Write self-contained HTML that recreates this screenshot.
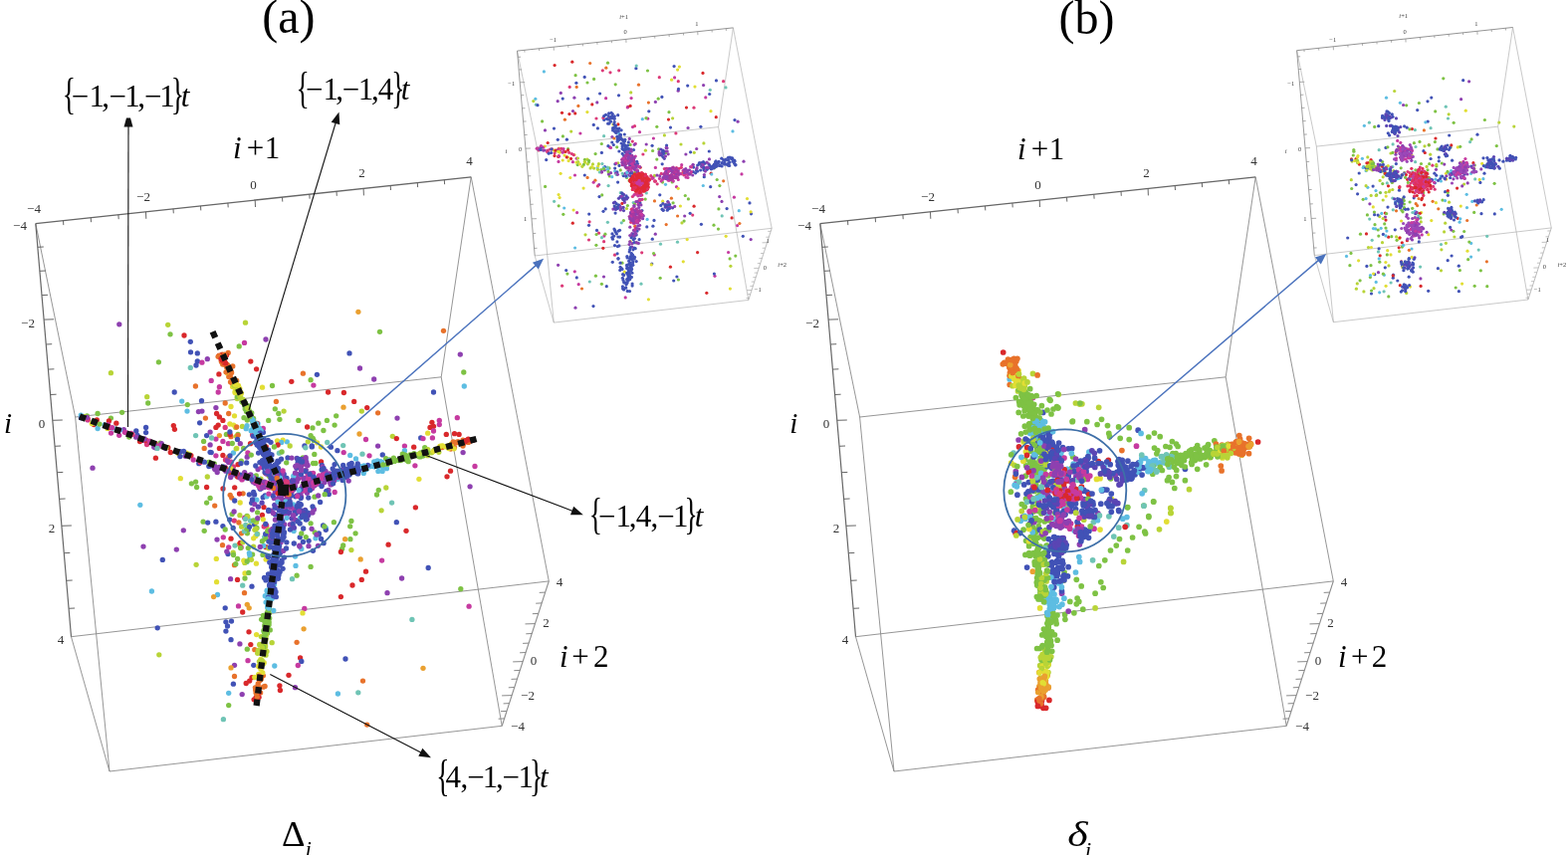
<!DOCTYPE html>
<html><head><meta charset="utf-8"><title>Figure</title>
<style>html,body{margin:0;padding:0;background:#fff;overflow:hidden}svg{display:block}</style>
</head><body>
<svg width="1575" height="859" viewBox="0 0 1575 859">
<rect width="1575" height="859" fill="#fff"/>
<line x1="35.8" y1="224.6" x2="75.6" y2="419" stroke="#8a8a8a" stroke-width="0.9"/>
<line x1="473.2" y1="177.8" x2="443.2" y2="378.8" stroke="#8a8a8a" stroke-width="0.9"/>
<line x1="473.2" y1="177.8" x2="551.3" y2="583.9" stroke="#8a8a8a" stroke-width="0.9"/>
<line x1="71.5" y1="639.7" x2="110" y2="775" stroke="#8a8a8a" stroke-width="0.9"/>
<line x1="71.5" y1="639.7" x2="551.3" y2="583.9" stroke="#8a8a8a" stroke-width="0.9"/>
<line x1="110" y1="775" x2="75.6" y2="419" stroke="#8a8a8a" stroke-width="0.9"/>
<line x1="110" y1="775" x2="504.2" y2="729.3" stroke="#8a8a8a" stroke-width="0.9"/>
<line x1="443.2" y1="378.8" x2="75.6" y2="419" stroke="#8a8a8a" stroke-width="0.9"/>
<line x1="443.2" y1="378.8" x2="504.2" y2="729.3" stroke="#8a8a8a" stroke-width="0.9"/>
<line x1="35.8" y1="224.6" x2="473.2" y2="177.8" stroke="#666" stroke-width="1.3"/>
<line x1="35.8" y1="224.6" x2="71.5" y2="639.7" stroke="#666" stroke-width="1.2"/>
<line x1="551.3" y1="583.9" x2="504.2" y2="729.3" stroke="#8a8a8a" stroke-width="1.1"/>
<line x1="63.5" y1="221.6" x2="63.8" y2="226.1" stroke="#666" stroke-width="1.0"/>
<line x1="91.2" y1="218.7" x2="91.5" y2="223.2" stroke="#666" stroke-width="1.0"/>
<line x1="118.9" y1="215.7" x2="119.2" y2="220.2" stroke="#666" stroke-width="1.0"/>
<line x1="146.5" y1="212.8" x2="146.8" y2="219.8" stroke="#666" stroke-width="1.0"/>
<line x1="174" y1="209.8" x2="174.3" y2="214.3" stroke="#666" stroke-width="1.0"/>
<line x1="201.5" y1="206.9" x2="201.8" y2="211.4" stroke="#666" stroke-width="1.0"/>
<line x1="228.9" y1="203.9" x2="229.2" y2="208.4" stroke="#666" stroke-width="1.0"/>
<line x1="256.2" y1="201" x2="256.5" y2="208" stroke="#666" stroke-width="1.0"/>
<line x1="283.5" y1="198.1" x2="283.8" y2="202.6" stroke="#666" stroke-width="1.0"/>
<line x1="310.8" y1="195.2" x2="311.1" y2="199.7" stroke="#666" stroke-width="1.0"/>
<line x1="338" y1="192.3" x2="338.3" y2="196.8" stroke="#666" stroke-width="1.0"/>
<line x1="365.1" y1="189.4" x2="365.4" y2="196.4" stroke="#666" stroke-width="1.0"/>
<line x1="392.2" y1="186.5" x2="392.5" y2="191" stroke="#666" stroke-width="1.0"/>
<line x1="419.3" y1="183.6" x2="419.6" y2="188.1" stroke="#666" stroke-width="1.0"/>
<line x1="446.3" y1="180.7" x2="446.6" y2="185.2" stroke="#666" stroke-width="1.0"/>
<line x1="37.8" y1="248.3" x2="43.8" y2="248" stroke="#666" stroke-width="1.0"/>
<line x1="39.9" y1="272.3" x2="45.9" y2="272" stroke="#666" stroke-width="1.0"/>
<line x1="42" y1="296.6" x2="48" y2="296.3" stroke="#666" stroke-width="1.0"/>
<line x1="44.1" y1="321.1" x2="54.1" y2="320.8" stroke="#666" stroke-width="1.0"/>
<line x1="46.2" y1="346" x2="52.2" y2="345.7" stroke="#666" stroke-width="1.0"/>
<line x1="48.4" y1="371.1" x2="54.4" y2="370.8" stroke="#666" stroke-width="1.0"/>
<line x1="50.6" y1="396.5" x2="56.6" y2="396.2" stroke="#666" stroke-width="1.0"/>
<line x1="52.8" y1="422.3" x2="62.8" y2="422" stroke="#666" stroke-width="1.0"/>
<line x1="55" y1="448.3" x2="61" y2="448" stroke="#666" stroke-width="1.0"/>
<line x1="57.3" y1="474.7" x2="63.3" y2="474.4" stroke="#666" stroke-width="1.0"/>
<line x1="59.6" y1="501.3" x2="65.6" y2="501" stroke="#666" stroke-width="1.0"/>
<line x1="61.9" y1="528.3" x2="71.9" y2="528" stroke="#666" stroke-width="1.0"/>
<line x1="64.3" y1="555.7" x2="70.3" y2="555.4" stroke="#666" stroke-width="1.0"/>
<line x1="66.7" y1="583.3" x2="72.7" y2="583" stroke="#666" stroke-width="1.0"/>
<line x1="69.1" y1="611.3" x2="75.1" y2="611" stroke="#666" stroke-width="1.0"/>
<line x1="506.6" y1="721.9" x2="500.6" y2="722.2" stroke="#8a8a8a" stroke-width="1.0"/>
<line x1="509" y1="714.4" x2="503" y2="714.7" stroke="#8a8a8a" stroke-width="1.0"/>
<line x1="511.6" y1="706.6" x2="505.6" y2="706.9" stroke="#8a8a8a" stroke-width="1.0"/>
<line x1="514.1" y1="698.6" x2="504.1" y2="698.9" stroke="#8a8a8a" stroke-width="1.0"/>
<line x1="516.8" y1="690.5" x2="510.8" y2="690.8" stroke="#8a8a8a" stroke-width="1.0"/>
<line x1="519.5" y1="682.1" x2="513.5" y2="682.4" stroke="#8a8a8a" stroke-width="1.0"/>
<line x1="522.3" y1="673.4" x2="516.3" y2="673.7" stroke="#8a8a8a" stroke-width="1.0"/>
<line x1="525.2" y1="664.6" x2="515.2" y2="664.9" stroke="#8a8a8a" stroke-width="1.0"/>
<line x1="528.1" y1="655.5" x2="522.1" y2="655.8" stroke="#8a8a8a" stroke-width="1.0"/>
<line x1="531.1" y1="646.1" x2="525.1" y2="646.4" stroke="#8a8a8a" stroke-width="1.0"/>
<line x1="534.3" y1="636.5" x2="528.3" y2="636.8" stroke="#8a8a8a" stroke-width="1.0"/>
<line x1="537.5" y1="626.6" x2="527.5" y2="626.9" stroke="#8a8a8a" stroke-width="1.0"/>
<line x1="540.8" y1="616.4" x2="534.8" y2="616.7" stroke="#8a8a8a" stroke-width="1.0"/>
<line x1="544.2" y1="605.9" x2="538.2" y2="606.2" stroke="#8a8a8a" stroke-width="1.0"/>
<line x1="547.7" y1="595.1" x2="541.7" y2="595.4" stroke="#8a8a8a" stroke-width="1.0"/>
<line x1="823.8" y1="224.6" x2="863.6" y2="419" stroke="#8a8a8a" stroke-width="0.9"/>
<line x1="1261.2" y1="177.8" x2="1231.2" y2="378.8" stroke="#8a8a8a" stroke-width="0.9"/>
<line x1="1261.2" y1="177.8" x2="1339.3" y2="583.9" stroke="#8a8a8a" stroke-width="0.9"/>
<line x1="859.5" y1="639.7" x2="898" y2="775" stroke="#8a8a8a" stroke-width="0.9"/>
<line x1="859.5" y1="639.7" x2="1339.3" y2="583.9" stroke="#8a8a8a" stroke-width="0.9"/>
<line x1="898" y1="775" x2="863.6" y2="419" stroke="#8a8a8a" stroke-width="0.9"/>
<line x1="898" y1="775" x2="1292.2" y2="729.3" stroke="#8a8a8a" stroke-width="0.9"/>
<line x1="1231.2" y1="378.8" x2="863.6" y2="419" stroke="#8a8a8a" stroke-width="0.9"/>
<line x1="1231.2" y1="378.8" x2="1292.2" y2="729.3" stroke="#8a8a8a" stroke-width="0.9"/>
<line x1="823.8" y1="224.6" x2="1261.2" y2="177.8" stroke="#666" stroke-width="1.3"/>
<line x1="823.8" y1="224.6" x2="859.5" y2="639.7" stroke="#666" stroke-width="1.2"/>
<line x1="1339.3" y1="583.9" x2="1292.2" y2="729.3" stroke="#8a8a8a" stroke-width="1.1"/>
<line x1="851.5" y1="221.6" x2="851.8" y2="226.1" stroke="#666" stroke-width="1.0"/>
<line x1="879.2" y1="218.7" x2="879.5" y2="223.2" stroke="#666" stroke-width="1.0"/>
<line x1="906.9" y1="215.7" x2="907.2" y2="220.2" stroke="#666" stroke-width="1.0"/>
<line x1="934.5" y1="212.8" x2="934.8" y2="219.8" stroke="#666" stroke-width="1.0"/>
<line x1="962" y1="209.8" x2="962.3" y2="214.3" stroke="#666" stroke-width="1.0"/>
<line x1="989.5" y1="206.9" x2="989.8" y2="211.4" stroke="#666" stroke-width="1.0"/>
<line x1="1016.9" y1="203.9" x2="1017.2" y2="208.4" stroke="#666" stroke-width="1.0"/>
<line x1="1044.2" y1="201" x2="1044.5" y2="208" stroke="#666" stroke-width="1.0"/>
<line x1="1071.5" y1="198.1" x2="1071.8" y2="202.6" stroke="#666" stroke-width="1.0"/>
<line x1="1098.8" y1="195.2" x2="1099.1" y2="199.7" stroke="#666" stroke-width="1.0"/>
<line x1="1126" y1="192.3" x2="1126.3" y2="196.8" stroke="#666" stroke-width="1.0"/>
<line x1="1153.1" y1="189.4" x2="1153.4" y2="196.4" stroke="#666" stroke-width="1.0"/>
<line x1="1180.2" y1="186.5" x2="1180.5" y2="191" stroke="#666" stroke-width="1.0"/>
<line x1="1207.3" y1="183.6" x2="1207.6" y2="188.1" stroke="#666" stroke-width="1.0"/>
<line x1="1234.3" y1="180.7" x2="1234.6" y2="185.2" stroke="#666" stroke-width="1.0"/>
<line x1="825.8" y1="248.3" x2="831.8" y2="248" stroke="#666" stroke-width="1.0"/>
<line x1="827.9" y1="272.3" x2="833.9" y2="272" stroke="#666" stroke-width="1.0"/>
<line x1="830" y1="296.6" x2="836" y2="296.3" stroke="#666" stroke-width="1.0"/>
<line x1="832.1" y1="321.1" x2="842.1" y2="320.8" stroke="#666" stroke-width="1.0"/>
<line x1="834.2" y1="346" x2="840.2" y2="345.7" stroke="#666" stroke-width="1.0"/>
<line x1="836.4" y1="371.1" x2="842.4" y2="370.8" stroke="#666" stroke-width="1.0"/>
<line x1="838.6" y1="396.5" x2="844.6" y2="396.2" stroke="#666" stroke-width="1.0"/>
<line x1="840.8" y1="422.3" x2="850.8" y2="422" stroke="#666" stroke-width="1.0"/>
<line x1="843" y1="448.3" x2="849" y2="448" stroke="#666" stroke-width="1.0"/>
<line x1="845.3" y1="474.7" x2="851.3" y2="474.4" stroke="#666" stroke-width="1.0"/>
<line x1="847.6" y1="501.3" x2="853.6" y2="501" stroke="#666" stroke-width="1.0"/>
<line x1="849.9" y1="528.3" x2="859.9" y2="528" stroke="#666" stroke-width="1.0"/>
<line x1="852.3" y1="555.7" x2="858.3" y2="555.4" stroke="#666" stroke-width="1.0"/>
<line x1="854.7" y1="583.3" x2="860.7" y2="583" stroke="#666" stroke-width="1.0"/>
<line x1="857.1" y1="611.3" x2="863.1" y2="611" stroke="#666" stroke-width="1.0"/>
<line x1="1294.6" y1="721.9" x2="1288.6" y2="722.2" stroke="#8a8a8a" stroke-width="1.0"/>
<line x1="1297" y1="714.4" x2="1291" y2="714.7" stroke="#8a8a8a" stroke-width="1.0"/>
<line x1="1299.6" y1="706.6" x2="1293.6" y2="706.9" stroke="#8a8a8a" stroke-width="1.0"/>
<line x1="1302.1" y1="698.6" x2="1292.1" y2="698.9" stroke="#8a8a8a" stroke-width="1.0"/>
<line x1="1304.8" y1="690.5" x2="1298.8" y2="690.8" stroke="#8a8a8a" stroke-width="1.0"/>
<line x1="1307.5" y1="682.1" x2="1301.5" y2="682.4" stroke="#8a8a8a" stroke-width="1.0"/>
<line x1="1310.3" y1="673.4" x2="1304.3" y2="673.7" stroke="#8a8a8a" stroke-width="1.0"/>
<line x1="1313.2" y1="664.6" x2="1303.2" y2="664.9" stroke="#8a8a8a" stroke-width="1.0"/>
<line x1="1316.1" y1="655.5" x2="1310.1" y2="655.8" stroke="#8a8a8a" stroke-width="1.0"/>
<line x1="1319.1" y1="646.1" x2="1313.1" y2="646.4" stroke="#8a8a8a" stroke-width="1.0"/>
<line x1="1322.3" y1="636.5" x2="1316.3" y2="636.8" stroke="#8a8a8a" stroke-width="1.0"/>
<line x1="1325.5" y1="626.6" x2="1315.5" y2="626.9" stroke="#8a8a8a" stroke-width="1.0"/>
<line x1="1328.8" y1="616.4" x2="1322.8" y2="616.7" stroke="#8a8a8a" stroke-width="1.0"/>
<line x1="1332.2" y1="605.9" x2="1326.2" y2="606.2" stroke="#8a8a8a" stroke-width="1.0"/>
<line x1="1335.7" y1="595.1" x2="1329.7" y2="595.4" stroke="#8a8a8a" stroke-width="1.0"/>
<text x="34" y="214" font-size="13" text-anchor="middle" fill="#333" font-family="Liberation Serif, serif">&#8722;4</text>
<text x="144" y="202" font-size="13" text-anchor="middle" fill="#333" font-family="Liberation Serif, serif">&#8722;2</text>
<text x="254.5" y="190" font-size="13" text-anchor="middle" fill="#333" font-family="Liberation Serif, serif">0</text>
<text x="363.5" y="178" font-size="13" text-anchor="middle" fill="#333" font-family="Liberation Serif, serif">2</text>
<text x="471.5" y="166" font-size="13" text-anchor="middle" fill="#333" font-family="Liberation Serif, serif">4</text>
<text x="20" y="231" font-size="13" text-anchor="middle" fill="#333" font-family="Liberation Serif, serif">&#8722;4</text>
<text x="28" y="328.5" font-size="13" text-anchor="middle" fill="#333" font-family="Liberation Serif, serif">&#8722;2</text>
<text x="42" y="429.5" font-size="13" text-anchor="middle" fill="#333" font-family="Liberation Serif, serif">0</text>
<text x="52" y="535" font-size="13" text-anchor="middle" fill="#333" font-family="Liberation Serif, serif">2</text>
<text x="61" y="647" font-size="13" text-anchor="middle" fill="#333" font-family="Liberation Serif, serif">4</text>
<text x="562" y="588.5" font-size="13" text-anchor="middle" fill="#333" font-family="Liberation Serif, serif">4</text>
<text x="548.5" y="630" font-size="13" text-anchor="middle" fill="#333" font-family="Liberation Serif, serif">2</text>
<text x="536" y="667.5" font-size="13" text-anchor="middle" fill="#333" font-family="Liberation Serif, serif">0</text>
<text x="530" y="703" font-size="13" text-anchor="middle" fill="#333" font-family="Liberation Serif, serif">&#8722;2</text>
<text x="520" y="733.5" font-size="13" text-anchor="middle" fill="#333" font-family="Liberation Serif, serif">&#8722;4</text>
<text x="822" y="214" font-size="13" text-anchor="middle" fill="#333" font-family="Liberation Serif, serif">&#8722;4</text>
<text x="932" y="202" font-size="13" text-anchor="middle" fill="#333" font-family="Liberation Serif, serif">&#8722;2</text>
<text x="1042.5" y="190" font-size="13" text-anchor="middle" fill="#333" font-family="Liberation Serif, serif">0</text>
<text x="1151.5" y="178" font-size="13" text-anchor="middle" fill="#333" font-family="Liberation Serif, serif">2</text>
<text x="1259.5" y="166" font-size="13" text-anchor="middle" fill="#333" font-family="Liberation Serif, serif">4</text>
<text x="808" y="231" font-size="13" text-anchor="middle" fill="#333" font-family="Liberation Serif, serif">&#8722;4</text>
<text x="816" y="328.5" font-size="13" text-anchor="middle" fill="#333" font-family="Liberation Serif, serif">&#8722;2</text>
<text x="830" y="429.5" font-size="13" text-anchor="middle" fill="#333" font-family="Liberation Serif, serif">0</text>
<text x="840" y="535" font-size="13" text-anchor="middle" fill="#333" font-family="Liberation Serif, serif">2</text>
<text x="849" y="647" font-size="13" text-anchor="middle" fill="#333" font-family="Liberation Serif, serif">4</text>
<text x="1350" y="588.5" font-size="13" text-anchor="middle" fill="#333" font-family="Liberation Serif, serif">4</text>
<text x="1336.5" y="630" font-size="13" text-anchor="middle" fill="#333" font-family="Liberation Serif, serif">2</text>
<text x="1324" y="667.5" font-size="13" text-anchor="middle" fill="#333" font-family="Liberation Serif, serif">0</text>
<text x="1318" y="703" font-size="13" text-anchor="middle" fill="#333" font-family="Liberation Serif, serif">&#8722;2</text>
<text x="1308" y="733.5" font-size="13" text-anchor="middle" fill="#333" font-family="Liberation Serif, serif">&#8722;4</text>
<circle cx="119.8" cy="325.8" r="2.65" fill="#8e40b0"/>
<circle cx="168.7" cy="326.3" r="2.65" fill="#b8d437"/>
<circle cx="171" cy="335.8" r="2.65" fill="#7ec244"/>
<circle cx="185" cy="337" r="2.65" fill="#d9282b"/>
<circle cx="191.3" cy="343.3" r="2.65" fill="#4152b6"/>
<circle cx="191.5" cy="353.8" r="2.65" fill="#4152b6"/>
<circle cx="198.3" cy="354.9" r="2.65" fill="#4152b6"/>
<circle cx="208.3" cy="360.7" r="2.65" fill="#8e40b0"/>
<circle cx="198.3" cy="363" r="2.65" fill="#4152b6"/>
<circle cx="202.9" cy="364.2" r="2.65" fill="#c63aa0"/>
<circle cx="197" cy="367" r="2.65" fill="#4152b6"/>
<circle cx="191.3" cy="369.4" r="2.65" fill="#6fc4b5"/>
<circle cx="159.4" cy="363.8" r="2.65" fill="#7ec244"/>
<circle cx="111.4" cy="374.7" r="2.65" fill="#b8d437"/>
<circle cx="246.5" cy="324.2" r="2.65" fill="#b8d437"/>
<circle cx="245.5" cy="344.4" r="2.65" fill="#c63aa0"/>
<circle cx="240.2" cy="347.9" r="2.65" fill="#7ec244"/>
<circle cx="267" cy="341" r="2.65" fill="#8e40b0"/>
<circle cx="251.8" cy="363.1" r="2.65" fill="#d9282b"/>
<circle cx="257.6" cy="370.8" r="2.65" fill="#d9282b"/>
<circle cx="196.4" cy="388" r="2.65" fill="#e8722b"/>
<circle cx="175.2" cy="394" r="2.65" fill="#4152b6"/>
<circle cx="263.5" cy="389.2" r="2.65" fill="#e2de34"/>
<circle cx="273.5" cy="387.5" r="2.65" fill="#7ec244"/>
<circle cx="147.7" cy="398.7" r="2.65" fill="#b8d437"/>
<circle cx="148.7" cy="405" r="2.65" fill="#7ec244"/>
<circle cx="182.7" cy="403.1" r="2.65" fill="#5dbde2"/>
<circle cx="202.5" cy="402.7" r="2.65" fill="#4152b6"/>
<circle cx="188.3" cy="406.6" r="2.65" fill="#7ec244"/>
<circle cx="188" cy="413.1" r="2.65" fill="#5dbde2"/>
<circle cx="199.4" cy="413.6" r="2.65" fill="#8e40b0"/>
<circle cx="202.9" cy="413.1" r="2.65" fill="#8e40b0"/>
<circle cx="206.4" cy="420.1" r="2.65" fill="#e8722b"/>
<circle cx="200.6" cy="424.8" r="2.65" fill="#4152b6"/>
<circle cx="174.3" cy="427.6" r="2.65" fill="#d9282b"/>
<circle cx="175.4" cy="431.3" r="2.65" fill="#d9282b"/>
<circle cx="98.1" cy="415.5" r="2.65" fill="#7ec244"/>
<circle cx="111.4" cy="420.1" r="2.65" fill="#7ec244"/>
<circle cx="122.6" cy="414.3" r="2.65" fill="#7ec244"/>
<circle cx="116.8" cy="425.2" r="2.65" fill="#d9282b"/>
<circle cx="146.6" cy="429.4" r="2.65" fill="#4152b6"/>
<circle cx="146.6" cy="434.6" r="2.65" fill="#4152b6"/>
<circle cx="196.6" cy="437.6" r="2.65" fill="#6fc4b5"/>
<circle cx="207.6" cy="437.6" r="2.65" fill="#4152b6"/>
<circle cx="204.6" cy="443.4" r="2.65" fill="#7ec244"/>
<circle cx="205.2" cy="450.4" r="2.65" fill="#e8722b"/>
<circle cx="211.1" cy="454.3" r="2.65" fill="#4152b6"/>
<circle cx="156.4" cy="460.2" r="2.65" fill="#d9282b"/>
<circle cx="93" cy="470.2" r="2.65" fill="#8e40b0"/>
<circle cx="181.3" cy="480.7" r="2.65" fill="#e2de34"/>
<circle cx="192.4" cy="485.8" r="2.65" fill="#7ec244"/>
<circle cx="196.6" cy="484.1" r="2.65" fill="#7ec244"/>
<circle cx="197.6" cy="489.5" r="2.65" fill="#7ec244"/>
<circle cx="208.3" cy="479" r="2.65" fill="#b8d437"/>
<circle cx="207.6" cy="489.5" r="2.65" fill="#d9282b"/>
<circle cx="211.1" cy="500.4" r="2.65" fill="#7ec244"/>
<circle cx="207.6" cy="505.1" r="2.65" fill="#7ec244"/>
<circle cx="215.7" cy="508.1" r="2.65" fill="#e8722b"/>
<circle cx="140.8" cy="507.4" r="2.65" fill="#5dbde2"/>
<circle cx="277.4" cy="403.4" r="2.65" fill="#e8722b"/>
<circle cx="276.3" cy="410.8" r="2.65" fill="#7ec244"/>
<circle cx="279.8" cy="415.5" r="2.65" fill="#7ec244"/>
<circle cx="285.1" cy="413.1" r="2.65" fill="#b8d437"/>
<circle cx="269.7" cy="422.4" r="2.65" fill="#7ec244"/>
<circle cx="280.9" cy="421.3" r="2.65" fill="#7ec244"/>
<circle cx="212.2" cy="382.4" r="2.65" fill="#c63aa0"/>
<circle cx="219.9" cy="375.9" r="2.65" fill="#d9282b"/>
<circle cx="220.4" cy="388.7" r="2.65" fill="#c63aa0"/>
<circle cx="219.2" cy="394" r="2.65" fill="#c63aa0"/>
<circle cx="216.9" cy="409.6" r="2.65" fill="#8e40b0"/>
<circle cx="217.6" cy="415.5" r="2.65" fill="#d9282b"/>
<circle cx="220.4" cy="418.9" r="2.65" fill="#d9282b"/>
<circle cx="223.9" cy="422.4" r="2.65" fill="#d9282b"/>
<circle cx="219.2" cy="427.1" r="2.65" fill="#d9282b"/>
<circle cx="216.9" cy="429.4" r="2.65" fill="#d9282b"/>
<circle cx="226.2" cy="429.4" r="2.65" fill="#dc3a78"/>
<circle cx="211.1" cy="434.1" r="2.65" fill="#8e40b0"/>
<circle cx="220.4" cy="437.6" r="2.65" fill="#eaa030"/>
<circle cx="216.9" cy="441.1" r="2.65" fill="#c63aa0"/>
<circle cx="223.9" cy="443.4" r="2.65" fill="#c63aa0"/>
<circle cx="212.6" cy="440" r="2.65" fill="#6fc4b5"/>
<circle cx="211.1" cy="446.9" r="2.65" fill="#8e40b0"/>
<circle cx="220.4" cy="450.4" r="2.65" fill="#d9282b"/>
<circle cx="212.2" cy="454.6" r="2.65" fill="#4152b6"/>
<circle cx="216.9" cy="457.8" r="2.65" fill="#c63aa0"/>
<circle cx="223.9" cy="457.4" r="2.65" fill="#d9282b"/>
<circle cx="229.7" cy="459.2" r="2.65" fill="#e8722b"/>
<circle cx="226.5" cy="462" r="2.65" fill="#dc3a78"/>
<circle cx="229.7" cy="464.4" r="2.65" fill="#8e40b0"/>
<circle cx="234.4" cy="469" r="2.65" fill="#dc3a78"/>
<circle cx="239" cy="466.7" r="2.65" fill="#d9282b"/>
<circle cx="226.2" cy="405" r="2.65" fill="#e8722b"/>
<circle cx="232" cy="408.5" r="2.65" fill="#e2de34"/>
<circle cx="229.7" cy="415.5" r="2.65" fill="#e8722b"/>
<circle cx="235.5" cy="417.8" r="2.65" fill="#e2de34"/>
<circle cx="230.9" cy="426" r="2.65" fill="#e2de34"/>
<circle cx="227.4" cy="436.4" r="2.65" fill="#7ec244"/>
<circle cx="232" cy="438.7" r="2.65" fill="#e8722b"/>
<circle cx="236.7" cy="429.4" r="2.65" fill="#b8d437"/>
<circle cx="239" cy="436.4" r="2.65" fill="#7ec244"/>
<circle cx="241.3" cy="445.7" r="2.65" fill="#8e40b0"/>
<circle cx="237.8" cy="450.4" r="2.65" fill="#e2de34"/>
<circle cx="234.4" cy="455" r="2.65" fill="#5dbde2"/>
<circle cx="381.5" cy="333.3" r="2.65" fill="#7ec244"/>
<circle cx="445.5" cy="332.3" r="2.65" fill="#e8722b"/>
<circle cx="351" cy="354.9" r="2.65" fill="#4152b6"/>
<circle cx="462.3" cy="356.1" r="2.65" fill="#8e40b0"/>
<circle cx="361.5" cy="370" r="2.65" fill="#8e40b0"/>
<circle cx="465.8" cy="374" r="2.65" fill="#7ec244"/>
<circle cx="304.4" cy="375.2" r="2.65" fill="#e8722b"/>
<circle cx="318.4" cy="376.3" r="2.65" fill="#4152b6"/>
<circle cx="312.1" cy="381.7" r="2.65" fill="#7ec244"/>
<circle cx="292.8" cy="383.3" r="2.65" fill="#d9282b"/>
<circle cx="314.9" cy="387.1" r="2.65" fill="#c63aa0"/>
<circle cx="375.7" cy="381" r="2.65" fill="#8e40b0"/>
<circle cx="466.3" cy="388" r="2.65" fill="#5dbde2"/>
<circle cx="435.5" cy="394" r="2.65" fill="#4152b6"/>
<circle cx="329.6" cy="394" r="2.65" fill="#d9282b"/>
<circle cx="345.4" cy="394.5" r="2.65" fill="#d9282b"/>
<circle cx="355.7" cy="403.4" r="2.65" fill="#d9282b"/>
<circle cx="345" cy="409.2" r="2.65" fill="#eaa030"/>
<circle cx="368.7" cy="409.6" r="2.65" fill="#d9282b"/>
<circle cx="363.3" cy="413.1" r="2.65" fill="#b8d437"/>
<circle cx="379.6" cy="414.8" r="2.65" fill="#e8722b"/>
<circle cx="399" cy="420.1" r="2.65" fill="#8e40b0"/>
<circle cx="459.3" cy="419.7" r="2.65" fill="#c63aa0"/>
<circle cx="337.7" cy="417.8" r="2.65" fill="#7ec244"/>
<circle cx="299.8" cy="422.4" r="2.65" fill="#7ec244"/>
<circle cx="328.4" cy="422.4" r="2.65" fill="#7ec244"/>
<circle cx="319.8" cy="425.2" r="2.65" fill="#7ec244"/>
<circle cx="336.1" cy="427.1" r="2.65" fill="#7ec244"/>
<circle cx="308.6" cy="429" r="2.65" fill="#d9282b"/>
<circle cx="314" cy="429.9" r="2.65" fill="#7ec244"/>
<circle cx="324.9" cy="432.5" r="2.65" fill="#7ec244"/>
<circle cx="433.9" cy="424.3" r="2.65" fill="#d9282b"/>
<circle cx="435.5" cy="428.3" r="2.65" fill="#d9282b"/>
<circle cx="432" cy="429.4" r="2.65" fill="#d9282b"/>
<circle cx="441.3" cy="422.4" r="2.65" fill="#c63aa0"/>
<circle cx="441.3" cy="426.6" r="2.65" fill="#c63aa0"/>
<circle cx="429.7" cy="435.2" r="2.65" fill="#e2de34"/>
<circle cx="435.5" cy="433" r="2.65" fill="#c63aa0"/>
<circle cx="361" cy="436" r="2.65" fill="#eaa030"/>
<circle cx="312.1" cy="437.6" r="2.65" fill="#7ec244"/>
<circle cx="367.5" cy="441.5" r="2.65" fill="#c63aa0"/>
<circle cx="394.3" cy="438.3" r="2.65" fill="#b8d437"/>
<circle cx="398.3" cy="440.6" r="2.65" fill="#d9282b"/>
<circle cx="422.7" cy="439.9" r="2.65" fill="#4152b6"/>
<circle cx="425" cy="440.6" r="2.65" fill="#c63aa0"/>
<circle cx="448.3" cy="436.4" r="2.65" fill="#d9282b"/>
<circle cx="456.5" cy="435.7" r="2.65" fill="#d9282b"/>
<circle cx="461.1" cy="436.4" r="2.65" fill="#d9282b"/>
<circle cx="434.4" cy="439.9" r="2.65" fill="#c63aa0"/>
<circle cx="344.7" cy="447.6" r="2.65" fill="#6fc4b5"/>
<circle cx="379.6" cy="448.1" r="2.65" fill="#8e40b0"/>
<circle cx="406.4" cy="448.1" r="2.65" fill="#c63aa0"/>
<circle cx="415.7" cy="449.2" r="2.65" fill="#d9282b"/>
<circle cx="332.4" cy="449.2" r="2.65" fill="#4152b6"/>
<circle cx="338.9" cy="452.7" r="2.65" fill="#4152b6"/>
<circle cx="345.2" cy="454.6" r="2.65" fill="#c63aa0"/>
<circle cx="351.7" cy="457.4" r="2.65" fill="#5dbde2"/>
<circle cx="357.5" cy="460.9" r="2.65" fill="#5dbde2"/>
<circle cx="364" cy="456.2" r="2.65" fill="#6fc4b5"/>
<circle cx="371" cy="457.8" r="2.65" fill="#c63aa0"/>
<circle cx="384.3" cy="456.9" r="2.65" fill="#4152b6"/>
<circle cx="406.4" cy="452.7" r="2.65" fill="#5dbde2"/>
<circle cx="465.1" cy="454.6" r="2.65" fill="#8e40b0"/>
<circle cx="477" cy="468.5" r="2.65" fill="#c63aa0"/>
<circle cx="416.9" cy="467.8" r="2.65" fill="#c63aa0"/>
<circle cx="452.5" cy="473.2" r="2.65" fill="#d9282b"/>
<circle cx="449" cy="478.8" r="2.65" fill="#d9282b"/>
<circle cx="420.9" cy="481.3" r="2.65" fill="#e2de34"/>
<circle cx="472.1" cy="488.8" r="2.65" fill="#8e40b0"/>
<circle cx="387.8" cy="490" r="2.65" fill="#b8d437"/>
<circle cx="380.3" cy="492.3" r="2.65" fill="#7ec244"/>
<circle cx="378.5" cy="497" r="2.65" fill="#7ec244"/>
<circle cx="393.6" cy="505.1" r="2.65" fill="#6fc4b5"/>
<circle cx="383.1" cy="512.8" r="2.65" fill="#b8d437"/>
<circle cx="417.4" cy="509.8" r="2.65" fill="#d9282b"/>
<circle cx="359.9" cy="313.3" r="2.65" fill="#eaa030"/>
<circle cx="184.3" cy="532.8" r="2.65" fill="#8e40b0"/>
<circle cx="144" cy="549.1" r="2.65" fill="#8e40b0"/>
<circle cx="177.3" cy="552.1" r="2.65" fill="#8e40b0"/>
<circle cx="163.3" cy="562.4" r="2.65" fill="#4152b6"/>
<circle cx="197.1" cy="567.3" r="2.65" fill="#b8d437"/>
<circle cx="152.4" cy="594" r="2.65" fill="#5dbde2"/>
<circle cx="158.2" cy="630.8" r="2.65" fill="#4152b6"/>
<circle cx="159.8" cy="657.8" r="2.65" fill="#b8d437"/>
<circle cx="204.1" cy="524.2" r="2.65" fill="#7ec244"/>
<circle cx="208.7" cy="525.1" r="2.65" fill="#4152b6"/>
<circle cx="216.9" cy="524.2" r="2.65" fill="#4152b6"/>
<circle cx="205.2" cy="533.3" r="2.65" fill="#7ec244"/>
<circle cx="218" cy="542.1" r="2.65" fill="#8e40b0"/>
<circle cx="224.3" cy="539.8" r="2.65" fill="#c63aa0"/>
<circle cx="229.7" cy="549.8" r="2.65" fill="#c63aa0"/>
<circle cx="229" cy="556.6" r="2.65" fill="#4152b6"/>
<circle cx="235.5" cy="567.7" r="2.65" fill="#e8722b"/>
<circle cx="240.2" cy="546.8" r="2.65" fill="#eaa030"/>
<circle cx="242.5" cy="535.8" r="2.65" fill="#e8722b"/>
<circle cx="217.6" cy="584.7" r="2.65" fill="#e2de34"/>
<circle cx="218.5" cy="597.5" r="2.65" fill="#5dbde2"/>
<circle cx="214.6" cy="599.6" r="2.65" fill="#eaa030"/>
<circle cx="231.6" cy="581.7" r="2.65" fill="#8e40b0"/>
<circle cx="238.5" cy="582.4" r="2.65" fill="#d9282b"/>
<circle cx="246" cy="581" r="2.65" fill="#7ec244"/>
<circle cx="243.7" cy="588.2" r="2.65" fill="#6fc4b5"/>
<circle cx="253" cy="589.2" r="2.65" fill="#4152b6"/>
<circle cx="245.5" cy="595.7" r="2.65" fill="#e8722b"/>
<circle cx="226.2" cy="610.8" r="2.65" fill="#4152b6"/>
<circle cx="239.5" cy="608.9" r="2.65" fill="#c63aa0"/>
<circle cx="243.7" cy="615" r="2.65" fill="#d9282b"/>
<circle cx="248.3" cy="607.3" r="2.65" fill="#eaa030"/>
<circle cx="250.2" cy="610.8" r="2.65" fill="#eaa030"/>
<circle cx="226.9" cy="624.8" r="2.65" fill="#4152b6"/>
<circle cx="228.5" cy="629" r="2.65" fill="#4152b6"/>
<circle cx="232.5" cy="624.1" r="2.65" fill="#4152b6"/>
<circle cx="226.9" cy="634.1" r="2.65" fill="#4152b6"/>
<circle cx="232" cy="642.7" r="2.65" fill="#4152b6"/>
<circle cx="240.9" cy="646.9" r="2.65" fill="#8e40b0"/>
<circle cx="250" cy="634.8" r="2.65" fill="#d9282b"/>
<circle cx="251.8" cy="647.6" r="2.65" fill="#d9282b"/>
<circle cx="248.3" cy="652.2" r="2.65" fill="#7ec244"/>
<circle cx="255.8" cy="652.7" r="2.65" fill="#e8722b"/>
<circle cx="249" cy="663.7" r="2.65" fill="#c63aa0"/>
<circle cx="235.5" cy="668.3" r="2.65" fill="#8e40b0"/>
<circle cx="232" cy="670.9" r="2.65" fill="#eaa030"/>
<circle cx="254.8" cy="668.3" r="2.65" fill="#4152b6"/>
<circle cx="235.5" cy="679.5" r="2.65" fill="#e8722b"/>
<circle cx="253" cy="680.7" r="2.65" fill="#d9282b"/>
<circle cx="250.7" cy="684.1" r="2.65" fill="#d9282b"/>
<circle cx="247.2" cy="686.5" r="2.65" fill="#d9282b"/>
<circle cx="234.4" cy="687.2" r="2.65" fill="#4152b6"/>
<circle cx="229.7" cy="696.3" r="2.65" fill="#5dbde2"/>
<circle cx="243.2" cy="697.6" r="2.65" fill="#8e40b0"/>
<circle cx="229.7" cy="708.6" r="2.65" fill="#7ec244"/>
<circle cx="275.8" cy="669" r="2.65" fill="#5dbde2"/>
<circle cx="280.9" cy="688.8" r="2.65" fill="#d9282b"/>
<circle cx="281.4" cy="693.5" r="2.65" fill="#d9282b"/>
<circle cx="273.2" cy="645.7" r="2.65" fill="#b8d437"/>
<circle cx="257.6" cy="637.6" r="2.65" fill="#e2de34"/>
<circle cx="224.4" cy="722.7" r="2.65" fill="#6fc4b5"/>
<circle cx="398.3" cy="524.7" r="2.65" fill="#4152b6"/>
<circle cx="408" cy="533.3" r="2.65" fill="#d9282b"/>
<circle cx="390.1" cy="547.2" r="2.65" fill="#d9282b"/>
<circle cx="335.4" cy="524.7" r="2.65" fill="#7ec244"/>
<circle cx="352.9" cy="523.5" r="2.65" fill="#7ec244"/>
<circle cx="351.7" cy="528.8" r="2.65" fill="#7ec244"/>
<circle cx="357.1" cy="535.8" r="2.65" fill="#7ec244"/>
<circle cx="346.6" cy="541.7" r="2.65" fill="#eaa030"/>
<circle cx="351.9" cy="541.7" r="2.65" fill="#7ec244"/>
<circle cx="344.7" cy="547.9" r="2.65" fill="#7ec244"/>
<circle cx="343.6" cy="551.4" r="2.65" fill="#7ec244"/>
<circle cx="342.4" cy="554.5" r="2.65" fill="#d9282b"/>
<circle cx="352.9" cy="552.6" r="2.65" fill="#b8d437"/>
<circle cx="362.2" cy="561.9" r="2.65" fill="#eaa030"/>
<circle cx="383.6" cy="563.1" r="2.65" fill="#c63aa0"/>
<circle cx="430.2" cy="570.5" r="2.65" fill="#4152b6"/>
<circle cx="367.5" cy="574.2" r="2.65" fill="#d9282b"/>
<circle cx="363.3" cy="582.4" r="2.65" fill="#d9282b"/>
<circle cx="354" cy="588" r="2.65" fill="#d9282b"/>
<circle cx="403.6" cy="581" r="2.65" fill="#8e40b0"/>
<circle cx="389" cy="595.7" r="2.65" fill="#8e40b0"/>
<circle cx="342.4" cy="599.6" r="2.65" fill="#d9282b"/>
<circle cx="462.8" cy="591.7" r="2.65" fill="#7ec244"/>
<circle cx="471.1" cy="609.2" r="2.65" fill="#c63aa0"/>
<circle cx="413.9" cy="622.4" r="2.65" fill="#6fc4b5"/>
<circle cx="305.8" cy="611.5" r="2.65" fill="#c63aa0"/>
<circle cx="304" cy="615.9" r="2.65" fill="#e2de34"/>
<circle cx="305.1" cy="631.8" r="2.65" fill="#eaa030"/>
<circle cx="298.1" cy="645.3" r="2.65" fill="#e8722b"/>
<circle cx="301.6" cy="660.9" r="2.65" fill="#d9282b"/>
<circle cx="302.8" cy="664.4" r="2.65" fill="#4152b6"/>
<circle cx="299.3" cy="668.5" r="2.65" fill="#c63aa0"/>
<circle cx="347" cy="662" r="2.65" fill="#4152b6"/>
<circle cx="425" cy="671.3" r="2.65" fill="#eaa030"/>
<circle cx="364.5" cy="684.1" r="2.65" fill="#e8722b"/>
<circle cx="339.4" cy="697" r="2.65" fill="#5dbde2"/>
<circle cx="359.8" cy="695.8" r="2.65" fill="#6fc4b5"/>
<circle cx="296.5" cy="690.7" r="2.65" fill="#8e40b0"/>
<circle cx="290" cy="678.3" r="2.65" fill="#d9282b"/>
<circle cx="368.7" cy="728.1" r="2.65" fill="#e8722b"/>
<circle cx="312.1" cy="525.8" r="2.65" fill="#7ec244"/>
<circle cx="320.3" cy="535.8" r="2.65" fill="#4152b6"/>
<circle cx="327.3" cy="530.5" r="2.65" fill="#5dbde2"/>
<circle cx="301.2" cy="539.8" r="2.65" fill="#4152b6"/>
<circle cx="304.4" cy="544.4" r="2.65" fill="#4152b6"/>
<circle cx="302.8" cy="551.4" r="2.65" fill="#5dbde2"/>
<circle cx="314.4" cy="553.3" r="2.65" fill="#4152b6"/>
<circle cx="296.5" cy="559.1" r="2.65" fill="#5dbde2"/>
<circle cx="297" cy="568.4" r="2.65" fill="#5dbde2"/>
<circle cx="312.1" cy="569.4" r="2.65" fill="#7ec244"/>
<circle cx="298.1" cy="578.2" r="2.65" fill="#7ec244"/>
<circle cx="293.5" cy="581.7" r="2.65" fill="#6fc4b5"/>
<circle cx="253.6" cy="436.7" r="2.65" fill="#dc3a78"/>
<circle cx="268.7" cy="453" r="2.65" fill="#4152b6"/>
<circle cx="237.4" cy="438.3" r="2.65" fill="#b8d437"/>
<circle cx="258.5" cy="437.7" r="2.65" fill="#dc3a78"/>
<circle cx="231.1" cy="436.6" r="2.65" fill="#d9282b"/>
<circle cx="261.9" cy="447" r="2.65" fill="#6fc4b5"/>
<circle cx="242.3" cy="463.2" r="2.65" fill="#7ec244"/>
<circle cx="237.2" cy="450.8" r="2.65" fill="#b8d437"/>
<circle cx="232.9" cy="474.4" r="2.65" fill="#4152b6"/>
<circle cx="257.3" cy="477.9" r="2.65" fill="#7ec244"/>
<circle cx="244.7" cy="450.4" r="2.65" fill="#7ec244"/>
<circle cx="257.4" cy="425.4" r="2.65" fill="#7ec244"/>
<circle cx="251.5" cy="445.7" r="2.65" fill="#d9282b"/>
<circle cx="259" cy="425.6" r="2.65" fill="#5dbde2"/>
<circle cx="234.7" cy="427.1" r="2.65" fill="#e2de34"/>
<circle cx="230.9" cy="434" r="2.65" fill="#4152b6"/>
<circle cx="260" cy="446.8" r="2.65" fill="#4152b6"/>
<circle cx="248.9" cy="454.9" r="2.65" fill="#c63aa0"/>
<circle cx="241.7" cy="477.2" r="2.65" fill="#4152b6"/>
<circle cx="258.1" cy="425.4" r="2.65" fill="#d9282b"/>
<circle cx="229.4" cy="445.7" r="2.65" fill="#c63aa0"/>
<circle cx="266.5" cy="475.3" r="2.65" fill="#e8722b"/>
<circle cx="259.1" cy="471.5" r="2.65" fill="#8e40b0"/>
<circle cx="262.9" cy="433.4" r="2.65" fill="#e2de34"/>
<circle cx="262.9" cy="469.3" r="2.65" fill="#c63aa0"/>
<circle cx="247.6" cy="478.4" r="2.65" fill="#e8722b"/>
<circle cx="270.1" cy="478.1" r="2.65" fill="#7ec244"/>
<circle cx="231" cy="457.9" r="2.65" fill="#4152b6"/>
<circle cx="243.4" cy="428.4" r="2.65" fill="#b8d437"/>
<circle cx="264.3" cy="430.4" r="2.65" fill="#c63aa0"/>
<circle cx="239" cy="437.3" r="2.65" fill="#e8722b"/>
<circle cx="271.2" cy="479.1" r="2.65" fill="#b8d437"/>
<circle cx="232.2" cy="464.2" r="2.65" fill="#c63aa0"/>
<circle cx="228.5" cy="463" r="2.65" fill="#8e40b0"/>
<circle cx="248.2" cy="459.2" r="2.65" fill="#8e40b0"/>
<circle cx="238.5" cy="441.4" r="2.65" fill="#4152b6"/>
<circle cx="252.3" cy="457.1" r="2.65" fill="#7ec244"/>
<circle cx="269.2" cy="442.3" r="2.65" fill="#4152b6"/>
<circle cx="267.3" cy="449" r="2.65" fill="#d9282b"/>
<circle cx="237.7" cy="429" r="2.65" fill="#e8722b"/>
<circle cx="233.3" cy="445.5" r="2.65" fill="#7ec244"/>
<circle cx="247.7" cy="464.9" r="2.65" fill="#4152b6"/>
<circle cx="258.2" cy="446.9" r="2.65" fill="#4152b6"/>
<circle cx="252.2" cy="432.7" r="2.65" fill="#5dbde2"/>
<circle cx="242" cy="465.6" r="2.65" fill="#4152b6"/>
<circle cx="233.1" cy="516.6" r="2.65" fill="#7ec244"/>
<circle cx="235.7" cy="489.8" r="2.65" fill="#d9282b"/>
<circle cx="267.7" cy="537.3" r="2.65" fill="#7ec244"/>
<circle cx="252.7" cy="505.3" r="2.65" fill="#4152b6"/>
<circle cx="265.7" cy="539.6" r="2.65" fill="#6fc4b5"/>
<circle cx="267.2" cy="549.7" r="2.65" fill="#d9282b"/>
<circle cx="240.9" cy="517.7" r="2.65" fill="#b8d437"/>
<circle cx="250.4" cy="496.8" r="2.65" fill="#4152b6"/>
<circle cx="261.5" cy="491.2" r="2.65" fill="#4152b6"/>
<circle cx="234.2" cy="530.4" r="2.65" fill="#4152b6"/>
<circle cx="266.9" cy="541.3" r="2.65" fill="#7ec244"/>
<circle cx="255.6" cy="497" r="2.65" fill="#4152b6"/>
<circle cx="241.2" cy="505" r="2.65" fill="#e2de34"/>
<circle cx="232" cy="541.2" r="2.65" fill="#d9282b"/>
<circle cx="232.7" cy="500.1" r="2.65" fill="#e8722b"/>
<circle cx="255.6" cy="526.9" r="2.65" fill="#4152b6"/>
<circle cx="263.4" cy="517.5" r="2.65" fill="#d9282b"/>
<circle cx="230.7" cy="522.1" r="2.65" fill="#4152b6"/>
<circle cx="264.3" cy="521.8" r="2.65" fill="#e2de34"/>
<circle cx="249.3" cy="550.6" r="2.65" fill="#7ec244"/>
<circle cx="264.8" cy="548.5" r="2.65" fill="#5dbde2"/>
<circle cx="244.1" cy="495.8" r="2.65" fill="#e8722b"/>
<circle cx="223.9" cy="528.6" r="2.65" fill="#4152b6"/>
<circle cx="267.7" cy="528" r="2.65" fill="#dc3a78"/>
<circle cx="240.5" cy="496.1" r="2.65" fill="#d9282b"/>
<circle cx="235.3" cy="523.1" r="2.65" fill="#dc3a78"/>
<circle cx="235.7" cy="503" r="2.65" fill="#4152b6"/>
<circle cx="239.9" cy="525" r="2.65" fill="#e8722b"/>
<circle cx="261.3" cy="549.5" r="2.65" fill="#8e40b0"/>
<circle cx="265" cy="509.6" r="2.65" fill="#d9282b"/>
<circle cx="236" cy="548.1" r="2.65" fill="#6fc4b5"/>
<circle cx="231.2" cy="497.3" r="2.65" fill="#e8722b"/>
<circle cx="242.2" cy="549.9" r="2.65" fill="#c63aa0"/>
<circle cx="256.9" cy="538.4" r="2.65" fill="#e2de34"/>
<circle cx="257.8" cy="502.2" r="2.65" fill="#5dbde2"/>
<circle cx="223.5" cy="547.7" r="2.65" fill="#e8722b"/>
<circle cx="249.3" cy="532" r="2.65" fill="#4152b6"/>
<circle cx="253.4" cy="512.1" r="2.65" fill="#8e40b0"/>
<circle cx="265.2" cy="529" r="2.65" fill="#dc3a78"/>
<circle cx="261.1" cy="490.8" r="2.65" fill="#4152b6"/>
<circle cx="226.2" cy="532" r="2.65" fill="#7ec244"/>
<circle cx="261.3" cy="490" r="2.65" fill="#c63aa0"/>
<circle cx="224" cy="490.9" r="2.65" fill="#d9282b"/>
<circle cx="227.8" cy="554.1" r="2.65" fill="#8e40b0"/>
<circle cx="264.2" cy="499.7" r="2.65" fill="#4152b6"/>
<circle cx="258.6" cy="536.4" r="2.65" fill="#b8d437"/>
<circle cx="266.7" cy="536.5" r="2.65" fill="#4152b6"/>
<circle cx="235.1" cy="514" r="2.65" fill="#8e40b0"/>
<circle cx="245.8" cy="520.2" r="2.65" fill="#c63aa0"/>
<circle cx="241.3" cy="545.4" r="2.65" fill="#d9282b"/>
<circle cx="304.2" cy="460" r="2.65" fill="#7ec244"/>
<circle cx="313.3" cy="448" r="2.65" fill="#4152b6"/>
<circle cx="309.3" cy="443.8" r="2.65" fill="#b8d437"/>
<circle cx="288.3" cy="443.8" r="2.65" fill="#5dbde2"/>
<circle cx="278.5" cy="442.8" r="2.65" fill="#e2de34"/>
<circle cx="280.4" cy="455.2" r="2.65" fill="#6fc4b5"/>
<circle cx="300" cy="462.8" r="2.65" fill="#e2de34"/>
<circle cx="284.1" cy="442.1" r="2.65" fill="#e2de34"/>
<circle cx="322.6" cy="463.9" r="2.65" fill="#d9282b"/>
<circle cx="303" cy="466.8" r="2.65" fill="#d9282b"/>
<circle cx="317" cy="465.5" r="2.65" fill="#7ec244"/>
<circle cx="315.8" cy="456.4" r="2.65" fill="#7ec244"/>
<circle cx="289" cy="460" r="2.65" fill="#4152b6"/>
<circle cx="305.9" cy="448" r="2.65" fill="#4152b6"/>
<circle cx="323.3" cy="467.4" r="2.65" fill="#4152b6"/>
<circle cx="315.2" cy="442.4" r="2.65" fill="#7ec244"/>
<circle cx="305.8" cy="463.1" r="2.65" fill="#7ec244"/>
<circle cx="283.1" cy="454" r="2.65" fill="#7ec244"/>
<circle cx="282.7" cy="444.4" r="2.65" fill="#5dbde2"/>
<circle cx="318.6" cy="444.8" r="2.65" fill="#e2de34"/>
<circle cx="279.1" cy="447" r="2.65" fill="#d9282b"/>
<circle cx="275.4" cy="449" r="2.65" fill="#7ec244"/>
<circle cx="287.7" cy="464.8" r="2.65" fill="#7ec244"/>
<circle cx="314.6" cy="465.5" r="2.65" fill="#7ec244"/>
<circle cx="322.4" cy="449" r="2.65" fill="#e2de34"/>
<circle cx="306.9" cy="449.8" r="2.65" fill="#6fc4b5"/>
<circle cx="313.3" cy="448.9" r="2.65" fill="#4152b6"/>
<circle cx="291.2" cy="448" r="2.65" fill="#b8d437"/>
<circle cx="328.7" cy="444.4" r="2.65" fill="#6fc4b5"/>
<circle cx="314.3" cy="440.3" r="2.65" fill="#7ec244"/>
<circle cx="310" cy="548.7" r="2.65" fill="#8e40b0"/>
<circle cx="302.8" cy="535.9" r="2.65" fill="#7ec244"/>
<circle cx="301.2" cy="526" r="2.65" fill="#4152b6"/>
<circle cx="319.5" cy="548.3" r="2.65" fill="#8e40b0"/>
<circle cx="293.5" cy="528.1" r="2.65" fill="#4152b6"/>
<circle cx="316.2" cy="534.8" r="2.65" fill="#7ec244"/>
<circle cx="317" cy="540.8" r="2.65" fill="#5dbde2"/>
<circle cx="301" cy="549" r="2.65" fill="#8e40b0"/>
<circle cx="325.1" cy="545.7" r="2.65" fill="#4152b6"/>
<circle cx="295.1" cy="533.6" r="2.65" fill="#5dbde2"/>
<circle cx="300.8" cy="548.2" r="2.65" fill="#8e40b0"/>
<circle cx="320.2" cy="537" r="2.65" fill="#4152b6"/>
<circle cx="324.6" cy="528" r="2.65" fill="#4152b6"/>
<circle cx="322.6" cy="541.4" r="2.65" fill="#4152b6"/>
<circle cx="327.3" cy="532.3" r="2.65" fill="#4152b6"/>
<circle cx="310.1" cy="543.3" r="2.65" fill="#4152b6"/>
<circle cx="317.9" cy="537.1" r="2.65" fill="#8e40b0"/>
<circle cx="307.3" cy="539.6" r="2.65" fill="#7ec244"/>
<circle cx="295.3" cy="546" r="2.65" fill="#4152b6"/>
<circle cx="304.7" cy="531" r="2.65" fill="#4152b6"/>
<circle cx="325.9" cy="528.9" r="2.65" fill="#7ec244"/>
<circle cx="313.1" cy="531.3" r="2.65" fill="#8e40b0"/>
<circle cx="330.3" cy="496.5" r="2.65" fill="#4152b6"/>
<circle cx="334.2" cy="470.8" r="2.65" fill="#4152b6"/>
<circle cx="324.5" cy="479.4" r="2.65" fill="#4152b6"/>
<circle cx="329.9" cy="492.4" r="2.65" fill="#8e40b0"/>
<circle cx="327.8" cy="493.5" r="2.65" fill="#4152b6"/>
<circle cx="344.9" cy="470.7" r="2.65" fill="#8e40b0"/>
<circle cx="338.9" cy="477.1" r="2.65" fill="#4152b6"/>
<circle cx="316" cy="499.2" r="2.65" fill="#7ec244"/>
<circle cx="312.8" cy="486.2" r="2.65" fill="#4152b6"/>
<circle cx="310.6" cy="476.6" r="2.65" fill="#5dbde2"/>
<circle cx="328.5" cy="478.6" r="2.65" fill="#5dbde2"/>
<circle cx="312.9" cy="480.3" r="2.65" fill="#4152b6"/>
<circle cx="338.8" cy="481.5" r="2.65" fill="#5dbde2"/>
<circle cx="321.7" cy="482.5" r="2.65" fill="#5dbde2"/>
<circle cx="319.1" cy="486.4" r="2.65" fill="#5dbde2"/>
<circle cx="312.6" cy="476" r="2.65" fill="#4152b6"/>
<circle cx="327.1" cy="473.3" r="2.65" fill="#8e40b0"/>
<circle cx="315.6" cy="485.8" r="2.65" fill="#4152b6"/>
<circle cx="336.2" cy="494.5" r="2.65" fill="#c63aa0"/>
<circle cx="326.2" cy="496.7" r="2.65" fill="#7ec244"/>
<circle cx="243.9" cy="544.8" r="2.65" fill="#b8d437"/>
<circle cx="258" cy="530.4" r="2.65" fill="#7ec244"/>
<circle cx="269.9" cy="532.2" r="2.65" fill="#b8d437"/>
<circle cx="248.4" cy="535.8" r="2.65" fill="#7ec244"/>
<circle cx="245.4" cy="533.8" r="2.65" fill="#6fc4b5"/>
<circle cx="248.1" cy="518.5" r="2.65" fill="#7ec244"/>
<circle cx="257.5" cy="524.8" r="2.65" fill="#b8d437"/>
<circle cx="242.7" cy="529.2" r="2.65" fill="#b8d437"/>
<circle cx="247.9" cy="531.2" r="2.65" fill="#7ec244"/>
<circle cx="258.6" cy="514.8" r="2.65" fill="#7ec244"/>
<circle cx="246.8" cy="527.4" r="2.65" fill="#6fc4b5"/>
<circle cx="248.8" cy="519.2" r="2.65" fill="#b8d437"/>
<circle cx="251.6" cy="523.2" r="2.65" fill="#6fc4b5"/>
<circle cx="252.9" cy="523.7" r="2.65" fill="#6fc4b5"/>
<circle cx="255.9" cy="532.3" r="2.65" fill="#b8d437"/>
<circle cx="268.7" cy="533.4" r="2.65" fill="#7ec244"/>
<circle cx="257.2" cy="531.4" r="2.65" fill="#b8d437"/>
<circle cx="250.4" cy="528.4" r="2.65" fill="#b8d437"/>
<circle cx="246.4" cy="521.5" r="2.65" fill="#6fc4b5"/>
<circle cx="258.4" cy="521.8" r="2.65" fill="#7ec244"/>
<circle cx="254.6" cy="522.8" r="2.65" fill="#7ec244"/>
<circle cx="258.2" cy="536.6" r="2.65" fill="#6fc4b5"/>
<circle cx="263.4" cy="543.7" r="2.65" fill="#7ec244"/>
<circle cx="251.2" cy="560.6" r="2.65" fill="#7ec244"/>
<circle cx="252.5" cy="562.3" r="2.65" fill="#b8d437"/>
<circle cx="264" cy="557.4" r="2.65" fill="#7ec244"/>
<circle cx="254.7" cy="540.8" r="2.65" fill="#e2de34"/>
<circle cx="241.6" cy="550.5" r="2.65" fill="#7ec244"/>
<circle cx="253.7" cy="557.1" r="2.65" fill="#7ec244"/>
<circle cx="257.4" cy="566.2" r="2.65" fill="#e2de34"/>
<circle cx="250.4" cy="555.6" r="2.65" fill="#5dbde2"/>
<circle cx="247.5" cy="564.6" r="2.65" fill="#e2de34"/>
<circle cx="254.6" cy="549.1" r="2.65" fill="#b8d437"/>
<circle cx="247.8" cy="564.6" r="2.65" fill="#5dbde2"/>
<circle cx="236.8" cy="566.7" r="2.65" fill="#7ec244"/>
<circle cx="234.2" cy="555.2" r="2.65" fill="#b8d437"/>
<circle cx="250.8" cy="557.6" r="2.65" fill="#5dbde2"/>
<circle cx="238.6" cy="561.5" r="2.65" fill="#7ec244"/>
<circle cx="246" cy="575.9" r="2.65" fill="#e2de34"/>
<circle cx="245.8" cy="565.4" r="2.65" fill="#b8d437"/>
<circle cx="244.8" cy="563.2" r="2.65" fill="#e2de34"/>
<circle cx="269.9" cy="550.8" r="2.65" fill="#b8d437"/>
<circle cx="248.2" cy="563.8" r="2.65" fill="#7ec244"/>
<circle cx="234.5" cy="557.5" r="2.65" fill="#7ec244"/>
<circle cx="217.3" cy="561.4" r="2.65" fill="#e2de34"/>
<circle cx="249.8" cy="575.4" r="2.65" fill="#7ec244"/>
<circle cx="267.1" cy="562.1" r="2.65" fill="#e2de34"/>
<circle cx="94.3" cy="426.6" r="2.65" fill="#d9282b"/>
<circle cx="233.9" cy="472.4" r="2.65" fill="#4152b6"/>
<circle cx="95.3" cy="423.9" r="2.65" fill="#4152b6"/>
<circle cx="227.4" cy="471.3" r="2.65" fill="#d9282b"/>
<circle cx="147.5" cy="446.5" r="2.65" fill="#dc3a78"/>
<circle cx="144.5" cy="442.6" r="2.65" fill="#c63aa0"/>
<circle cx="125.2" cy="434" r="2.65" fill="#c63aa0"/>
<circle cx="262.9" cy="484.6" r="2.65" fill="#d9282b"/>
<circle cx="226.2" cy="469.3" r="2.65" fill="#c63aa0"/>
<circle cx="138" cy="437.4" r="2.65" fill="#4152b6"/>
<circle cx="247" cy="480.2" r="2.65" fill="#5dbde2"/>
<circle cx="281.2" cy="490.9" r="2.65" fill="#d9282b"/>
<circle cx="230.4" cy="473" r="2.65" fill="#c63aa0"/>
<circle cx="87.4" cy="417.9" r="2.65" fill="#7ec244"/>
<circle cx="270.1" cy="489.3" r="2.65" fill="#d9282b"/>
<circle cx="156.2" cy="445.8" r="2.65" fill="#d9282b"/>
<circle cx="254.8" cy="479.8" r="2.65" fill="#8e40b0"/>
<circle cx="166.1" cy="450" r="2.65" fill="#8e40b0"/>
<circle cx="199.8" cy="465.7" r="2.65" fill="#4152b6"/>
<circle cx="157.7" cy="448.2" r="2.65" fill="#4152b6"/>
<circle cx="215.3" cy="465.9" r="2.65" fill="#7ec244"/>
<circle cx="88.2" cy="421.9" r="2.65" fill="#c63aa0"/>
<circle cx="146.9" cy="442.4" r="2.65" fill="#d9282b"/>
<circle cx="109.4" cy="422.9" r="2.65" fill="#d9282b"/>
<circle cx="180.7" cy="454.4" r="2.65" fill="#e2de34"/>
<circle cx="228.1" cy="472.7" r="2.65" fill="#6fc4b5"/>
<circle cx="187.3" cy="455.2" r="2.65" fill="#e2de34"/>
<circle cx="81.4" cy="419.7" r="2.65" fill="#4152b6"/>
<circle cx="165.8" cy="450.1" r="2.65" fill="#8e40b0"/>
<circle cx="256.5" cy="485.7" r="2.65" fill="#8e40b0"/>
<circle cx="96.3" cy="425.3" r="2.65" fill="#6fc4b5"/>
<circle cx="253.6" cy="481.6" r="2.65" fill="#6fc4b5"/>
<circle cx="119.7" cy="437.3" r="2.65" fill="#c63aa0"/>
<circle cx="108" cy="430.4" r="2.65" fill="#e2de34"/>
<circle cx="171.3" cy="454.5" r="2.65" fill="#d9282b"/>
<circle cx="85.1" cy="418.6" r="2.65" fill="#b8d437"/>
<circle cx="221.6" cy="470.5" r="2.65" fill="#5dbde2"/>
<circle cx="275.6" cy="489.1" r="2.65" fill="#5dbde2"/>
<circle cx="271.5" cy="489.5" r="2.65" fill="#dc3a78"/>
<circle cx="108.6" cy="426.7" r="2.65" fill="#c63aa0"/>
<circle cx="131.7" cy="435.5" r="2.65" fill="#c63aa0"/>
<circle cx="109.8" cy="429.6" r="2.65" fill="#d9282b"/>
<circle cx="218.4" cy="470.2" r="2.65" fill="#c63aa0"/>
<circle cx="81.3" cy="417.1" r="2.65" fill="#5dbde2"/>
<circle cx="190.2" cy="456.3" r="2.65" fill="#b8d437"/>
<circle cx="168.8" cy="449.7" r="2.65" fill="#d9282b"/>
<circle cx="145.2" cy="441" r="2.65" fill="#8e40b0"/>
<circle cx="251.1" cy="478.7" r="2.65" fill="#e2de34"/>
<circle cx="179.2" cy="455.7" r="2.65" fill="#e2de34"/>
<circle cx="181" cy="453.7" r="2.65" fill="#4152b6"/>
<circle cx="129.7" cy="439" r="2.65" fill="#7ec244"/>
<circle cx="201.3" cy="464.5" r="2.65" fill="#dc3a78"/>
<circle cx="95.3" cy="423.4" r="2.65" fill="#7ec244"/>
<circle cx="265.1" cy="484.6" r="2.65" fill="#dc3a78"/>
<circle cx="186.1" cy="457.3" r="2.65" fill="#5dbde2"/>
<circle cx="283.6" cy="490.5" r="2.65" fill="#d9282b"/>
<circle cx="124.4" cy="431.7" r="2.65" fill="#8e40b0"/>
<circle cx="87.3" cy="420.1" r="2.65" fill="#e2de34"/>
<circle cx="231.9" cy="476.9" r="2.65" fill="#d9282b"/>
<circle cx="194.2" cy="462" r="2.65" fill="#c63aa0"/>
<circle cx="97.3" cy="422" r="2.65" fill="#d9282b"/>
<circle cx="125.7" cy="434.3" r="2.65" fill="#c63aa0"/>
<circle cx="184.5" cy="453.3" r="2.65" fill="#4152b6"/>
<circle cx="111.5" cy="435.1" r="2.65" fill="#c63aa0"/>
<circle cx="186.2" cy="458.3" r="2.65" fill="#8e40b0"/>
<circle cx="155.9" cy="449.8" r="2.65" fill="#8e40b0"/>
<circle cx="275.5" cy="488.1" r="2.65" fill="#8e40b0"/>
<circle cx="262" cy="481.2" r="2.65" fill="#b8d437"/>
<circle cx="252.9" cy="478.3" r="2.65" fill="#5dbde2"/>
<circle cx="82.1" cy="419.7" r="2.65" fill="#4152b6"/>
<circle cx="113.4" cy="430.1" r="2.65" fill="#5dbde2"/>
<circle cx="236.1" cy="476.9" r="2.65" fill="#4152b6"/>
<circle cx="271.2" cy="486.9" r="2.65" fill="#8e40b0"/>
<circle cx="160.9" cy="445.2" r="2.65" fill="#7ec244"/>
<circle cx="253.3" cy="482.9" r="2.65" fill="#b8d437"/>
<circle cx="105" cy="427" r="2.65" fill="#5dbde2"/>
<circle cx="224.1" cy="468.8" r="2.65" fill="#4152b6"/>
<circle cx="92.3" cy="425.5" r="2.65" fill="#e2de34"/>
<circle cx="227.4" cy="471.9" r="2.65" fill="#7ec244"/>
<circle cx="232.1" cy="470.8" r="2.65" fill="#e2de34"/>
<circle cx="162.2" cy="445.6" r="2.65" fill="#8e40b0"/>
<circle cx="244.9" cy="478.6" r="2.65" fill="#8e40b0"/>
<circle cx="273.4" cy="489.7" r="2.65" fill="#4152b6"/>
<circle cx="282.2" cy="493" r="2.65" fill="#d9282b"/>
<circle cx="209.6" cy="464.3" r="2.65" fill="#7ec244"/>
<circle cx="215.2" cy="470" r="2.65" fill="#6fc4b5"/>
<circle cx="88.3" cy="421" r="2.65" fill="#dc3a78"/>
<circle cx="238.1" cy="475.5" r="2.65" fill="#d9282b"/>
<circle cx="159.6" cy="447.9" r="2.65" fill="#c63aa0"/>
<circle cx="120.6" cy="431.9" r="2.65" fill="#5dbde2"/>
<circle cx="98.1" cy="430.5" r="2.65" fill="#5dbde2"/>
<circle cx="166.9" cy="449.5" r="2.65" fill="#b8d437"/>
<circle cx="154.7" cy="449.1" r="2.65" fill="#8e40b0"/>
<circle cx="100" cy="426.1" r="2.65" fill="#7ec244"/>
<circle cx="180.9" cy="458.6" r="2.65" fill="#4152b6"/>
<circle cx="112.6" cy="429.7" r="2.65" fill="#c63aa0"/>
<circle cx="150.2" cy="443.2" r="2.65" fill="#c63aa0"/>
<circle cx="210.4" cy="464.5" r="2.65" fill="#7ec244"/>
<circle cx="275" cy="489.9" r="2.65" fill="#c63aa0"/>
<circle cx="259.7" cy="481.6" r="2.65" fill="#5dbde2"/>
<circle cx="254.3" cy="484.2" r="2.65" fill="#8e40b0"/>
<circle cx="238.6" cy="479" r="2.65" fill="#d9282b"/>
<circle cx="136.7" cy="439.2" r="2.65" fill="#8e40b0"/>
<circle cx="93.8" cy="423.3" r="2.65" fill="#7ec244"/>
<circle cx="261.9" cy="484.4" r="2.65" fill="#4152b6"/>
<circle cx="226.7" cy="471.3" r="2.65" fill="#d9282b"/>
<circle cx="211.8" cy="467.8" r="2.65" fill="#5dbde2"/>
<circle cx="87.3" cy="419.3" r="2.65" fill="#8e40b0"/>
<circle cx="158" cy="450.4" r="2.65" fill="#6fc4b5"/>
<circle cx="191.9" cy="457.6" r="2.65" fill="#d9282b"/>
<circle cx="140.5" cy="443.6" r="2.65" fill="#d9282b"/>
<circle cx="265.7" cy="484.2" r="2.65" fill="#8e40b0"/>
<circle cx="248.9" cy="480.5" r="2.65" fill="#8e40b0"/>
<circle cx="209.8" cy="468.5" r="2.65" fill="#4152b6"/>
<circle cx="276" cy="489.8" r="2.65" fill="#4152b6"/>
<circle cx="205.3" cy="464.2" r="2.65" fill="#4152b6"/>
<circle cx="119.7" cy="431.6" r="2.65" fill="#8e40b0"/>
<circle cx="262" cy="487.8" r="2.65" fill="#d9282b"/>
<circle cx="136.8" cy="433" r="2.65" fill="#4152b6"/>
<circle cx="132.9" cy="436.4" r="2.65" fill="#dc3a78"/>
<circle cx="239.9" cy="393.4" r="2.65" fill="#b8d437"/>
<circle cx="267.1" cy="453" r="2.65" fill="#4152b6"/>
<circle cx="233.5" cy="382" r="2.65" fill="#e2de34"/>
<circle cx="255.5" cy="427.2" r="2.65" fill="#5dbde2"/>
<circle cx="269.4" cy="472.1" r="2.65" fill="#4152b6"/>
<circle cx="254.5" cy="421.9" r="2.65" fill="#7ec244"/>
<circle cx="245" cy="419.7" r="2.65" fill="#7ec244"/>
<circle cx="225.2" cy="364.1" r="2.65" fill="#e8722b"/>
<circle cx="254.6" cy="420.5" r="2.65" fill="#7ec244"/>
<circle cx="279.4" cy="470.3" r="2.65" fill="#4152b6"/>
<circle cx="288" cy="489.1" r="2.65" fill="#8e40b0"/>
<circle cx="231.3" cy="373.3" r="2.65" fill="#e8722b"/>
<circle cx="253.5" cy="423.1" r="2.65" fill="#7ec244"/>
<circle cx="236.2" cy="393.3" r="2.65" fill="#e2de34"/>
<circle cx="251.4" cy="420.5" r="2.65" fill="#7ec244"/>
<circle cx="264.6" cy="456.5" r="2.65" fill="#4152b6"/>
<circle cx="234.8" cy="381.9" r="2.65" fill="#e2de34"/>
<circle cx="238.2" cy="400.5" r="2.65" fill="#b8d437"/>
<circle cx="231.5" cy="383.8" r="2.65" fill="#e8722b"/>
<circle cx="239.3" cy="397.1" r="2.65" fill="#b8d437"/>
<circle cx="264.4" cy="434.4" r="2.65" fill="#4152b6"/>
<circle cx="229.3" cy="369.6" r="2.65" fill="#e8722b"/>
<circle cx="262.7" cy="448" r="2.65" fill="#4152b6"/>
<circle cx="225.6" cy="363" r="2.65" fill="#d9282b"/>
<circle cx="279" cy="482" r="2.65" fill="#8e40b0"/>
<circle cx="230" cy="373.1" r="2.65" fill="#e8722b"/>
<circle cx="240.6" cy="395.7" r="2.65" fill="#b8d437"/>
<circle cx="238.3" cy="398.5" r="2.65" fill="#7ec244"/>
<circle cx="228.4" cy="366.4" r="2.65" fill="#e8722b"/>
<circle cx="279" cy="475.6" r="2.65" fill="#8e40b0"/>
<circle cx="257.6" cy="425.6" r="2.65" fill="#5dbde2"/>
<circle cx="247.4" cy="407.9" r="2.65" fill="#7ec244"/>
<circle cx="239.2" cy="392.6" r="2.65" fill="#b8d437"/>
<circle cx="280.8" cy="487.4" r="2.65" fill="#8e40b0"/>
<circle cx="252.5" cy="432.5" r="2.65" fill="#5dbde2"/>
<circle cx="262.7" cy="446.1" r="2.65" fill="#4152b6"/>
<circle cx="222.8" cy="363.8" r="2.65" fill="#d9282b"/>
<circle cx="241.1" cy="398.8" r="2.65" fill="#b8d437"/>
<circle cx="226.4" cy="366.4" r="2.65" fill="#d9282b"/>
<circle cx="265.5" cy="470.4" r="2.65" fill="#4152b6"/>
<circle cx="283" cy="474.8" r="2.65" fill="#8e40b0"/>
<circle cx="238.8" cy="391.5" r="2.65" fill="#e2de34"/>
<circle cx="270.3" cy="466.1" r="2.65" fill="#4152b6"/>
<circle cx="246.2" cy="410.8" r="2.65" fill="#7ec244"/>
<circle cx="223.3" cy="356.1" r="2.65" fill="#e8722b"/>
<circle cx="278.4" cy="484.8" r="2.65" fill="#8e40b0"/>
<circle cx="266.2" cy="459.9" r="2.65" fill="#4152b6"/>
<circle cx="255.8" cy="430.8" r="2.65" fill="#5dbde2"/>
<circle cx="253.6" cy="420.2" r="2.65" fill="#7ec244"/>
<circle cx="257.5" cy="436.5" r="2.65" fill="#5dbde2"/>
<circle cx="262.6" cy="448.5" r="2.65" fill="#4152b6"/>
<circle cx="251.5" cy="421.2" r="2.65" fill="#5dbde2"/>
<circle cx="252.6" cy="420.4" r="2.65" fill="#5dbde2"/>
<circle cx="223.7" cy="366.1" r="2.65" fill="#e8722b"/>
<circle cx="260.6" cy="447" r="2.65" fill="#4152b6"/>
<circle cx="285.1" cy="491.5" r="2.65" fill="#8e40b0"/>
<circle cx="237" cy="392.9" r="2.65" fill="#e2de34"/>
<circle cx="271.2" cy="489.7" r="2.65" fill="#8e40b0"/>
<circle cx="230.6" cy="373.2" r="2.65" fill="#e8722b"/>
<circle cx="267.6" cy="476" r="2.65" fill="#8e40b0"/>
<circle cx="267.5" cy="456.2" r="2.65" fill="#4152b6"/>
<circle cx="272.4" cy="481.2" r="2.65" fill="#8e40b0"/>
<circle cx="288.9" cy="484" r="2.65" fill="#8e40b0"/>
<circle cx="259.9" cy="440.7" r="2.65" fill="#5dbde2"/>
<circle cx="255.8" cy="426.8" r="2.65" fill="#5dbde2"/>
<circle cx="224.9" cy="358.7" r="2.65" fill="#d9282b"/>
<circle cx="285.2" cy="476.5" r="2.65" fill="#4152b6"/>
<circle cx="259.3" cy="441.9" r="2.65" fill="#4152b6"/>
<circle cx="233.6" cy="388.6" r="2.65" fill="#e2de34"/>
<circle cx="247.5" cy="413.6" r="2.65" fill="#7ec244"/>
<circle cx="262.1" cy="432.3" r="2.65" fill="#5dbde2"/>
<circle cx="257.6" cy="437.2" r="2.65" fill="#5dbde2"/>
<circle cx="250.3" cy="418" r="2.65" fill="#7ec244"/>
<circle cx="268.7" cy="453.2" r="2.65" fill="#4152b6"/>
<circle cx="230.5" cy="374" r="2.65" fill="#e8722b"/>
<circle cx="285.6" cy="485.4" r="2.65" fill="#8e40b0"/>
<circle cx="222.2" cy="356.8" r="2.65" fill="#d9282b"/>
<circle cx="240.6" cy="393.1" r="2.65" fill="#b8d437"/>
<circle cx="280.9" cy="478.4" r="2.65" fill="#8e40b0"/>
<circle cx="275.9" cy="489.7" r="2.65" fill="#8e40b0"/>
<circle cx="234.7" cy="383.1" r="2.65" fill="#e2de34"/>
<circle cx="237.7" cy="387.9" r="2.65" fill="#e2de34"/>
<circle cx="224.3" cy="364" r="2.65" fill="#d9282b"/>
<circle cx="254.1" cy="422.1" r="2.65" fill="#5dbde2"/>
<circle cx="237.7" cy="382.4" r="2.65" fill="#e8722b"/>
<circle cx="259.6" cy="439.6" r="2.65" fill="#5dbde2"/>
<circle cx="256.2" cy="427" r="2.65" fill="#5dbde2"/>
<circle cx="259.1" cy="441" r="2.65" fill="#5dbde2"/>
<circle cx="278.9" cy="463.2" r="2.65" fill="#4152b6"/>
<circle cx="268.9" cy="459.5" r="2.65" fill="#4152b6"/>
<circle cx="236.8" cy="384" r="2.65" fill="#e2de34"/>
<circle cx="262.8" cy="446.9" r="2.65" fill="#4152b6"/>
<circle cx="268.8" cy="452.4" r="2.65" fill="#4152b6"/>
<circle cx="228.5" cy="375" r="2.65" fill="#e2de34"/>
<circle cx="259.7" cy="438.2" r="2.65" fill="#5dbde2"/>
<circle cx="248.1" cy="427.7" r="2.65" fill="#5dbde2"/>
<circle cx="279.9" cy="464" r="2.65" fill="#4152b6"/>
<circle cx="254.3" cy="438.2" r="2.65" fill="#4152b6"/>
<circle cx="233.8" cy="368" r="2.65" fill="#e8722b"/>
<circle cx="227.8" cy="369.3" r="2.65" fill="#e8722b"/>
<circle cx="254.9" cy="429.7" r="2.65" fill="#5dbde2"/>
<circle cx="270.6" cy="456" r="2.65" fill="#4152b6"/>
<circle cx="267.3" cy="454.2" r="2.65" fill="#4152b6"/>
<circle cx="264.7" cy="448.4" r="2.65" fill="#4152b6"/>
<circle cx="277.4" cy="476.1" r="2.65" fill="#8e40b0"/>
<circle cx="220" cy="357.3" r="2.65" fill="#d9282b"/>
<circle cx="241.2" cy="397.6" r="2.65" fill="#b8d437"/>
<circle cx="249.5" cy="407.9" r="2.65" fill="#7ec244"/>
<circle cx="222.4" cy="358.1" r="2.65" fill="#d9282b"/>
<circle cx="270.7" cy="469.2" r="2.65" fill="#4152b6"/>
<circle cx="257" cy="434.3" r="2.65" fill="#5dbde2"/>
<circle cx="235.4" cy="381.8" r="2.65" fill="#e2de34"/>
<circle cx="262.5" cy="451.8" r="2.65" fill="#4152b6"/>
<circle cx="244" cy="404.4" r="2.65" fill="#b8d437"/>
<circle cx="271.6" cy="468.7" r="2.65" fill="#4152b6"/>
<circle cx="248.9" cy="411.3" r="2.65" fill="#7ec244"/>
<circle cx="250.1" cy="412.1" r="2.65" fill="#7ec244"/>
<circle cx="279.5" cy="493.9" r="2.65" fill="#8e40b0"/>
<circle cx="239.5" cy="387.3" r="2.65" fill="#e2de34"/>
<circle cx="263.7" cy="463.6" r="2.65" fill="#4152b6"/>
<circle cx="248.6" cy="410.9" r="2.65" fill="#7ec244"/>
<circle cx="240.8" cy="390.3" r="2.65" fill="#e2de34"/>
<circle cx="227" cy="373.8" r="2.65" fill="#e8722b"/>
<circle cx="265.3" cy="451.6" r="2.65" fill="#4152b6"/>
<circle cx="276.4" cy="480" r="2.65" fill="#8e40b0"/>
<circle cx="241.6" cy="397.1" r="2.65" fill="#b8d437"/>
<circle cx="269.2" cy="459.6" r="2.65" fill="#4152b6"/>
<circle cx="265.4" cy="449.4" r="2.65" fill="#4152b6"/>
<circle cx="232.6" cy="374.5" r="2.65" fill="#e8722b"/>
<circle cx="239.1" cy="389.2" r="2.65" fill="#e2de34"/>
<circle cx="224.3" cy="362.1" r="2.65" fill="#e8722b"/>
<circle cx="236" cy="387.8" r="2.65" fill="#e2de34"/>
<circle cx="232.4" cy="373.7" r="2.65" fill="#e8722b"/>
<circle cx="236.1" cy="394.5" r="2.65" fill="#e2de34"/>
<circle cx="236.2" cy="388.5" r="2.65" fill="#b8d437"/>
<circle cx="271.4" cy="462" r="2.65" fill="#4152b6"/>
<circle cx="247.2" cy="430.7" r="2.65" fill="#5dbde2"/>
<circle cx="261.2" cy="441.8" r="2.65" fill="#4152b6"/>
<circle cx="257.1" cy="432" r="2.65" fill="#5dbde2"/>
<circle cx="258.3" cy="441" r="2.65" fill="#4152b6"/>
<circle cx="271.5" cy="468.8" r="2.65" fill="#4152b6"/>
<circle cx="245.7" cy="407.4" r="2.65" fill="#7ec244"/>
<circle cx="256.8" cy="429.9" r="2.65" fill="#5dbde2"/>
<circle cx="248.6" cy="410" r="2.65" fill="#b8d437"/>
<circle cx="272" cy="444.3" r="2.65" fill="#4152b6"/>
<circle cx="258.7" cy="438.5" r="2.65" fill="#5dbde2"/>
<circle cx="240.6" cy="396.6" r="2.65" fill="#b8d437"/>
<circle cx="236.1" cy="383.5" r="2.65" fill="#e2de34"/>
<circle cx="225.3" cy="363" r="2.65" fill="#d9282b"/>
<circle cx="246.4" cy="404.7" r="2.65" fill="#7ec244"/>
<circle cx="276.2" cy="470.7" r="2.65" fill="#4152b6"/>
<circle cx="259.7" cy="430.5" r="2.65" fill="#5dbde2"/>
<circle cx="264.8" cy="455.9" r="2.65" fill="#4152b6"/>
<circle cx="259" cy="436.1" r="2.65" fill="#4152b6"/>
<circle cx="233" cy="384.8" r="2.65" fill="#e8722b"/>
<circle cx="254.2" cy="429.7" r="2.65" fill="#5dbde2"/>
<circle cx="227.1" cy="356.7" r="2.65" fill="#d9282b"/>
<circle cx="235.9" cy="388.3" r="2.65" fill="#e2de34"/>
<circle cx="256" cy="433.3" r="2.65" fill="#5dbde2"/>
<circle cx="223.9" cy="360.7" r="2.65" fill="#d9282b"/>
<circle cx="278.1" cy="465.8" r="2.65" fill="#4152b6"/>
<circle cx="280.4" cy="476.4" r="2.65" fill="#8e40b0"/>
<circle cx="236.2" cy="389.8" r="2.65" fill="#e2de34"/>
<circle cx="252.8" cy="414.9" r="2.65" fill="#7ec244"/>
<circle cx="270.5" cy="476.3" r="2.65" fill="#8e40b0"/>
<circle cx="283.9" cy="492.2" r="2.65" fill="#8e40b0"/>
<circle cx="272.7" cy="475.5" r="2.65" fill="#8e40b0"/>
<circle cx="261.3" cy="434.8" r="2.65" fill="#4152b6"/>
<circle cx="258" cy="436.8" r="2.65" fill="#5dbde2"/>
<circle cx="263.8" cy="452.1" r="2.65" fill="#4152b6"/>
<circle cx="257.1" cy="426.5" r="2.65" fill="#5dbde2"/>
<circle cx="278.4" cy="482.9" r="2.65" fill="#8e40b0"/>
<circle cx="260.9" cy="464.6" r="2.65" fill="#4152b6"/>
<circle cx="242.9" cy="403.5" r="2.65" fill="#7ec244"/>
<circle cx="250.9" cy="418.5" r="2.65" fill="#7ec244"/>
<circle cx="230.7" cy="370.4" r="2.65" fill="#e8722b"/>
<circle cx="220.2" cy="357.5" r="2.65" fill="#e8722b"/>
<circle cx="242.4" cy="395" r="2.65" fill="#e2de34"/>
<circle cx="238.1" cy="391.9" r="2.65" fill="#b8d437"/>
<circle cx="263.2" cy="440.3" r="2.65" fill="#4152b6"/>
<circle cx="254" cy="425.4" r="2.65" fill="#5dbde2"/>
<circle cx="226.7" cy="364.9" r="2.65" fill="#d9282b"/>
<circle cx="259.7" cy="444.1" r="2.65" fill="#4152b6"/>
<circle cx="224.6" cy="361.6" r="2.65" fill="#d9282b"/>
<circle cx="243.9" cy="401.2" r="2.65" fill="#b8d437"/>
<circle cx="235" cy="387.3" r="2.65" fill="#b8d437"/>
<circle cx="256.9" cy="431.6" r="2.65" fill="#5dbde2"/>
<circle cx="283.9" cy="475.5" r="2.65" fill="#8e40b0"/>
<circle cx="226.2" cy="359.5" r="2.65" fill="#d9282b"/>
<circle cx="260.2" cy="429.8" r="2.65" fill="#5dbde2"/>
<circle cx="275.9" cy="472.4" r="2.65" fill="#4152b6"/>
<circle cx="231.6" cy="379" r="2.65" fill="#e8722b"/>
<circle cx="270.3" cy="461.3" r="2.65" fill="#4152b6"/>
<circle cx="280.7" cy="480.8" r="2.65" fill="#8e40b0"/>
<circle cx="230.3" cy="372.6" r="2.65" fill="#e8722b"/>
<circle cx="229.8" cy="378.6" r="2.65" fill="#e8722b"/>
<circle cx="264" cy="454.8" r="2.65" fill="#4152b6"/>
<circle cx="263.1" cy="442.1" r="2.65" fill="#4152b6"/>
<circle cx="248.3" cy="422" r="2.65" fill="#7ec244"/>
<circle cx="236.4" cy="386.5" r="2.65" fill="#e2de34"/>
<circle cx="229.2" cy="354.5" r="2.65" fill="#e8722b"/>
<circle cx="222.3" cy="363.1" r="2.65" fill="#e8722b"/>
<circle cx="223.6" cy="360.4" r="2.65" fill="#d9282b"/>
<circle cx="225.6" cy="358.7" r="2.65" fill="#e8722b"/>
<circle cx="219.1" cy="358.3" r="2.65" fill="#e8722b"/>
<circle cx="223.5" cy="362.2" r="2.65" fill="#d9282b"/>
<circle cx="225.7" cy="359.5" r="2.65" fill="#e8722b"/>
<circle cx="222" cy="360.7" r="2.65" fill="#d9282b"/>
<circle cx="227.4" cy="356.9" r="2.65" fill="#d9282b"/>
<circle cx="226.1" cy="356.7" r="2.65" fill="#e8722b"/>
<circle cx="224.5" cy="358.8" r="2.65" fill="#d9282b"/>
<circle cx="225.8" cy="356.1" r="2.65" fill="#e8722b"/>
<circle cx="336.4" cy="480.6" r="2.65" fill="#8e40b0"/>
<circle cx="336.4" cy="475" r="2.65" fill="#8e40b0"/>
<circle cx="465.2" cy="446.6" r="2.65" fill="#e8722b"/>
<circle cx="444.6" cy="448.4" r="2.65" fill="#e2de34"/>
<circle cx="360.6" cy="470.4" r="2.65" fill="#4152b6"/>
<circle cx="335.5" cy="483" r="2.65" fill="#8e40b0"/>
<circle cx="387.6" cy="460.7" r="2.65" fill="#7ec244"/>
<circle cx="471.6" cy="443.4" r="2.65" fill="#d9282b"/>
<circle cx="288.6" cy="499.1" r="2.65" fill="#8e40b0"/>
<circle cx="353.2" cy="468.8" r="2.65" fill="#4152b6"/>
<circle cx="288.9" cy="491" r="2.65" fill="#8e40b0"/>
<circle cx="318.8" cy="485.1" r="2.65" fill="#8e40b0"/>
<circle cx="436.4" cy="452.5" r="2.65" fill="#b8d437"/>
<circle cx="427.8" cy="456.1" r="2.65" fill="#7ec244"/>
<circle cx="357.6" cy="470.4" r="2.65" fill="#4152b6"/>
<circle cx="388.4" cy="470.7" r="2.65" fill="#5dbde2"/>
<circle cx="450.4" cy="448" r="2.65" fill="#e2de34"/>
<circle cx="359.6" cy="475.9" r="2.65" fill="#4152b6"/>
<circle cx="360.5" cy="473" r="2.65" fill="#4152b6"/>
<circle cx="454.6" cy="446" r="2.65" fill="#e8722b"/>
<circle cx="291.5" cy="489.9" r="2.65" fill="#8e40b0"/>
<circle cx="425.6" cy="453.4" r="2.65" fill="#7ec244"/>
<circle cx="326" cy="484.6" r="2.65" fill="#8e40b0"/>
<circle cx="436" cy="452.4" r="2.65" fill="#b8d437"/>
<circle cx="468.9" cy="442.7" r="2.65" fill="#d9282b"/>
<circle cx="411.9" cy="456.9" r="2.65" fill="#7ec244"/>
<circle cx="334.6" cy="480" r="2.65" fill="#8e40b0"/>
<circle cx="429" cy="455.3" r="2.65" fill="#b8d437"/>
<circle cx="290.2" cy="488" r="2.65" fill="#8e40b0"/>
<circle cx="457.8" cy="445" r="2.65" fill="#e8722b"/>
<circle cx="351.1" cy="477" r="2.65" fill="#4152b6"/>
<circle cx="456.5" cy="449.6" r="2.65" fill="#e8722b"/>
<circle cx="324.1" cy="469.1" r="2.65" fill="#8e40b0"/>
<circle cx="429" cy="451.8" r="2.65" fill="#7ec244"/>
<circle cx="426.4" cy="454.4" r="2.65" fill="#7ec244"/>
<circle cx="422.1" cy="458.9" r="2.65" fill="#7ec244"/>
<circle cx="294.7" cy="491.8" r="2.65" fill="#8e40b0"/>
<circle cx="308.9" cy="487.5" r="2.65" fill="#8e40b0"/>
<circle cx="365.3" cy="475.4" r="2.65" fill="#5dbde2"/>
<circle cx="442.3" cy="449.8" r="2.65" fill="#e2de34"/>
<circle cx="413.8" cy="457.2" r="2.65" fill="#7ec244"/>
<circle cx="420.6" cy="458.6" r="2.65" fill="#7ec244"/>
<circle cx="327.8" cy="480.1" r="2.65" fill="#8e40b0"/>
<circle cx="296.4" cy="490.5" r="2.65" fill="#8e40b0"/>
<circle cx="306" cy="490" r="2.65" fill="#8e40b0"/>
<circle cx="391.2" cy="462" r="2.65" fill="#7ec244"/>
<circle cx="366.6" cy="469.3" r="2.65" fill="#4152b6"/>
<circle cx="286" cy="488.9" r="2.65" fill="#8e40b0"/>
<circle cx="377.7" cy="463.9" r="2.65" fill="#5dbde2"/>
<circle cx="290.3" cy="487.5" r="2.65" fill="#8e40b0"/>
<circle cx="362.4" cy="469.8" r="2.65" fill="#4152b6"/>
<circle cx="389" cy="466.4" r="2.65" fill="#7ec244"/>
<circle cx="417.9" cy="457" r="2.65" fill="#7ec244"/>
<circle cx="356.6" cy="471.4" r="2.65" fill="#4152b6"/>
<circle cx="375.7" cy="468.8" r="2.65" fill="#5dbde2"/>
<circle cx="444.5" cy="447.9" r="2.65" fill="#e2de34"/>
<circle cx="466.7" cy="444.1" r="2.65" fill="#e8722b"/>
<circle cx="342.2" cy="474.9" r="2.65" fill="#4152b6"/>
<circle cx="402" cy="460.9" r="2.65" fill="#7ec244"/>
<circle cx="323.3" cy="487.6" r="2.65" fill="#8e40b0"/>
<circle cx="292.8" cy="489.8" r="2.65" fill="#8e40b0"/>
<circle cx="344.3" cy="475.6" r="2.65" fill="#8e40b0"/>
<circle cx="470.5" cy="444.4" r="2.65" fill="#e8722b"/>
<circle cx="295.6" cy="485.7" r="2.65" fill="#8e40b0"/>
<circle cx="347.3" cy="478.7" r="2.65" fill="#4152b6"/>
<circle cx="331.1" cy="475.8" r="2.65" fill="#8e40b0"/>
<circle cx="334.1" cy="479.5" r="2.65" fill="#8e40b0"/>
<circle cx="315.2" cy="485.2" r="2.65" fill="#8e40b0"/>
<circle cx="452.8" cy="451" r="2.65" fill="#e8722b"/>
<circle cx="288.2" cy="494.9" r="2.65" fill="#8e40b0"/>
<circle cx="350.8" cy="476.2" r="2.65" fill="#4152b6"/>
<circle cx="453.5" cy="446" r="2.65" fill="#e2de34"/>
<circle cx="433.6" cy="454.8" r="2.65" fill="#b8d437"/>
<circle cx="444.3" cy="449.6" r="2.65" fill="#e8722b"/>
<circle cx="344.2" cy="476.1" r="2.65" fill="#4152b6"/>
<circle cx="465" cy="448" r="2.65" fill="#e8722b"/>
<circle cx="372.3" cy="468.5" r="2.65" fill="#5dbde2"/>
<circle cx="391" cy="462.9" r="2.65" fill="#5dbde2"/>
<circle cx="442.8" cy="448.1" r="2.65" fill="#e2de34"/>
<circle cx="324.6" cy="478.6" r="2.65" fill="#8e40b0"/>
<circle cx="379.9" cy="473.4" r="2.65" fill="#5dbde2"/>
<circle cx="351.1" cy="474.2" r="2.65" fill="#4152b6"/>
<circle cx="344.1" cy="482.4" r="2.65" fill="#4152b6"/>
<circle cx="396.9" cy="462.6" r="2.65" fill="#7ec244"/>
<circle cx="329.4" cy="481" r="2.65" fill="#8e40b0"/>
<circle cx="308.5" cy="495.3" r="2.65" fill="#8e40b0"/>
<circle cx="407" cy="457.1" r="2.65" fill="#7ec244"/>
<circle cx="394.2" cy="462.2" r="2.65" fill="#7ec244"/>
<circle cx="438.1" cy="452.4" r="2.65" fill="#b8d437"/>
<circle cx="400.2" cy="462.1" r="2.65" fill="#7ec244"/>
<circle cx="313.5" cy="490.7" r="2.65" fill="#8e40b0"/>
<circle cx="350.2" cy="474.3" r="2.65" fill="#4152b6"/>
<circle cx="465" cy="442.2" r="2.65" fill="#e8722b"/>
<circle cx="348.3" cy="479.5" r="2.65" fill="#4152b6"/>
<circle cx="292.9" cy="488.4" r="2.65" fill="#8e40b0"/>
<circle cx="405" cy="457.1" r="2.65" fill="#7ec244"/>
<circle cx="424.9" cy="458.1" r="2.65" fill="#7ec244"/>
<circle cx="467" cy="443.9" r="2.65" fill="#d9282b"/>
<circle cx="370.8" cy="468.8" r="2.65" fill="#5dbde2"/>
<circle cx="377.4" cy="468.4" r="2.65" fill="#5dbde2"/>
<circle cx="331.8" cy="483.5" r="2.65" fill="#8e40b0"/>
<circle cx="367.9" cy="471.7" r="2.65" fill="#5dbde2"/>
<circle cx="408.5" cy="462.2" r="2.65" fill="#7ec244"/>
<circle cx="382.2" cy="463.6" r="2.65" fill="#5dbde2"/>
<circle cx="343.9" cy="478.5" r="2.65" fill="#8e40b0"/>
<circle cx="428.7" cy="455.4" r="2.65" fill="#b8d437"/>
<circle cx="402.7" cy="462.6" r="2.65" fill="#7ec244"/>
<circle cx="378.8" cy="466.7" r="2.65" fill="#5dbde2"/>
<circle cx="379.1" cy="462.8" r="2.65" fill="#5dbde2"/>
<circle cx="306.9" cy="482.5" r="2.65" fill="#8e40b0"/>
<circle cx="474" cy="442.6" r="2.65" fill="#d9282b"/>
<circle cx="447.3" cy="448.8" r="2.65" fill="#e2de34"/>
<circle cx="301.9" cy="496.5" r="2.65" fill="#8e40b0"/>
<circle cx="463.8" cy="445.6" r="2.65" fill="#e2de34"/>
<circle cx="422.6" cy="454.8" r="2.65" fill="#7ec244"/>
<circle cx="384.1" cy="473.4" r="2.65" fill="#5dbde2"/>
<circle cx="407.4" cy="459.3" r="2.65" fill="#7ec244"/>
<circle cx="409.5" cy="458.7" r="2.65" fill="#7ec244"/>
<circle cx="358.1" cy="475" r="2.65" fill="#4152b6"/>
<circle cx="296.6" cy="479.2" r="2.65" fill="#8e40b0"/>
<circle cx="332.3" cy="486.9" r="2.65" fill="#8e40b0"/>
<circle cx="426.1" cy="455.9" r="2.65" fill="#7ec244"/>
<circle cx="395.4" cy="460.2" r="2.65" fill="#7ec244"/>
<circle cx="337.9" cy="474.6" r="2.65" fill="#4152b6"/>
<circle cx="337.1" cy="475.3" r="2.65" fill="#8e40b0"/>
<circle cx="350.2" cy="483.1" r="2.65" fill="#8e40b0"/>
<circle cx="383.9" cy="464.4" r="2.65" fill="#5dbde2"/>
<circle cx="337.5" cy="479.6" r="2.65" fill="#8e40b0"/>
<circle cx="295.8" cy="508.6" r="2.65" fill="#8e40b0"/>
<circle cx="332.2" cy="482.7" r="2.65" fill="#8e40b0"/>
<circle cx="407.2" cy="461.6" r="2.65" fill="#7ec244"/>
<circle cx="460.6" cy="443.8" r="2.65" fill="#e8722b"/>
<circle cx="349.2" cy="476.2" r="2.65" fill="#4152b6"/>
<circle cx="287.6" cy="487.4" r="2.65" fill="#8e40b0"/>
<circle cx="440.8" cy="454.3" r="2.65" fill="#b8d437"/>
<circle cx="384.6" cy="469.4" r="2.65" fill="#5dbde2"/>
<circle cx="318" cy="481.9" r="2.65" fill="#8e40b0"/>
<circle cx="348.1" cy="474.6" r="2.65" fill="#4152b6"/>
<circle cx="441.8" cy="448.4" r="2.65" fill="#e2de34"/>
<circle cx="369.5" cy="467.4" r="2.65" fill="#4152b6"/>
<circle cx="410.2" cy="463.7" r="2.65" fill="#7ec244"/>
<circle cx="305.4" cy="488.1" r="2.65" fill="#8e40b0"/>
<circle cx="390.5" cy="463.2" r="2.65" fill="#5dbde2"/>
<circle cx="455.3" cy="443.8" r="2.65" fill="#e8722b"/>
<circle cx="400.3" cy="462.5" r="2.65" fill="#7ec244"/>
<circle cx="393.3" cy="463.8" r="2.65" fill="#7ec244"/>
<circle cx="362.6" cy="468.6" r="2.65" fill="#5dbde2"/>
<circle cx="296.2" cy="484.2" r="2.65" fill="#8e40b0"/>
<circle cx="311.9" cy="479.4" r="2.65" fill="#8e40b0"/>
<circle cx="426.7" cy="449.6" r="2.65" fill="#7ec244"/>
<circle cx="340.2" cy="475.3" r="2.65" fill="#4152b6"/>
<circle cx="347.5" cy="471.8" r="2.65" fill="#4152b6"/>
<circle cx="428.5" cy="453.6" r="2.65" fill="#b8d437"/>
<circle cx="456.1" cy="450.8" r="2.65" fill="#e2de34"/>
<circle cx="318.6" cy="480.9" r="2.65" fill="#8e40b0"/>
<circle cx="375.7" cy="464" r="2.65" fill="#5dbde2"/>
<circle cx="459.3" cy="444" r="2.65" fill="#e8722b"/>
<circle cx="464.7" cy="445.9" r="2.65" fill="#e8722b"/>
<circle cx="331.7" cy="485" r="2.65" fill="#8e40b0"/>
<circle cx="475.3" cy="442.2" r="2.65" fill="#d9282b"/>
<circle cx="319.7" cy="498" r="2.65" fill="#8e40b0"/>
<circle cx="415.9" cy="455.6" r="2.65" fill="#7ec244"/>
<circle cx="303.9" cy="488.2" r="2.65" fill="#8e40b0"/>
<circle cx="404.3" cy="456.2" r="2.65" fill="#7ec244"/>
<circle cx="365.6" cy="467.9" r="2.65" fill="#5dbde2"/>
<circle cx="429.4" cy="457.7" r="2.65" fill="#b8d437"/>
<circle cx="340.9" cy="479.5" r="2.65" fill="#8e40b0"/>
<circle cx="296.3" cy="488.7" r="2.65" fill="#8e40b0"/>
<circle cx="470.4" cy="441.1" r="2.65" fill="#d9282b"/>
<circle cx="429.8" cy="451.6" r="2.65" fill="#b8d437"/>
<circle cx="365.4" cy="471" r="2.65" fill="#4152b6"/>
<circle cx="310.5" cy="492" r="2.65" fill="#8e40b0"/>
<circle cx="349.6" cy="472.2" r="2.65" fill="#4152b6"/>
<circle cx="409" cy="460.7" r="2.65" fill="#7ec244"/>
<circle cx="469.2" cy="442.2" r="2.65" fill="#d9282b"/>
<circle cx="336.8" cy="477.6" r="2.65" fill="#4152b6"/>
<circle cx="421.2" cy="455.8" r="2.65" fill="#b8d437"/>
<circle cx="356" cy="473.6" r="2.65" fill="#4152b6"/>
<circle cx="380.2" cy="468.6" r="2.65" fill="#5dbde2"/>
<circle cx="336.3" cy="479.3" r="2.65" fill="#8e40b0"/>
<circle cx="302" cy="491.4" r="2.65" fill="#8e40b0"/>
<circle cx="312" cy="481.5" r="2.65" fill="#8e40b0"/>
<circle cx="435.6" cy="453.3" r="2.65" fill="#e2de34"/>
<circle cx="450.7" cy="450.6" r="2.65" fill="#e2de34"/>
<circle cx="396.2" cy="463.2" r="2.65" fill="#7ec244"/>
<circle cx="396.1" cy="463.4" r="2.65" fill="#7ec244"/>
<circle cx="462" cy="444.8" r="2.65" fill="#e8722b"/>
<circle cx="384.7" cy="466.9" r="2.65" fill="#7ec244"/>
<circle cx="467.4" cy="442.9" r="2.65" fill="#d9282b"/>
<circle cx="429.2" cy="454.7" r="2.65" fill="#7ec244"/>
<circle cx="268.8" cy="608.8" r="2.65" fill="#5dbde2"/>
<circle cx="273.6" cy="576.8" r="2.65" fill="#4152b6"/>
<circle cx="270.3" cy="616.4" r="2.65" fill="#7ec244"/>
<circle cx="271.3" cy="632.9" r="2.65" fill="#7ec244"/>
<circle cx="269.6" cy="604.8" r="2.65" fill="#7ec244"/>
<circle cx="266" cy="647.8" r="2.65" fill="#b8d437"/>
<circle cx="266" cy="630.1" r="2.65" fill="#7ec244"/>
<circle cx="271.4" cy="590.1" r="2.65" fill="#5dbde2"/>
<circle cx="263.7" cy="665.6" r="2.65" fill="#b8d437"/>
<circle cx="280.1" cy="543.3" r="2.65" fill="#4152b6"/>
<circle cx="266.2" cy="643.8" r="2.65" fill="#7ec244"/>
<circle cx="264.7" cy="650.1" r="2.65" fill="#b8d437"/>
<circle cx="272.8" cy="600.7" r="2.65" fill="#5dbde2"/>
<circle cx="280.5" cy="501.4" r="2.65" fill="#8e40b0"/>
<circle cx="264.5" cy="666.8" r="2.65" fill="#b8d437"/>
<circle cx="283.7" cy="496.6" r="2.65" fill="#8e40b0"/>
<circle cx="274.5" cy="599.5" r="2.65" fill="#5dbde2"/>
<circle cx="278.8" cy="539.5" r="2.65" fill="#4152b6"/>
<circle cx="281.6" cy="555.5" r="2.65" fill="#4152b6"/>
<circle cx="268.2" cy="615.9" r="2.65" fill="#7ec244"/>
<circle cx="277" cy="567.1" r="2.65" fill="#4152b6"/>
<circle cx="275.2" cy="536.7" r="2.65" fill="#8e40b0"/>
<circle cx="287.9" cy="496.8" r="2.65" fill="#8e40b0"/>
<circle cx="267.2" cy="641.9" r="2.65" fill="#b8d437"/>
<circle cx="255.1" cy="702.8" r="2.65" fill="#d9282b"/>
<circle cx="284.6" cy="516" r="2.65" fill="#8e40b0"/>
<circle cx="264.5" cy="690.2" r="2.65" fill="#e8722b"/>
<circle cx="276.7" cy="580.9" r="2.65" fill="#4152b6"/>
<circle cx="259.1" cy="689.1" r="2.65" fill="#e8722b"/>
<circle cx="273.8" cy="590" r="2.65" fill="#5dbde2"/>
<circle cx="274.2" cy="575.5" r="2.65" fill="#4152b6"/>
<circle cx="272.6" cy="569.8" r="2.65" fill="#4152b6"/>
<circle cx="267" cy="658.2" r="2.65" fill="#b8d437"/>
<circle cx="267.1" cy="605.1" r="2.65" fill="#5dbde2"/>
<circle cx="266.2" cy="620.8" r="2.65" fill="#7ec244"/>
<circle cx="265.2" cy="665.7" r="2.65" fill="#e2de34"/>
<circle cx="286" cy="502.7" r="2.65" fill="#8e40b0"/>
<circle cx="266.4" cy="636.2" r="2.65" fill="#7ec244"/>
<circle cx="278.6" cy="559.5" r="2.65" fill="#4152b6"/>
<circle cx="270.1" cy="621.8" r="2.65" fill="#7ec244"/>
<circle cx="278.1" cy="530.8" r="2.65" fill="#8e40b0"/>
<circle cx="265.5" cy="646.7" r="2.65" fill="#b8d437"/>
<circle cx="267.8" cy="599" r="2.65" fill="#5dbde2"/>
<circle cx="266.4" cy="650.1" r="2.65" fill="#b8d437"/>
<circle cx="285.8" cy="526.8" r="2.65" fill="#8e40b0"/>
<circle cx="261.9" cy="662.3" r="2.65" fill="#e2de34"/>
<circle cx="274.8" cy="613.4" r="2.65" fill="#5dbde2"/>
<circle cx="261.6" cy="696" r="2.65" fill="#e8722b"/>
<circle cx="273" cy="542.2" r="2.65" fill="#4152b6"/>
<circle cx="279.6" cy="577.6" r="2.65" fill="#4152b6"/>
<circle cx="276.4" cy="536.5" r="2.65" fill="#8e40b0"/>
<circle cx="271.4" cy="586.2" r="2.65" fill="#4152b6"/>
<circle cx="264.4" cy="678.8" r="2.65" fill="#e8722b"/>
<circle cx="260" cy="696" r="2.65" fill="#d9282b"/>
<circle cx="270.3" cy="600" r="2.65" fill="#7ec244"/>
<circle cx="269.5" cy="577" r="2.65" fill="#4152b6"/>
<circle cx="257.3" cy="695.7" r="2.65" fill="#e8722b"/>
<circle cx="257" cy="693.4" r="2.65" fill="#e8722b"/>
<circle cx="268.2" cy="593.1" r="2.65" fill="#5dbde2"/>
<circle cx="272.9" cy="567" r="2.65" fill="#4152b6"/>
<circle cx="266.9" cy="638.7" r="2.65" fill="#7ec244"/>
<circle cx="267.3" cy="620.5" r="2.65" fill="#7ec244"/>
<circle cx="270.7" cy="621.1" r="2.65" fill="#7ec244"/>
<circle cx="273.4" cy="573.5" r="2.65" fill="#4152b6"/>
<circle cx="279.5" cy="543.4" r="2.65" fill="#8e40b0"/>
<circle cx="255.8" cy="680.5" r="2.65" fill="#e2de34"/>
<circle cx="278.2" cy="510.3" r="2.65" fill="#8e40b0"/>
<circle cx="275.9" cy="533.9" r="2.65" fill="#8e40b0"/>
<circle cx="270.8" cy="565" r="2.65" fill="#4152b6"/>
<circle cx="256.3" cy="690.8" r="2.65" fill="#e8722b"/>
<circle cx="276" cy="592" r="2.65" fill="#4152b6"/>
<circle cx="256.6" cy="693.1" r="2.65" fill="#e8722b"/>
<circle cx="265.3" cy="634.9" r="2.65" fill="#7ec244"/>
<circle cx="270.9" cy="595.2" r="2.65" fill="#5dbde2"/>
<circle cx="264.9" cy="648.2" r="2.65" fill="#b8d437"/>
<circle cx="258.1" cy="692.9" r="2.65" fill="#e8722b"/>
<circle cx="269.5" cy="559.5" r="2.65" fill="#4152b6"/>
<circle cx="268.7" cy="610.4" r="2.65" fill="#5dbde2"/>
<circle cx="264.4" cy="618.5" r="2.65" fill="#7ec244"/>
<circle cx="268.5" cy="636.2" r="2.65" fill="#7ec244"/>
<circle cx="278.1" cy="549" r="2.65" fill="#4152b6"/>
<circle cx="266.1" cy="689.4" r="2.65" fill="#e8722b"/>
<circle cx="265" cy="657.7" r="2.65" fill="#b8d437"/>
<circle cx="284.6" cy="553.4" r="2.65" fill="#8e40b0"/>
<circle cx="260.1" cy="669.7" r="2.65" fill="#e2de34"/>
<circle cx="266.3" cy="598.7" r="2.65" fill="#5dbde2"/>
<circle cx="278.4" cy="567.7" r="2.65" fill="#4152b6"/>
<circle cx="270.4" cy="611.5" r="2.65" fill="#7ec244"/>
<circle cx="263.7" cy="647.7" r="2.65" fill="#7ec244"/>
<circle cx="273.6" cy="531.3" r="2.65" fill="#8e40b0"/>
<circle cx="262.6" cy="665.2" r="2.65" fill="#e2de34"/>
<circle cx="265.9" cy="621.3" r="2.65" fill="#7ec244"/>
<circle cx="267.3" cy="638" r="2.65" fill="#b8d437"/>
<circle cx="260.1" cy="700.6" r="2.65" fill="#d9282b"/>
<circle cx="262" cy="663.6" r="2.65" fill="#e2de34"/>
<circle cx="273.6" cy="563.3" r="2.65" fill="#4152b6"/>
<circle cx="278.7" cy="572.8" r="2.65" fill="#4152b6"/>
<circle cx="263.8" cy="675.8" r="2.65" fill="#e2de34"/>
<circle cx="277.7" cy="558" r="2.65" fill="#4152b6"/>
<circle cx="288.7" cy="498.2" r="2.65" fill="#8e40b0"/>
<circle cx="260.6" cy="683.9" r="2.65" fill="#e8722b"/>
<circle cx="257.1" cy="700.7" r="2.65" fill="#d9282b"/>
<circle cx="278.4" cy="558.6" r="2.65" fill="#4152b6"/>
<circle cx="261.7" cy="663.6" r="2.65" fill="#b8d437"/>
<circle cx="278.3" cy="557.7" r="2.65" fill="#4152b6"/>
<circle cx="258.7" cy="656.3" r="2.65" fill="#b8d437"/>
<circle cx="268.1" cy="581.6" r="2.65" fill="#4152b6"/>
<circle cx="274.5" cy="560.9" r="2.65" fill="#4152b6"/>
<circle cx="276.2" cy="595" r="2.65" fill="#4152b6"/>
<circle cx="280.5" cy="546.1" r="2.65" fill="#4152b6"/>
<circle cx="263.3" cy="663.6" r="2.65" fill="#b8d437"/>
<circle cx="275.5" cy="586.9" r="2.65" fill="#5dbde2"/>
<circle cx="265.8" cy="654.9" r="2.65" fill="#b8d437"/>
<circle cx="265.8" cy="628.1" r="2.65" fill="#7ec244"/>
<circle cx="259.8" cy="669.4" r="2.65" fill="#e2de34"/>
<circle cx="266.1" cy="637.1" r="2.65" fill="#7ec244"/>
<circle cx="259" cy="695" r="2.65" fill="#e8722b"/>
<circle cx="257.1" cy="702.8" r="2.65" fill="#d9282b"/>
<circle cx="272.5" cy="564.7" r="2.65" fill="#4152b6"/>
<circle cx="268.4" cy="619" r="2.65" fill="#7ec244"/>
<circle cx="278.2" cy="543.8" r="2.65" fill="#4152b6"/>
<circle cx="259.7" cy="678.2" r="2.65" fill="#e2de34"/>
<circle cx="271.3" cy="549.7" r="2.65" fill="#4152b6"/>
<circle cx="257.2" cy="696.5" r="2.65" fill="#e8722b"/>
<circle cx="273" cy="588.8" r="2.65" fill="#4152b6"/>
<circle cx="260.8" cy="647.3" r="2.65" fill="#b8d437"/>
<circle cx="271.1" cy="603.5" r="2.65" fill="#5dbde2"/>
<circle cx="262.4" cy="681.8" r="2.65" fill="#e8722b"/>
<circle cx="272.7" cy="537" r="2.65" fill="#8e40b0"/>
<circle cx="268.2" cy="594.1" r="2.65" fill="#5dbde2"/>
<circle cx="281" cy="529.1" r="2.65" fill="#8e40b0"/>
<circle cx="259.9" cy="677.4" r="2.65" fill="#e2de34"/>
<circle cx="283.7" cy="532.9" r="2.65" fill="#8e40b0"/>
<circle cx="273.3" cy="597.9" r="2.65" fill="#5dbde2"/>
<circle cx="263" cy="668.4" r="2.65" fill="#e2de34"/>
<circle cx="258" cy="695.6" r="2.65" fill="#e8722b"/>
<circle cx="262.3" cy="639.6" r="2.65" fill="#b8d437"/>
<circle cx="273.3" cy="599" r="2.65" fill="#5dbde2"/>
<circle cx="271.7" cy="538.4" r="2.65" fill="#8e40b0"/>
<circle cx="269.5" cy="600.2" r="2.65" fill="#4152b6"/>
<circle cx="258.4" cy="700.1" r="2.65" fill="#e8722b"/>
<circle cx="269.9" cy="627.9" r="2.65" fill="#7ec244"/>
<circle cx="260.6" cy="679.1" r="2.65" fill="#e8722b"/>
<circle cx="259" cy="690.1" r="2.65" fill="#e8722b"/>
<circle cx="277.2" cy="579.2" r="2.65" fill="#5dbde2"/>
<circle cx="269.1" cy="614.2" r="2.65" fill="#7ec244"/>
<circle cx="270.2" cy="625.1" r="2.65" fill="#7ec244"/>
<circle cx="262" cy="672.2" r="2.65" fill="#e2de34"/>
<circle cx="282.6" cy="521" r="2.65" fill="#8e40b0"/>
<circle cx="281.3" cy="518.3" r="2.65" fill="#8e40b0"/>
<circle cx="272.1" cy="541.2" r="2.65" fill="#8e40b0"/>
<circle cx="266.6" cy="637.1" r="2.65" fill="#7ec244"/>
<circle cx="269.8" cy="627.5" r="2.65" fill="#7ec244"/>
<circle cx="264.9" cy="640.2" r="2.65" fill="#b8d437"/>
<circle cx="282" cy="545.1" r="2.65" fill="#8e40b0"/>
<circle cx="272.5" cy="581.6" r="2.65" fill="#4152b6"/>
<circle cx="281.1" cy="568.1" r="2.65" fill="#4152b6"/>
<circle cx="280.6" cy="494.4" r="2.65" fill="#8e40b0"/>
<circle cx="265.8" cy="624.2" r="2.65" fill="#7ec244"/>
<circle cx="268" cy="654.5" r="2.65" fill="#b8d437"/>
<circle cx="269.1" cy="601.7" r="2.65" fill="#5dbde2"/>
<circle cx="276.3" cy="532.3" r="2.65" fill="#8e40b0"/>
<circle cx="259.2" cy="687" r="2.65" fill="#e8722b"/>
<circle cx="265" cy="647.9" r="2.65" fill="#b8d437"/>
<circle cx="264.7" cy="651.4" r="2.65" fill="#b8d437"/>
<circle cx="274.5" cy="580.2" r="2.65" fill="#4152b6"/>
<circle cx="265.7" cy="643.4" r="2.65" fill="#7ec244"/>
<circle cx="266.6" cy="649.1" r="2.65" fill="#b8d437"/>
<circle cx="281.7" cy="541.8" r="2.65" fill="#4152b6"/>
<circle cx="291.5" cy="526.9" r="2.65" fill="#8e40b0"/>
<circle cx="261" cy="648.2" r="2.65" fill="#b8d437"/>
<circle cx="283.8" cy="542.3" r="2.65" fill="#4152b6"/>
<circle cx="268.9" cy="558.5" r="2.65" fill="#4152b6"/>
<circle cx="259.3" cy="653.5" r="2.65" fill="#b8d437"/>
<circle cx="269.6" cy="615.2" r="2.65" fill="#7ec244"/>
<circle cx="281.9" cy="499.1" r="2.65" fill="#8e40b0"/>
<circle cx="264.6" cy="650.2" r="2.65" fill="#7ec244"/>
<circle cx="270.1" cy="611.1" r="2.65" fill="#5dbde2"/>
<circle cx="260.4" cy="664.6" r="2.65" fill="#b8d437"/>
<circle cx="272.1" cy="513.2" r="2.65" fill="#8e40b0"/>
<circle cx="272" cy="533.3" r="2.65" fill="#8e40b0"/>
<circle cx="273.2" cy="601.4" r="2.65" fill="#5dbde2"/>
<circle cx="265.1" cy="639.9" r="2.65" fill="#7ec244"/>
<circle cx="281.1" cy="502.2" r="2.65" fill="#8e40b0"/>
<circle cx="263.6" cy="650.7" r="2.65" fill="#b8d437"/>
<circle cx="262.1" cy="682.6" r="2.65" fill="#e8722b"/>
<circle cx="264.9" cy="633.4" r="2.65" fill="#7ec244"/>
<circle cx="266.4" cy="619.9" r="2.65" fill="#7ec244"/>
<circle cx="262.6" cy="622.3" r="2.65" fill="#7ec244"/>
<circle cx="275.9" cy="597.8" r="2.65" fill="#4152b6"/>
<circle cx="268.5" cy="458.2" r="2.65" fill="#4152b6"/>
<circle cx="284.2" cy="489.5" r="2.65" fill="#8e40b0"/>
<circle cx="263.6" cy="454.3" r="2.65" fill="#4152b6"/>
<circle cx="259.4" cy="439.2" r="2.65" fill="#4152b6"/>
<circle cx="259.1" cy="442.2" r="2.65" fill="#4152b6"/>
<circle cx="280.8" cy="494.1" r="2.65" fill="#8e40b0"/>
<circle cx="269.6" cy="452.2" r="2.65" fill="#4152b6"/>
<circle cx="270.1" cy="476.3" r="2.65" fill="#4152b6"/>
<circle cx="282.1" cy="487.8" r="2.65" fill="#8e40b0"/>
<circle cx="272.8" cy="476" r="2.65" fill="#8e40b0"/>
<circle cx="275.7" cy="481.5" r="2.65" fill="#8e40b0"/>
<circle cx="271.3" cy="462.9" r="2.65" fill="#4152b6"/>
<circle cx="276.9" cy="489.6" r="2.65" fill="#8e40b0"/>
<circle cx="270" cy="470.8" r="2.65" fill="#4152b6"/>
<circle cx="264.9" cy="440.9" r="2.65" fill="#4152b6"/>
<circle cx="263.5" cy="450.4" r="2.65" fill="#4152b6"/>
<circle cx="266.1" cy="474.5" r="2.65" fill="#4152b6"/>
<circle cx="268.4" cy="464.5" r="2.65" fill="#4152b6"/>
<circle cx="263.5" cy="462.6" r="2.65" fill="#4152b6"/>
<circle cx="256.5" cy="444.7" r="2.65" fill="#4152b6"/>
<circle cx="280.3" cy="474.2" r="2.65" fill="#4152b6"/>
<circle cx="259.5" cy="447.8" r="2.65" fill="#4152b6"/>
<circle cx="265.6" cy="454.1" r="2.65" fill="#4152b6"/>
<circle cx="272.8" cy="462.1" r="2.65" fill="#4152b6"/>
<circle cx="285.1" cy="484.3" r="2.65" fill="#8e40b0"/>
<circle cx="266.5" cy="455.3" r="2.65" fill="#4152b6"/>
<circle cx="261.4" cy="441.5" r="2.65" fill="#4152b6"/>
<circle cx="280.6" cy="487.2" r="2.65" fill="#8e40b0"/>
<circle cx="274.5" cy="468.7" r="2.65" fill="#4152b6"/>
<circle cx="263.3" cy="465.4" r="2.65" fill="#4152b6"/>
<circle cx="275.6" cy="474.1" r="2.65" fill="#8e40b0"/>
<circle cx="271.9" cy="477.7" r="2.65" fill="#4152b6"/>
<circle cx="259.6" cy="455.1" r="2.65" fill="#4152b6"/>
<circle cx="269.9" cy="464" r="2.65" fill="#4152b6"/>
<circle cx="273.1" cy="480.2" r="2.65" fill="#8e40b0"/>
<circle cx="258.2" cy="441.5" r="2.65" fill="#4152b6"/>
<circle cx="269.8" cy="460.9" r="2.65" fill="#4152b6"/>
<circle cx="262.8" cy="447.9" r="2.65" fill="#4152b6"/>
<circle cx="270.5" cy="467" r="2.65" fill="#4152b6"/>
<circle cx="264.9" cy="444.7" r="2.65" fill="#4152b6"/>
<circle cx="260.7" cy="449.6" r="2.65" fill="#4152b6"/>
<circle cx="284.1" cy="487.8" r="2.65" fill="#8e40b0"/>
<circle cx="284.6" cy="480.8" r="2.65" fill="#8e40b0"/>
<circle cx="273" cy="480.5" r="2.65" fill="#8e40b0"/>
<circle cx="276.3" cy="466.9" r="2.65" fill="#4152b6"/>
<circle cx="268.6" cy="461.5" r="2.65" fill="#4152b6"/>
<circle cx="270.7" cy="461.4" r="2.65" fill="#4152b6"/>
<circle cx="279.3" cy="472.3" r="2.65" fill="#4152b6"/>
<circle cx="273.3" cy="473.1" r="2.65" fill="#4152b6"/>
<circle cx="262.7" cy="441.4" r="2.65" fill="#4152b6"/>
<circle cx="268.3" cy="463.5" r="2.65" fill="#4152b6"/>
<circle cx="274" cy="472" r="2.65" fill="#4152b6"/>
<circle cx="262" cy="448.9" r="2.65" fill="#4152b6"/>
<circle cx="276.3" cy="468" r="2.65" fill="#4152b6"/>
<circle cx="261.4" cy="441.4" r="2.65" fill="#4152b6"/>
<circle cx="276.8" cy="482.8" r="2.65" fill="#8e40b0"/>
<circle cx="267.6" cy="458.6" r="2.65" fill="#4152b6"/>
<circle cx="277.7" cy="474" r="2.65" fill="#4152b6"/>
<circle cx="261" cy="443.8" r="2.65" fill="#4152b6"/>
<circle cx="267.4" cy="470.3" r="2.65" fill="#4152b6"/>
<circle cx="338.7" cy="473.9" r="2.65" fill="#4152b6"/>
<circle cx="295.4" cy="485.3" r="2.65" fill="#8e40b0"/>
<circle cx="324.4" cy="476.5" r="2.65" fill="#c63aa0"/>
<circle cx="309.3" cy="483.3" r="2.65" fill="#c63aa0"/>
<circle cx="288" cy="494.9" r="2.65" fill="#8e40b0"/>
<circle cx="319.8" cy="484.5" r="2.65" fill="#4152b6"/>
<circle cx="340.5" cy="477.4" r="2.65" fill="#4152b6"/>
<circle cx="285.6" cy="491.5" r="2.65" fill="#8e40b0"/>
<circle cx="293" cy="494.3" r="2.65" fill="#8e40b0"/>
<circle cx="338.5" cy="473.2" r="2.65" fill="#4152b6"/>
<circle cx="314.1" cy="489" r="2.65" fill="#c63aa0"/>
<circle cx="309.8" cy="491.8" r="2.65" fill="#c63aa0"/>
<circle cx="306.2" cy="484.7" r="2.65" fill="#8e40b0"/>
<circle cx="337.5" cy="474.8" r="2.65" fill="#4152b6"/>
<circle cx="323" cy="488.6" r="2.65" fill="#4152b6"/>
<circle cx="316" cy="487.8" r="2.65" fill="#8e40b0"/>
<circle cx="298.2" cy="484" r="2.65" fill="#8e40b0"/>
<circle cx="309.6" cy="487.8" r="2.65" fill="#4152b6"/>
<circle cx="359.3" cy="465.8" r="2.65" fill="#4152b6"/>
<circle cx="285.2" cy="489.4" r="2.65" fill="#8e40b0"/>
<circle cx="335.5" cy="479.8" r="2.65" fill="#4152b6"/>
<circle cx="351.3" cy="471.6" r="2.65" fill="#4152b6"/>
<circle cx="323.1" cy="471.9" r="2.65" fill="#4152b6"/>
<circle cx="343.4" cy="477.8" r="2.65" fill="#4152b6"/>
<circle cx="307.2" cy="480.7" r="2.65" fill="#c63aa0"/>
<circle cx="310.4" cy="486.3" r="2.65" fill="#c63aa0"/>
<circle cx="291.2" cy="488.2" r="2.65" fill="#8e40b0"/>
<circle cx="307.7" cy="482.2" r="2.65" fill="#c63aa0"/>
<circle cx="342.3" cy="472.7" r="2.65" fill="#4152b6"/>
<circle cx="309.1" cy="477" r="2.65" fill="#c63aa0"/>
<circle cx="333.2" cy="478.5" r="2.65" fill="#4152b6"/>
<circle cx="314.6" cy="475.3" r="2.65" fill="#c63aa0"/>
<circle cx="287.8" cy="486.2" r="2.65" fill="#8e40b0"/>
<circle cx="294" cy="482.2" r="2.65" fill="#8e40b0"/>
<circle cx="335.1" cy="475.1" r="2.65" fill="#4152b6"/>
<circle cx="350.8" cy="466.6" r="2.65" fill="#4152b6"/>
<circle cx="345" cy="476.7" r="2.65" fill="#4152b6"/>
<circle cx="320.6" cy="477.9" r="2.65" fill="#c63aa0"/>
<circle cx="334.8" cy="480.4" r="2.65" fill="#4152b6"/>
<circle cx="298.2" cy="497.8" r="2.65" fill="#8e40b0"/>
<circle cx="310.3" cy="486" r="2.65" fill="#8e40b0"/>
<circle cx="353.2" cy="465.5" r="2.65" fill="#4152b6"/>
<circle cx="304.5" cy="480.2" r="2.65" fill="#c63aa0"/>
<circle cx="295.1" cy="485.6" r="2.65" fill="#8e40b0"/>
<circle cx="336.1" cy="466.6" r="2.65" fill="#4152b6"/>
<circle cx="342.8" cy="479.1" r="2.65" fill="#4152b6"/>
<circle cx="306.9" cy="481.2" r="2.65" fill="#8e40b0"/>
<circle cx="310.7" cy="487.3" r="2.65" fill="#8e40b0"/>
<circle cx="312.1" cy="482.9" r="2.65" fill="#8e40b0"/>
<circle cx="305.3" cy="484" r="2.65" fill="#8e40b0"/>
<circle cx="305.2" cy="491.5" r="2.65" fill="#8e40b0"/>
<circle cx="315.3" cy="486.8" r="2.65" fill="#c63aa0"/>
<circle cx="348" cy="471.2" r="2.65" fill="#4152b6"/>
<circle cx="311.4" cy="492.4" r="2.65" fill="#4152b6"/>
<circle cx="343.9" cy="479.8" r="2.65" fill="#4152b6"/>
<circle cx="343.5" cy="476.6" r="2.65" fill="#4152b6"/>
<circle cx="349.7" cy="476" r="2.65" fill="#4152b6"/>
<circle cx="322.5" cy="481" r="2.65" fill="#c63aa0"/>
<circle cx="314.6" cy="484.9" r="2.65" fill="#c63aa0"/>
<circle cx="347.6" cy="472.2" r="2.65" fill="#4152b6"/>
<circle cx="299.6" cy="480.9" r="2.65" fill="#8e40b0"/>
<circle cx="347.8" cy="477.3" r="2.65" fill="#4152b6"/>
<circle cx="305.5" cy="480.6" r="2.65" fill="#8e40b0"/>
<circle cx="304.1" cy="492.8" r="2.65" fill="#8e40b0"/>
<circle cx="359.3" cy="470.1" r="2.65" fill="#4152b6"/>
<circle cx="352.6" cy="471.2" r="2.65" fill="#4152b6"/>
<circle cx="344.7" cy="467.5" r="2.65" fill="#4152b6"/>
<circle cx="352.1" cy="467.7" r="2.65" fill="#4152b6"/>
<circle cx="328.5" cy="477.5" r="2.65" fill="#4152b6"/>
<circle cx="306.8" cy="487.5" r="2.65" fill="#c63aa0"/>
<circle cx="334.6" cy="485.8" r="2.65" fill="#4152b6"/>
<circle cx="319.6" cy="484" r="2.65" fill="#4152b6"/>
<circle cx="311.1" cy="475.8" r="2.65" fill="#c63aa0"/>
<circle cx="338.8" cy="473.9" r="2.65" fill="#4152b6"/>
<circle cx="288.6" cy="492.6" r="2.65" fill="#8e40b0"/>
<circle cx="356.5" cy="471.5" r="2.65" fill="#4152b6"/>
<circle cx="358.9" cy="468" r="2.65" fill="#4152b6"/>
<circle cx="292.8" cy="490.2" r="2.65" fill="#8e40b0"/>
<circle cx="309.6" cy="481" r="2.65" fill="#c63aa0"/>
<circle cx="318" cy="486.2" r="2.65" fill="#c63aa0"/>
<circle cx="285.2" cy="536.1" r="2.65" fill="#4152b6"/>
<circle cx="276.9" cy="535.9" r="2.65" fill="#4152b6"/>
<circle cx="269.9" cy="544.1" r="2.65" fill="#4152b6"/>
<circle cx="275.3" cy="500.4" r="2.65" fill="#8e40b0"/>
<circle cx="281" cy="565.9" r="2.65" fill="#4152b6"/>
<circle cx="287.9" cy="493" r="2.65" fill="#8e40b0"/>
<circle cx="283" cy="565.2" r="2.65" fill="#4152b6"/>
<circle cx="282.6" cy="528.3" r="2.65" fill="#4152b6"/>
<circle cx="284.4" cy="506.1" r="2.65" fill="#8e40b0"/>
<circle cx="291.4" cy="532.1" r="2.65" fill="#4152b6"/>
<circle cx="283.1" cy="505.4" r="2.65" fill="#8e40b0"/>
<circle cx="275.4" cy="594.2" r="2.65" fill="#4152b6"/>
<circle cx="277" cy="594.7" r="2.65" fill="#4152b6"/>
<circle cx="274.7" cy="598.8" r="2.65" fill="#4152b6"/>
<circle cx="277.4" cy="562.5" r="2.65" fill="#4152b6"/>
<circle cx="278.7" cy="536.6" r="2.65" fill="#4152b6"/>
<circle cx="283.5" cy="496.9" r="2.65" fill="#8e40b0"/>
<circle cx="274.8" cy="591.3" r="2.65" fill="#4152b6"/>
<circle cx="283.8" cy="530.3" r="2.65" fill="#4152b6"/>
<circle cx="278.9" cy="553" r="2.65" fill="#4152b6"/>
<circle cx="274.1" cy="589.2" r="2.65" fill="#4152b6"/>
<circle cx="274.7" cy="597.7" r="2.65" fill="#4152b6"/>
<circle cx="275.7" cy="584.7" r="2.65" fill="#4152b6"/>
<circle cx="277.1" cy="579.1" r="2.65" fill="#4152b6"/>
<circle cx="267" cy="582.9" r="2.65" fill="#4152b6"/>
<circle cx="284.2" cy="537.7" r="2.65" fill="#4152b6"/>
<circle cx="274.7" cy="571.2" r="2.65" fill="#4152b6"/>
<circle cx="285.5" cy="534.6" r="2.65" fill="#4152b6"/>
<circle cx="273.6" cy="535.9" r="2.65" fill="#4152b6"/>
<circle cx="274.9" cy="550.1" r="2.65" fill="#4152b6"/>
<circle cx="270.6" cy="588" r="2.65" fill="#4152b6"/>
<circle cx="273.8" cy="585.1" r="2.65" fill="#4152b6"/>
<circle cx="285.8" cy="512.8" r="2.65" fill="#8e40b0"/>
<circle cx="288.6" cy="516.8" r="2.65" fill="#8e40b0"/>
<circle cx="283.9" cy="512.4" r="2.65" fill="#4152b6"/>
<circle cx="280.1" cy="551.3" r="2.65" fill="#4152b6"/>
<circle cx="287.1" cy="510.4" r="2.65" fill="#8e40b0"/>
<circle cx="276" cy="528.2" r="2.65" fill="#4152b6"/>
<circle cx="278.5" cy="551.5" r="2.65" fill="#4152b6"/>
<circle cx="285.7" cy="493.7" r="2.65" fill="#8e40b0"/>
<circle cx="278.1" cy="533.1" r="2.65" fill="#4152b6"/>
<circle cx="285.1" cy="539.4" r="2.65" fill="#4152b6"/>
<circle cx="275.2" cy="577.9" r="2.65" fill="#4152b6"/>
<circle cx="276.1" cy="510.2" r="2.65" fill="#4152b6"/>
<circle cx="285.5" cy="560.1" r="2.65" fill="#4152b6"/>
<circle cx="287.5" cy="551" r="2.65" fill="#4152b6"/>
<circle cx="284.1" cy="571.3" r="2.65" fill="#4152b6"/>
<circle cx="285.6" cy="494" r="2.65" fill="#8e40b0"/>
<circle cx="275.7" cy="597" r="2.65" fill="#4152b6"/>
<circle cx="279.6" cy="526.9" r="2.65" fill="#4152b6"/>
<circle cx="284.7" cy="505.1" r="2.65" fill="#8e40b0"/>
<circle cx="275" cy="556.8" r="2.65" fill="#4152b6"/>
<circle cx="271.9" cy="589.8" r="2.65" fill="#4152b6"/>
<circle cx="287.9" cy="544.8" r="2.65" fill="#4152b6"/>
<circle cx="273.6" cy="539.6" r="2.65" fill="#4152b6"/>
<circle cx="276.5" cy="516.9" r="2.65" fill="#4152b6"/>
<circle cx="284.3" cy="530.2" r="2.65" fill="#4152b6"/>
<circle cx="274.4" cy="515.5" r="2.65" fill="#8e40b0"/>
<circle cx="279.5" cy="581.3" r="2.65" fill="#4152b6"/>
<circle cx="281.2" cy="574.4" r="2.65" fill="#4152b6"/>
<circle cx="277.2" cy="568.5" r="2.65" fill="#4152b6"/>
<circle cx="272.1" cy="587.3" r="2.65" fill="#4152b6"/>
<circle cx="283.8" cy="523.6" r="2.65" fill="#4152b6"/>
<circle cx="290.7" cy="500.4" r="2.65" fill="#8e40b0"/>
<circle cx="282.9" cy="563.2" r="2.65" fill="#4152b6"/>
<circle cx="279.8" cy="555" r="2.65" fill="#4152b6"/>
<circle cx="288.2" cy="514" r="2.65" fill="#4152b6"/>
<circle cx="278.9" cy="551.6" r="2.65" fill="#4152b6"/>
<circle cx="280.8" cy="542.1" r="2.65" fill="#4152b6"/>
<circle cx="280" cy="547.8" r="2.65" fill="#4152b6"/>
<circle cx="272.5" cy="545.2" r="2.65" fill="#4152b6"/>
<circle cx="277.3" cy="599.7" r="2.65" fill="#4152b6"/>
<circle cx="265.5" cy="580.5" r="2.65" fill="#4152b6"/>
<circle cx="274.8" cy="591.4" r="2.65" fill="#4152b6"/>
<circle cx="273.3" cy="574.6" r="2.65" fill="#4152b6"/>
<circle cx="275.3" cy="560.4" r="2.65" fill="#4152b6"/>
<circle cx="280.6" cy="548.8" r="2.65" fill="#4152b6"/>
<circle cx="271" cy="588.8" r="2.65" fill="#4152b6"/>
<circle cx="280.1" cy="500" r="2.65" fill="#8e40b0"/>
<circle cx="280.6" cy="531.5" r="2.65" fill="#4152b6"/>
<circle cx="274.3" cy="533" r="2.65" fill="#4152b6"/>
<circle cx="281" cy="519.9" r="2.65" fill="#8e40b0"/>
<circle cx="279.9" cy="578" r="2.65" fill="#4152b6"/>
<circle cx="278.5" cy="545.3" r="2.65" fill="#4152b6"/>
<circle cx="273.3" cy="595.5" r="2.65" fill="#4152b6"/>
<circle cx="275.6" cy="552.2" r="2.65" fill="#4152b6"/>
<circle cx="288.8" cy="500" r="2.65" fill="#8e40b0"/>
<circle cx="274.8" cy="577.6" r="2.65" fill="#4152b6"/>
<circle cx="278.8" cy="534.8" r="2.65" fill="#4152b6"/>
<circle cx="278.7" cy="574.2" r="2.65" fill="#4152b6"/>
<circle cx="256.2" cy="484.3" r="2.65" fill="#c63aa0"/>
<circle cx="261.6" cy="487.6" r="2.65" fill="#c63aa0"/>
<circle cx="229.2" cy="473.3" r="2.65" fill="#8e40b0"/>
<circle cx="276.4" cy="494.2" r="2.65" fill="#c63aa0"/>
<circle cx="241" cy="479.9" r="2.65" fill="#8e40b0"/>
<circle cx="259.7" cy="487.9" r="2.65" fill="#c63aa0"/>
<circle cx="248.5" cy="478.8" r="2.65" fill="#8e40b0"/>
<circle cx="273.8" cy="487.4" r="2.65" fill="#c63aa0"/>
<circle cx="243.3" cy="481.3" r="2.65" fill="#c63aa0"/>
<circle cx="265.5" cy="489.4" r="2.65" fill="#8e40b0"/>
<circle cx="251.7" cy="480.3" r="2.65" fill="#8e40b0"/>
<circle cx="275.6" cy="485.9" r="2.65" fill="#c63aa0"/>
<circle cx="234.8" cy="474.9" r="2.65" fill="#8e40b0"/>
<circle cx="231.7" cy="479.6" r="2.65" fill="#8e40b0"/>
<circle cx="215.8" cy="471.5" r="2.65" fill="#8e40b0"/>
<circle cx="237" cy="474.4" r="2.65" fill="#8e40b0"/>
<circle cx="237.2" cy="475.6" r="2.65" fill="#8e40b0"/>
<circle cx="272" cy="487.6" r="2.65" fill="#c63aa0"/>
<circle cx="226.7" cy="473.2" r="2.65" fill="#8e40b0"/>
<circle cx="215.8" cy="468.7" r="2.65" fill="#8e40b0"/>
<circle cx="218.2" cy="474.5" r="2.65" fill="#8e40b0"/>
<circle cx="275.9" cy="476.3" r="2.65" fill="#c63aa0"/>
<circle cx="245.7" cy="474.6" r="2.65" fill="#8e40b0"/>
<circle cx="224.8" cy="471.1" r="2.65" fill="#8e40b0"/>
<circle cx="268.6" cy="485.1" r="2.65" fill="#c63aa0"/>
<circle cx="274" cy="489.4" r="2.65" fill="#c63aa0"/>
<circle cx="217.3" cy="470.2" r="2.65" fill="#8e40b0"/>
<circle cx="243" cy="481.9" r="2.65" fill="#c63aa0"/>
<circle cx="271.1" cy="486.8" r="2.65" fill="#c63aa0"/>
<circle cx="234.7" cy="476.3" r="2.65" fill="#8e40b0"/>
<circle cx="281.9" cy="489.8" r="2.65" fill="#c63aa0"/>
<circle cx="275.8" cy="490.3" r="2.65" fill="#c63aa0"/>
<circle cx="269.9" cy="489.7" r="2.65" fill="#c63aa0"/>
<circle cx="218.7" cy="470.7" r="2.65" fill="#8e40b0"/>
<circle cx="277.3" cy="485" r="2.65" fill="#c63aa0"/>
<circle cx="249.8" cy="477.7" r="2.65" fill="#c63aa0"/>
<circle cx="220.3" cy="469.4" r="2.65" fill="#8e40b0"/>
<circle cx="251.8" cy="476.9" r="2.65" fill="#8e40b0"/>
<circle cx="274.8" cy="487.6" r="2.65" fill="#c63aa0"/>
<circle cx="215.2" cy="469.6" r="2.65" fill="#8e40b0"/>
<circle cx="276.5" cy="522.2" r="2.65" fill="#8e40b0"/>
<circle cx="295.7" cy="512.4" r="2.65" fill="#8e40b0"/>
<circle cx="283.9" cy="514.4" r="2.65" fill="#4152b6"/>
<circle cx="310.4" cy="515.7" r="2.65" fill="#4152b6"/>
<circle cx="293.7" cy="507.5" r="2.65" fill="#4152b6"/>
<circle cx="274.1" cy="498" r="2.65" fill="#4152b6"/>
<circle cx="294.6" cy="507" r="2.65" fill="#5dbde2"/>
<circle cx="252.9" cy="481.8" r="2.65" fill="#4152b6"/>
<circle cx="255.8" cy="506.7" r="2.65" fill="#8e40b0"/>
<circle cx="263.1" cy="505.2" r="2.65" fill="#5a45b4"/>
<circle cx="292.6" cy="497.8" r="2.65" fill="#4152b6"/>
<circle cx="288" cy="480.4" r="2.65" fill="#4152b6"/>
<circle cx="270.2" cy="489.4" r="2.65" fill="#c63aa0"/>
<circle cx="276.5" cy="493.5" r="2.65" fill="#8e40b0"/>
<circle cx="284.5" cy="489.3" r="2.65" fill="#8e40b0"/>
<circle cx="294.5" cy="518.5" r="2.65" fill="#8e40b0"/>
<circle cx="285.1" cy="482.1" r="2.65" fill="#8e40b0"/>
<circle cx="267.7" cy="470.8" r="2.65" fill="#5dbde2"/>
<circle cx="269.7" cy="513.5" r="2.65" fill="#5a45b4"/>
<circle cx="253.5" cy="502.4" r="2.65" fill="#5a45b4"/>
<circle cx="269.7" cy="512.5" r="2.65" fill="#4152b6"/>
<circle cx="283" cy="501.4" r="2.65" fill="#8e40b0"/>
<circle cx="280.6" cy="478.1" r="2.65" fill="#4152b6"/>
<circle cx="267.6" cy="469.4" r="2.65" fill="#4152b6"/>
<circle cx="287.1" cy="504" r="2.65" fill="#5dbde2"/>
<circle cx="273" cy="457" r="2.65" fill="#4152b6"/>
<circle cx="259.4" cy="509.2" r="2.65" fill="#5a45b4"/>
<circle cx="287.6" cy="490.3" r="2.65" fill="#4152b6"/>
<circle cx="283.2" cy="495.1" r="2.65" fill="#5a45b4"/>
<circle cx="305.1" cy="492.9" r="2.65" fill="#c63aa0"/>
<circle cx="292.4" cy="510.1" r="2.65" fill="#c63aa0"/>
<circle cx="266.8" cy="526.4" r="2.65" fill="#4152b6"/>
<circle cx="266.2" cy="498" r="2.65" fill="#4152b6"/>
<circle cx="282.5" cy="461.2" r="2.65" fill="#4152b6"/>
<circle cx="274.1" cy="481.7" r="2.65" fill="#4152b6"/>
<circle cx="306.5" cy="512.3" r="2.65" fill="#5a45b4"/>
<circle cx="296.7" cy="498.8" r="2.65" fill="#4152b6"/>
<circle cx="302.5" cy="499.2" r="2.65" fill="#8e40b0"/>
<circle cx="290.9" cy="515" r="2.65" fill="#5a45b4"/>
<circle cx="250.6" cy="529.3" r="2.65" fill="#4152b6"/>
<circle cx="291.6" cy="509.2" r="2.65" fill="#8e40b0"/>
<circle cx="281.4" cy="480.1" r="2.65" fill="#5dbde2"/>
<circle cx="280.5" cy="513.1" r="2.65" fill="#4152b6"/>
<circle cx="298.7" cy="476.5" r="2.65" fill="#8e40b0"/>
<circle cx="296.9" cy="516.2" r="2.65" fill="#5a45b4"/>
<circle cx="280.4" cy="504.6" r="2.65" fill="#4152b6"/>
<circle cx="315.2" cy="479.2" r="2.65" fill="#4152b6"/>
<circle cx="302.1" cy="491.8" r="2.65" fill="#4152b6"/>
<circle cx="294.8" cy="478.2" r="2.65" fill="#5dbde2"/>
<circle cx="276.2" cy="476" r="2.65" fill="#5dbde2"/>
<circle cx="278.3" cy="478" r="2.65" fill="#8e40b0"/>
<circle cx="296.4" cy="489" r="2.65" fill="#8e40b0"/>
<circle cx="284.1" cy="472.9" r="2.65" fill="#c63aa0"/>
<circle cx="315" cy="511.7" r="2.65" fill="#5a45b4"/>
<circle cx="308.3" cy="521.6" r="2.65" fill="#5a45b4"/>
<circle cx="268" cy="498.8" r="2.65" fill="#5dbde2"/>
<circle cx="277.2" cy="494.1" r="2.65" fill="#8e40b0"/>
<circle cx="299.4" cy="497.8" r="2.65" fill="#5a45b4"/>
<circle cx="288.1" cy="520.3" r="2.65" fill="#5dbde2"/>
<circle cx="293.4" cy="483.3" r="2.65" fill="#4152b6"/>
<circle cx="258.8" cy="520.6" r="2.65" fill="#8e40b0"/>
<circle cx="274.5" cy="485.3" r="2.65" fill="#8e40b0"/>
<circle cx="290.3" cy="494.7" r="2.65" fill="#5a45b4"/>
<circle cx="279.6" cy="486.3" r="2.65" fill="#4152b6"/>
<circle cx="288" cy="507.1" r="2.65" fill="#4152b6"/>
<circle cx="294.7" cy="482.9" r="2.65" fill="#5a45b4"/>
<circle cx="264.4" cy="466.4" r="2.65" fill="#4152b6"/>
<circle cx="281.1" cy="522.6" r="2.65" fill="#4152b6"/>
<circle cx="275.8" cy="507.3" r="2.65" fill="#5a45b4"/>
<circle cx="278.1" cy="491.8" r="2.65" fill="#8e40b0"/>
<circle cx="273.6" cy="489.5" r="2.65" fill="#4152b6"/>
<circle cx="272" cy="480.1" r="2.65" fill="#4152b6"/>
<circle cx="301.5" cy="520.4" r="2.65" fill="#5dbde2"/>
<circle cx="300.1" cy="492.4" r="2.65" fill="#5dbde2"/>
<circle cx="260.9" cy="483.1" r="2.65" fill="#8e40b0"/>
<circle cx="253.6" cy="501.8" r="2.65" fill="#4152b6"/>
<circle cx="270" cy="496.1" r="2.65" fill="#c63aa0"/>
<circle cx="311.1" cy="476.4" r="2.65" fill="#4152b6"/>
<circle cx="279.2" cy="503.4" r="2.65" fill="#c63aa0"/>
<circle cx="263.6" cy="490" r="2.65" fill="#8e40b0"/>
<circle cx="302.2" cy="500.5" r="2.65" fill="#4152b6"/>
<circle cx="256.7" cy="468" r="2.65" fill="#4152b6"/>
<circle cx="254.7" cy="494.5" r="2.65" fill="#4152b6"/>
<circle cx="268.9" cy="473.5" r="2.65" fill="#8e40b0"/>
<circle cx="299.9" cy="514.1" r="2.65" fill="#4152b6"/>
<circle cx="298.8" cy="498.6" r="2.65" fill="#c63aa0"/>
<circle cx="325.1" cy="470.6" r="2.65" fill="#4152b6"/>
<circle cx="279" cy="504.1" r="2.65" fill="#5dbde2"/>
<circle cx="274.2" cy="486" r="2.65" fill="#8e40b0"/>
<circle cx="286.9" cy="489.5" r="2.65" fill="#5a45b4"/>
<circle cx="302.4" cy="476.4" r="2.65" fill="#4152b6"/>
<circle cx="301.1" cy="463" r="2.65" fill="#8e40b0"/>
<circle cx="296.5" cy="475.2" r="2.65" fill="#8e40b0"/>
<circle cx="307.3" cy="466.7" r="2.65" fill="#8e40b0"/>
<circle cx="302.2" cy="467.6" r="2.65" fill="#8e40b0"/>
<circle cx="297.9" cy="470.3" r="2.65" fill="#5a45b4"/>
<circle cx="307.3" cy="472.1" r="2.65" fill="#8e40b0"/>
<circle cx="300.9" cy="467.6" r="2.65" fill="#8e40b0"/>
<circle cx="309.1" cy="467.4" r="2.65" fill="#8e40b0"/>
<circle cx="302.3" cy="469.8" r="2.65" fill="#8e40b0"/>
<circle cx="306.8" cy="473.6" r="2.65" fill="#4152b6"/>
<circle cx="296.8" cy="468.3" r="2.65" fill="#8e40b0"/>
<circle cx="303.7" cy="461.4" r="2.65" fill="#5a45b4"/>
<circle cx="303.3" cy="462.8" r="2.65" fill="#8e40b0"/>
<circle cx="307" cy="461.5" r="2.65" fill="#4152b6"/>
<circle cx="298.2" cy="460.5" r="2.65" fill="#5a45b4"/>
<circle cx="307.8" cy="464.4" r="2.65" fill="#8e40b0"/>
<circle cx="293" cy="460.1" r="2.65" fill="#8e40b0"/>
<circle cx="302.5" cy="472.5" r="2.65" fill="#8e40b0"/>
<circle cx="307.1" cy="459.6" r="2.65" fill="#8e40b0"/>
<circle cx="299.7" cy="464.2" r="2.65" fill="#5a45b4"/>
<circle cx="299.2" cy="464.3" r="2.65" fill="#4152b6"/>
<circle cx="298.4" cy="467.4" r="2.65" fill="#8e40b0"/>
<circle cx="303.5" cy="464" r="2.65" fill="#4152b6"/>
<circle cx="300.4" cy="461.3" r="2.65" fill="#4152b6"/>
<circle cx="307" cy="513.3" r="2.65" fill="#4152b6"/>
<circle cx="302.2" cy="507.3" r="2.65" fill="#4152b6"/>
<circle cx="309.5" cy="517.8" r="2.65" fill="#5a45b4"/>
<circle cx="305.2" cy="515.1" r="2.65" fill="#4152b6"/>
<circle cx="303.4" cy="514.8" r="2.65" fill="#4152b6"/>
<circle cx="298.8" cy="509.3" r="2.65" fill="#5a45b4"/>
<circle cx="307.3" cy="522" r="2.65" fill="#4152b6"/>
<circle cx="321.6" cy="504.4" r="2.65" fill="#4152b6"/>
<circle cx="296.5" cy="515" r="2.65" fill="#4152b6"/>
<circle cx="299.9" cy="505.7" r="2.65" fill="#4152b6"/>
<circle cx="293.5" cy="521" r="2.65" fill="#8e40b0"/>
<circle cx="304.7" cy="515.3" r="2.65" fill="#5a45b4"/>
<circle cx="302.4" cy="512.9" r="2.65" fill="#5a45b4"/>
<circle cx="315.4" cy="511.7" r="2.65" fill="#8e40b0"/>
<circle cx="302" cy="506.6" r="2.65" fill="#4152b6"/>
<circle cx="303" cy="519.4" r="2.65" fill="#4152b6"/>
<circle cx="309.8" cy="500.1" r="2.65" fill="#4152b6"/>
<circle cx="293.1" cy="520.8" r="2.65" fill="#5a45b4"/>
<circle cx="296.9" cy="522.3" r="2.65" fill="#8e40b0"/>
<circle cx="314" cy="515" r="2.65" fill="#8e40b0"/>
<circle cx="298.3" cy="508.4" r="2.65" fill="#4152b6"/>
<circle cx="294.2" cy="526.4" r="2.65" fill="#4152b6"/>
<circle cx="303.6" cy="516.6" r="2.65" fill="#5a45b4"/>
<circle cx="304.6" cy="517.8" r="2.65" fill="#4152b6"/>
<circle cx="299.2" cy="509.4" r="2.65" fill="#4152b6"/>
<circle cx="299.1" cy="523.9" r="2.65" fill="#4152b6"/>
<circle cx="314" cy="508.8" r="2.65" fill="#4152b6"/>
<circle cx="300.7" cy="512.5" r="2.65" fill="#4152b6"/>
<circle cx="294.7" cy="517.7" r="2.65" fill="#8e40b0"/>
<circle cx="306.7" cy="518" r="2.65" fill="#4152b6"/>
<circle cx="295.4" cy="530.2" r="2.65" fill="#5a45b4"/>
<circle cx="291.7" cy="506.9" r="2.65" fill="#4152b6"/>
<circle cx="300.4" cy="513.7" r="2.65" fill="#8e40b0"/>
<circle cx="289.9" cy="505.9" r="2.65" fill="#4152b6"/>
<circle cx="291.2" cy="503.8" r="2.65" fill="#4152b6"/>
<circle cx="287.7" cy="485.1" r="2.65" fill="#d9282b"/>
<circle cx="285" cy="495.3" r="2.65" fill="#d9282b"/>
<circle cx="285.6" cy="492.7" r="2.65" fill="#dc3a78"/>
<circle cx="282.5" cy="492.5" r="2.65" fill="#d9282b"/>
<circle cx="287.3" cy="496.9" r="2.65" fill="#dc3a78"/>
<circle cx="285.5" cy="488.8" r="2.65" fill="#d9282b"/>
<circle cx="288.1" cy="484.6" r="2.65" fill="#dc3a78"/>
<circle cx="288" cy="484.1" r="2.65" fill="#dc3a78"/>
<circle cx="291.4" cy="489.7" r="2.65" fill="#d9282b"/>
<circle cx="290.3" cy="496.8" r="2.65" fill="#e8722b"/>
<circle cx="287.2" cy="484" r="2.65" fill="#dc3a78"/>
<circle cx="292.9" cy="490.8" r="2.65" fill="#e8722b"/>
<circle cx="282.8" cy="489.8" r="2.65" fill="#d9282b"/>
<circle cx="281.8" cy="493.5" r="2.65" fill="#e8722b"/>
<circle cx="282.9" cy="487.7" r="2.65" fill="#c63aa0"/>
<circle cx="278.2" cy="480.5" r="2.65" fill="#e8722b"/>
<circle cx="289.5" cy="491.2" r="2.65" fill="#d9282b"/>
<circle cx="284.9" cy="488.7" r="2.65" fill="#c63aa0"/>
<circle cx="284.6" cy="490.1" r="2.65" fill="#d9282b"/>
<circle cx="292.6" cy="492.6" r="2.65" fill="#dc3a78"/>
<circle cx="274.5" cy="490.4" r="2.65" fill="#e8722b"/>
<circle cx="288.9" cy="491.3" r="2.65" fill="#c63aa0"/>
<circle cx="286.9" cy="492" r="2.65" fill="#c63aa0"/>
<circle cx="281" cy="487.4" r="2.65" fill="#e8722b"/>
<circle cx="279.2" cy="495.6" r="2.65" fill="#d9282b"/>
<line x1="80" y1="418.5" x2="284.7" y2="492.2" stroke="#111" stroke-width="6.3" stroke-dasharray="6.5 6"/>
<line x1="213.6" y1="333.3" x2="284.7" y2="492.2" stroke="#111" stroke-width="6.3" stroke-dasharray="6.5 6"/>
<line x1="478.5" y1="441" x2="284.7" y2="492.2" stroke="#111" stroke-width="6.3" stroke-dasharray="6.5 6"/>
<line x1="257.6" y1="709" x2="284.7" y2="492.2" stroke="#111" stroke-width="6.3" stroke-dasharray="6.5 6"/>
<rect x="279.2" y="486.7" width="11" height="11" fill="#111"/>
<circle cx="1063.3" cy="396.3" r="2.85" fill="#b8d437"/>
<circle cx="1062.9" cy="409.8" r="2.85" fill="#7ec244"/>
<circle cx="1084.5" cy="406.1" r="2.85" fill="#b8d437"/>
<circle cx="1086.9" cy="405.8" r="2.85" fill="#b8d437"/>
<circle cx="1103.7" cy="409.3" r="2.85" fill="#b8d437"/>
<circle cx="1077.1" cy="423.7" r="2.85" fill="#7ec244"/>
<circle cx="1091.8" cy="423.7" r="2.85" fill="#7ec244"/>
<circle cx="1102.1" cy="426.5" r="2.85" fill="#7ec244"/>
<circle cx="1106.5" cy="421.3" r="2.85" fill="#7ec244"/>
<circle cx="1112.5" cy="427.6" r="2.85" fill="#7ec244"/>
<circle cx="1123.6" cy="428.9" r="2.85" fill="#7ec244"/>
<circle cx="1134.2" cy="429.7" r="2.85" fill="#7ec244"/>
<circle cx="1113.8" cy="435.4" r="2.85" fill="#7ec244"/>
<circle cx="1114.6" cy="438.7" r="2.85" fill="#7ec244"/>
<circle cx="1089.7" cy="431.7" r="2.85" fill="#8e40b0"/>
<circle cx="1125.2" cy="440.3" r="2.85" fill="#7ec244"/>
<circle cx="1134.2" cy="441.6" r="2.85" fill="#7ec244"/>
<circle cx="1143.2" cy="432.2" r="2.85" fill="#4152b6"/>
<circle cx="1146.1" cy="435.4" r="2.85" fill="#5dbde2"/>
<circle cx="1153.8" cy="439" r="2.85" fill="#7ec244"/>
<circle cx="1159.5" cy="435.1" r="2.85" fill="#7ec244"/>
<circle cx="1165.2" cy="438.7" r="2.85" fill="#7ec244"/>
<circle cx="1141.5" cy="448.2" r="2.85" fill="#c63aa0"/>
<circle cx="1126.9" cy="452.6" r="2.85" fill="#e8722b"/>
<circle cx="1159.5" cy="450.1" r="2.85" fill="#7ec244"/>
<circle cx="1162.7" cy="452.6" r="2.85" fill="#7ec244"/>
<circle cx="1161.9" cy="455.8" r="2.85" fill="#7ec244"/>
<circle cx="1177.4" cy="443.6" r="2.85" fill="#7ec244"/>
<circle cx="1181.5" cy="446" r="2.85" fill="#7ec244"/>
<circle cx="1183.1" cy="448.5" r="2.85" fill="#7ec244"/>
<circle cx="1170.9" cy="448.5" r="2.85" fill="#7ec244"/>
<circle cx="1175" cy="449.3" r="2.85" fill="#7ec244"/>
<circle cx="1202.7" cy="447.7" r="2.85" fill="#7ec244"/>
<circle cx="1210" cy="450.1" r="2.85" fill="#7ec244"/>
<circle cx="1219.8" cy="442.8" r="2.85" fill="#7ec244"/>
<circle cx="1221.4" cy="446" r="2.85" fill="#e8722b"/>
<circle cx="1226.3" cy="468" r="2.85" fill="#e8722b"/>
<circle cx="1227.1" cy="472.9" r="2.85" fill="#e8722b"/>
<circle cx="1228" cy="459.9" r="2.85" fill="#e2de34"/>
<circle cx="1190.4" cy="471.3" r="2.85" fill="#4152b6"/>
<circle cx="1202.7" cy="471.3" r="2.85" fill="#7ec244"/>
<circle cx="1157.8" cy="476.2" r="2.85" fill="#7ec244"/>
<circle cx="1174.1" cy="479.5" r="2.85" fill="#7ec244"/>
<circle cx="1181.5" cy="478.6" r="2.85" fill="#7ec244"/>
<circle cx="1177.4" cy="484.4" r="2.85" fill="#7ec244"/>
<circle cx="1172.5" cy="482.7" r="2.85" fill="#7ec244"/>
<circle cx="1190.4" cy="482.7" r="2.85" fill="#7ec244"/>
<circle cx="1179.8" cy="490.5" r="2.85" fill="#7ec244"/>
<circle cx="1194.5" cy="491.7" r="2.85" fill="#b8d437"/>
<circle cx="1149.7" cy="492.5" r="2.85" fill="#6fc4b5"/>
<circle cx="1147.2" cy="495.8" r="2.85" fill="#5dbde2"/>
<circle cx="1158.6" cy="503.9" r="2.85" fill="#7ec244"/>
<circle cx="1148.9" cy="508" r="2.85" fill="#7ec244"/>
<circle cx="1175.8" cy="510.4" r="2.85" fill="#b8d437"/>
<circle cx="1176.1" cy="515.3" r="2.85" fill="#b8d437"/>
<circle cx="1132.6" cy="509.6" r="2.85" fill="#7ec244"/>
<circle cx="1153.8" cy="518.6" r="2.85" fill="#7ec244"/>
<circle cx="1054.2" cy="401.3" r="2.85" fill="#7ec244"/>
<circle cx="1061.5" cy="408.5" r="2.85" fill="#7ec244"/>
<circle cx="1080.4" cy="405" r="2.85" fill="#b8d437"/>
<circle cx="1077.5" cy="423.1" r="2.85" fill="#7ec244"/>
<circle cx="1031.6" cy="570.1" r="2.85" fill="#4152b6"/>
<circle cx="1037.3" cy="574.2" r="2.85" fill="#eaa030"/>
<circle cx="1051.1" cy="584" r="2.85" fill="#b8d437"/>
<circle cx="1066.6" cy="596.2" r="2.85" fill="#8e40b0"/>
<circle cx="1044.6" cy="610.9" r="2.85" fill="#e2de34"/>
<circle cx="1043" cy="601.9" r="2.85" fill="#7ec244"/>
<circle cx="1069.1" cy="575" r="2.85" fill="#7ec244"/>
<circle cx="1068.3" cy="583.2" r="2.85" fill="#b8d437"/>
<circle cx="1081.3" cy="582.3" r="2.85" fill="#7ec244"/>
<circle cx="1080.5" cy="575" r="2.85" fill="#5dbde2"/>
<circle cx="1086.2" cy="588.9" r="2.85" fill="#7ec244"/>
<circle cx="1084.6" cy="564.4" r="2.85" fill="#5dbde2"/>
<circle cx="1083.8" cy="559.5" r="2.85" fill="#5dbde2"/>
<circle cx="1097.6" cy="562.8" r="2.85" fill="#6fc4b5"/>
<circle cx="1103.8" cy="568.5" r="2.85" fill="#7ec244"/>
<circle cx="1109.8" cy="562.8" r="2.85" fill="#7ec244"/>
<circle cx="1074.8" cy="604.4" r="2.85" fill="#7ec244"/>
<circle cx="1082.1" cy="601.1" r="2.85" fill="#7ec244"/>
<circle cx="1083.8" cy="604.4" r="2.85" fill="#7ec244"/>
<circle cx="1081.3" cy="606.8" r="2.85" fill="#7ec244"/>
<circle cx="1087.8" cy="612.2" r="2.85" fill="#7ec244"/>
<circle cx="1078.9" cy="615.8" r="2.85" fill="#7ec244"/>
<circle cx="1069.6" cy="617.4" r="2.85" fill="#7ec244"/>
<circle cx="1069.9" cy="622.3" r="2.85" fill="#7ec244"/>
<circle cx="1073.2" cy="614.1" r="2.85" fill="#8e40b0"/>
<circle cx="1100.1" cy="596.2" r="2.85" fill="#7ec244"/>
<circle cx="1100.1" cy="610.9" r="2.85" fill="#b8d437"/>
<circle cx="1105.8" cy="584.8" r="2.85" fill="#7ec244"/>
<circle cx="1108.2" cy="590.5" r="2.85" fill="#7ec244"/>
<circle cx="1115.5" cy="553" r="2.85" fill="#7ec244"/>
<circle cx="1121.3" cy="548.1" r="2.85" fill="#7ec244"/>
<circle cx="1118.8" cy="539.1" r="2.85" fill="#6fc4b5"/>
<circle cx="1124.5" cy="541.6" r="2.85" fill="#7ec244"/>
<circle cx="1132.7" cy="553" r="2.85" fill="#7ec244"/>
<circle cx="1128.6" cy="564.4" r="2.85" fill="#b8d437"/>
<circle cx="1137.6" cy="540" r="2.85" fill="#7ec244"/>
<circle cx="1144.1" cy="529.3" r="2.85" fill="#7ec244"/>
<circle cx="1149.8" cy="534.2" r="2.85" fill="#7ec244"/>
<circle cx="1150.6" cy="535.9" r="2.85" fill="#7ec244"/>
<circle cx="1153.9" cy="519.6" r="2.85" fill="#7ec244"/>
<circle cx="1149" cy="508.2" r="2.85" fill="#6fc4b5"/>
<circle cx="1158.8" cy="504.1" r="2.85" fill="#7ec244"/>
<circle cx="1164.5" cy="531.8" r="2.85" fill="#b8d437"/>
<circle cx="1171.8" cy="524.1" r="2.85" fill="#e2de34"/>
<circle cx="1175.9" cy="510.6" r="2.85" fill="#b8d437"/>
<circle cx="1175.9" cy="515.5" r="2.85" fill="#b8d437"/>
<circle cx="1131.9" cy="527.7" r="2.85" fill="#6fc4b5"/>
<circle cx="1130.2" cy="529.3" r="2.85" fill="#d9282b"/>
<circle cx="1132.7" cy="509.8" r="2.85" fill="#7ec244"/>
<circle cx="1123.7" cy="530.2" r="2.85" fill="#6fc4b5"/>
<circle cx="1113.9" cy="518.8" r="2.85" fill="#6fc4b5"/>
<circle cx="1127.8" cy="521.2" r="2.85" fill="#5dbde2"/>
<circle cx="1131.9" cy="519.6" r="2.85" fill="#5dbde2"/>
<circle cx="1007.7" cy="354" r="2.85" fill="#d9282b"/>
<circle cx="1037.5" cy="375.4" r="2.85" fill="#b8d437"/>
<circle cx="1042.1" cy="376.9" r="2.85" fill="#e8722b"/>
<circle cx="1014.2" cy="381" r="2.85" fill="#5dbde2"/>
<circle cx="1014.2" cy="386.5" r="2.85" fill="#e8722b"/>
<circle cx="1037.5" cy="399.6" r="2.85" fill="#c63aa0"/>
<circle cx="1047.7" cy="414.4" r="2.85" fill="#4152b6"/>
<circle cx="1055.1" cy="402.3" r="2.85" fill="#7ec244"/>
<circle cx="1062.6" cy="395.8" r="2.85" fill="#7ec244"/>
<circle cx="1062.6" cy="409.8" r="2.85" fill="#7ec244"/>
<circle cx="1084.9" cy="405.1" r="2.85" fill="#7ec244"/>
<circle cx="1023.1" cy="442" r="2.85" fill="#8e40b0"/>
<circle cx="1023.5" cy="448.9" r="2.85" fill="#d9282b"/>
<circle cx="1052" cy="412" r="2.85" fill="#7ec244"/>
<circle cx="1056" cy="416" r="2.85" fill="#7ec244"/>
<circle cx="1058" cy="411" r="2.85" fill="#7ec244"/>
<circle cx="1020.7" cy="385.1" r="2.85" fill="#b8d437"/>
<circle cx="1042.7" cy="444.6" r="2.85" fill="#4152b6"/>
<circle cx="1039.1" cy="418" r="2.85" fill="#7ec244"/>
<circle cx="1035.2" cy="407.5" r="2.85" fill="#7ec244"/>
<circle cx="1032.9" cy="398.3" r="2.85" fill="#7ec244"/>
<circle cx="1017.3" cy="373.7" r="2.85" fill="#e8722b"/>
<circle cx="1035.1" cy="415.3" r="2.85" fill="#7ec244"/>
<circle cx="1056.3" cy="458.2" r="2.85" fill="#4152b6"/>
<circle cx="1038.6" cy="412.9" r="2.85" fill="#7ec244"/>
<circle cx="1065.2" cy="453.1" r="2.85" fill="#4152b6"/>
<circle cx="1025.2" cy="382.2" r="2.85" fill="#e2de34"/>
<circle cx="1052.2" cy="442.9" r="2.85" fill="#4152b6"/>
<circle cx="1053.9" cy="448.2" r="2.85" fill="#4152b6"/>
<circle cx="1053.4" cy="439.8" r="2.85" fill="#4152b6"/>
<circle cx="1029.2" cy="395.2" r="2.85" fill="#7ec244"/>
<circle cx="1020.5" cy="372.7" r="2.85" fill="#e8722b"/>
<circle cx="1044.9" cy="425" r="2.85" fill="#5dbde2"/>
<circle cx="1034.3" cy="425.6" r="2.85" fill="#7ec244"/>
<circle cx="1045.3" cy="424.8" r="2.85" fill="#7ec244"/>
<circle cx="1034.7" cy="429.7" r="2.85" fill="#7ec244"/>
<circle cx="1041.1" cy="397.5" r="2.85" fill="#7ec244"/>
<circle cx="1007.3" cy="365.8" r="2.85" fill="#e8722b"/>
<circle cx="1056.1" cy="449.9" r="2.85" fill="#4152b6"/>
<circle cx="1014.7" cy="375.5" r="2.85" fill="#e2de34"/>
<circle cx="1037.4" cy="434.2" r="2.85" fill="#5dbde2"/>
<circle cx="1054.9" cy="447.6" r="2.85" fill="#4152b6"/>
<circle cx="1052.8" cy="447.9" r="2.85" fill="#4152b6"/>
<circle cx="1038.9" cy="428" r="2.85" fill="#5dbde2"/>
<circle cx="1032" cy="399.6" r="2.85" fill="#7ec244"/>
<circle cx="1032.4" cy="404.2" r="2.85" fill="#7ec244"/>
<circle cx="1046.8" cy="459.5" r="2.85" fill="#4152b6"/>
<circle cx="1038" cy="410.1" r="2.85" fill="#7ec244"/>
<circle cx="1027.3" cy="392.2" r="2.85" fill="#7ec244"/>
<circle cx="1041.9" cy="411.9" r="2.85" fill="#7ec244"/>
<circle cx="1017.1" cy="387.7" r="2.85" fill="#b8d437"/>
<circle cx="1044.3" cy="439.4" r="2.85" fill="#4152b6"/>
<circle cx="1034.2" cy="398.7" r="2.85" fill="#7ec244"/>
<circle cx="1030" cy="398.5" r="2.85" fill="#7ec244"/>
<circle cx="1045" cy="465.5" r="2.85" fill="#4152b6"/>
<circle cx="1020.4" cy="399.5" r="2.85" fill="#7ec244"/>
<circle cx="1022.5" cy="392.9" r="2.85" fill="#b8d437"/>
<circle cx="1014.5" cy="374.4" r="2.85" fill="#e8722b"/>
<circle cx="1042.7" cy="423.3" r="2.85" fill="#7ec244"/>
<circle cx="1023.6" cy="403.6" r="2.85" fill="#7ec244"/>
<circle cx="1033.1" cy="418.1" r="2.85" fill="#7ec244"/>
<circle cx="1053.5" cy="433.2" r="2.85" fill="#5dbde2"/>
<circle cx="1034.7" cy="435.6" r="2.85" fill="#5dbde2"/>
<circle cx="1012.4" cy="365.8" r="2.85" fill="#e8722b"/>
<circle cx="1018.6" cy="380.8" r="2.85" fill="#e2de34"/>
<circle cx="1042.2" cy="412" r="2.85" fill="#7ec244"/>
<circle cx="1033.5" cy="405.3" r="2.85" fill="#7ec244"/>
<circle cx="1012.8" cy="362.4" r="2.85" fill="#e8722b"/>
<circle cx="1054.7" cy="435.5" r="2.85" fill="#4152b6"/>
<circle cx="1029.7" cy="396.9" r="2.85" fill="#7ec244"/>
<circle cx="1054" cy="439.7" r="2.85" fill="#4152b6"/>
<circle cx="1023.3" cy="391.6" r="2.85" fill="#7ec244"/>
<circle cx="1048.5" cy="430.8" r="2.85" fill="#7ec244"/>
<circle cx="1057" cy="445.2" r="2.85" fill="#4152b6"/>
<circle cx="1053.9" cy="461.2" r="2.85" fill="#4152b6"/>
<circle cx="1040.5" cy="420.1" r="2.85" fill="#7ec244"/>
<circle cx="1050.8" cy="459.2" r="2.85" fill="#4152b6"/>
<circle cx="1029" cy="391.9" r="2.85" fill="#b8d437"/>
<circle cx="1029.6" cy="406.9" r="2.85" fill="#7ec244"/>
<circle cx="1046" cy="435.4" r="2.85" fill="#4152b6"/>
<circle cx="1037.8" cy="420.5" r="2.85" fill="#7ec244"/>
<circle cx="1015.5" cy="368.2" r="2.85" fill="#e8722b"/>
<circle cx="1014.4" cy="377.3" r="2.85" fill="#e2de34"/>
<circle cx="1029.3" cy="387.8" r="2.85" fill="#b8d437"/>
<circle cx="1041.1" cy="427.3" r="2.85" fill="#5dbde2"/>
<circle cx="1032.6" cy="409" r="2.85" fill="#7ec244"/>
<circle cx="1044.8" cy="427.1" r="2.85" fill="#7ec244"/>
<circle cx="1041.5" cy="448.9" r="2.85" fill="#4152b6"/>
<circle cx="1029.3" cy="428.2" r="2.85" fill="#7ec244"/>
<circle cx="1028.3" cy="402.9" r="2.85" fill="#7ec244"/>
<circle cx="1019.8" cy="387.3" r="2.85" fill="#e2de34"/>
<circle cx="1015.1" cy="364.3" r="2.85" fill="#e8722b"/>
<circle cx="1014.4" cy="367.7" r="2.85" fill="#e8722b"/>
<circle cx="1056.1" cy="457.5" r="2.85" fill="#4152b6"/>
<circle cx="1046.4" cy="407.7" r="2.85" fill="#7ec244"/>
<circle cx="1058.5" cy="453.6" r="2.85" fill="#4152b6"/>
<circle cx="1023.2" cy="379.6" r="2.85" fill="#b8d437"/>
<circle cx="1037.5" cy="424.9" r="2.85" fill="#7ec244"/>
<circle cx="1050.7" cy="433" r="2.85" fill="#5dbde2"/>
<circle cx="1016.3" cy="370.1" r="2.85" fill="#e8722b"/>
<circle cx="1036.8" cy="429.5" r="2.85" fill="#5dbde2"/>
<circle cx="1036" cy="409.3" r="2.85" fill="#7ec244"/>
<circle cx="1028.1" cy="396.9" r="2.85" fill="#7ec244"/>
<circle cx="1056.6" cy="444" r="2.85" fill="#4152b6"/>
<circle cx="1023" cy="372.4" r="2.85" fill="#e2de34"/>
<circle cx="1028.3" cy="408.1" r="2.85" fill="#7ec244"/>
<circle cx="1041.6" cy="432.7" r="2.85" fill="#5dbde2"/>
<circle cx="1034.6" cy="431.8" r="2.85" fill="#7ec244"/>
<circle cx="1046.5" cy="441.5" r="2.85" fill="#4152b6"/>
<circle cx="1047.6" cy="459.2" r="2.85" fill="#4152b6"/>
<circle cx="1038.7" cy="406.3" r="2.85" fill="#7ec244"/>
<circle cx="1030.7" cy="397.5" r="2.85" fill="#7ec244"/>
<circle cx="1027.4" cy="381.3" r="2.85" fill="#e2de34"/>
<circle cx="1024.4" cy="383.9" r="2.85" fill="#b8d437"/>
<circle cx="1061.2" cy="455.1" r="2.85" fill="#4152b6"/>
<circle cx="1058" cy="454" r="2.85" fill="#4152b6"/>
<circle cx="1046.9" cy="438.5" r="2.85" fill="#4152b6"/>
<circle cx="1016.1" cy="375.3" r="2.85" fill="#e8722b"/>
<circle cx="1021.8" cy="375.7" r="2.85" fill="#e8722b"/>
<circle cx="1039.5" cy="423.6" r="2.85" fill="#5dbde2"/>
<circle cx="1040.2" cy="418.3" r="2.85" fill="#7ec244"/>
<circle cx="1038.4" cy="419.4" r="2.85" fill="#7ec244"/>
<circle cx="1035.2" cy="403.8" r="2.85" fill="#7ec244"/>
<circle cx="1047.5" cy="437.7" r="2.85" fill="#4152b6"/>
<circle cx="1032.3" cy="411" r="2.85" fill="#7ec244"/>
<circle cx="1044.9" cy="427.4" r="2.85" fill="#5dbde2"/>
<circle cx="1032.5" cy="442.9" r="2.85" fill="#4152b6"/>
<circle cx="1050.4" cy="446.1" r="2.85" fill="#4152b6"/>
<circle cx="1050.9" cy="433.4" r="2.85" fill="#5dbde2"/>
<circle cx="1026.6" cy="395.7" r="2.85" fill="#7ec244"/>
<circle cx="1031.5" cy="400.1" r="2.85" fill="#7ec244"/>
<circle cx="1054.2" cy="447.2" r="2.85" fill="#4152b6"/>
<circle cx="1014.2" cy="377.6" r="2.85" fill="#e8722b"/>
<circle cx="1044.8" cy="414.2" r="2.85" fill="#7ec244"/>
<circle cx="1027.3" cy="380.8" r="2.85" fill="#e2de34"/>
<circle cx="1052.2" cy="461" r="2.85" fill="#4152b6"/>
<circle cx="1046.6" cy="449.1" r="2.85" fill="#4152b6"/>
<circle cx="1034.6" cy="414.6" r="2.85" fill="#7ec244"/>
<circle cx="1027.8" cy="418" r="2.85" fill="#7ec244"/>
<circle cx="1014.5" cy="366.5" r="2.85" fill="#e8722b"/>
<circle cx="1032.5" cy="417.3" r="2.85" fill="#7ec244"/>
<circle cx="1021" cy="373" r="2.85" fill="#e8722b"/>
<circle cx="1021.6" cy="375.4" r="2.85" fill="#e2de34"/>
<circle cx="1056" cy="460.9" r="2.85" fill="#4152b6"/>
<circle cx="1028.4" cy="387.1" r="2.85" fill="#b8d437"/>
<circle cx="1050.3" cy="454.1" r="2.85" fill="#4152b6"/>
<circle cx="1060.9" cy="453.5" r="2.85" fill="#4152b6"/>
<circle cx="1026" cy="397" r="2.85" fill="#7ec244"/>
<circle cx="1032.9" cy="403.7" r="2.85" fill="#7ec244"/>
<circle cx="1055.6" cy="449.9" r="2.85" fill="#4152b6"/>
<circle cx="1029.1" cy="412.8" r="2.85" fill="#7ec244"/>
<circle cx="1024.1" cy="406.8" r="2.85" fill="#7ec244"/>
<circle cx="1030.7" cy="409.4" r="2.85" fill="#7ec244"/>
<circle cx="1029.9" cy="383.4" r="2.85" fill="#e2de34"/>
<circle cx="1034.7" cy="390.7" r="2.85" fill="#7ec244"/>
<circle cx="1032.8" cy="410.4" r="2.85" fill="#7ec244"/>
<circle cx="1048.8" cy="429.5" r="2.85" fill="#5dbde2"/>
<circle cx="1026.6" cy="388" r="2.85" fill="#b8d437"/>
<circle cx="1015.9" cy="377.8" r="2.85" fill="#e2de34"/>
<circle cx="1032.6" cy="398.9" r="2.85" fill="#7ec244"/>
<circle cx="1023.2" cy="414.4" r="2.85" fill="#7ec244"/>
<circle cx="1035.5" cy="417.3" r="2.85" fill="#7ec244"/>
<circle cx="1059" cy="449.1" r="2.85" fill="#4152b6"/>
<circle cx="1015.5" cy="363.3" r="2.85" fill="#e8722b"/>
<circle cx="1026.9" cy="402.6" r="2.85" fill="#7ec244"/>
<circle cx="1046.9" cy="434.1" r="2.85" fill="#5dbde2"/>
<circle cx="1046" cy="422.6" r="2.85" fill="#5dbde2"/>
<circle cx="1030.2" cy="394.4" r="2.85" fill="#7ec244"/>
<circle cx="1044.1" cy="419.9" r="2.85" fill="#7ec244"/>
<circle cx="1024.2" cy="382.6" r="2.85" fill="#b8d437"/>
<circle cx="1046.3" cy="455.4" r="2.85" fill="#4152b6"/>
<circle cx="1045.9" cy="426.7" r="2.85" fill="#7ec244"/>
<circle cx="1043.6" cy="443.2" r="2.85" fill="#4152b6"/>
<circle cx="1021.9" cy="383.6" r="2.85" fill="#b8d437"/>
<circle cx="1028.8" cy="404.5" r="2.85" fill="#7ec244"/>
<circle cx="1028.6" cy="380.2" r="2.85" fill="#b8d437"/>
<circle cx="1031.2" cy="411" r="2.85" fill="#7ec244"/>
<circle cx="1029.3" cy="406.8" r="2.85" fill="#7ec244"/>
<circle cx="1067.6" cy="449.7" r="2.85" fill="#4152b6"/>
<circle cx="1035.7" cy="405.1" r="2.85" fill="#7ec244"/>
<circle cx="1050.6" cy="459.4" r="2.85" fill="#4152b6"/>
<circle cx="1032.1" cy="398.1" r="2.85" fill="#7ec244"/>
<circle cx="1049.6" cy="423.8" r="2.85" fill="#5dbde2"/>
<circle cx="1027.6" cy="381.4" r="2.85" fill="#b8d437"/>
<circle cx="1020" cy="381" r="2.85" fill="#e2de34"/>
<circle cx="1045.2" cy="428.2" r="2.85" fill="#5dbde2"/>
<circle cx="1020.2" cy="380.4" r="2.85" fill="#e2de34"/>
<circle cx="1050.7" cy="455.8" r="2.85" fill="#4152b6"/>
<circle cx="1030.5" cy="401.9" r="2.85" fill="#7ec244"/>
<circle cx="1025.7" cy="390.1" r="2.85" fill="#b8d437"/>
<circle cx="1029.3" cy="384.9" r="2.85" fill="#e2de34"/>
<circle cx="1053" cy="436.2" r="2.85" fill="#4152b6"/>
<circle cx="1032" cy="383.9" r="2.85" fill="#b8d437"/>
<circle cx="1023" cy="377.8" r="2.85" fill="#e8722b"/>
<circle cx="1056.6" cy="448.8" r="2.85" fill="#4152b6"/>
<circle cx="1041.1" cy="423" r="2.85" fill="#5dbde2"/>
<circle cx="1063.6" cy="445" r="2.85" fill="#4152b6"/>
<circle cx="1021.8" cy="372.2" r="2.85" fill="#e8722b"/>
<circle cx="1021.2" cy="384.4" r="2.85" fill="#e2de34"/>
<circle cx="1040.8" cy="439.4" r="2.85" fill="#5dbde2"/>
<circle cx="1049.8" cy="458.3" r="2.85" fill="#4152b6"/>
<circle cx="1062.2" cy="457.3" r="2.85" fill="#4152b6"/>
<circle cx="1012.5" cy="361.2" r="2.85" fill="#e8722b"/>
<circle cx="1034.6" cy="398.3" r="2.85" fill="#7ec244"/>
<circle cx="1059.1" cy="454.7" r="2.85" fill="#4152b6"/>
<circle cx="1023.5" cy="375.9" r="2.85" fill="#b8d437"/>
<circle cx="1022.5" cy="383.1" r="2.85" fill="#e2de34"/>
<circle cx="1043.5" cy="439.9" r="2.85" fill="#5dbde2"/>
<circle cx="1035.4" cy="414.1" r="2.85" fill="#7ec244"/>
<circle cx="1044" cy="437" r="2.85" fill="#5dbde2"/>
<circle cx="1037.7" cy="398.5" r="2.85" fill="#7ec244"/>
<circle cx="1047.7" cy="424.2" r="2.85" fill="#5dbde2"/>
<circle cx="1039.3" cy="415.7" r="2.85" fill="#7ec244"/>
<circle cx="1055.3" cy="447.9" r="2.85" fill="#4152b6"/>
<circle cx="1049.2" cy="444" r="2.85" fill="#4152b6"/>
<circle cx="1049.8" cy="451.2" r="2.85" fill="#4152b6"/>
<circle cx="1035.8" cy="397.7" r="2.85" fill="#7ec244"/>
<circle cx="1031.1" cy="404.2" r="2.85" fill="#7ec244"/>
<circle cx="1018.7" cy="368.1" r="2.85" fill="#e8722b"/>
<circle cx="1036.8" cy="445.3" r="2.85" fill="#4152b6"/>
<circle cx="1032.6" cy="409.1" r="2.85" fill="#7ec244"/>
<circle cx="1028.4" cy="391.3" r="2.85" fill="#b8d437"/>
<circle cx="1027.1" cy="398.8" r="2.85" fill="#7ec244"/>
<circle cx="1057.6" cy="433.6" r="2.85" fill="#5dbde2"/>
<circle cx="1008.8" cy="364.3" r="2.85" fill="#e8722b"/>
<circle cx="1015.9" cy="367.2" r="2.85" fill="#e8722b"/>
<circle cx="1050.7" cy="442.5" r="2.85" fill="#4152b6"/>
<circle cx="1048.1" cy="429.2" r="2.85" fill="#5dbde2"/>
<circle cx="1033.7" cy="405.3" r="2.85" fill="#7ec244"/>
<circle cx="1044.4" cy="428.6" r="2.85" fill="#5dbde2"/>
<circle cx="1043.4" cy="427.4" r="2.85" fill="#5dbde2"/>
<circle cx="1053.9" cy="450" r="2.85" fill="#4152b6"/>
<circle cx="1050.4" cy="431.2" r="2.85" fill="#5dbde2"/>
<circle cx="1045.4" cy="439.2" r="2.85" fill="#4152b6"/>
<circle cx="1029.2" cy="400.5" r="2.85" fill="#7ec244"/>
<circle cx="1023.3" cy="387.1" r="2.85" fill="#b8d437"/>
<circle cx="1024.2" cy="389.5" r="2.85" fill="#b8d437"/>
<circle cx="1050.4" cy="451.3" r="2.85" fill="#4152b6"/>
<circle cx="1057.5" cy="447.1" r="2.85" fill="#4152b6"/>
<circle cx="1033.6" cy="426.1" r="2.85" fill="#7ec244"/>
<circle cx="1047.5" cy="442.5" r="2.85" fill="#4152b6"/>
<circle cx="1050.3" cy="431.5" r="2.85" fill="#5dbde2"/>
<circle cx="1034.7" cy="411.8" r="2.85" fill="#7ec244"/>
<circle cx="1032.8" cy="396.7" r="2.85" fill="#7ec244"/>
<circle cx="1037.3" cy="420.3" r="2.85" fill="#7ec244"/>
<circle cx="1019.2" cy="369.9" r="2.85" fill="#e8722b"/>
<circle cx="1021" cy="370.1" r="2.85" fill="#e8722b"/>
<circle cx="1015.6" cy="370.3" r="2.85" fill="#e8722b"/>
<circle cx="1019.6" cy="367.2" r="2.85" fill="#e8722b"/>
<circle cx="1014.6" cy="369.7" r="2.85" fill="#e8722b"/>
<circle cx="1015.6" cy="361.7" r="2.85" fill="#e8722b"/>
<circle cx="1017.4" cy="363.7" r="2.85" fill="#eaa030"/>
<circle cx="1010.1" cy="364.9" r="2.85" fill="#e8722b"/>
<circle cx="1020.8" cy="363" r="2.85" fill="#e8722b"/>
<circle cx="1016.1" cy="369.5" r="2.85" fill="#e8722b"/>
<circle cx="1021.9" cy="360.3" r="2.85" fill="#e8722b"/>
<circle cx="1014" cy="369" r="2.85" fill="#eaa030"/>
<circle cx="1018.6" cy="360.3" r="2.85" fill="#e8722b"/>
<circle cx="1018.5" cy="361.7" r="2.85" fill="#e8722b"/>
<circle cx="1014.1" cy="369.3" r="2.85" fill="#e8722b"/>
<circle cx="1018.6" cy="366" r="2.85" fill="#e8722b"/>
<circle cx="1014.8" cy="366.6" r="2.85" fill="#eaa030"/>
<circle cx="1016.4" cy="361.7" r="2.85" fill="#e8722b"/>
<circle cx="1017.2" cy="374.5" r="2.85" fill="#e8722b"/>
<circle cx="1029.7" cy="461.8" r="2.85" fill="#7ec244"/>
<circle cx="1046" cy="516" r="2.85" fill="#7ec244"/>
<circle cx="1046.1" cy="449.4" r="2.85" fill="#7ec244"/>
<circle cx="1043.1" cy="454.2" r="2.85" fill="#7ec244"/>
<circle cx="1045.5" cy="474.8" r="2.85" fill="#7ec244"/>
<circle cx="1038.9" cy="486.5" r="2.85" fill="#7ec244"/>
<circle cx="1035.4" cy="520.9" r="2.85" fill="#7ec244"/>
<circle cx="1040.7" cy="487.4" r="2.85" fill="#7ec244"/>
<circle cx="1037.9" cy="475.7" r="2.85" fill="#7ec244"/>
<circle cx="1037.6" cy="462.9" r="2.85" fill="#7ec244"/>
<circle cx="1049" cy="471.9" r="2.85" fill="#7ec244"/>
<circle cx="1035.9" cy="525.6" r="2.85" fill="#7ec244"/>
<circle cx="1035.1" cy="453.4" r="2.85" fill="#7ec244"/>
<circle cx="1035" cy="557.8" r="2.85" fill="#7ec244"/>
<circle cx="1042.2" cy="452.9" r="2.85" fill="#7ec244"/>
<circle cx="1041.2" cy="557.4" r="2.85" fill="#7ec244"/>
<circle cx="1040.1" cy="532.7" r="2.85" fill="#7ec244"/>
<circle cx="1044.4" cy="510.3" r="2.85" fill="#7ec244"/>
<circle cx="1043.6" cy="501.7" r="2.85" fill="#7ec244"/>
<circle cx="1047" cy="513.9" r="2.85" fill="#7ec244"/>
<circle cx="1038.1" cy="540.5" r="2.85" fill="#7ec244"/>
<circle cx="1037.3" cy="531.6" r="2.85" fill="#7ec244"/>
<circle cx="1036.6" cy="468.9" r="2.85" fill="#7ec244"/>
<circle cx="1041.4" cy="452.5" r="2.85" fill="#7ec244"/>
<circle cx="1049.1" cy="466.1" r="2.85" fill="#7ec244"/>
<circle cx="1049.7" cy="496.7" r="2.85" fill="#7ec244"/>
<circle cx="1041.9" cy="502.4" r="2.85" fill="#7ec244"/>
<circle cx="1046.2" cy="511.9" r="2.85" fill="#7ec244"/>
<circle cx="1030.2" cy="478.2" r="2.85" fill="#7ec244"/>
<circle cx="1049.3" cy="524" r="2.85" fill="#7ec244"/>
<circle cx="1044.4" cy="471.3" r="2.85" fill="#7ec244"/>
<circle cx="1040.6" cy="520.7" r="2.85" fill="#7ec244"/>
<circle cx="1030.5" cy="501.1" r="2.85" fill="#7ec244"/>
<circle cx="1048.9" cy="541.1" r="2.85" fill="#7ec244"/>
<circle cx="1037.3" cy="482.3" r="2.85" fill="#7ec244"/>
<circle cx="1037.5" cy="508.8" r="2.85" fill="#7ec244"/>
<circle cx="1049.2" cy="476.3" r="2.85" fill="#7ec244"/>
<circle cx="1029.1" cy="509.2" r="2.85" fill="#7ec244"/>
<circle cx="1049.8" cy="483.3" r="2.85" fill="#7ec244"/>
<circle cx="1037.4" cy="443.8" r="2.85" fill="#7ec244"/>
<circle cx="1044.4" cy="477.9" r="2.85" fill="#7ec244"/>
<circle cx="1038.2" cy="514" r="2.85" fill="#7ec244"/>
<circle cx="1042.7" cy="482.4" r="2.85" fill="#7ec244"/>
<circle cx="1037.5" cy="474.2" r="2.85" fill="#7ec244"/>
<circle cx="1038" cy="524.3" r="2.85" fill="#7ec244"/>
<circle cx="1039.8" cy="431.8" r="2.85" fill="#7ec244"/>
<circle cx="1033.6" cy="548.7" r="2.85" fill="#7ec244"/>
<circle cx="1042.5" cy="498.9" r="2.85" fill="#7ec244"/>
<circle cx="1029.9" cy="557.4" r="2.85" fill="#7ec244"/>
<circle cx="1049.4" cy="556.9" r="2.85" fill="#7ec244"/>
<circle cx="1040.8" cy="558.9" r="2.85" fill="#7ec244"/>
<circle cx="1030.3" cy="434.1" r="2.85" fill="#7ec244"/>
<circle cx="1048" cy="514.6" r="2.85" fill="#7ec244"/>
<circle cx="1032.7" cy="499.4" r="2.85" fill="#7ec244"/>
<circle cx="1040.7" cy="545.7" r="2.85" fill="#7ec244"/>
<circle cx="1043.3" cy="528.6" r="2.85" fill="#7ec244"/>
<circle cx="1051" cy="555.2" r="2.85" fill="#7ec244"/>
<circle cx="1025.6" cy="435.8" r="2.85" fill="#7ec244"/>
<circle cx="1040.7" cy="475.8" r="2.85" fill="#7ec244"/>
<circle cx="1043.2" cy="513.4" r="2.85" fill="#7ec244"/>
<circle cx="1040.4" cy="532.3" r="2.85" fill="#7ec244"/>
<circle cx="1049.1" cy="431" r="2.85" fill="#7ec244"/>
<circle cx="1030.6" cy="543.3" r="2.85" fill="#7ec244"/>
<circle cx="1038.1" cy="439.8" r="2.85" fill="#7ec244"/>
<circle cx="1051.6" cy="548" r="2.85" fill="#7ec244"/>
<circle cx="1037.3" cy="522.3" r="2.85" fill="#7ec244"/>
<circle cx="1037.2" cy="529.4" r="2.85" fill="#7ec244"/>
<circle cx="1039.8" cy="476.4" r="2.85" fill="#7ec244"/>
<circle cx="1047.3" cy="453.3" r="2.85" fill="#7ec244"/>
<circle cx="1040.2" cy="542" r="2.85" fill="#7ec244"/>
<circle cx="1028.1" cy="532.2" r="2.85" fill="#7ec244"/>
<circle cx="1039.3" cy="430.3" r="2.85" fill="#7ec244"/>
<circle cx="1039.2" cy="456.2" r="2.85" fill="#7ec244"/>
<circle cx="1053.7" cy="522.8" r="2.85" fill="#7ec244"/>
<circle cx="1044.3" cy="532.6" r="2.85" fill="#7ec244"/>
<circle cx="1047.2" cy="539.5" r="2.85" fill="#7ec244"/>
<circle cx="1038.5" cy="546.2" r="2.85" fill="#7ec244"/>
<circle cx="1047.9" cy="486.6" r="2.85" fill="#7ec244"/>
<circle cx="1036.9" cy="500.5" r="2.85" fill="#7ec244"/>
<circle cx="1043.6" cy="432.7" r="2.85" fill="#7ec244"/>
<circle cx="1033.7" cy="496.2" r="2.85" fill="#7ec244"/>
<circle cx="1040.6" cy="532.9" r="2.85" fill="#7ec244"/>
<circle cx="1042.2" cy="522.6" r="2.85" fill="#7ec244"/>
<circle cx="1037.5" cy="489.3" r="2.85" fill="#7ec244"/>
<circle cx="1040.6" cy="473.5" r="2.85" fill="#7ec244"/>
<circle cx="1039.3" cy="493.4" r="2.85" fill="#7ec244"/>
<circle cx="1041.4" cy="509" r="2.85" fill="#7ec244"/>
<circle cx="1038.6" cy="538.8" r="2.85" fill="#7ec244"/>
<circle cx="1039.3" cy="447.3" r="2.85" fill="#7ec244"/>
<circle cx="1053" cy="430.2" r="2.85" fill="#7ec244"/>
<circle cx="1038.2" cy="471.1" r="2.85" fill="#7ec244"/>
<circle cx="1038.7" cy="512.6" r="2.85" fill="#7ec244"/>
<circle cx="1045.5" cy="495" r="2.85" fill="#7ec244"/>
<circle cx="1044.9" cy="496.4" r="2.85" fill="#7ec244"/>
<circle cx="1042.4" cy="508.3" r="2.85" fill="#7ec244"/>
<circle cx="1047.7" cy="479.3" r="2.85" fill="#7ec244"/>
<circle cx="1051.1" cy="548.4" r="2.85" fill="#7ec244"/>
<circle cx="1044.7" cy="450.3" r="2.85" fill="#7ec244"/>
<circle cx="1039.2" cy="465.2" r="2.85" fill="#7ec244"/>
<circle cx="1041.8" cy="504.1" r="2.85" fill="#7ec244"/>
<circle cx="1034.5" cy="464.2" r="2.85" fill="#7ec244"/>
<circle cx="1040.3" cy="534.8" r="2.85" fill="#7ec244"/>
<circle cx="1044.1" cy="463.1" r="2.85" fill="#7ec244"/>
<circle cx="1046.1" cy="470.8" r="2.85" fill="#7ec244"/>
<circle cx="1050.8" cy="462.9" r="2.85" fill="#7ec244"/>
<circle cx="1034.1" cy="430.8" r="2.85" fill="#7ec244"/>
<circle cx="1050.2" cy="534.6" r="2.85" fill="#7ec244"/>
<circle cx="1050.4" cy="532.5" r="2.85" fill="#7ec244"/>
<circle cx="1038.7" cy="512.8" r="2.85" fill="#7ec244"/>
<circle cx="1033.8" cy="546.8" r="2.85" fill="#7ec244"/>
<circle cx="1039.8" cy="457.4" r="2.85" fill="#7ec244"/>
<circle cx="1053.5" cy="532.8" r="2.85" fill="#7ec244"/>
<circle cx="1037.4" cy="460.4" r="2.85" fill="#7ec244"/>
<circle cx="1044.3" cy="523.1" r="2.85" fill="#7ec244"/>
<circle cx="1034" cy="470.8" r="2.85" fill="#7ec244"/>
<circle cx="1040.5" cy="434.2" r="2.85" fill="#7ec244"/>
<circle cx="1041.8" cy="470.1" r="2.85" fill="#7ec244"/>
<circle cx="1043.2" cy="551.4" r="2.85" fill="#7ec244"/>
<circle cx="1042.8" cy="506.6" r="2.85" fill="#7ec244"/>
<circle cx="1035.1" cy="539.6" r="2.85" fill="#7ec244"/>
<circle cx="1045.2" cy="464.7" r="2.85" fill="#b8d437"/>
<circle cx="1046.9" cy="476" r="2.85" fill="#7ec244"/>
<circle cx="1037.4" cy="510" r="2.85" fill="#7ec244"/>
<circle cx="1045.7" cy="475.4" r="2.85" fill="#5dbde2"/>
<circle cx="1030.7" cy="467.9" r="2.85" fill="#7ec244"/>
<circle cx="1015.7" cy="465.2" r="2.85" fill="#e2de34"/>
<circle cx="1030.4" cy="453.8" r="2.85" fill="#e2de34"/>
<circle cx="1020.1" cy="535.7" r="2.85" fill="#d9282b"/>
<circle cx="1021.2" cy="484.7" r="2.85" fill="#6fc4b5"/>
<circle cx="1018" cy="455" r="2.85" fill="#6fc4b5"/>
<circle cx="1015.4" cy="494.2" r="2.85" fill="#7ec244"/>
<circle cx="1020.3" cy="473.7" r="2.85" fill="#8e40b0"/>
<circle cx="1027.4" cy="519.4" r="2.85" fill="#8e40b0"/>
<circle cx="1034.9" cy="473.7" r="2.85" fill="#4152b6"/>
<circle cx="1029.2" cy="518.4" r="2.85" fill="#5dbde2"/>
<circle cx="1030.1" cy="521.2" r="2.85" fill="#5dbde2"/>
<circle cx="1027.8" cy="463.3" r="2.85" fill="#e2de34"/>
<circle cx="1033.5" cy="543.7" r="2.85" fill="#e2de34"/>
<circle cx="1044.3" cy="443" r="2.85" fill="#7ec244"/>
<circle cx="1029.4" cy="519.7" r="2.85" fill="#b8d437"/>
<circle cx="1041.9" cy="482.1" r="2.85" fill="#4152b6"/>
<circle cx="1046.3" cy="536.9" r="2.85" fill="#8e40b0"/>
<circle cx="1018.6" cy="533.2" r="2.85" fill="#4152b6"/>
<circle cx="1031.5" cy="504.2" r="2.85" fill="#6fc4b5"/>
<circle cx="1037.8" cy="441.2" r="2.85" fill="#b8d437"/>
<circle cx="1026.2" cy="513.6" r="2.85" fill="#b8d437"/>
<circle cx="1020.6" cy="486.5" r="2.85" fill="#c63aa0"/>
<circle cx="1026.3" cy="506.5" r="2.85" fill="#7ec244"/>
<circle cx="1023.6" cy="484.1" r="2.85" fill="#6fc4b5"/>
<circle cx="1025.3" cy="523.3" r="2.85" fill="#5dbde2"/>
<circle cx="1031.7" cy="449.5" r="2.85" fill="#d9282b"/>
<circle cx="1021.2" cy="535.5" r="2.85" fill="#d9282b"/>
<circle cx="1031.5" cy="457.3" r="2.85" fill="#d9282b"/>
<circle cx="1028.7" cy="486.9" r="2.85" fill="#4152b6"/>
<circle cx="1047.8" cy="440.6" r="2.85" fill="#4152b6"/>
<circle cx="1037.2" cy="462.6" r="2.85" fill="#7ec244"/>
<circle cx="1042.4" cy="540.2" r="2.85" fill="#7ec244"/>
<circle cx="1037.2" cy="534.7" r="2.85" fill="#5dbde2"/>
<circle cx="1018.7" cy="467.3" r="2.85" fill="#b8d437"/>
<circle cx="1015.7" cy="456.8" r="2.85" fill="#7ec244"/>
<circle cx="1042" cy="468.7" r="2.85" fill="#7ec244"/>
<circle cx="1040.1" cy="458" r="2.85" fill="#5dbde2"/>
<circle cx="1031" cy="496" r="2.85" fill="#4152b6"/>
<circle cx="1048.4" cy="497" r="2.85" fill="#5dbde2"/>
<circle cx="1038.7" cy="524.6" r="2.85" fill="#8e40b0"/>
<circle cx="1044.3" cy="532.2" r="2.85" fill="#4152b6"/>
<circle cx="1028.1" cy="443.9" r="2.85" fill="#e2de34"/>
<circle cx="1025.9" cy="459.3" r="2.85" fill="#5dbde2"/>
<circle cx="1033.8" cy="531.4" r="2.85" fill="#e2de34"/>
<circle cx="1028.8" cy="443" r="2.85" fill="#b8d437"/>
<circle cx="1049" cy="448" r="2.85" fill="#8e40b0"/>
<circle cx="1040.7" cy="511.1" r="2.85" fill="#e2de34"/>
<circle cx="1019.1" cy="487.4" r="2.85" fill="#5dbde2"/>
<circle cx="1030.2" cy="441" r="2.85" fill="#4152b6"/>
<circle cx="1039.1" cy="541.4" r="2.85" fill="#7ec244"/>
<circle cx="1024.7" cy="535.6" r="2.85" fill="#4152b6"/>
<circle cx="1019.6" cy="479.2" r="2.85" fill="#e8722b"/>
<circle cx="1045.4" cy="460.2" r="2.85" fill="#7ec244"/>
<circle cx="1038.2" cy="458.9" r="2.85" fill="#4152b6"/>
<circle cx="1020.8" cy="538" r="2.85" fill="#b8d437"/>
<circle cx="1021.8" cy="468.6" r="2.85" fill="#7ec244"/>
<circle cx="1047.4" cy="534.1" r="2.85" fill="#b8d437"/>
<circle cx="1044.7" cy="444.8" r="2.85" fill="#5dbde2"/>
<circle cx="1022.1" cy="521.9" r="2.85" fill="#b8d437"/>
<circle cx="1038.8" cy="456.9" r="2.85" fill="#5dbde2"/>
<circle cx="1021.4" cy="488.8" r="2.85" fill="#5dbde2"/>
<circle cx="1036.8" cy="480.5" r="2.85" fill="#e2de34"/>
<circle cx="1049.1" cy="486.9" r="2.85" fill="#c63aa0"/>
<circle cx="1026.4" cy="479.4" r="2.85" fill="#8e40b0"/>
<circle cx="1043.7" cy="505.2" r="2.85" fill="#8e40b0"/>
<circle cx="1131.4" cy="479.8" r="2.85" fill="#4152b6"/>
<circle cx="1247.2" cy="457.2" r="2.85" fill="#e2de34"/>
<circle cx="1176.2" cy="467.4" r="2.85" fill="#7ec244"/>
<circle cx="1212.7" cy="453.8" r="2.85" fill="#7ec244"/>
<circle cx="1207.8" cy="457.6" r="2.85" fill="#7ec244"/>
<circle cx="1155.6" cy="467.5" r="2.85" fill="#6fc4b5"/>
<circle cx="1215.4" cy="452.6" r="2.85" fill="#7ec244"/>
<circle cx="1186.2" cy="459.7" r="2.85" fill="#7ec244"/>
<circle cx="1140.1" cy="476.8" r="2.85" fill="#4152b6"/>
<circle cx="1244.1" cy="447.7" r="2.85" fill="#e2de34"/>
<circle cx="1167.4" cy="472.5" r="2.85" fill="#7ec244"/>
<circle cx="1238.5" cy="452.1" r="2.85" fill="#e2de34"/>
<circle cx="1130.4" cy="469" r="2.85" fill="#4152b6"/>
<circle cx="1129.6" cy="476.3" r="2.85" fill="#4152b6"/>
<circle cx="1189.5" cy="462.5" r="2.85" fill="#7ec244"/>
<circle cx="1190.3" cy="469" r="2.85" fill="#7ec244"/>
<circle cx="1223.3" cy="451.6" r="2.85" fill="#7ec244"/>
<circle cx="1193.5" cy="455.2" r="2.85" fill="#7ec244"/>
<circle cx="1166.4" cy="458.8" r="2.85" fill="#6fc4b5"/>
<circle cx="1218.1" cy="454.4" r="2.85" fill="#b8d437"/>
<circle cx="1241.3" cy="449.1" r="2.85" fill="#b8d437"/>
<circle cx="1235" cy="454.1" r="2.85" fill="#e8722b"/>
<circle cx="1181.1" cy="455.7" r="2.85" fill="#7ec244"/>
<circle cx="1248.9" cy="454.4" r="2.85" fill="#e8722b"/>
<circle cx="1162.2" cy="472.5" r="2.85" fill="#6fc4b5"/>
<circle cx="1154" cy="470.1" r="2.85" fill="#5dbde2"/>
<circle cx="1184.5" cy="461.3" r="2.85" fill="#7ec244"/>
<circle cx="1233.8" cy="454.3" r="2.85" fill="#e2de34"/>
<circle cx="1215.4" cy="459.7" r="2.85" fill="#b8d437"/>
<circle cx="1153.4" cy="472.3" r="2.85" fill="#6fc4b5"/>
<circle cx="1211.8" cy="456.9" r="2.85" fill="#7ec244"/>
<circle cx="1233.2" cy="451.6" r="2.85" fill="#b8d437"/>
<circle cx="1217.6" cy="456.3" r="2.85" fill="#7ec244"/>
<circle cx="1147.5" cy="469.8" r="2.85" fill="#4152b6"/>
<circle cx="1165.6" cy="465.1" r="2.85" fill="#6fc4b5"/>
<circle cx="1181.8" cy="463" r="2.85" fill="#7ec244"/>
<circle cx="1178" cy="455.7" r="2.85" fill="#7ec244"/>
<circle cx="1247.6" cy="453.3" r="2.85" fill="#e8722b"/>
<circle cx="1124.6" cy="473" r="2.85" fill="#4152b6"/>
<circle cx="1127.5" cy="470.2" r="2.85" fill="#4152b6"/>
<circle cx="1227.2" cy="458.8" r="2.85" fill="#b8d437"/>
<circle cx="1154" cy="463.8" r="2.85" fill="#5dbde2"/>
<circle cx="1224" cy="456.9" r="2.85" fill="#b8d437"/>
<circle cx="1186.8" cy="467.3" r="2.85" fill="#7ec244"/>
<circle cx="1230.8" cy="451.1" r="2.85" fill="#e2de34"/>
<circle cx="1226" cy="455.1" r="2.85" fill="#7ec244"/>
<circle cx="1218.6" cy="455" r="2.85" fill="#b8d437"/>
<circle cx="1197.1" cy="466.5" r="2.85" fill="#7ec244"/>
<circle cx="1253.4" cy="447" r="2.85" fill="#e8722b"/>
<circle cx="1242.7" cy="449.4" r="2.85" fill="#e2de34"/>
<circle cx="1216.1" cy="459.2" r="2.85" fill="#7ec244"/>
<circle cx="1233.5" cy="446.4" r="2.85" fill="#e8722b"/>
<circle cx="1254.5" cy="455.7" r="2.85" fill="#e8722b"/>
<circle cx="1164.9" cy="465.2" r="2.85" fill="#6fc4b5"/>
<circle cx="1194.4" cy="455.5" r="2.85" fill="#7ec244"/>
<circle cx="1204.5" cy="454" r="2.85" fill="#7ec244"/>
<circle cx="1227.4" cy="447.2" r="2.85" fill="#e8722b"/>
<circle cx="1237.1" cy="446.3" r="2.85" fill="#e8722b"/>
<circle cx="1179.2" cy="460.8" r="2.85" fill="#7ec244"/>
<circle cx="1232.8" cy="459.8" r="2.85" fill="#b8d437"/>
<circle cx="1169.5" cy="463" r="2.85" fill="#6fc4b5"/>
<circle cx="1223.5" cy="452" r="2.85" fill="#b8d437"/>
<circle cx="1211.3" cy="457.8" r="2.85" fill="#7ec244"/>
<circle cx="1125.4" cy="475.5" r="2.85" fill="#4152b6"/>
<circle cx="1217.1" cy="455.5" r="2.85" fill="#7ec244"/>
<circle cx="1126.8" cy="468" r="2.85" fill="#4152b6"/>
<circle cx="1143.8" cy="474.3" r="2.85" fill="#5dbde2"/>
<circle cx="1174.3" cy="469" r="2.85" fill="#7ec244"/>
<circle cx="1199.2" cy="457.1" r="2.85" fill="#7ec244"/>
<circle cx="1131" cy="475.4" r="2.85" fill="#4152b6"/>
<circle cx="1222" cy="452.1" r="2.85" fill="#7ec244"/>
<circle cx="1234.7" cy="452.4" r="2.85" fill="#e8722b"/>
<circle cx="1222.7" cy="453" r="2.85" fill="#7ec244"/>
<circle cx="1210.3" cy="459.4" r="2.85" fill="#7ec244"/>
<circle cx="1146.9" cy="460.8" r="2.85" fill="#5dbde2"/>
<circle cx="1182.2" cy="464.9" r="2.85" fill="#7ec244"/>
<circle cx="1159.7" cy="465.7" r="2.85" fill="#5dbde2"/>
<circle cx="1225.4" cy="454.4" r="2.85" fill="#e2de34"/>
<circle cx="1221.8" cy="449.2" r="2.85" fill="#7ec244"/>
<circle cx="1218.6" cy="456.3" r="2.85" fill="#7ec244"/>
<circle cx="1199" cy="457.1" r="2.85" fill="#7ec244"/>
<circle cx="1223" cy="455.3" r="2.85" fill="#7ec244"/>
<circle cx="1247.4" cy="452.8" r="2.85" fill="#e8722b"/>
<circle cx="1126.9" cy="470" r="2.85" fill="#4152b6"/>
<circle cx="1203.8" cy="457.6" r="2.85" fill="#7ec244"/>
<circle cx="1127.2" cy="462.4" r="2.85" fill="#4152b6"/>
<circle cx="1215.8" cy="453.8" r="2.85" fill="#7ec244"/>
<circle cx="1180.3" cy="458.4" r="2.85" fill="#7ec244"/>
<circle cx="1183.2" cy="465.3" r="2.85" fill="#7ec244"/>
<circle cx="1121.9" cy="474.4" r="2.85" fill="#4152b6"/>
<circle cx="1223" cy="457" r="2.85" fill="#e2de34"/>
<circle cx="1128.9" cy="470.6" r="2.85" fill="#4152b6"/>
<circle cx="1196.7" cy="458" r="2.85" fill="#7ec244"/>
<circle cx="1150.6" cy="460.5" r="2.85" fill="#5dbde2"/>
<circle cx="1154.1" cy="464.8" r="2.85" fill="#5dbde2"/>
<circle cx="1160.1" cy="466.3" r="2.85" fill="#6fc4b5"/>
<circle cx="1174.7" cy="460.2" r="2.85" fill="#7ec244"/>
<circle cx="1145.8" cy="470.6" r="2.85" fill="#4152b6"/>
<circle cx="1191.1" cy="455.5" r="2.85" fill="#7ec244"/>
<circle cx="1134.9" cy="476.4" r="2.85" fill="#4152b6"/>
<circle cx="1220.8" cy="454.9" r="2.85" fill="#7ec244"/>
<circle cx="1242.6" cy="444.5" r="2.85" fill="#e8722b"/>
<circle cx="1213.6" cy="446.7" r="2.85" fill="#7ec244"/>
<circle cx="1142.7" cy="469.2" r="2.85" fill="#5dbde2"/>
<circle cx="1185.7" cy="457.3" r="2.85" fill="#7ec244"/>
<circle cx="1128.2" cy="469.5" r="2.85" fill="#4152b6"/>
<circle cx="1136" cy="468.7" r="2.85" fill="#4152b6"/>
<circle cx="1208.1" cy="458.3" r="2.85" fill="#7ec244"/>
<circle cx="1178.7" cy="463.6" r="2.85" fill="#7ec244"/>
<circle cx="1203.6" cy="456.3" r="2.85" fill="#7ec244"/>
<circle cx="1226.4" cy="449.8" r="2.85" fill="#b8d437"/>
<circle cx="1200.8" cy="450.6" r="2.85" fill="#7ec244"/>
<circle cx="1226.6" cy="448.2" r="2.85" fill="#b8d437"/>
<circle cx="1194.8" cy="453.2" r="2.85" fill="#7ec244"/>
<circle cx="1214.3" cy="456.8" r="2.85" fill="#7ec244"/>
<circle cx="1180.4" cy="459.7" r="2.85" fill="#7ec244"/>
<circle cx="1222.4" cy="454.6" r="2.85" fill="#7ec244"/>
<circle cx="1155.7" cy="472.6" r="2.85" fill="#5dbde2"/>
<circle cx="1245.8" cy="448.7" r="2.85" fill="#e8722b"/>
<circle cx="1179.4" cy="458.9" r="2.85" fill="#7ec244"/>
<circle cx="1143.8" cy="464.9" r="2.85" fill="#4152b6"/>
<circle cx="1229.1" cy="452.4" r="2.85" fill="#b8d437"/>
<circle cx="1123.3" cy="467.5" r="2.85" fill="#4152b6"/>
<circle cx="1243.6" cy="445.2" r="2.85" fill="#e8722b"/>
<circle cx="1225.6" cy="450.1" r="2.85" fill="#e8722b"/>
<circle cx="1229.2" cy="448.4" r="2.85" fill="#e2de34"/>
<circle cx="1231.3" cy="450.5" r="2.85" fill="#e2de34"/>
<circle cx="1182.5" cy="459.9" r="2.85" fill="#7ec244"/>
<circle cx="1136.4" cy="481.1" r="2.85" fill="#4152b6"/>
<circle cx="1203.7" cy="456" r="2.85" fill="#7ec244"/>
<circle cx="1212.1" cy="456.1" r="2.85" fill="#7ec244"/>
<circle cx="1169.7" cy="464.8" r="2.85" fill="#6fc4b5"/>
<circle cx="1247.3" cy="448.2" r="2.85" fill="#e8722b"/>
<circle cx="1229.5" cy="447.7" r="2.85" fill="#e2de34"/>
<circle cx="1226.9" cy="457.1" r="2.85" fill="#b8d437"/>
<circle cx="1176.7" cy="457.5" r="2.85" fill="#7ec244"/>
<circle cx="1235.4" cy="447.5" r="2.85" fill="#e8722b"/>
<circle cx="1153.6" cy="467.9" r="2.85" fill="#5dbde2"/>
<circle cx="1216.6" cy="454.8" r="2.85" fill="#7ec244"/>
<circle cx="1132.9" cy="463.2" r="2.85" fill="#4152b6"/>
<circle cx="1132.1" cy="472" r="2.85" fill="#4152b6"/>
<circle cx="1247.2" cy="446.3" r="2.85" fill="#e8722b"/>
<circle cx="1210.7" cy="457.9" r="2.85" fill="#7ec244"/>
<circle cx="1224.1" cy="453.5" r="2.85" fill="#b8d437"/>
<circle cx="1145.5" cy="464.6" r="2.85" fill="#5dbde2"/>
<circle cx="1177.7" cy="459.3" r="2.85" fill="#6fc4b5"/>
<circle cx="1255" cy="445.8" r="2.85" fill="#e8722b"/>
<circle cx="1134.5" cy="480.8" r="2.85" fill="#4152b6"/>
<circle cx="1219.2" cy="456.2" r="2.85" fill="#b8d437"/>
<circle cx="1177.1" cy="463.4" r="2.85" fill="#7ec244"/>
<circle cx="1148.9" cy="470.1" r="2.85" fill="#4152b6"/>
<circle cx="1223.8" cy="452.6" r="2.85" fill="#e2de34"/>
<circle cx="1187.4" cy="463.3" r="2.85" fill="#7ec244"/>
<circle cx="1248.9" cy="450.9" r="2.85" fill="#e8722b"/>
<circle cx="1144" cy="469.2" r="2.85" fill="#5dbde2"/>
<circle cx="1198" cy="459" r="2.85" fill="#7ec244"/>
<circle cx="1213.6" cy="452.3" r="2.85" fill="#7ec244"/>
<circle cx="1255.3" cy="448.5" r="2.85" fill="#e8722b"/>
<circle cx="1212.5" cy="448.8" r="2.85" fill="#7ec244"/>
<circle cx="1157.9" cy="468.8" r="2.85" fill="#7ec244"/>
<circle cx="1247.5" cy="446.6" r="2.85" fill="#e8722b"/>
<circle cx="1164.2" cy="465.3" r="2.85" fill="#5dbde2"/>
<circle cx="1241.1" cy="444.6" r="2.85" fill="#e8722b"/>
<circle cx="1204.9" cy="456.2" r="2.85" fill="#7ec244"/>
<circle cx="1191" cy="456.5" r="2.85" fill="#7ec244"/>
<circle cx="1165.3" cy="469.3" r="2.85" fill="#7ec244"/>
<circle cx="1186" cy="460.5" r="2.85" fill="#7ec244"/>
<circle cx="1232.8" cy="457.9" r="2.85" fill="#b8d437"/>
<circle cx="1208.8" cy="459.4" r="2.85" fill="#7ec244"/>
<circle cx="1231.6" cy="451.3" r="2.85" fill="#b8d437"/>
<circle cx="1123" cy="463.6" r="2.85" fill="#4152b6"/>
<circle cx="1195.8" cy="457.6" r="2.85" fill="#7ec244"/>
<circle cx="1187.4" cy="461.5" r="2.85" fill="#7ec244"/>
<circle cx="1174.7" cy="469" r="2.85" fill="#6fc4b5"/>
<circle cx="1187.6" cy="457.5" r="2.85" fill="#7ec244"/>
<circle cx="1184.6" cy="462.8" r="2.85" fill="#7ec244"/>
<circle cx="1146.8" cy="457.2" r="2.85" fill="#6fc4b5"/>
<circle cx="1181.7" cy="472.4" r="2.85" fill="#7ec244"/>
<circle cx="1211.6" cy="466.8" r="2.85" fill="#7ec244"/>
<circle cx="1147.1" cy="477.1" r="2.85" fill="#4152b6"/>
<circle cx="1240.9" cy="454.8" r="2.85" fill="#e8722b"/>
<circle cx="1176.4" cy="458.5" r="2.85" fill="#6fc4b5"/>
<circle cx="1158.7" cy="462.5" r="2.85" fill="#5dbde2"/>
<circle cx="1201.2" cy="456" r="2.85" fill="#7ec244"/>
<circle cx="1251.5" cy="447.9" r="2.85" fill="#e8722b"/>
<circle cx="1203.7" cy="451.3" r="2.85" fill="#7ec244"/>
<circle cx="1232.7" cy="446.8" r="2.85" fill="#b8d437"/>
<circle cx="1223.4" cy="452.4" r="2.85" fill="#7ec244"/>
<circle cx="1137.1" cy="480" r="2.85" fill="#4152b6"/>
<circle cx="1223" cy="458.8" r="2.85" fill="#7ec244"/>
<circle cx="1219" cy="455.6" r="2.85" fill="#b8d437"/>
<circle cx="1225.5" cy="452" r="2.85" fill="#7ec244"/>
<circle cx="1127" cy="471.4" r="2.85" fill="#4152b6"/>
<circle cx="1170.1" cy="464.7" r="2.85" fill="#5dbde2"/>
<circle cx="1128.6" cy="473.7" r="2.85" fill="#4152b6"/>
<circle cx="1158.4" cy="471.1" r="2.85" fill="#6fc4b5"/>
<circle cx="1172.5" cy="458.9" r="2.85" fill="#7ec244"/>
<circle cx="1169.1" cy="463.4" r="2.85" fill="#6fc4b5"/>
<circle cx="1127.6" cy="466.4" r="2.85" fill="#4152b6"/>
<circle cx="1222.5" cy="455.9" r="2.85" fill="#b8d437"/>
<circle cx="1179.5" cy="469.2" r="2.85" fill="#7ec244"/>
<circle cx="1134.6" cy="478.7" r="2.85" fill="#4152b6"/>
<circle cx="1139.4" cy="472.8" r="2.85" fill="#4152b6"/>
<circle cx="1205.6" cy="460.9" r="2.85" fill="#7ec244"/>
<circle cx="1195.7" cy="455.2" r="2.85" fill="#7ec244"/>
<circle cx="1250.8" cy="446.1" r="2.85" fill="#e8722b"/>
<circle cx="1153" cy="473.6" r="2.85" fill="#5dbde2"/>
<circle cx="1200.3" cy="462.6" r="2.85" fill="#7ec244"/>
<circle cx="1252.6" cy="448.6" r="2.85" fill="#e8722b"/>
<circle cx="1137.9" cy="466.5" r="2.85" fill="#4152b6"/>
<circle cx="1242.1" cy="451.3" r="2.85" fill="#e8722b"/>
<circle cx="1230.2" cy="448.3" r="2.85" fill="#7ec244"/>
<circle cx="1225.9" cy="452.2" r="2.85" fill="#e2de34"/>
<circle cx="1156.4" cy="469.4" r="2.85" fill="#5dbde2"/>
<circle cx="1167.2" cy="458.7" r="2.85" fill="#6fc4b5"/>
<circle cx="1136.3" cy="475.2" r="2.85" fill="#4152b6"/>
<circle cx="1196.7" cy="464.5" r="2.85" fill="#7ec244"/>
<circle cx="1203.5" cy="460.6" r="2.85" fill="#7ec244"/>
<circle cx="1241.4" cy="450.9" r="2.85" fill="#e8722b"/>
<circle cx="1238.7" cy="451.5" r="2.85" fill="#e8722b"/>
<circle cx="1228.3" cy="448.6" r="2.85" fill="#b8d437"/>
<circle cx="1182.4" cy="459.3" r="2.85" fill="#7ec244"/>
<circle cx="1212.3" cy="454.4" r="2.85" fill="#7ec244"/>
<circle cx="1173.7" cy="463.1" r="2.85" fill="#6fc4b5"/>
<circle cx="1243.7" cy="449.4" r="2.85" fill="#e2de34"/>
<circle cx="1196.8" cy="451.9" r="2.85" fill="#7ec244"/>
<circle cx="1161.7" cy="473.9" r="2.85" fill="#6fc4b5"/>
<circle cx="1161.7" cy="473.6" r="2.85" fill="#6fc4b5"/>
<circle cx="1247.1" cy="455" r="2.85" fill="#e8722b"/>
<circle cx="1154.6" cy="473.5" r="2.85" fill="#5dbde2"/>
<circle cx="1173.2" cy="461.6" r="2.85" fill="#7ec244"/>
<circle cx="1160.5" cy="462.4" r="2.85" fill="#5dbde2"/>
<circle cx="1152.9" cy="467.9" r="2.85" fill="#5dbde2"/>
<circle cx="1171.6" cy="456.9" r="2.85" fill="#6fc4b5"/>
<circle cx="1197.5" cy="461.2" r="2.85" fill="#7ec244"/>
<circle cx="1201.2" cy="458" r="2.85" fill="#7ec244"/>
<circle cx="1204.9" cy="459.6" r="2.85" fill="#7ec244"/>
<circle cx="1228.2" cy="448" r="2.85" fill="#7ec244"/>
<circle cx="1234.9" cy="447.9" r="2.85" fill="#e8722b"/>
<circle cx="1245.9" cy="444.3" r="2.85" fill="#e2de34"/>
<circle cx="1176.5" cy="461.9" r="2.85" fill="#7ec244"/>
<circle cx="1234.2" cy="448.1" r="2.85" fill="#e2de34"/>
<circle cx="1223" cy="449.5" r="2.85" fill="#b8d437"/>
<circle cx="1242.1" cy="443.6" r="2.85" fill="#e8722b"/>
<circle cx="1240.5" cy="450.2" r="2.85" fill="#b8d437"/>
<circle cx="1172.9" cy="466.4" r="2.85" fill="#7ec244"/>
<circle cx="1123.9" cy="461.7" r="2.85" fill="#4152b6"/>
<circle cx="1191.6" cy="458.2" r="2.85" fill="#7ec244"/>
<circle cx="1236.3" cy="455.4" r="2.85" fill="#b8d437"/>
<circle cx="1204.9" cy="452.1" r="2.85" fill="#7ec244"/>
<circle cx="1201.4" cy="458.4" r="2.85" fill="#7ec244"/>
<circle cx="1227.9" cy="451.4" r="2.85" fill="#7ec244"/>
<circle cx="1157.3" cy="468.1" r="2.85" fill="#6fc4b5"/>
<circle cx="1141.6" cy="466.7" r="2.85" fill="#4152b6"/>
<circle cx="1247.7" cy="448.3" r="2.85" fill="#e8722b"/>
<circle cx="1229.3" cy="453" r="2.85" fill="#e8722b"/>
<circle cx="1172.9" cy="460.9" r="2.85" fill="#7ec244"/>
<circle cx="1254.6" cy="440.3" r="2.85" fill="#e8722b"/>
<circle cx="1155.5" cy="471.5" r="2.85" fill="#5dbde2"/>
<circle cx="1229.3" cy="457.8" r="2.85" fill="#b8d437"/>
<circle cx="1263.6" cy="444" r="2.85" fill="#d9282b"/>
<circle cx="1243.8" cy="452.9" r="2.85" fill="#eaa030"/>
<circle cx="1247.5" cy="456.7" r="2.85" fill="#e8722b"/>
<circle cx="1244.8" cy="437.5" r="2.85" fill="#e8722b"/>
<circle cx="1245.6" cy="441.1" r="2.85" fill="#e8722b"/>
<circle cx="1248.7" cy="455.5" r="2.85" fill="#e8722b"/>
<circle cx="1254.7" cy="449.1" r="2.85" fill="#eaa030"/>
<circle cx="1251.9" cy="449.1" r="2.85" fill="#e8722b"/>
<circle cx="1256.2" cy="445.6" r="2.85" fill="#e8722b"/>
<circle cx="1244.1" cy="453.6" r="2.85" fill="#e8722b"/>
<circle cx="1248.2" cy="445" r="2.85" fill="#e8722b"/>
<circle cx="1249.9" cy="445.8" r="2.85" fill="#e8722b"/>
<circle cx="1249.7" cy="450.2" r="2.85" fill="#e8722b"/>
<circle cx="1238.8" cy="448.4" r="2.85" fill="#e8722b"/>
<circle cx="1244.6" cy="456" r="2.85" fill="#e8722b"/>
<circle cx="1256.7" cy="446.4" r="2.85" fill="#eaa030"/>
<circle cx="1248.4" cy="452.2" r="2.85" fill="#e8722b"/>
<circle cx="1254.1" cy="448.3" r="2.85" fill="#eaa030"/>
<circle cx="1245.1" cy="453.8" r="2.85" fill="#e8722b"/>
<circle cx="1243.7" cy="449.6" r="2.85" fill="#e8722b"/>
<circle cx="1242.8" cy="454.5" r="2.85" fill="#e8722b"/>
<circle cx="1246.5" cy="451.8" r="2.85" fill="#e8722b"/>
<circle cx="1244.6" cy="443.7" r="2.85" fill="#eaa030"/>
<circle cx="1045.5" cy="709" r="2.85" fill="#e8722b"/>
<circle cx="1047.2" cy="648.6" r="2.85" fill="#7ec244"/>
<circle cx="1059.5" cy="554" r="2.85" fill="#4152b6"/>
<circle cx="1049" cy="659" r="2.85" fill="#7ec244"/>
<circle cx="1062.1" cy="643.2" r="2.85" fill="#7ec244"/>
<circle cx="1062" cy="577.4" r="2.85" fill="#4152b6"/>
<circle cx="1049.5" cy="681.3" r="2.85" fill="#eaa030"/>
<circle cx="1066.8" cy="549.5" r="2.85" fill="#4152b6"/>
<circle cx="1056.7" cy="564.9" r="2.85" fill="#4152b6"/>
<circle cx="1054.2" cy="604.2" r="2.85" fill="#5dbde2"/>
<circle cx="1053.3" cy="661.9" r="2.85" fill="#e2de34"/>
<circle cx="1061.7" cy="563.7" r="2.85" fill="#4152b6"/>
<circle cx="1050.4" cy="683.8" r="2.85" fill="#eaa030"/>
<circle cx="1051.3" cy="689.5" r="2.85" fill="#e2de34"/>
<circle cx="1067.8" cy="566.3" r="2.85" fill="#4152b6"/>
<circle cx="1064.3" cy="546.8" r="2.85" fill="#4152b6"/>
<circle cx="1052.1" cy="669.3" r="2.85" fill="#b8d437"/>
<circle cx="1062.8" cy="571.4" r="2.85" fill="#4152b6"/>
<circle cx="1051.5" cy="654.6" r="2.85" fill="#7ec244"/>
<circle cx="1050.6" cy="660.1" r="2.85" fill="#7ec244"/>
<circle cx="1048.4" cy="632.1" r="2.85" fill="#7ec244"/>
<circle cx="1044.3" cy="651.5" r="2.85" fill="#7ec244"/>
<circle cx="1048.1" cy="666.4" r="2.85" fill="#b8d437"/>
<circle cx="1061.2" cy="554.3" r="2.85" fill="#4152b6"/>
<circle cx="1043.6" cy="702" r="2.85" fill="#eaa030"/>
<circle cx="1063.3" cy="557.4" r="2.85" fill="#4152b6"/>
<circle cx="1057.7" cy="615.6" r="2.85" fill="#7ec244"/>
<circle cx="1048.6" cy="674.6" r="2.85" fill="#e2de34"/>
<circle cx="1054.3" cy="654.2" r="2.85" fill="#b8d437"/>
<circle cx="1054.1" cy="599.7" r="2.85" fill="#5dbde2"/>
<circle cx="1047.8" cy="662.7" r="2.85" fill="#7ec244"/>
<circle cx="1058.6" cy="539.7" r="2.85" fill="#4152b6"/>
<circle cx="1060.1" cy="602.2" r="2.85" fill="#5dbde2"/>
<circle cx="1054.9" cy="566.9" r="2.85" fill="#4152b6"/>
<circle cx="1052.1" cy="678.7" r="2.85" fill="#eaa030"/>
<circle cx="1054.8" cy="644.3" r="2.85" fill="#7ec244"/>
<circle cx="1046.6" cy="670.1" r="2.85" fill="#eaa030"/>
<circle cx="1047.1" cy="701" r="2.85" fill="#e8722b"/>
<circle cx="1056.7" cy="545.8" r="2.85" fill="#4152b6"/>
<circle cx="1060.4" cy="584.4" r="2.85" fill="#5dbde2"/>
<circle cx="1057.1" cy="548.3" r="2.85" fill="#4152b6"/>
<circle cx="1053.2" cy="667.8" r="2.85" fill="#b8d437"/>
<circle cx="1055.6" cy="643.9" r="2.85" fill="#7ec244"/>
<circle cx="1047.6" cy="696.4" r="2.85" fill="#e8722b"/>
<circle cx="1056.4" cy="602" r="2.85" fill="#5dbde2"/>
<circle cx="1052.6" cy="554" r="2.85" fill="#4152b6"/>
<circle cx="1056.4" cy="568.1" r="2.85" fill="#4152b6"/>
<circle cx="1066.5" cy="593.8" r="2.85" fill="#4152b6"/>
<circle cx="1066.8" cy="540.6" r="2.85" fill="#4152b6"/>
<circle cx="1045.6" cy="704.8" r="2.85" fill="#e8722b"/>
<circle cx="1056.6" cy="574.5" r="2.85" fill="#4152b6"/>
<circle cx="1063.5" cy="586" r="2.85" fill="#5dbde2"/>
<circle cx="1056.7" cy="654.3" r="2.85" fill="#7ec244"/>
<circle cx="1047.9" cy="711.3" r="2.85" fill="#d9282b"/>
<circle cx="1068.9" cy="601.2" r="2.85" fill="#5dbde2"/>
<circle cx="1071.2" cy="547.5" r="2.85" fill="#4152b6"/>
<circle cx="1043.9" cy="689.5" r="2.85" fill="#eaa030"/>
<circle cx="1050.6" cy="650.4" r="2.85" fill="#7ec244"/>
<circle cx="1053.2" cy="616" r="2.85" fill="#7ec244"/>
<circle cx="1059.9" cy="618.8" r="2.85" fill="#7ec244"/>
<circle cx="1045.9" cy="660.1" r="2.85" fill="#b8d437"/>
<circle cx="1046.3" cy="673.6" r="2.85" fill="#e2de34"/>
<circle cx="1053" cy="691" r="2.85" fill="#e8722b"/>
<circle cx="1041.6" cy="651.5" r="2.85" fill="#7ec244"/>
<circle cx="1052.8" cy="662" r="2.85" fill="#b8d437"/>
<circle cx="1065.4" cy="585" r="2.85" fill="#5dbde2"/>
<circle cx="1054.4" cy="607.6" r="2.85" fill="#5dbde2"/>
<circle cx="1068.9" cy="577.9" r="2.85" fill="#4152b6"/>
<circle cx="1046.8" cy="637.9" r="2.85" fill="#7ec244"/>
<circle cx="1072.5" cy="578.9" r="2.85" fill="#4152b6"/>
<circle cx="1059.2" cy="539.5" r="2.85" fill="#4152b6"/>
<circle cx="1048.8" cy="684.4" r="2.85" fill="#e2de34"/>
<circle cx="1054.4" cy="611.6" r="2.85" fill="#5dbde2"/>
<circle cx="1062.6" cy="570.5" r="2.85" fill="#4152b6"/>
<circle cx="1057.9" cy="579.2" r="2.85" fill="#4152b6"/>
<circle cx="1050.6" cy="687.2" r="2.85" fill="#eaa030"/>
<circle cx="1052.2" cy="597" r="2.85" fill="#5dbde2"/>
<circle cx="1046.1" cy="663.1" r="2.85" fill="#7ec244"/>
<circle cx="1046.5" cy="703.7" r="2.85" fill="#d9282b"/>
<circle cx="1045.5" cy="681.1" r="2.85" fill="#b8d437"/>
<circle cx="1053.5" cy="648.2" r="2.85" fill="#b8d437"/>
<circle cx="1060.2" cy="549.2" r="2.85" fill="#4152b6"/>
<circle cx="1046.1" cy="702.4" r="2.85" fill="#e8722b"/>
<circle cx="1046.9" cy="602.3" r="2.85" fill="#5dbde2"/>
<circle cx="1053.1" cy="634.9" r="2.85" fill="#7ec244"/>
<circle cx="1058" cy="572.3" r="2.85" fill="#4152b6"/>
<circle cx="1052.9" cy="675.6" r="2.85" fill="#b8d437"/>
<circle cx="1052.9" cy="643.6" r="2.85" fill="#7ec244"/>
<circle cx="1050.6" cy="674.8" r="2.85" fill="#e2de34"/>
<circle cx="1053.2" cy="666.7" r="2.85" fill="#e2de34"/>
<circle cx="1073.1" cy="569.7" r="2.85" fill="#4152b6"/>
<circle cx="1054.2" cy="567.5" r="2.85" fill="#4152b6"/>
<circle cx="1057.4" cy="620.5" r="2.85" fill="#7ec244"/>
<circle cx="1052" cy="603.2" r="2.85" fill="#5dbde2"/>
<circle cx="1053.4" cy="636.9" r="2.85" fill="#7ec244"/>
<circle cx="1053.1" cy="659.9" r="2.85" fill="#7ec244"/>
<circle cx="1052.9" cy="558.8" r="2.85" fill="#4152b6"/>
<circle cx="1055.4" cy="623.7" r="2.85" fill="#5dbde2"/>
<circle cx="1052" cy="647" r="2.85" fill="#7ec244"/>
<circle cx="1053" cy="640.9" r="2.85" fill="#7ec244"/>
<circle cx="1064.1" cy="564.8" r="2.85" fill="#4152b6"/>
<circle cx="1049.2" cy="652.5" r="2.85" fill="#b8d437"/>
<circle cx="1045.3" cy="660.6" r="2.85" fill="#b8d437"/>
<circle cx="1055.8" cy="659.8" r="2.85" fill="#b8d437"/>
<circle cx="1043.7" cy="706.3" r="2.85" fill="#d9282b"/>
<circle cx="1062.8" cy="553.3" r="2.85" fill="#4152b6"/>
<circle cx="1045.8" cy="695.5" r="2.85" fill="#d9282b"/>
<circle cx="1066.4" cy="589.9" r="2.85" fill="#5dbde2"/>
<circle cx="1046.6" cy="686.2" r="2.85" fill="#eaa030"/>
<circle cx="1049.5" cy="637.1" r="2.85" fill="#7ec244"/>
<circle cx="1050.2" cy="693" r="2.85" fill="#eaa030"/>
<circle cx="1062" cy="618" r="2.85" fill="#7ec244"/>
<circle cx="1066.3" cy="552.7" r="2.85" fill="#4152b6"/>
<circle cx="1052" cy="619" r="2.85" fill="#7ec244"/>
<circle cx="1067.9" cy="579" r="2.85" fill="#4152b6"/>
<circle cx="1055.5" cy="637.1" r="2.85" fill="#7ec244"/>
<circle cx="1043.7" cy="675.6" r="2.85" fill="#eaa030"/>
<circle cx="1052.4" cy="650.9" r="2.85" fill="#7ec244"/>
<circle cx="1060.3" cy="622.8" r="2.85" fill="#7ec244"/>
<circle cx="1057.1" cy="619" r="2.85" fill="#7ec244"/>
<circle cx="1061" cy="604.3" r="2.85" fill="#5dbde2"/>
<circle cx="1041.8" cy="703.2" r="2.85" fill="#e8722b"/>
<circle cx="1050" cy="634.9" r="2.85" fill="#7ec244"/>
<circle cx="1054.9" cy="639.4" r="2.85" fill="#7ec244"/>
<circle cx="1051.4" cy="654.7" r="2.85" fill="#7ec244"/>
<circle cx="1049.9" cy="661.7" r="2.85" fill="#b8d437"/>
<circle cx="1064.1" cy="609.6" r="2.85" fill="#5dbde2"/>
<circle cx="1066.9" cy="607.2" r="2.85" fill="#5dbde2"/>
<circle cx="1046.6" cy="650" r="2.85" fill="#7ec244"/>
<circle cx="1060.2" cy="543.6" r="2.85" fill="#4152b6"/>
<circle cx="1067" cy="571.3" r="2.85" fill="#4152b6"/>
<circle cx="1052.6" cy="665.2" r="2.85" fill="#b8d437"/>
<circle cx="1055.6" cy="625.3" r="2.85" fill="#7ec244"/>
<circle cx="1059.4" cy="637.8" r="2.85" fill="#7ec244"/>
<circle cx="1064.7" cy="542.6" r="2.85" fill="#4152b6"/>
<circle cx="1059.3" cy="609.6" r="2.85" fill="#5dbde2"/>
<circle cx="1058.1" cy="574.3" r="2.85" fill="#4152b6"/>
<circle cx="1058.3" cy="611.1" r="2.85" fill="#5dbde2"/>
<circle cx="1060.6" cy="565.3" r="2.85" fill="#4152b6"/>
<circle cx="1047.8" cy="563.2" r="2.85" fill="#4152b6"/>
<circle cx="1059" cy="556.5" r="2.85" fill="#4152b6"/>
<circle cx="1061.8" cy="545.3" r="2.85" fill="#4152b6"/>
<circle cx="1042.3" cy="704.9" r="2.85" fill="#d9282b"/>
<circle cx="1056.6" cy="634.8" r="2.85" fill="#7ec244"/>
<circle cx="1044.7" cy="668.7" r="2.85" fill="#b8d437"/>
<circle cx="1048.2" cy="695.5" r="2.85" fill="#eaa030"/>
<circle cx="1042.7" cy="693.2" r="2.85" fill="#e8722b"/>
<circle cx="1042.8" cy="695.5" r="2.85" fill="#eaa030"/>
<circle cx="1044.3" cy="682.1" r="2.85" fill="#eaa030"/>
<circle cx="1060.9" cy="572.9" r="2.85" fill="#4152b6"/>
<circle cx="1047" cy="689.5" r="2.85" fill="#e8722b"/>
<circle cx="1053.2" cy="690.2" r="2.85" fill="#eaa030"/>
<circle cx="1056" cy="648.4" r="2.85" fill="#7ec244"/>
<circle cx="1069" cy="582.8" r="2.85" fill="#4152b6"/>
<circle cx="1046.1" cy="709.3" r="2.85" fill="#d9282b"/>
<circle cx="1050.6" cy="711.3" r="2.85" fill="#d9282b"/>
<circle cx="1047.8" cy="688.6" r="2.85" fill="#eaa030"/>
<circle cx="1051.1" cy="657" r="2.85" fill="#b8d437"/>
<circle cx="1061.3" cy="553.2" r="2.85" fill="#4152b6"/>
<circle cx="1066.6" cy="554.4" r="2.85" fill="#4152b6"/>
<circle cx="1051.4" cy="679.8" r="2.85" fill="#e2de34"/>
<circle cx="1058" cy="610.7" r="2.85" fill="#5dbde2"/>
<circle cx="1061.7" cy="578.7" r="2.85" fill="#4152b6"/>
<circle cx="1065.1" cy="550.2" r="2.85" fill="#4152b6"/>
<circle cx="1047.3" cy="669.3" r="2.85" fill="#e2de34"/>
<circle cx="1065.5" cy="583.6" r="2.85" fill="#4152b6"/>
<circle cx="1053.9" cy="633.9" r="2.85" fill="#7ec244"/>
<circle cx="1061" cy="602.7" r="2.85" fill="#5dbde2"/>
<circle cx="1050.6" cy="666.8" r="2.85" fill="#b8d437"/>
<circle cx="1050.8" cy="637.2" r="2.85" fill="#7ec244"/>
<circle cx="1045.9" cy="693" r="2.85" fill="#eaa030"/>
<circle cx="1053.7" cy="645.4" r="2.85" fill="#7ec244"/>
<circle cx="1046.5" cy="671.5" r="2.85" fill="#b8d437"/>
<circle cx="1049.9" cy="663.2" r="2.85" fill="#b8d437"/>
<circle cx="1044" cy="675.8" r="2.85" fill="#e2de34"/>
<circle cx="1044" cy="703.7" r="2.85" fill="#e8722b"/>
<circle cx="1058.5" cy="578.8" r="2.85" fill="#4152b6"/>
<circle cx="1047.8" cy="691.1" r="2.85" fill="#eaa030"/>
<circle cx="1053.4" cy="541.6" r="2.85" fill="#4152b6"/>
<circle cx="1051" cy="675.1" r="2.85" fill="#e2de34"/>
<circle cx="1060.6" cy="623.9" r="2.85" fill="#7ec244"/>
<circle cx="1048.7" cy="700.2" r="2.85" fill="#e8722b"/>
<circle cx="1061.1" cy="626.7" r="2.85" fill="#7ec244"/>
<circle cx="1058.5" cy="619.3" r="2.85" fill="#7ec244"/>
<circle cx="1057.1" cy="593.4" r="2.85" fill="#5dbde2"/>
<circle cx="1047.4" cy="692.5" r="2.85" fill="#eaa030"/>
<circle cx="1062.8" cy="540.5" r="2.85" fill="#4152b6"/>
<circle cx="1052.9" cy="623.4" r="2.85" fill="#7ec244"/>
<circle cx="1059" cy="597" r="2.85" fill="#5dbde2"/>
<circle cx="1054" cy="599" r="2.85" fill="#5dbde2"/>
<circle cx="1045.3" cy="701.2" r="2.85" fill="#e8722b"/>
<circle cx="1056" cy="624.7" r="2.85" fill="#7ec244"/>
<circle cx="1048.9" cy="680.7" r="2.85" fill="#eaa030"/>
<circle cx="1047.7" cy="687.4" r="2.85" fill="#eaa030"/>
<circle cx="1045.9" cy="699.9" r="2.85" fill="#eaa030"/>
<circle cx="1053.4" cy="627.6" r="2.85" fill="#7ec244"/>
<circle cx="1062.3" cy="575.3" r="2.85" fill="#4152b6"/>
<circle cx="1053.9" cy="703.4" r="2.85" fill="#d9282b"/>
<circle cx="1043.9" cy="701.8" r="2.85" fill="#e8722b"/>
<circle cx="1051.5" cy="551.1" r="2.85" fill="#4152b6"/>
<circle cx="1051.8" cy="645.2" r="2.85" fill="#7ec244"/>
<circle cx="1052.7" cy="629.4" r="2.85" fill="#7ec244"/>
<circle cx="1063.5" cy="558.5" r="2.85" fill="#4152b6"/>
<circle cx="1063.3" cy="558.9" r="2.85" fill="#4152b6"/>
<circle cx="1054.5" cy="662.9" r="2.85" fill="#7ec244"/>
<circle cx="1054.5" cy="634.3" r="2.85" fill="#7ec244"/>
<circle cx="1064.9" cy="570.6" r="2.85" fill="#4152b6"/>
<circle cx="1044.1" cy="708.9" r="2.85" fill="#d9282b"/>
<circle cx="1051.3" cy="675.4" r="2.85" fill="#e2de34"/>
<circle cx="1054" cy="636.2" r="2.85" fill="#7ec244"/>
<circle cx="1059.6" cy="584.7" r="2.85" fill="#4152b6"/>
<circle cx="1052.7" cy="633.1" r="2.85" fill="#7ec244"/>
<circle cx="1059.1" cy="583.9" r="2.85" fill="#5dbde2"/>
<circle cx="1064.1" cy="584" r="2.85" fill="#4152b6"/>
<circle cx="1055.9" cy="580.1" r="2.85" fill="#5dbde2"/>
<circle cx="1054.7" cy="611.8" r="2.85" fill="#5dbde2"/>
<circle cx="1068.6" cy="553.4" r="2.85" fill="#4152b6"/>
<circle cx="1050.9" cy="639.5" r="2.85" fill="#7ec244"/>
<circle cx="1044.8" cy="691.2" r="2.85" fill="#e8722b"/>
<circle cx="1052.1" cy="632.5" r="2.85" fill="#7ec244"/>
<circle cx="1054.2" cy="635.4" r="2.85" fill="#7ec244"/>
<circle cx="1059.1" cy="584.4" r="2.85" fill="#4152b6"/>
<circle cx="1047.1" cy="657.6" r="2.85" fill="#b8d437"/>
<circle cx="1058.3" cy="602.4" r="2.85" fill="#5dbde2"/>
<circle cx="1045" cy="686" r="2.85" fill="#eaa030"/>
<circle cx="1049.3" cy="661.9" r="2.85" fill="#b8d437"/>
<circle cx="1052.6" cy="617.5" r="2.85" fill="#5dbde2"/>
<circle cx="1052.6" cy="641.2" r="2.85" fill="#7ec244"/>
<circle cx="1049.7" cy="604.8" r="2.85" fill="#5dbde2"/>
<circle cx="1061.5" cy="549.2" r="2.85" fill="#4152b6"/>
<circle cx="1057.4" cy="603.1" r="2.85" fill="#5dbde2"/>
<circle cx="1051.7" cy="675.6" r="2.85" fill="#e2de34"/>
<circle cx="1046.4" cy="690.4" r="2.85" fill="#eaa030"/>
<circle cx="1060.5" cy="544.7" r="2.85" fill="#4152b6"/>
<circle cx="1048.1" cy="683.6" r="2.85" fill="#eaa030"/>
<circle cx="1066.9" cy="571.5" r="2.85" fill="#4152b6"/>
<circle cx="1055.2" cy="604.3" r="2.85" fill="#5dbde2"/>
<circle cx="1048.2" cy="686.8" r="2.85" fill="#e2de34"/>
<circle cx="1054.9" cy="597.3" r="2.85" fill="#5dbde2"/>
<circle cx="1051" cy="598.3" r="2.85" fill="#5dbde2"/>
<circle cx="1051.6" cy="655.2" r="2.85" fill="#7ec244"/>
<circle cx="1058.8" cy="590" r="2.85" fill="#4152b6"/>
<circle cx="1045.7" cy="690.5" r="2.85" fill="#eaa030"/>
<circle cx="1053.2" cy="630.5" r="2.85" fill="#7ec244"/>
<circle cx="1058.4" cy="573.1" r="2.85" fill="#4152b6"/>
<circle cx="1058.4" cy="546" r="2.85" fill="#4152b6"/>
<circle cx="1045.9" cy="707.1" r="2.85" fill="#d9282b"/>
<circle cx="1045.2" cy="706.9" r="2.85" fill="#e8722b"/>
<circle cx="1056" cy="589.5" r="2.85" fill="#5dbde2"/>
<circle cx="1067.1" cy="563.3" r="2.85" fill="#4152b6"/>
<circle cx="1060.8" cy="573" r="2.85" fill="#4152b6"/>
<circle cx="1057.5" cy="549.5" r="2.85" fill="#4152b6"/>
<circle cx="1058.2" cy="605.8" r="2.85" fill="#5dbde2"/>
<circle cx="1045.6" cy="691.6" r="2.85" fill="#eaa030"/>
<circle cx="1053.1" cy="661.2" r="2.85" fill="#b8d437"/>
<circle cx="1051.7" cy="615.6" r="2.85" fill="#5dbde2"/>
<circle cx="1049.3" cy="679.4" r="2.85" fill="#eaa030"/>
<circle cx="1051.9" cy="626.3" r="2.85" fill="#7ec244"/>
<circle cx="1047.3" cy="685.8" r="2.85" fill="#e2de34"/>
<circle cx="1042.4" cy="709.4" r="2.85" fill="#d9282b"/>
<circle cx="1041.4" cy="585.4" r="2.85" fill="#7ec244"/>
<circle cx="1048.9" cy="580.9" r="2.85" fill="#7ec244"/>
<circle cx="1041.5" cy="553.7" r="2.85" fill="#7ec244"/>
<circle cx="1047.1" cy="581.2" r="2.85" fill="#7ec244"/>
<circle cx="1051.7" cy="573" r="2.85" fill="#7ec244"/>
<circle cx="1048" cy="567.1" r="2.85" fill="#7ec244"/>
<circle cx="1049.1" cy="582.7" r="2.85" fill="#7ec244"/>
<circle cx="1051.9" cy="574.2" r="2.85" fill="#7ec244"/>
<circle cx="1042.9" cy="570.9" r="2.85" fill="#7ec244"/>
<circle cx="1045.2" cy="579.8" r="2.85" fill="#7ec244"/>
<circle cx="1046.1" cy="564.8" r="2.85" fill="#7ec244"/>
<circle cx="1041.6" cy="584.8" r="2.85" fill="#7ec244"/>
<circle cx="1043.6" cy="556.7" r="2.85" fill="#7ec244"/>
<circle cx="1040.2" cy="558.7" r="2.85" fill="#7ec244"/>
<circle cx="1044" cy="599.1" r="2.85" fill="#7ec244"/>
<circle cx="1046.4" cy="582.8" r="2.85" fill="#7ec244"/>
<circle cx="1042.4" cy="557.4" r="2.85" fill="#7ec244"/>
<circle cx="1039.5" cy="567.4" r="2.85" fill="#7ec244"/>
<circle cx="1046.8" cy="580.5" r="2.85" fill="#7ec244"/>
<circle cx="1043.6" cy="567.8" r="2.85" fill="#7ec244"/>
<circle cx="1039.8" cy="556.5" r="2.85" fill="#7ec244"/>
<circle cx="1042.2" cy="576.7" r="2.85" fill="#7ec244"/>
<circle cx="1041.4" cy="599.6" r="2.85" fill="#7ec244"/>
<circle cx="1046.1" cy="587.1" r="2.85" fill="#7ec244"/>
<circle cx="1042.9" cy="576.5" r="2.85" fill="#7ec244"/>
<circle cx="1048.6" cy="598.6" r="2.85" fill="#7ec244"/>
<circle cx="1045.5" cy="592.1" r="2.85" fill="#7ec244"/>
<circle cx="1052.5" cy="580.5" r="2.85" fill="#7ec244"/>
<circle cx="1049.8" cy="597.1" r="2.85" fill="#7ec244"/>
<circle cx="1041.6" cy="580.5" r="2.85" fill="#7ec244"/>
<circle cx="1043.5" cy="569.6" r="2.85" fill="#7ec244"/>
<circle cx="1042.8" cy="573.5" r="2.85" fill="#7ec244"/>
<circle cx="1041.8" cy="588.1" r="2.85" fill="#7ec244"/>
<circle cx="1044.9" cy="595.6" r="2.85" fill="#7ec244"/>
<circle cx="1050.8" cy="595.7" r="2.85" fill="#7ec244"/>
<circle cx="1044.8" cy="558.6" r="2.85" fill="#7ec244"/>
<circle cx="1050.7" cy="594.3" r="2.85" fill="#7ec244"/>
<circle cx="1048" cy="582.9" r="2.85" fill="#7ec244"/>
<circle cx="1033.7" cy="555.5" r="2.85" fill="#7ec244"/>
<circle cx="1038.1" cy="556.5" r="2.85" fill="#7ec244"/>
<circle cx="1041.4" cy="565" r="2.85" fill="#7ec244"/>
<circle cx="1038.1" cy="555.5" r="2.85" fill="#7ec244"/>
<circle cx="1041.4" cy="567.4" r="2.85" fill="#7ec244"/>
<circle cx="1046.3" cy="587.1" r="2.85" fill="#7ec244"/>
<circle cx="1044.3" cy="600" r="2.85" fill="#7ec244"/>
<circle cx="1039.2" cy="564.7" r="2.85" fill="#7ec244"/>
<circle cx="1044.6" cy="575.8" r="2.85" fill="#7ec244"/>
<circle cx="1034.3" cy="558.2" r="2.85" fill="#7ec244"/>
<circle cx="1043.6" cy="556.3" r="2.85" fill="#7ec244"/>
<circle cx="1042.9" cy="587.6" r="2.85" fill="#7ec244"/>
<circle cx="1042.3" cy="570.7" r="2.85" fill="#7ec244"/>
<circle cx="1050.3" cy="550.5" r="2.85" fill="#6fc4b5"/>
<circle cx="1045.7" cy="595.7" r="2.85" fill="#b8d437"/>
<circle cx="1050.8" cy="576.2" r="2.85" fill="#b8d437"/>
<circle cx="1045.6" cy="561.1" r="2.85" fill="#7ec244"/>
<circle cx="1045.8" cy="586.7" r="2.85" fill="#b8d437"/>
<circle cx="1042.2" cy="556.8" r="2.85" fill="#7ec244"/>
<circle cx="1044.6" cy="599.2" r="2.85" fill="#7ec244"/>
<circle cx="1045" cy="549" r="2.85" fill="#7ec244"/>
<circle cx="1046.4" cy="580.5" r="2.85" fill="#b8d437"/>
<circle cx="1043.9" cy="561.8" r="2.85" fill="#7ec244"/>
<circle cx="1050.3" cy="596.7" r="2.85" fill="#b8d437"/>
<circle cx="1043" cy="556.1" r="2.85" fill="#7ec244"/>
<circle cx="1049.4" cy="562.5" r="2.85" fill="#7ec244"/>
<circle cx="1045" cy="601.7" r="2.85" fill="#7ec244"/>
<circle cx="1048.7" cy="555.4" r="2.85" fill="#7ec244"/>
<circle cx="1048.6" cy="604.7" r="2.85" fill="#7ec244"/>
<circle cx="1051.9" cy="573.6" r="2.85" fill="#7ec244"/>
<circle cx="1044.6" cy="591.8" r="2.85" fill="#7ec244"/>
<circle cx="1042.9" cy="577.1" r="2.85" fill="#7ec244"/>
<circle cx="1043.9" cy="574.7" r="2.85" fill="#7ec244"/>
<circle cx="1049.6" cy="589.9" r="2.85" fill="#7ec244"/>
<circle cx="1042.6" cy="557.3" r="2.85" fill="#7ec244"/>
<circle cx="1042.5" cy="550.6" r="2.85" fill="#7ec244"/>
<circle cx="1044.5" cy="561.8" r="2.85" fill="#b8d437"/>
<circle cx="1050.3" cy="592.5" r="2.85" fill="#7ec244"/>
<circle cx="1048.3" cy="567.1" r="2.85" fill="#b8d437"/>
<circle cx="1051.6" cy="566.8" r="2.85" fill="#7ec244"/>
<circle cx="1045.1" cy="590.8" r="2.85" fill="#b8d437"/>
<circle cx="1042.5" cy="556.9" r="2.85" fill="#7ec244"/>
<circle cx="1098.3" cy="524.7" r="2.85" fill="#6fc4b5"/>
<circle cx="1060.4" cy="463.9" r="2.85" fill="#8e40b0"/>
<circle cx="1084.4" cy="547.1" r="2.85" fill="#8e40b0"/>
<circle cx="1037.9" cy="488.8" r="2.85" fill="#c63aa0"/>
<circle cx="1052" cy="468.7" r="2.85" fill="#4152b6"/>
<circle cx="1071.3" cy="505.4" r="2.85" fill="#7ec244"/>
<circle cx="1089.3" cy="518.3" r="2.85" fill="#6fc4b5"/>
<circle cx="1092.8" cy="508.8" r="2.85" fill="#4152b6"/>
<circle cx="1105" cy="532.1" r="2.85" fill="#e2de34"/>
<circle cx="1080.8" cy="478.9" r="2.85" fill="#8e40b0"/>
<circle cx="1104.5" cy="452.8" r="2.85" fill="#4152b6"/>
<circle cx="1059.5" cy="521.3" r="2.85" fill="#5dbde2"/>
<circle cx="1046.3" cy="492" r="2.85" fill="#4152b6"/>
<circle cx="1085.6" cy="473.3" r="2.85" fill="#c63aa0"/>
<circle cx="1035.3" cy="517.7" r="2.85" fill="#4152b6"/>
<circle cx="1052.1" cy="487.2" r="2.85" fill="#4152b6"/>
<circle cx="1081.6" cy="496.6" r="2.85" fill="#4152b6"/>
<circle cx="1056.3" cy="507.9" r="2.85" fill="#4152b6"/>
<circle cx="1095.4" cy="466.9" r="2.85" fill="#4152b6"/>
<circle cx="1071.8" cy="509.4" r="2.85" fill="#5a45b4"/>
<circle cx="1102.8" cy="515.8" r="2.85" fill="#8e40b0"/>
<circle cx="1074.6" cy="471.6" r="2.85" fill="#5a45b4"/>
<circle cx="1084.2" cy="469.5" r="2.85" fill="#6fc4b5"/>
<circle cx="1034.9" cy="519.2" r="2.85" fill="#5dbde2"/>
<circle cx="1085.5" cy="465.3" r="2.85" fill="#4152b6"/>
<circle cx="1034.5" cy="526.1" r="2.85" fill="#5a45b4"/>
<circle cx="1092.4" cy="514" r="2.85" fill="#5a45b4"/>
<circle cx="1045.5" cy="478.5" r="2.85" fill="#5dbde2"/>
<circle cx="1120.2" cy="477.9" r="2.85" fill="#8e40b0"/>
<circle cx="1050.1" cy="535.8" r="2.85" fill="#8e40b0"/>
<circle cx="1041.3" cy="479.8" r="2.85" fill="#6fc4b5"/>
<circle cx="1038.1" cy="472.8" r="2.85" fill="#8e40b0"/>
<circle cx="1041.5" cy="500.4" r="2.85" fill="#5dbde2"/>
<circle cx="1088.3" cy="493.3" r="2.85" fill="#5a45b4"/>
<circle cx="1055.5" cy="492.6" r="2.85" fill="#4152b6"/>
<circle cx="1063.2" cy="475.9" r="2.85" fill="#5dbde2"/>
<circle cx="1102.5" cy="522.7" r="2.85" fill="#5dbde2"/>
<circle cx="1083.6" cy="527.3" r="2.85" fill="#5a45b4"/>
<circle cx="1091.6" cy="464" r="2.85" fill="#5a45b4"/>
<circle cx="1072.4" cy="482.5" r="2.85" fill="#6fc4b5"/>
<circle cx="1079.1" cy="533.1" r="2.85" fill="#5dbde2"/>
<circle cx="1068.8" cy="507.9" r="2.85" fill="#7ec244"/>
<circle cx="1095.8" cy="504.1" r="2.85" fill="#4152b6"/>
<circle cx="1094.6" cy="496" r="2.85" fill="#4152b6"/>
<circle cx="1065.1" cy="479.3" r="2.85" fill="#4152b6"/>
<circle cx="1069.9" cy="516.6" r="2.85" fill="#5a45b4"/>
<circle cx="1051.6" cy="499.3" r="2.85" fill="#5dbde2"/>
<circle cx="1076.7" cy="450.7" r="2.85" fill="#4152b6"/>
<circle cx="1050.2" cy="496.1" r="2.85" fill="#5dbde2"/>
<circle cx="1070.8" cy="499.9" r="2.85" fill="#4152b6"/>
<circle cx="1077.6" cy="503.7" r="2.85" fill="#4152b6"/>
<circle cx="1081.3" cy="481.5" r="2.85" fill="#4152b6"/>
<circle cx="1057.7" cy="493" r="2.85" fill="#c63aa0"/>
<circle cx="1103.3" cy="463.6" r="2.85" fill="#d9282b"/>
<circle cx="1066.1" cy="516.1" r="2.85" fill="#4152b6"/>
<circle cx="1092" cy="494.3" r="2.85" fill="#4152b6"/>
<circle cx="1089.8" cy="462.2" r="2.85" fill="#4152b6"/>
<circle cx="1076.8" cy="470" r="2.85" fill="#7ec244"/>
<circle cx="1057.8" cy="483.3" r="2.85" fill="#4152b6"/>
<circle cx="1033.3" cy="474.2" r="2.85" fill="#d9282b"/>
<circle cx="1072.6" cy="483" r="2.85" fill="#d9282b"/>
<circle cx="1097.7" cy="504.6" r="2.85" fill="#4152b6"/>
<circle cx="1069.9" cy="496" r="2.85" fill="#e2de34"/>
<circle cx="1072.8" cy="479.4" r="2.85" fill="#4152b6"/>
<circle cx="1056.5" cy="452.3" r="2.85" fill="#d9282b"/>
<circle cx="1073.2" cy="450.8" r="2.85" fill="#4152b6"/>
<circle cx="1033.3" cy="484.6" r="2.85" fill="#4152b6"/>
<circle cx="1060.8" cy="494.6" r="2.85" fill="#8e40b0"/>
<circle cx="1033" cy="527.5" r="2.85" fill="#7ec244"/>
<circle cx="1055.4" cy="485.6" r="2.85" fill="#8e40b0"/>
<circle cx="1072.4" cy="508.6" r="2.85" fill="#b8d437"/>
<circle cx="1036.5" cy="503.9" r="2.85" fill="#4152b6"/>
<circle cx="1085.9" cy="490.7" r="2.85" fill="#4152b6"/>
<circle cx="1083.6" cy="538.3" r="2.85" fill="#c63aa0"/>
<circle cx="1042.8" cy="492" r="2.85" fill="#4152b6"/>
<circle cx="1050.6" cy="466.9" r="2.85" fill="#b8d437"/>
<circle cx="1071" cy="527.4" r="2.85" fill="#5a45b4"/>
<circle cx="1080.9" cy="515" r="2.85" fill="#8e40b0"/>
<circle cx="1092.4" cy="481.5" r="2.85" fill="#c63aa0"/>
<circle cx="1088.1" cy="505" r="2.85" fill="#4152b6"/>
<circle cx="1036.6" cy="492.2" r="2.85" fill="#8e40b0"/>
<circle cx="1037.4" cy="483.4" r="2.85" fill="#b8d437"/>
<circle cx="1032.9" cy="493.9" r="2.85" fill="#4152b6"/>
<circle cx="1105" cy="480.7" r="2.85" fill="#e2de34"/>
<circle cx="1061.7" cy="501.6" r="2.85" fill="#5dbde2"/>
<circle cx="1093.8" cy="496.8" r="2.85" fill="#d9282b"/>
<circle cx="1060.5" cy="513.2" r="2.85" fill="#8e40b0"/>
<circle cx="1061" cy="498.8" r="2.85" fill="#5dbde2"/>
<circle cx="1054.7" cy="467.9" r="2.85" fill="#4152b6"/>
<circle cx="1054" cy="529.7" r="2.85" fill="#5a45b4"/>
<circle cx="1087.9" cy="477.7" r="2.85" fill="#c63aa0"/>
<circle cx="1084.2" cy="494.5" r="2.85" fill="#8e40b0"/>
<circle cx="1063.9" cy="490.2" r="2.85" fill="#5dbde2"/>
<circle cx="1062.6" cy="485.7" r="2.85" fill="#4152b6"/>
<circle cx="1075.7" cy="513.7" r="2.85" fill="#5a45b4"/>
<circle cx="1065.1" cy="488.4" r="2.85" fill="#b8d437"/>
<circle cx="1075.6" cy="497" r="2.85" fill="#4152b6"/>
<circle cx="1037.2" cy="492.8" r="2.85" fill="#4152b6"/>
<circle cx="1034.1" cy="513.8" r="2.85" fill="#c63aa0"/>
<circle cx="1099" cy="531.2" r="2.85" fill="#c63aa0"/>
<circle cx="1069.9" cy="477.1" r="2.85" fill="#c63aa0"/>
<circle cx="1104.4" cy="517.9" r="2.85" fill="#6fc4b5"/>
<circle cx="1079.3" cy="500.5" r="2.85" fill="#7ec244"/>
<circle cx="1089" cy="501.6" r="2.85" fill="#4152b6"/>
<circle cx="1109.4" cy="469.1" r="2.85" fill="#5dbde2"/>
<circle cx="1065.1" cy="500.1" r="2.85" fill="#8e40b0"/>
<circle cx="1052.6" cy="497.5" r="2.85" fill="#8e40b0"/>
<circle cx="1057" cy="476.4" r="2.85" fill="#c63aa0"/>
<circle cx="1074" cy="498.3" r="2.85" fill="#4152b6"/>
<circle cx="1061.7" cy="509.9" r="2.85" fill="#4152b6"/>
<circle cx="1069.4" cy="477.2" r="2.85" fill="#5dbde2"/>
<circle cx="1061.8" cy="513.6" r="2.85" fill="#4152b6"/>
<circle cx="1069.1" cy="475.7" r="2.85" fill="#d9282b"/>
<circle cx="1021.9" cy="497.2" r="2.85" fill="#4152b6"/>
<circle cx="1074.2" cy="502.1" r="2.85" fill="#4152b6"/>
<circle cx="1107" cy="493" r="2.85" fill="#4152b6"/>
<circle cx="1080.6" cy="511.5" r="2.85" fill="#4152b6"/>
<circle cx="1086.4" cy="489" r="2.85" fill="#d9282b"/>
<circle cx="1072" cy="471.4" r="2.85" fill="#5dbde2"/>
<circle cx="1075.6" cy="526" r="2.85" fill="#c63aa0"/>
<circle cx="1053.5" cy="516.4" r="2.85" fill="#5dbde2"/>
<circle cx="1086.5" cy="529" r="2.85" fill="#c63aa0"/>
<circle cx="1048.1" cy="494.5" r="2.85" fill="#8e40b0"/>
<circle cx="1076.4" cy="484.2" r="2.85" fill="#8e40b0"/>
<circle cx="1059.9" cy="515.6" r="2.85" fill="#7ec244"/>
<circle cx="1091.4" cy="506.4" r="2.85" fill="#4152b6"/>
<circle cx="1069.1" cy="510.3" r="2.85" fill="#5dbde2"/>
<circle cx="1088.1" cy="515" r="2.85" fill="#5a45b4"/>
<circle cx="1068.2" cy="540.7" r="2.85" fill="#5a45b4"/>
<circle cx="1082.3" cy="529" r="2.85" fill="#d9282b"/>
<circle cx="1076.3" cy="491.1" r="2.85" fill="#b8d437"/>
<circle cx="1101.5" cy="481.4" r="2.85" fill="#e2de34"/>
<circle cx="1111.9" cy="492.1" r="2.85" fill="#4152b6"/>
<circle cx="1074.6" cy="504.6" r="2.85" fill="#4152b6"/>
<circle cx="1069.8" cy="517.1" r="2.85" fill="#4152b6"/>
<circle cx="1057.6" cy="489.8" r="2.85" fill="#5dbde2"/>
<circle cx="1054.4" cy="456.6" r="2.85" fill="#5a45b4"/>
<circle cx="1085.5" cy="500.1" r="2.85" fill="#c63aa0"/>
<circle cx="1055" cy="484.1" r="2.85" fill="#4152b6"/>
<circle cx="1090.4" cy="476.1" r="2.85" fill="#5dbde2"/>
<circle cx="1059.3" cy="468.6" r="2.85" fill="#4152b6"/>
<circle cx="1039.5" cy="520.9" r="2.85" fill="#7ec244"/>
<circle cx="1087" cy="478.6" r="2.85" fill="#b8d437"/>
<circle cx="1077" cy="483.5" r="2.85" fill="#c63aa0"/>
<circle cx="1084.5" cy="477.1" r="2.85" fill="#7ec244"/>
<circle cx="1060.5" cy="515.1" r="2.85" fill="#4152b6"/>
<circle cx="1050.1" cy="455.7" r="2.85" fill="#e2de34"/>
<circle cx="1116.6" cy="501.5" r="2.85" fill="#e2de34"/>
<circle cx="1039.7" cy="512.6" r="2.85" fill="#c63aa0"/>
<circle cx="1066.7" cy="548" r="2.85" fill="#d9282b"/>
<circle cx="1089.3" cy="503.1" r="2.85" fill="#8e40b0"/>
<circle cx="1056.6" cy="470.2" r="2.85" fill="#4152b6"/>
<circle cx="1073.3" cy="477.9" r="2.85" fill="#4152b6"/>
<circle cx="1070.8" cy="497.3" r="2.85" fill="#d9282b"/>
<circle cx="1113.3" cy="462.3" r="2.85" fill="#d9282b"/>
<circle cx="1075.8" cy="495.3" r="2.85" fill="#c63aa0"/>
<circle cx="1059.9" cy="471.8" r="2.85" fill="#7ec244"/>
<circle cx="1061.8" cy="468" r="2.85" fill="#7ec244"/>
<circle cx="1054.3" cy="514.3" r="2.85" fill="#8e40b0"/>
<circle cx="1057.8" cy="477.6" r="2.85" fill="#5dbde2"/>
<circle cx="1080.7" cy="515.2" r="2.85" fill="#b8d437"/>
<circle cx="1097" cy="496" r="2.85" fill="#4152b6"/>
<circle cx="1043.6" cy="507.3" r="2.85" fill="#4152b6"/>
<circle cx="1088.7" cy="492.3" r="2.85" fill="#4152b6"/>
<circle cx="1091.7" cy="505.3" r="2.85" fill="#c63aa0"/>
<circle cx="1093.9" cy="454.2" r="2.85" fill="#5dbde2"/>
<circle cx="1088.8" cy="507.4" r="2.85" fill="#8e40b0"/>
<circle cx="1058.6" cy="505.9" r="2.85" fill="#c63aa0"/>
<circle cx="1082.1" cy="500.8" r="2.85" fill="#5a45b4"/>
<circle cx="1066.2" cy="453.7" r="2.85" fill="#5dbde2"/>
<circle cx="1083.9" cy="480.8" r="2.85" fill="#4152b6"/>
<circle cx="1060.8" cy="487.7" r="2.85" fill="#b8d437"/>
<circle cx="1074.2" cy="506.1" r="2.85" fill="#4152b6"/>
<circle cx="1089.6" cy="532.1" r="2.85" fill="#4152b6"/>
<circle cx="1088.3" cy="482" r="2.85" fill="#7ec244"/>
<circle cx="1093.9" cy="533.4" r="2.85" fill="#4152b6"/>
<circle cx="1034.5" cy="499" r="2.85" fill="#c63aa0"/>
<circle cx="1066.2" cy="497" r="2.85" fill="#4152b6"/>
<circle cx="1075.6" cy="493.2" r="2.85" fill="#4152b6"/>
<circle cx="1052.9" cy="477.8" r="2.85" fill="#7ec244"/>
<circle cx="1077.6" cy="459" r="2.85" fill="#7ec244"/>
<circle cx="1062.7" cy="480.8" r="2.85" fill="#4152b6"/>
<circle cx="1073.5" cy="498.6" r="2.85" fill="#c63aa0"/>
<circle cx="1048.4" cy="509.6" r="2.85" fill="#4152b6"/>
<circle cx="1045.3" cy="498.8" r="2.85" fill="#5dbde2"/>
<circle cx="1068.3" cy="513.5" r="2.85" fill="#4152b6"/>
<circle cx="1055.9" cy="453.9" r="2.85" fill="#e2de34"/>
<circle cx="1078.4" cy="489.7" r="2.85" fill="#6fc4b5"/>
<circle cx="1088.7" cy="522.2" r="2.85" fill="#b8d437"/>
<circle cx="1064.8" cy="483.9" r="2.85" fill="#c63aa0"/>
<circle cx="1088.1" cy="466.1" r="2.85" fill="#5dbde2"/>
<circle cx="1085.6" cy="490.8" r="2.85" fill="#5dbde2"/>
<circle cx="1078.2" cy="466.1" r="2.85" fill="#5dbde2"/>
<circle cx="1050.4" cy="476.6" r="2.85" fill="#c63aa0"/>
<circle cx="1039" cy="489.7" r="2.85" fill="#d9282b"/>
<circle cx="1069.2" cy="471.8" r="2.85" fill="#d9282b"/>
<circle cx="1069.3" cy="490.4" r="2.85" fill="#8e40b0"/>
<circle cx="1080.5" cy="506.1" r="2.85" fill="#4152b6"/>
<circle cx="1068.7" cy="451.5" r="2.85" fill="#8e40b0"/>
<circle cx="1066" cy="458.4" r="2.85" fill="#5dbde2"/>
<circle cx="1062.3" cy="465" r="2.85" fill="#4152b6"/>
<circle cx="1108.7" cy="491.9" r="2.85" fill="#4152b6"/>
<circle cx="1081.2" cy="468" r="2.85" fill="#4152b6"/>
<circle cx="1072.4" cy="528.5" r="2.85" fill="#4152b6"/>
<circle cx="1082.2" cy="482.3" r="2.85" fill="#6fc4b5"/>
<circle cx="1115.6" cy="480.8" r="2.85" fill="#7ec244"/>
<circle cx="1064.2" cy="482.3" r="2.85" fill="#5a45b4"/>
<circle cx="1087.3" cy="516.2" r="2.85" fill="#4152b6"/>
<circle cx="1064.8" cy="500.7" r="2.85" fill="#4152b6"/>
<circle cx="1106.4" cy="492.2" r="2.85" fill="#5dbde2"/>
<circle cx="1031.6" cy="469.8" r="2.85" fill="#8e40b0"/>
<circle cx="1082.1" cy="524.4" r="2.85" fill="#4152b6"/>
<circle cx="1076.3" cy="455.6" r="2.85" fill="#5dbde2"/>
<circle cx="1076.3" cy="508.2" r="2.85" fill="#4152b6"/>
<circle cx="1084" cy="496.8" r="2.85" fill="#c63aa0"/>
<circle cx="1035.3" cy="450.6" r="2.85" fill="#4152b6"/>
<circle cx="1077.3" cy="482.9" r="2.85" fill="#5a45b4"/>
<circle cx="1020.4" cy="476.1" r="2.85" fill="#4152b6"/>
<circle cx="1046" cy="489.2" r="2.85" fill="#5dbde2"/>
<circle cx="1095.2" cy="528.9" r="2.85" fill="#7ec244"/>
<circle cx="1083.2" cy="466.3" r="2.85" fill="#4152b6"/>
<circle cx="1038.1" cy="501.4" r="2.85" fill="#6fc4b5"/>
<circle cx="1085.8" cy="478" r="2.85" fill="#4152b6"/>
<circle cx="1080.6" cy="461" r="2.85" fill="#8e40b0"/>
<circle cx="1087" cy="468.1" r="2.85" fill="#5dbde2"/>
<circle cx="1068" cy="483.1" r="2.85" fill="#5a45b4"/>
<circle cx="1058" cy="489.8" r="2.85" fill="#4152b6"/>
<circle cx="1046.3" cy="489.4" r="2.85" fill="#6fc4b5"/>
<circle cx="1086.6" cy="532.6" r="2.85" fill="#8e40b0"/>
<circle cx="1089.1" cy="519.1" r="2.85" fill="#5a45b4"/>
<circle cx="1036.4" cy="478" r="2.85" fill="#c63aa0"/>
<circle cx="1076.5" cy="498.2" r="2.85" fill="#5a45b4"/>
<circle cx="1087.1" cy="513.5" r="2.85" fill="#4152b6"/>
<circle cx="1078" cy="500.1" r="2.85" fill="#c63aa0"/>
<circle cx="1036.1" cy="522.8" r="2.85" fill="#4152b6"/>
<circle cx="1116.3" cy="514.3" r="2.85" fill="#4152b6"/>
<circle cx="1056.5" cy="505.9" r="2.85" fill="#5dbde2"/>
<circle cx="1088.1" cy="467.5" r="2.85" fill="#8e40b0"/>
<circle cx="1093" cy="501.3" r="2.85" fill="#7ec244"/>
<circle cx="1074.5" cy="493.3" r="2.85" fill="#d9282b"/>
<circle cx="1071.4" cy="493.1" r="2.85" fill="#dc3a78"/>
<circle cx="1080.6" cy="491.4" r="2.85" fill="#d9282b"/>
<circle cx="1061" cy="495.6" r="2.85" fill="#d9282b"/>
<circle cx="1071.9" cy="512.1" r="2.85" fill="#c63aa0"/>
<circle cx="1079.2" cy="501.6" r="2.85" fill="#c63aa0"/>
<circle cx="1060" cy="495.7" r="2.85" fill="#d9282b"/>
<circle cx="1064.1" cy="504.4" r="2.85" fill="#dc3a78"/>
<circle cx="1077.3" cy="501.3" r="2.85" fill="#c63aa0"/>
<circle cx="1069.7" cy="495.7" r="2.85" fill="#c63aa0"/>
<circle cx="1077.9" cy="487" r="2.85" fill="#dc3a78"/>
<circle cx="1068.1" cy="501.8" r="2.85" fill="#c63aa0"/>
<circle cx="1075.8" cy="495.8" r="2.85" fill="#d9282b"/>
<circle cx="1064.9" cy="507.9" r="2.85" fill="#d9282b"/>
<circle cx="1072.2" cy="493.7" r="2.85" fill="#c63aa0"/>
<circle cx="1064.4" cy="507.4" r="2.85" fill="#dc3a78"/>
<circle cx="1064.7" cy="493.2" r="2.85" fill="#d9282b"/>
<circle cx="1062.9" cy="508" r="2.85" fill="#c63aa0"/>
<circle cx="1062.2" cy="482.4" r="2.85" fill="#d9282b"/>
<circle cx="1075.9" cy="493.8" r="2.85" fill="#c63aa0"/>
<circle cx="1084.1" cy="495" r="2.85" fill="#dc3a78"/>
<circle cx="1071" cy="500.8" r="2.85" fill="#c63aa0"/>
<circle cx="1066.1" cy="501.2" r="2.85" fill="#d9282b"/>
<circle cx="1078.8" cy="493.9" r="2.85" fill="#d9282b"/>
<circle cx="1081.8" cy="500.5" r="2.85" fill="#d9282b"/>
<circle cx="1070.6" cy="495.2" r="2.85" fill="#c63aa0"/>
<circle cx="1075.5" cy="496" r="2.85" fill="#d9282b"/>
<circle cx="1061.1" cy="491.9" r="2.85" fill="#dc3a78"/>
<circle cx="1071.2" cy="481.3" r="2.85" fill="#c63aa0"/>
<circle cx="1068" cy="506.5" r="2.85" fill="#c63aa0"/>
<circle cx="1074.6" cy="493.5" r="2.85" fill="#c63aa0"/>
<circle cx="1064.3" cy="497.1" r="2.85" fill="#dc3a78"/>
<circle cx="1066.6" cy="503.8" r="2.85" fill="#c63aa0"/>
<circle cx="1081.6" cy="495.8" r="2.85" fill="#c63aa0"/>
<circle cx="1076.3" cy="490.2" r="2.85" fill="#c63aa0"/>
<circle cx="1061.5" cy="494.7" r="2.85" fill="#c63aa0"/>
<circle cx="1072.6" cy="493.8" r="2.85" fill="#d9282b"/>
<circle cx="1052.2" cy="492.4" r="2.85" fill="#d9282b"/>
<circle cx="1079.4" cy="494" r="2.85" fill="#c63aa0"/>
<circle cx="1073.5" cy="497.8" r="2.85" fill="#c63aa0"/>
<circle cx="1070.6" cy="497.9" r="2.85" fill="#c63aa0"/>
<circle cx="1064.6" cy="495.9" r="2.85" fill="#dc3a78"/>
<circle cx="1070.5" cy="497.8" r="2.85" fill="#d9282b"/>
<circle cx="1068.6" cy="486.4" r="2.85" fill="#d9282b"/>
<circle cx="1073.7" cy="500.7" r="2.85" fill="#d9282b"/>
<circle cx="1063.4" cy="465.8" r="2.85" fill="#8e40b0"/>
<circle cx="1063.8" cy="460.7" r="2.85" fill="#8e40b0"/>
<circle cx="1062.9" cy="483.9" r="2.85" fill="#8e40b0"/>
<circle cx="1063.8" cy="463.2" r="2.85" fill="#8e40b0"/>
<circle cx="1057.3" cy="468.9" r="2.85" fill="#8e40b0"/>
<circle cx="1060.8" cy="466.4" r="2.85" fill="#8e40b0"/>
<circle cx="1063.6" cy="473.5" r="2.85" fill="#8e40b0"/>
<circle cx="1062.1" cy="460.8" r="2.85" fill="#c63aa0"/>
<circle cx="1062.5" cy="468" r="2.85" fill="#c63aa0"/>
<circle cx="1048.7" cy="484" r="2.85" fill="#8e40b0"/>
<circle cx="1065.8" cy="476.9" r="2.85" fill="#c63aa0"/>
<circle cx="1045.7" cy="463.1" r="2.85" fill="#8e40b0"/>
<circle cx="1067.7" cy="475.6" r="2.85" fill="#c63aa0"/>
<circle cx="1059.1" cy="461.9" r="2.85" fill="#c63aa0"/>
<circle cx="1068.1" cy="475.4" r="2.85" fill="#c63aa0"/>
<circle cx="1065.8" cy="483.7" r="2.85" fill="#8e40b0"/>
<circle cx="1056.4" cy="476.1" r="2.85" fill="#c63aa0"/>
<circle cx="1069" cy="460.1" r="2.85" fill="#c63aa0"/>
<circle cx="1047.6" cy="480.2" r="2.85" fill="#8e40b0"/>
<circle cx="1058.1" cy="465.9" r="2.85" fill="#8e40b0"/>
<circle cx="1065.3" cy="464.6" r="2.85" fill="#c63aa0"/>
<circle cx="1065.7" cy="468.6" r="2.85" fill="#8e40b0"/>
<circle cx="1063.8" cy="475.4" r="2.85" fill="#c63aa0"/>
<circle cx="1062" cy="466.5" r="2.85" fill="#8e40b0"/>
<circle cx="1061.6" cy="476" r="2.85" fill="#c63aa0"/>
<circle cx="1065.9" cy="475.7" r="2.85" fill="#8e40b0"/>
<circle cx="1063.3" cy="470.4" r="2.85" fill="#8e40b0"/>
<circle cx="1059.8" cy="474.7" r="2.85" fill="#8e40b0"/>
<circle cx="1059.2" cy="477.3" r="2.85" fill="#8e40b0"/>
<circle cx="1062.2" cy="471.3" r="2.85" fill="#8e40b0"/>
<circle cx="1063.8" cy="527.2" r="2.85" fill="#c63aa0"/>
<circle cx="1062.5" cy="516.9" r="2.85" fill="#8e40b0"/>
<circle cx="1069" cy="524.9" r="2.85" fill="#8e40b0"/>
<circle cx="1066.3" cy="527.3" r="2.85" fill="#8e40b0"/>
<circle cx="1066.8" cy="528.7" r="2.85" fill="#8e40b0"/>
<circle cx="1073.5" cy="523.7" r="2.85" fill="#8e40b0"/>
<circle cx="1071" cy="527.7" r="2.85" fill="#8e40b0"/>
<circle cx="1063.3" cy="519.8" r="2.85" fill="#c63aa0"/>
<circle cx="1055.8" cy="520.2" r="2.85" fill="#c63aa0"/>
<circle cx="1058.7" cy="527.1" r="2.85" fill="#c63aa0"/>
<circle cx="1073.3" cy="525.4" r="2.85" fill="#8e40b0"/>
<circle cx="1066" cy="525.3" r="2.85" fill="#8e40b0"/>
<circle cx="1073.1" cy="524.9" r="2.85" fill="#c63aa0"/>
<circle cx="1080.6" cy="534.2" r="2.85" fill="#8e40b0"/>
<circle cx="1064.8" cy="522.7" r="2.85" fill="#8e40b0"/>
<circle cx="1070.6" cy="525.4" r="2.85" fill="#8e40b0"/>
<circle cx="1070.3" cy="524.9" r="2.85" fill="#8e40b0"/>
<circle cx="1066.7" cy="519.8" r="2.85" fill="#8e40b0"/>
<circle cx="1084.1" cy="520.4" r="2.85" fill="#c63aa0"/>
<circle cx="1074.7" cy="531.2" r="2.85" fill="#c63aa0"/>
<circle cx="1082.8" cy="531.2" r="2.85" fill="#8e40b0"/>
<circle cx="1067" cy="526.8" r="2.85" fill="#8e40b0"/>
<circle cx="1068.5" cy="517.2" r="2.85" fill="#8e40b0"/>
<circle cx="1061.2" cy="528.4" r="2.85" fill="#8e40b0"/>
<circle cx="1073.4" cy="525.1" r="2.85" fill="#8e40b0"/>
<circle cx="1071.2" cy="527" r="2.85" fill="#c63aa0"/>
<circle cx="1065.1" cy="521.1" r="2.85" fill="#8e40b0"/>
<circle cx="1072.8" cy="528.2" r="2.85" fill="#c63aa0"/>
<circle cx="1071.5" cy="525.3" r="2.85" fill="#8e40b0"/>
<circle cx="1065.1" cy="530.1" r="2.85" fill="#8e40b0"/>
<circle cx="1062.2" cy="523.8" r="2.85" fill="#8e40b0"/>
<circle cx="1064.9" cy="522.9" r="2.85" fill="#c63aa0"/>
<circle cx="1064.3" cy="523.5" r="2.85" fill="#c63aa0"/>
<circle cx="1051.4" cy="520.9" r="2.85" fill="#8e40b0"/>
<circle cx="1056.8" cy="526.6" r="2.85" fill="#8e40b0"/>
<circle cx="1078.6" cy="473.8" r="2.85" fill="#8e40b0"/>
<circle cx="1090.9" cy="475.1" r="2.85" fill="#4152b6"/>
<circle cx="1079.2" cy="473.5" r="2.85" fill="#4152b6"/>
<circle cx="1084" cy="479.4" r="2.85" fill="#c63aa0"/>
<circle cx="1090.3" cy="474.8" r="2.85" fill="#8e40b0"/>
<circle cx="1085" cy="473.6" r="2.85" fill="#8e40b0"/>
<circle cx="1077.6" cy="487.2" r="2.85" fill="#c63aa0"/>
<circle cx="1083.7" cy="471.9" r="2.85" fill="#c63aa0"/>
<circle cx="1085.4" cy="480.7" r="2.85" fill="#8e40b0"/>
<circle cx="1078.1" cy="468" r="2.85" fill="#4152b6"/>
<circle cx="1086.8" cy="475.2" r="2.85" fill="#4152b6"/>
<circle cx="1092.6" cy="478.6" r="2.85" fill="#c63aa0"/>
<circle cx="1094.8" cy="478.1" r="2.85" fill="#c63aa0"/>
<circle cx="1091" cy="472.9" r="2.85" fill="#4152b6"/>
<circle cx="1088.6" cy="476.1" r="2.85" fill="#c63aa0"/>
<circle cx="1074.7" cy="474.3" r="2.85" fill="#8e40b0"/>
<circle cx="1083.1" cy="477" r="2.85" fill="#8e40b0"/>
<circle cx="1086.7" cy="474.8" r="2.85" fill="#8e40b0"/>
<circle cx="1086.6" cy="483.3" r="2.85" fill="#4152b6"/>
<circle cx="1088.6" cy="473.8" r="2.85" fill="#c63aa0"/>
<circle cx="1099.6" cy="460.2" r="2.85" fill="#4152b6"/>
<circle cx="1091.9" cy="462" r="2.85" fill="#4152b6"/>
<circle cx="1102.9" cy="465.6" r="2.85" fill="#4152b6"/>
<circle cx="1099.8" cy="469.5" r="2.85" fill="#5a45b4"/>
<circle cx="1092.9" cy="458.7" r="2.85" fill="#4152b6"/>
<circle cx="1096.8" cy="467.1" r="2.85" fill="#5a45b4"/>
<circle cx="1092.6" cy="460.5" r="2.85" fill="#4152b6"/>
<circle cx="1099.3" cy="455.3" r="2.85" fill="#5a45b4"/>
<circle cx="1090.5" cy="461.8" r="2.85" fill="#4152b6"/>
<circle cx="1097.2" cy="465.7" r="2.85" fill="#4152b6"/>
<circle cx="1089.8" cy="469" r="2.85" fill="#4152b6"/>
<circle cx="1093" cy="467.4" r="2.85" fill="#4152b6"/>
<circle cx="1092.9" cy="460.2" r="2.85" fill="#4152b6"/>
<circle cx="1090.6" cy="462.8" r="2.85" fill="#5a45b4"/>
<circle cx="1085.5" cy="464.4" r="2.85" fill="#5a45b4"/>
<circle cx="1085.5" cy="463.1" r="2.85" fill="#4152b6"/>
<circle cx="1096.8" cy="452.8" r="2.85" fill="#5a45b4"/>
<circle cx="1092" cy="468.6" r="2.85" fill="#5a45b4"/>
<circle cx="1095.6" cy="512.8" r="2.85" fill="#5a45b4"/>
<circle cx="1092.6" cy="512.2" r="2.85" fill="#4152b6"/>
<circle cx="1088.5" cy="506.4" r="2.85" fill="#4152b6"/>
<circle cx="1087.1" cy="513.3" r="2.85" fill="#4152b6"/>
<circle cx="1098.1" cy="507.1" r="2.85" fill="#4152b6"/>
<circle cx="1097.3" cy="513.4" r="2.85" fill="#4152b6"/>
<circle cx="1095.4" cy="518.7" r="2.85" fill="#5a45b4"/>
<circle cx="1096.5" cy="517.9" r="2.85" fill="#4152b6"/>
<circle cx="1100.1" cy="512.5" r="2.85" fill="#4152b6"/>
<circle cx="1105.8" cy="506.2" r="2.85" fill="#4152b6"/>
<circle cx="1098.6" cy="519.2" r="2.85" fill="#4152b6"/>
<circle cx="1092.5" cy="515.7" r="2.85" fill="#5a45b4"/>
<circle cx="1091.1" cy="507.9" r="2.85" fill="#5a45b4"/>
<circle cx="1090.5" cy="515.3" r="2.85" fill="#4152b6"/>
<circle cx="1094.4" cy="514" r="2.85" fill="#4152b6"/>
<circle cx="1090.7" cy="508.6" r="2.85" fill="#5a45b4"/>
<circle cx="1091.1" cy="515.1" r="2.85" fill="#4152b6"/>
<circle cx="1099.4" cy="519.5" r="2.85" fill="#4152b6"/>
<circle cx="1093.5" cy="518.6" r="2.85" fill="#5a45b4"/>
<circle cx="1092.6" cy="505.9" r="2.85" fill="#4152b6"/>
<circle cx="1094.7" cy="506.4" r="2.85" fill="#5a45b4"/>
<circle cx="1088.2" cy="507.9" r="2.85" fill="#4152b6"/>
<circle cx="1096.2" cy="518.3" r="2.85" fill="#5a45b4"/>
<circle cx="1095.7" cy="503.3" r="2.85" fill="#4152b6"/>
<circle cx="1120.1" cy="503.6" r="2.85" fill="#5a45b4"/>
<circle cx="1114.8" cy="501.3" r="2.85" fill="#4152b6"/>
<circle cx="1114" cy="508.2" r="2.85" fill="#5a45b4"/>
<circle cx="1120.8" cy="505.8" r="2.85" fill="#4152b6"/>
<circle cx="1116.3" cy="496.1" r="2.85" fill="#4152b6"/>
<circle cx="1119.4" cy="504.4" r="2.85" fill="#5a45b4"/>
<circle cx="1123.9" cy="513.6" r="2.85" fill="#4152b6"/>
<circle cx="1123.6" cy="512.6" r="2.85" fill="#4152b6"/>
<circle cx="1114" cy="503" r="2.85" fill="#5a45b4"/>
<circle cx="1117.1" cy="508.8" r="2.85" fill="#4152b6"/>
<circle cx="1114" cy="508.8" r="2.85" fill="#4152b6"/>
<circle cx="1115.6" cy="508.1" r="2.85" fill="#4152b6"/>
<circle cx="1122.8" cy="505.7" r="2.85" fill="#5a45b4"/>
<circle cx="1111.9" cy="505.7" r="2.85" fill="#4152b6"/>
<circle cx="1127.6" cy="482.8" r="2.85" fill="#5a45b4"/>
<circle cx="1124" cy="487.1" r="2.85" fill="#5a45b4"/>
<circle cx="1114.7" cy="479.4" r="2.85" fill="#5a45b4"/>
<circle cx="1129.4" cy="479" r="2.85" fill="#4152b6"/>
<circle cx="1127.9" cy="480.1" r="2.85" fill="#4152b6"/>
<circle cx="1131.8" cy="481.9" r="2.85" fill="#4152b6"/>
<circle cx="1128" cy="480.1" r="2.85" fill="#4152b6"/>
<circle cx="1127.2" cy="476.7" r="2.85" fill="#5a45b4"/>
<circle cx="1125.4" cy="486.2" r="2.85" fill="#5a45b4"/>
<circle cx="1121.8" cy="481.4" r="2.85" fill="#5a45b4"/>
<circle cx="1124.9" cy="470.8" r="2.85" fill="#4152b6"/>
<circle cx="1126.3" cy="468.5" r="2.85" fill="#4152b6"/>
<circle cx="1128.6" cy="480.4" r="2.85" fill="#5a45b4"/>
<circle cx="1131.3" cy="476.6" r="2.85" fill="#4152b6"/>
<circle cx="1061.8" cy="506.3" r="2.85" fill="#5a45b4"/>
<circle cx="1054.3" cy="500.4" r="2.85" fill="#4152b6"/>
<circle cx="1047.7" cy="508" r="2.85" fill="#4152b6"/>
<circle cx="1054" cy="500.1" r="2.85" fill="#4152b6"/>
<circle cx="1049.4" cy="503.1" r="2.85" fill="#5a45b4"/>
<circle cx="1055.1" cy="506.4" r="2.85" fill="#4152b6"/>
<circle cx="1061.7" cy="501.9" r="2.85" fill="#5a45b4"/>
<circle cx="1059.8" cy="504.6" r="2.85" fill="#5a45b4"/>
<circle cx="1051.1" cy="510.4" r="2.85" fill="#5a45b4"/>
<circle cx="1054.5" cy="503.7" r="2.85" fill="#5a45b4"/>
<circle cx="1057.9" cy="509.5" r="2.85" fill="#4152b6"/>
<circle cx="1059.9" cy="505.1" r="2.85" fill="#5a45b4"/>
<circle cx="1053.9" cy="506.3" r="2.85" fill="#4152b6"/>
<circle cx="1048.5" cy="515.1" r="2.85" fill="#5a45b4"/>
<circle cx="1058.9" cy="502.2" r="2.85" fill="#4152b6"/>
<circle cx="1049.4" cy="508" r="2.85" fill="#4152b6"/>
<circle cx="1061.7" cy="449.1" r="2.85" fill="#4152b6"/>
<circle cx="1059.3" cy="460.2" r="2.85" fill="#5a45b4"/>
<circle cx="1063.8" cy="460.2" r="2.85" fill="#4152b6"/>
<circle cx="1049" cy="456.2" r="2.85" fill="#4152b6"/>
<circle cx="1057.1" cy="453.9" r="2.85" fill="#4152b6"/>
<circle cx="1061.3" cy="458.7" r="2.85" fill="#4152b6"/>
<circle cx="1055.5" cy="455.7" r="2.85" fill="#4152b6"/>
<circle cx="1060.9" cy="455.1" r="2.85" fill="#5a45b4"/>
<circle cx="1057.3" cy="454.1" r="2.85" fill="#5a45b4"/>
<circle cx="1053.4" cy="448.9" r="2.85" fill="#5a45b4"/>
<circle cx="1056.4" cy="455" r="2.85" fill="#4152b6"/>
<circle cx="1061.2" cy="457.3" r="2.85" fill="#5a45b4"/>
<circle cx="1066.3" cy="462.9" r="2.85" fill="#4152b6"/>
<circle cx="1057.9" cy="459.7" r="2.85" fill="#4152b6"/>
<circle cx="1050.4" cy="461.6" r="2.85" fill="#4152b6"/>
<circle cx="1063.1" cy="452.3" r="2.85" fill="#4152b6"/>
<circle cx="1059.7" cy="460.5" r="2.85" fill="#5a45b4"/>
<circle cx="1052" cy="458.8" r="2.85" fill="#4152b6"/>
<circle cx="1058.7" cy="552.7" r="2.85" fill="#4152b6"/>
<circle cx="1055.3" cy="549.1" r="2.85" fill="#5a45b4"/>
<circle cx="1065.4" cy="550.6" r="2.85" fill="#4152b6"/>
<circle cx="1067.5" cy="542.7" r="2.85" fill="#4152b6"/>
<circle cx="1066.5" cy="555.3" r="2.85" fill="#5a45b4"/>
<circle cx="1064.8" cy="547.1" r="2.85" fill="#4152b6"/>
<circle cx="1062.2" cy="551.2" r="2.85" fill="#4152b6"/>
<circle cx="1070.7" cy="550.5" r="2.85" fill="#4152b6"/>
<circle cx="1070" cy="545.1" r="2.85" fill="#5a45b4"/>
<circle cx="1062.8" cy="550.6" r="2.85" fill="#5a45b4"/>
<circle cx="1059.4" cy="545.8" r="2.85" fill="#5a45b4"/>
<circle cx="1066.9" cy="547.4" r="2.85" fill="#4152b6"/>
<circle cx="1058.8" cy="549.8" r="2.85" fill="#4152b6"/>
<circle cx="1062.9" cy="551.5" r="2.85" fill="#5a45b4"/>
<circle cx="1064.4" cy="551.3" r="2.85" fill="#4152b6"/>
<circle cx="1056.6" cy="551.8" r="2.85" fill="#4152b6"/>
<circle cx="1067.1" cy="548.5" r="2.85" fill="#4152b6"/>
<circle cx="1060" cy="548.8" r="2.85" fill="#5a45b4"/>
<circle cx="1062.7" cy="547.2" r="2.85" fill="#5a45b4"/>
<circle cx="1063.9" cy="543.3" r="2.85" fill="#5a45b4"/>
<circle cx="1110.2" cy="474" r="2.85" fill="#4152b6"/>
<circle cx="1110.5" cy="476.2" r="2.85" fill="#5a45b4"/>
<circle cx="1112.7" cy="473" r="2.85" fill="#5a45b4"/>
<circle cx="1115.2" cy="466.7" r="2.85" fill="#4152b6"/>
<circle cx="1106.3" cy="465.8" r="2.85" fill="#4152b6"/>
<circle cx="1110.7" cy="472.9" r="2.85" fill="#4152b6"/>
<circle cx="1117.9" cy="475.7" r="2.85" fill="#4152b6"/>
<circle cx="1111.7" cy="464.1" r="2.85" fill="#4152b6"/>
<circle cx="1108.2" cy="469.6" r="2.85" fill="#5a45b4"/>
<circle cx="1114.1" cy="474.4" r="2.85" fill="#5a45b4"/>
<circle cx="1108.8" cy="473.7" r="2.85" fill="#4152b6"/>
<circle cx="1105.4" cy="475.9" r="2.85" fill="#5a45b4"/>
<circle cx="1090.8" cy="538.1" r="2.85" fill="#4152b6"/>
<circle cx="1086.2" cy="534.9" r="2.85" fill="#5a45b4"/>
<circle cx="1084.9" cy="538.7" r="2.85" fill="#5a45b4"/>
<circle cx="1088.9" cy="539.2" r="2.85" fill="#4152b6"/>
<circle cx="1085.9" cy="543.7" r="2.85" fill="#4152b6"/>
<circle cx="1088.5" cy="536.8" r="2.85" fill="#5a45b4"/>
<circle cx="1093.5" cy="540.3" r="2.85" fill="#4152b6"/>
<circle cx="1087.8" cy="539.8" r="2.85" fill="#4152b6"/>
<circle cx="1090.8" cy="533.7" r="2.85" fill="#4152b6"/>
<circle cx="1091.1" cy="535.8" r="2.85" fill="#4152b6"/>
<circle cx="1085.2" cy="534.8" r="2.85" fill="#4152b6"/>
<circle cx="1085.7" cy="537.7" r="2.85" fill="#4152b6"/>
<g transform="translate(519.5,51.1) scale(0.496) translate(-35.8,-224.6)">
<line x1="35.8" y1="224.6" x2="75.6" y2="419" stroke="#a8a8a8" stroke-width="1.26"/>
<line x1="473.2" y1="177.8" x2="443.2" y2="378.8" stroke="#a8a8a8" stroke-width="1.26"/>
<line x1="473.2" y1="177.8" x2="551.3" y2="583.9" stroke="#a8a8a8" stroke-width="1.26"/>
<line x1="71.5" y1="639.7" x2="110" y2="775" stroke="#a8a8a8" stroke-width="1.26"/>
<line x1="71.5" y1="639.7" x2="551.3" y2="583.9" stroke="#a8a8a8" stroke-width="1.26"/>
<line x1="110" y1="775" x2="75.6" y2="419" stroke="#a8a8a8" stroke-width="1.26"/>
<line x1="110" y1="775" x2="504.2" y2="729.3" stroke="#a8a8a8" stroke-width="1.26"/>
<line x1="443.2" y1="378.8" x2="75.6" y2="419" stroke="#a8a8a8" stroke-width="1.26"/>
<line x1="443.2" y1="378.8" x2="504.2" y2="729.3" stroke="#a8a8a8" stroke-width="1.26"/>
<line x1="35.8" y1="224.6" x2="473.2" y2="177.8" stroke="#888" stroke-width="1.8199999999999998"/>
<line x1="35.8" y1="224.6" x2="71.5" y2="639.7" stroke="#888" stroke-width="1.68"/>
<line x1="551.3" y1="583.9" x2="504.2" y2="729.3" stroke="#a8a8a8" stroke-width="1.54"/>
<line x1="50.6" y1="223" x2="50.9" y2="227.5" stroke="#888" stroke-width="1.4"/>
<line x1="80.2" y1="219.9" x2="80.5" y2="224.4" stroke="#888" stroke-width="1.4"/>
<line x1="109.7" y1="216.7" x2="110" y2="223.7" stroke="#888" stroke-width="1.4"/>
<line x1="139.1" y1="213.5" x2="139.4" y2="218" stroke="#888" stroke-width="1.4"/>
<line x1="168.5" y1="210.4" x2="168.8" y2="214.9" stroke="#888" stroke-width="1.4"/>
<line x1="197.8" y1="207.3" x2="198.1" y2="211.8" stroke="#888" stroke-width="1.4"/>
<line x1="227" y1="204.1" x2="227.3" y2="208.6" stroke="#888" stroke-width="1.4"/>
<line x1="256.2" y1="201" x2="256.5" y2="208" stroke="#888" stroke-width="1.4"/>
<line x1="285.4" y1="197.9" x2="285.7" y2="202.4" stroke="#888" stroke-width="1.4"/>
<line x1="314.4" y1="194.8" x2="314.7" y2="199.3" stroke="#888" stroke-width="1.4"/>
<line x1="343.4" y1="191.7" x2="343.7" y2="196.2" stroke="#888" stroke-width="1.4"/>
<line x1="372.4" y1="188.6" x2="372.7" y2="193.1" stroke="#888" stroke-width="1.4"/>
<line x1="401.3" y1="185.5" x2="401.6" y2="192.5" stroke="#888" stroke-width="1.4"/>
<line x1="430.1" y1="182.4" x2="430.4" y2="186.9" stroke="#888" stroke-width="1.4"/>
<line x1="458.8" y1="179.3" x2="459.1" y2="183.8" stroke="#888" stroke-width="1.4"/>
<line x1="36.9" y1="237.2" x2="42.9" y2="236.9" stroke="#888" stroke-width="1.4"/>
<line x1="39.1" y1="262.7" x2="45.1" y2="262.4" stroke="#888" stroke-width="1.4"/>
<line x1="41.3" y1="288.5" x2="51.3" y2="288.2" stroke="#888" stroke-width="1.4"/>
<line x1="43.5" y1="314.6" x2="49.5" y2="314.3" stroke="#888" stroke-width="1.4"/>
<line x1="45.8" y1="341" x2="51.8" y2="340.7" stroke="#888" stroke-width="1.4"/>
<line x1="48.1" y1="367.7" x2="54.1" y2="367.4" stroke="#888" stroke-width="1.4"/>
<line x1="50.4" y1="394.8" x2="56.4" y2="394.5" stroke="#888" stroke-width="1.4"/>
<line x1="52.8" y1="422.3" x2="62.8" y2="422" stroke="#888" stroke-width="1.4"/>
<line x1="55.2" y1="450" x2="61.2" y2="449.7" stroke="#888" stroke-width="1.4"/>
<line x1="57.6" y1="478.2" x2="63.6" y2="477.9" stroke="#888" stroke-width="1.4"/>
<line x1="60.1" y1="506.7" x2="66.1" y2="506.4" stroke="#888" stroke-width="1.4"/>
<line x1="62.5" y1="535.6" x2="68.5" y2="535.3" stroke="#888" stroke-width="1.4"/>
<line x1="65.1" y1="564.8" x2="75.1" y2="564.5" stroke="#888" stroke-width="1.4"/>
<line x1="67.6" y1="594.5" x2="73.6" y2="594.2" stroke="#888" stroke-width="1.4"/>
<line x1="70.2" y1="624.5" x2="76.2" y2="624.2" stroke="#888" stroke-width="1.4"/>
<line x1="505.5" y1="725.4" x2="499.5" y2="725.7" stroke="#a8a8a8" stroke-width="1.4"/>
<line x1="508.1" y1="717.4" x2="502.1" y2="717.7" stroke="#a8a8a8" stroke-width="1.4"/>
<line x1="510.7" y1="709.2" x2="500.7" y2="709.5" stroke="#a8a8a8" stroke-width="1.4"/>
<line x1="513.4" y1="700.8" x2="507.4" y2="701.1" stroke="#a8a8a8" stroke-width="1.4"/>
<line x1="516.2" y1="692.1" x2="510.2" y2="692.4" stroke="#a8a8a8" stroke-width="1.4"/>
<line x1="519.1" y1="683.2" x2="513.1" y2="683.5" stroke="#a8a8a8" stroke-width="1.4"/>
<line x1="522.1" y1="674" x2="516.1" y2="674.3" stroke="#a8a8a8" stroke-width="1.4"/>
<line x1="525.2" y1="664.6" x2="515.2" y2="664.9" stroke="#a8a8a8" stroke-width="1.4"/>
<line x1="528.3" y1="654.9" x2="522.3" y2="655.2" stroke="#a8a8a8" stroke-width="1.4"/>
<line x1="531.6" y1="644.9" x2="525.6" y2="645.2" stroke="#a8a8a8" stroke-width="1.4"/>
<line x1="534.9" y1="634.5" x2="528.9" y2="634.8" stroke="#a8a8a8" stroke-width="1.4"/>
<line x1="538.3" y1="623.9" x2="532.3" y2="624.2" stroke="#a8a8a8" stroke-width="1.4"/>
<line x1="541.9" y1="612.9" x2="531.9" y2="613.2" stroke="#a8a8a8" stroke-width="1.4"/>
<line x1="545.6" y1="601.6" x2="539.6" y2="601.9" stroke="#a8a8a8" stroke-width="1.4"/>
<line x1="549.4" y1="589.9" x2="543.4" y2="590.2" stroke="#a8a8a8" stroke-width="1.4"/>
</g>
<text x="555.6" y="42.3" font-size="6.5" text-anchor="middle" fill="#444" font-family="Liberation Serif, serif">&#8722;1</text>
<text x="628" y="34.2" font-size="6.5" text-anchor="middle" fill="#444" font-family="Liberation Serif, serif">0</text>
<text x="699.8" y="26" font-size="6.5" text-anchor="middle" fill="#444" font-family="Liberation Serif, serif">1</text>
<text x="771.2" y="243.6" font-size="6.5" text-anchor="middle" fill="#444" font-family="Liberation Serif, serif">1</text>
<text x="768.3" y="270.5" font-size="6.5" text-anchor="middle" fill="#444" font-family="Liberation Serif, serif">0</text>
<text x="761.2" y="293.1" font-size="6.5" text-anchor="middle" fill="#444" font-family="Liberation Serif, serif">&#8722;1</text>
<text x="513.7" y="86" font-size="6.5" text-anchor="middle" fill="#444" font-family="Liberation Serif, serif">&#8722;1</text>
<text x="522.5" y="152.3" font-size="6.5" text-anchor="middle" fill="#444" font-family="Liberation Serif, serif">0</text>
<text x="527.7" y="221.9" font-size="6.5" text-anchor="middle" fill="#444" font-family="Liberation Serif, serif">1</text>
<text x="626.6" y="18.8" font-size="6.5" text-anchor="middle" fill="#444" font-family="Liberation Serif, serif"><tspan font-style="italic">i</tspan>+1</text>
<text x="785.7" y="268.3" font-size="6.5" text-anchor="middle" fill="#444" font-family="Liberation Serif, serif"><tspan font-style="italic">i</tspan>+2</text>
<text x="508.5" y="154" font-size="6.5" text-anchor="middle" fill="#444" font-family="Liberation Serif, serif" font-style="italic">i</text>
<circle cx="665.2" cy="164.8" r="1.6" fill="#4152b6"/>
<circle cx="657.1" cy="177" r="1.6" fill="#5dbde2"/>
<circle cx="650.5" cy="71" r="1.6" fill="#7ec244"/>
<circle cx="725" cy="202.4" r="1.6" fill="#8e40b0"/>
<circle cx="575.3" cy="224.2" r="1.6" fill="#d9282b"/>
<circle cx="661.2" cy="99.2" r="1.6" fill="#7ec244"/>
<circle cx="620.8" cy="163.8" r="1.6" fill="#b8d437"/>
<circle cx="608.2" cy="209.9" r="1.6" fill="#4152b6"/>
<circle cx="617.9" cy="207.6" r="1.6" fill="#b8d437"/>
<circle cx="664.9" cy="97.4" r="1.6" fill="#4152b6"/>
<circle cx="684" cy="145" r="1.6" fill="#b8d437"/>
<circle cx="714.2" cy="174.2" r="1.6" fill="#d9282b"/>
<circle cx="708.8" cy="97.9" r="1.6" fill="#c63aa0"/>
<circle cx="560.2" cy="101.7" r="1.6" fill="#8e40b0"/>
<circle cx="577.6" cy="249" r="1.6" fill="#5dbde2"/>
<circle cx="642.9" cy="203.7" r="1.6" fill="#4152b6"/>
<circle cx="745" cy="174.9" r="1.6" fill="#c63aa0"/>
<circle cx="636.2" cy="203.6" r="1.6" fill="#6fc4b5"/>
<circle cx="754.5" cy="214.8" r="1.6" fill="#4152b6"/>
<circle cx="741.1" cy="122.2" r="1.6" fill="#8e40b0"/>
<circle cx="564.5" cy="113.3" r="1.6" fill="#d9282b"/>
<circle cx="648.2" cy="200.1" r="1.6" fill="#7ec244"/>
<circle cx="654.8" cy="265" r="1.6" fill="#4152b6"/>
<circle cx="672" cy="112.7" r="1.6" fill="#7ec244"/>
<circle cx="612.3" cy="176.9" r="1.6" fill="#7ec244"/>
<circle cx="654.3" cy="265.9" r="1.6" fill="#e2de34"/>
<circle cx="617.9" cy="164.8" r="1.6" fill="#4152b6"/>
<circle cx="644.9" cy="211.6" r="1.6" fill="#4152b6"/>
<circle cx="683.4" cy="207" r="1.6" fill="#e2de34"/>
<circle cx="639.4" cy="243.8" r="1.6" fill="#7ec244"/>
<circle cx="742.3" cy="211.7" r="1.6" fill="#5dbde2"/>
<circle cx="565.8" cy="215.3" r="1.6" fill="#7ec244"/>
<circle cx="667.4" cy="135.9" r="1.6" fill="#b8d437"/>
<circle cx="562.1" cy="198.6" r="1.6" fill="#e2de34"/>
<circle cx="678.9" cy="133.9" r="1.6" fill="#dc3a78"/>
<circle cx="547.6" cy="187.4" r="1.6" fill="#7ec244"/>
<circle cx="612.5" cy="147.9" r="1.6" fill="#c63aa0"/>
<circle cx="668.9" cy="153.4" r="1.6" fill="#7ec244"/>
<circle cx="575.5" cy="111.6" r="1.6" fill="#8e40b0"/>
<circle cx="655.6" cy="151.5" r="1.6" fill="#7ec244"/>
<circle cx="721.9" cy="209.9" r="1.6" fill="#7ec244"/>
<circle cx="618.1" cy="214.1" r="1.6" fill="#4152b6"/>
<circle cx="601.5" cy="234.2" r="1.6" fill="#dc3a78"/>
<circle cx="636.1" cy="182" r="1.6" fill="#4152b6"/>
<circle cx="638.9" cy="68.7" r="1.6" fill="#4152b6"/>
<circle cx="623.3" cy="193.7" r="1.6" fill="#6fc4b5"/>
<circle cx="635.3" cy="142.1" r="1.6" fill="#dc3a78"/>
<circle cx="714" cy="111.7" r="1.6" fill="#e2de34"/>
<circle cx="602" cy="197.6" r="1.6" fill="#4152b6"/>
<circle cx="618.2" cy="84.8" r="1.6" fill="#7ec244"/>
<circle cx="572.8" cy="178.5" r="1.6" fill="#e2de34"/>
<circle cx="612.1" cy="118.6" r="1.6" fill="#dc3a78"/>
<circle cx="606" cy="212.3" r="1.6" fill="#4152b6"/>
<circle cx="643.1" cy="168.2" r="1.6" fill="#d9282b"/>
<circle cx="688.3" cy="175.3" r="1.6" fill="#c63aa0"/>
<circle cx="599.5" cy="231.4" r="1.6" fill="#4152b6"/>
<circle cx="620.6" cy="138" r="1.6" fill="#c63aa0"/>
<circle cx="650.7" cy="119.2" r="1.6" fill="#c63aa0"/>
<circle cx="606.9" cy="237.1" r="1.6" fill="#c63aa0"/>
<circle cx="561.1" cy="195.5" r="1.6" fill="#e2de34"/>
<circle cx="691.1" cy="128.5" r="1.6" fill="#8e40b0"/>
<circle cx="630.8" cy="107.4" r="1.6" fill="#d9282b"/>
<circle cx="592.7" cy="63.5" r="1.6" fill="#e8722b"/>
<circle cx="597.9" cy="181.2" r="1.6" fill="#e8722b"/>
<circle cx="556.6" cy="202.3" r="1.6" fill="#6fc4b5"/>
<circle cx="669.2" cy="225.6" r="1.6" fill="#e8722b"/>
<circle cx="579.6" cy="213.6" r="1.6" fill="#c63aa0"/>
<circle cx="598.9" cy="246.3" r="1.6" fill="#7ec244"/>
<circle cx="625" cy="264.2" r="1.6" fill="#7ec244"/>
<circle cx="577.7" cy="113.9" r="1.6" fill="#d9282b"/>
<circle cx="717" cy="226.2" r="1.6" fill="#7ec244"/>
<circle cx="686.3" cy="262.8" r="1.6" fill="#e2de34"/>
<circle cx="630.4" cy="206.5" r="1.6" fill="#7ec244"/>
<circle cx="615.3" cy="263.3" r="1.6" fill="#4152b6"/>
<circle cx="604.5" cy="238.7" r="1.6" fill="#6fc4b5"/>
<circle cx="638.3" cy="144.4" r="1.6" fill="#c63aa0"/>
<circle cx="591.5" cy="226.3" r="1.6" fill="#4152b6"/>
<circle cx="659.8" cy="127.3" r="1.6" fill="#7ec244"/>
<circle cx="598.1" cy="154.6" r="1.6" fill="#7ec244"/>
<circle cx="615.9" cy="125" r="1.6" fill="#e2de34"/>
<circle cx="719.5" cy="80.9" r="1.6" fill="#4152b6"/>
<circle cx="592.1" cy="222.8" r="1.6" fill="#dc3a78"/>
<circle cx="671.5" cy="120.1" r="1.6" fill="#d9282b"/>
<circle cx="673.5" cy="128.1" r="1.6" fill="#4152b6"/>
<circle cx="680.5" cy="243.2" r="1.6" fill="#6fc4b5"/>
<circle cx="737.4" cy="198.2" r="1.6" fill="#c63aa0"/>
<circle cx="636.5" cy="150.6" r="1.6" fill="#4152b6"/>
<circle cx="571.9" cy="114.6" r="1.6" fill="#d9282b"/>
<circle cx="577.3" cy="272.8" r="1.6" fill="#c63aa0"/>
<circle cx="609.5" cy="119.4" r="1.6" fill="#4152b6"/>
<circle cx="578" cy="309.2" r="1.6" fill="#8e40b0"/>
<circle cx="693.2" cy="214.3" r="1.6" fill="#4152b6"/>
<circle cx="659.8" cy="160.1" r="1.6" fill="#7ec244"/>
<circle cx="637.8" cy="227.2" r="1.6" fill="#e8722b"/>
<circle cx="655.3" cy="240.2" r="1.6" fill="#4152b6"/>
<circle cx="729.2" cy="237.3" r="1.6" fill="#e2de34"/>
<circle cx="570.6" cy="149.7" r="1.6" fill="#7ec244"/>
<circle cx="604.3" cy="144.5" r="1.6" fill="#7ec244"/>
<circle cx="636.2" cy="164.8" r="1.6" fill="#4152b6"/>
<circle cx="609.3" cy="287.7" r="1.6" fill="#4152b6"/>
<circle cx="626.2" cy="176.6" r="1.6" fill="#4152b6"/>
<circle cx="611.1" cy="186.6" r="1.6" fill="#6fc4b5"/>
<circle cx="706.3" cy="186.5" r="1.6" fill="#5dbde2"/>
<circle cx="624.9" cy="204.4" r="1.6" fill="#d9282b"/>
<circle cx="644.7" cy="253.8" r="1.6" fill="#dc3a78"/>
<circle cx="669.6" cy="146" r="1.6" fill="#4152b6"/>
<circle cx="544.6" cy="121.9" r="1.6" fill="#7ec244"/>
<circle cx="626.4" cy="221.6" r="1.6" fill="#7ec244"/>
<circle cx="621.5" cy="95.8" r="1.6" fill="#4152b6"/>
<circle cx="675.6" cy="118.8" r="1.6" fill="#b8d437"/>
<circle cx="620.9" cy="124.9" r="1.6" fill="#d9282b"/>
<circle cx="706.6" cy="85.6" r="1.6" fill="#8e40b0"/>
<circle cx="673.4" cy="268.2" r="1.6" fill="#d9282b"/>
<circle cx="607.9" cy="235.2" r="1.6" fill="#7ec244"/>
<circle cx="604.4" cy="285.3" r="1.6" fill="#7ec244"/>
<circle cx="601.7" cy="185.5" r="1.6" fill="#8e40b0"/>
<circle cx="603.9" cy="170.5" r="1.6" fill="#7ec244"/>
<circle cx="613.5" cy="148.4" r="1.6" fill="#c63aa0"/>
<circle cx="655.1" cy="146.3" r="1.6" fill="#4152b6"/>
<circle cx="590.7" cy="99.2" r="1.6" fill="#4152b6"/>
<circle cx="587.3" cy="176" r="1.6" fill="#4152b6"/>
<circle cx="605.8" cy="249.3" r="1.6" fill="#d9282b"/>
<circle cx="605.3" cy="70.8" r="1.6" fill="#dc3a78"/>
<circle cx="580.9" cy="106.4" r="1.6" fill="#e8722b"/>
<circle cx="635.5" cy="127.6" r="1.6" fill="#c63aa0"/>
<circle cx="674.4" cy="199.2" r="1.6" fill="#e8722b"/>
<circle cx="600.1" cy="168.7" r="1.6" fill="#5dbde2"/>
<circle cx="681.2" cy="91.2" r="1.6" fill="#8e40b0"/>
<circle cx="573.7" cy="132.1" r="1.6" fill="#b8d437"/>
<circle cx="633.6" cy="181.1" r="1.6" fill="#8e40b0"/>
<circle cx="687.1" cy="222.1" r="1.6" fill="#7ec244"/>
<circle cx="619.7" cy="147.8" r="1.6" fill="#7ec244"/>
<circle cx="658.3" cy="235.2" r="1.6" fill="#8e40b0"/>
<circle cx="599.8" cy="102.9" r="1.6" fill="#8e40b0"/>
<circle cx="584.5" cy="290" r="1.6" fill="#e8722b"/>
<circle cx="731.6" cy="253.5" r="1.6" fill="#c63aa0"/>
<circle cx="596.3" cy="125.4" r="1.6" fill="#4152b6"/>
<circle cx="599.1" cy="235.5" r="1.6" fill="#7ec244"/>
<circle cx="634.1" cy="98.6" r="1.6" fill="#c63aa0"/>
<circle cx="657" cy="221.4" r="1.6" fill="#4152b6"/>
<circle cx="606.6" cy="242.7" r="1.6" fill="#dc3a78"/>
<circle cx="608.8" cy="68.2" r="1.6" fill="#e8722b"/>
<circle cx="665.5" cy="183.1" r="1.6" fill="#7ec244"/>
<circle cx="604.4" cy="153.4" r="1.6" fill="#4152b6"/>
<circle cx="599" cy="119" r="1.6" fill="#dc3a78"/>
<circle cx="665.7" cy="202.2" r="1.6" fill="#e2de34"/>
<circle cx="627.3" cy="273.2" r="1.6" fill="#e2de34"/>
<circle cx="561.2" cy="206.8" r="1.6" fill="#7ec244"/>
<circle cx="697.3" cy="153.3" r="1.6" fill="#b8d437"/>
<circle cx="618.9" cy="164.1" r="1.6" fill="#c63aa0"/>
<circle cx="637.3" cy="145.3" r="1.6" fill="#8e40b0"/>
<circle cx="658.4" cy="102.4" r="1.6" fill="#8e40b0"/>
<circle cx="588" cy="235.8" r="1.6" fill="#b8d437"/>
<circle cx="622" cy="166.4" r="1.6" fill="#4152b6"/>
<circle cx="606.6" cy="136.7" r="1.6" fill="#6fc4b5"/>
<circle cx="645.9" cy="155" r="1.6" fill="#dc3a78"/>
<circle cx="591.7" cy="215.1" r="1.6" fill="#4152b6"/>
<circle cx="657.3" cy="256" r="1.6" fill="#c63aa0"/>
<circle cx="586.1" cy="189.1" r="1.6" fill="#e2de34"/>
<circle cx="628.2" cy="298.9" r="1.6" fill="#c63aa0"/>
<circle cx="560.3" cy="140.3" r="1.6" fill="#4152b6"/>
<circle cx="717.6" cy="168.6" r="1.6" fill="#7ec244"/>
<circle cx="629.5" cy="209.5" r="1.6" fill="#b8d437"/>
<circle cx="657.5" cy="176.4" r="1.6" fill="#b8d437"/>
<circle cx="630.3" cy="107.9" r="1.6" fill="#c63aa0"/>
<circle cx="577.5" cy="176" r="1.6" fill="#c63aa0"/>
<circle cx="649.8" cy="227.9" r="1.6" fill="#4152b6"/>
<circle cx="589.9" cy="112.6" r="1.6" fill="#e2de34"/>
<circle cx="633.1" cy="145.4" r="1.6" fill="#7ec244"/>
<circle cx="647.7" cy="183" r="1.6" fill="#8e40b0"/>
<circle cx="656.4" cy="139" r="1.6" fill="#c63aa0"/>
<circle cx="650.1" cy="220.4" r="1.6" fill="#5dbde2"/>
<circle cx="579.3" cy="278.9" r="1.6" fill="#4152b6"/>
<circle cx="639.2" cy="236" r="1.6" fill="#4152b6"/>
<circle cx="722.9" cy="186.6" r="1.6" fill="#7ec244"/>
<circle cx="604.3" cy="173.1" r="1.6" fill="#c63aa0"/>
<circle cx="537.8" cy="99.3" r="1.6" fill="#5dbde2"/>
<circle cx="661.7" cy="149.8" r="1.6" fill="#7ec244"/>
<circle cx="648.4" cy="151.2" r="1.6" fill="#b8d437"/>
<circle cx="600.4" cy="186.9" r="1.6" fill="#dc3a78"/>
<circle cx="622.6" cy="238.1" r="1.6" fill="#4152b6"/>
<circle cx="602.6" cy="94" r="1.6" fill="#4152b6"/>
<circle cx="610.4" cy="223.3" r="1.6" fill="#6fc4b5"/>
<circle cx="697" cy="108.2" r="1.6" fill="#dc3a78"/>
<circle cx="614.9" cy="137.5" r="1.6" fill="#8e40b0"/>
<circle cx="637.5" cy="205" r="1.6" fill="#7ec244"/>
<circle cx="633.2" cy="242.6" r="1.6" fill="#e2de34"/>
<circle cx="614.8" cy="143" r="1.6" fill="#4152b6"/>
<circle cx="632.3" cy="139.4" r="1.6" fill="#8e40b0"/>
<circle cx="606.8" cy="120.4" r="1.6" fill="#4152b6"/>
<circle cx="616.9" cy="139" r="1.6" fill="#e8722b"/>
<circle cx="644" cy="285.2" r="1.6" fill="#6fc4b5"/>
<circle cx="604.7" cy="195.9" r="1.6" fill="#7ec244"/>
<circle cx="656.6" cy="254.6" r="1.6" fill="#7ec244"/>
<circle cx="675.2" cy="183" r="1.6" fill="#7ec244"/>
<circle cx="681.5" cy="89.4" r="1.6" fill="#4152b6"/>
<circle cx="633.1" cy="106.4" r="1.6" fill="#d9282b"/>
<circle cx="639.2" cy="66.1" r="1.6" fill="#6fc4b5"/>
<circle cx="613" cy="72.8" r="1.6" fill="#dc3a78"/>
<circle cx="568.7" cy="271.6" r="1.6" fill="#4152b6"/>
<circle cx="569.9" cy="275.1" r="1.6" fill="#7ec244"/>
<circle cx="663.2" cy="279.3" r="1.6" fill="#7ec244"/>
<circle cx="561" cy="162.4" r="1.6" fill="#c63aa0"/>
<circle cx="733.1" cy="259.9" r="1.6" fill="#7ec244"/>
<circle cx="687.7" cy="217" r="1.6" fill="#8e40b0"/>
<circle cx="643.5" cy="212.5" r="1.6" fill="#c63aa0"/>
<circle cx="718" cy="277.3" r="1.6" fill="#c63aa0"/>
<circle cx="722.7" cy="197.6" r="1.6" fill="#8e40b0"/>
<circle cx="703.9" cy="127.3" r="1.6" fill="#4152b6"/>
<circle cx="605.9" cy="118.4" r="1.6" fill="#dc3a78"/>
<circle cx="740.6" cy="226.6" r="1.6" fill="#c63aa0"/>
<circle cx="657.5" cy="201.9" r="1.6" fill="#e8722b"/>
<circle cx="645.3" cy="119.7" r="1.6" fill="#5dbde2"/>
<circle cx="676.7" cy="282" r="1.6" fill="#4152b6"/>
<circle cx="587.2" cy="77.4" r="1.6" fill="#4152b6"/>
<circle cx="706" cy="73.4" r="1.6" fill="#d9282b"/>
<circle cx="617.5" cy="256.2" r="1.6" fill="#dc3a78"/>
<circle cx="535.8" cy="101.6" r="1.6" fill="#b8d437"/>
<circle cx="624.3" cy="223.8" r="1.6" fill="#6fc4b5"/>
<circle cx="596.6" cy="79.4" r="1.6" fill="#7ec244"/>
<circle cx="689.5" cy="108.1" r="1.6" fill="#d9282b"/>
<circle cx="688.3" cy="196.5" r="1.6" fill="#7ec244"/>
<circle cx="590.1" cy="178.4" r="1.6" fill="#e8722b"/>
<circle cx="725.2" cy="216.9" r="1.6" fill="#6fc4b5"/>
<circle cx="578.9" cy="83.3" r="1.6" fill="#4152b6"/>
<circle cx="681.4" cy="281" r="1.6" fill="#7ec244"/>
<circle cx="590" cy="83" r="1.6" fill="#7ec244"/>
<circle cx="680.6" cy="70.1" r="1.6" fill="#e2de34"/>
<circle cx="572.2" cy="87.4" r="1.6" fill="#dc3a78"/>
<circle cx="714.8" cy="175.1" r="1.6" fill="#5dbde2"/>
<circle cx="712.3" cy="152" r="1.6" fill="#4152b6"/>
<circle cx="750.5" cy="199.6" r="1.6" fill="#e2de34"/>
<circle cx="633.7" cy="92.9" r="1.6" fill="#b8d437"/>
<circle cx="576.9" cy="98.2" r="1.6" fill="#8e40b0"/>
<circle cx="538.4" cy="105.2" r="1.6" fill="#6fc4b5"/>
<circle cx="719.3" cy="117.7" r="1.6" fill="#d9282b"/>
<circle cx="598.4" cy="277.2" r="1.6" fill="#7ec244"/>
<circle cx="663.5" cy="245.2" r="1.6" fill="#6fc4b5"/>
<circle cx="559.9" cy="151.2" r="1.6" fill="#4152b6"/>
<circle cx="695.7" cy="216.1" r="1.6" fill="#dc3a78"/>
<circle cx="574.8" cy="62.2" r="1.6" fill="#d9282b"/>
<circle cx="569.4" cy="140.2" r="1.6" fill="#4152b6"/>
<circle cx="699.7" cy="149.5" r="1.6" fill="#8e40b0"/>
<circle cx="742.9" cy="224.5" r="1.6" fill="#e8722b"/>
<circle cx="564.6" cy="287.2" r="1.6" fill="#dc3a78"/>
<circle cx="713.3" cy="90.3" r="1.6" fill="#6fc4b5"/>
<circle cx="636.3" cy="176" r="1.6" fill="#e2de34"/>
<circle cx="582.9" cy="134" r="1.6" fill="#c63aa0"/>
<circle cx="684.7" cy="165.7" r="1.6" fill="#c63aa0"/>
<circle cx="700.6" cy="253.6" r="1.6" fill="#d9282b"/>
<circle cx="649" cy="118.7" r="1.6" fill="#7ec244"/>
<circle cx="606.5" cy="278" r="1.6" fill="#8e40b0"/>
<circle cx="746.3" cy="237.3" r="1.6" fill="#4152b6"/>
<circle cx="651.8" cy="111.8" r="1.6" fill="#4152b6"/>
<circle cx="592.3" cy="283" r="1.6" fill="#6fc4b5"/>
<circle cx="563.3" cy="93.4" r="1.6" fill="#8e40b0"/>
<circle cx="565.4" cy="136.9" r="1.6" fill="#7ec244"/>
<circle cx="690.2" cy="240.6" r="1.6" fill="#e2de34"/>
<circle cx="717.4" cy="275.1" r="1.6" fill="#4152b6"/>
<circle cx="642.5" cy="132.7" r="1.6" fill="#c63aa0"/>
<circle cx="579.2" cy="87.4" r="1.6" fill="#e8722b"/>
<circle cx="754.2" cy="240.6" r="1.6" fill="#8e40b0"/>
<circle cx="556.5" cy="129.1" r="1.6" fill="#4152b6"/>
<circle cx="747" cy="162.2" r="1.6" fill="#8e40b0"/>
<circle cx="691.4" cy="199.9" r="1.6" fill="#7ec244"/>
<circle cx="726.7" cy="181.8" r="1.6" fill="#e8722b"/>
<circle cx="616.3" cy="145.5" r="1.6" fill="#4152b6"/>
<circle cx="596" cy="307.6" r="1.6" fill="#4152b6"/>
<circle cx="578.1" cy="75.7" r="1.6" fill="#7ec244"/>
<circle cx="560.6" cy="266.3" r="1.6" fill="#8e40b0"/>
<circle cx="547.3" cy="147" r="1.6" fill="#e2de34"/>
<circle cx="557.1" cy="65.6" r="1.6" fill="#d9282b"/>
<circle cx="698" cy="87.1" r="1.6" fill="#e2de34"/>
<circle cx="651.4" cy="103.1" r="1.6" fill="#e8722b"/>
<circle cx="720.2" cy="180.5" r="1.6" fill="#7ec244"/>
<circle cx="730.1" cy="209.6" r="1.6" fill="#4152b6"/>
<circle cx="649.3" cy="193.9" r="1.6" fill="#6fc4b5"/>
<circle cx="753" cy="203.9" r="1.6" fill="#4152b6"/>
<circle cx="686.1" cy="173.3" r="1.6" fill="#e8722b"/>
<circle cx="641.5" cy="85.2" r="1.6" fill="#e8722b"/>
<circle cx="668.5" cy="185.3" r="1.6" fill="#5dbde2"/>
<circle cx="591.5" cy="241" r="1.6" fill="#dc3a78"/>
<circle cx="712.7" cy="94.5" r="1.6" fill="#4152b6"/>
<circle cx="704.4" cy="225.3" r="1.6" fill="#4152b6"/>
<circle cx="563.1" cy="174.3" r="1.6" fill="#e2de34"/>
<circle cx="706.9" cy="143.9" r="1.6" fill="#b8d437"/>
<circle cx="735.1" cy="218.9" r="1.6" fill="#d9282b"/>
<circle cx="651.4" cy="300.8" r="1.6" fill="#e2de34"/>
<circle cx="713.7" cy="187.7" r="1.6" fill="#4152b6"/>
<circle cx="674.6" cy="80.2" r="1.6" fill="#e2de34"/>
<circle cx="610.9" cy="146.7" r="1.6" fill="#4152b6"/>
<circle cx="662.3" cy="77.7" r="1.6" fill="#dc3a78"/>
<circle cx="681.3" cy="81.7" r="1.6" fill="#dc3a78"/>
<circle cx="690.7" cy="86.1" r="1.6" fill="#4152b6"/>
<circle cx="680.6" cy="217" r="1.6" fill="#e8722b"/>
<circle cx="621.8" cy="134.3" r="1.6" fill="#5dbde2"/>
<circle cx="733.4" cy="290.1" r="1.6" fill="#e2de34"/>
<circle cx="600.4" cy="128.9" r="1.6" fill="#4152b6"/>
<circle cx="726.6" cy="81.7" r="1.6" fill="#dc3a78"/>
<circle cx="682.4" cy="67.1" r="1.6" fill="#e2de34"/>
<circle cx="729" cy="87.9" r="1.6" fill="#6fc4b5"/>
<circle cx="655.9" cy="227.2" r="1.6" fill="#4152b6"/>
<circle cx="738.8" cy="257.1" r="1.6" fill="#7ec244"/>
<circle cx="736" cy="131.9" r="1.6" fill="#5dbde2"/>
<circle cx="738" cy="120.6" r="1.6" fill="#4152b6"/>
<circle cx="573.5" cy="159.4" r="1.6" fill="#d9282b"/>
<circle cx="685" cy="223.9" r="1.6" fill="#b8d437"/>
<circle cx="550.2" cy="143.5" r="1.6" fill="#d9282b"/>
<circle cx="649.2" cy="145" r="1.6" fill="#8e40b0"/>
<circle cx="662.8" cy="195.8" r="1.6" fill="#4152b6"/>
<circle cx="676.1" cy="203.8" r="1.6" fill="#7ec244"/>
<circle cx="576.1" cy="211" r="1.6" fill="#e2de34"/>
<circle cx="581.2" cy="285.7" r="1.6" fill="#c63aa0"/>
<circle cx="697.1" cy="207.2" r="1.6" fill="#d9282b"/>
<circle cx="548.7" cy="160.6" r="1.6" fill="#4152b6"/>
<circle cx="693.6" cy="152.8" r="1.6" fill="#4152b6"/>
<circle cx="594.8" cy="104.9" r="1.6" fill="#d9282b"/>
<circle cx="679.9" cy="278" r="1.6" fill="#4152b6"/>
<circle cx="608.6" cy="98.7" r="1.6" fill="#c63aa0"/>
<circle cx="679.5" cy="187.7" r="1.6" fill="#c63aa0"/>
<circle cx="754.1" cy="212.8" r="1.6" fill="#e2de34"/>
<circle cx="721.5" cy="230.1" r="1.6" fill="#7ec244"/>
<circle cx="637.5" cy="126.7" r="1.6" fill="#dc3a78"/>
<circle cx="547.5" cy="130.9" r="1.6" fill="#8e40b0"/>
<circle cx="670.3" cy="211.2" r="1.6" fill="#4152b6"/>
<circle cx="624.6" cy="193.8" r="1.6" fill="#4152b6"/>
<circle cx="565.2" cy="99.1" r="1.6" fill="#4152b6"/>
<circle cx="681.2" cy="189.3" r="1.6" fill="#e2de34"/>
<circle cx="677.1" cy="66.6" r="1.6" fill="#4152b6"/>
<circle cx="709.8" cy="294.3" r="1.6" fill="#d9282b"/>
<circle cx="688.9" cy="155" r="1.6" fill="#8e40b0"/>
<circle cx="596.2" cy="183.2" r="1.6" fill="#c63aa0"/>
<circle cx="733.9" cy="267.3" r="1.6" fill="#b8d437"/>
<circle cx="677.6" cy="77.9" r="1.6" fill="#c63aa0"/>
<circle cx="546.4" cy="71.9" r="1.6" fill="#5dbde2"/>
<circle cx="610.5" cy="63.2" r="1.6" fill="#7ec244"/>
<circle cx="566.7" cy="209" r="1.6" fill="#5dbde2"/>
<circle cx="621.7" cy="70.8" r="1.6" fill="#dc3a78"/>
<circle cx="567.4" cy="120.2" r="1.6" fill="#e8722b"/>
<circle cx="540" cy="105.7" r="1.6" fill="#4152b6"/>
<circle cx="615.6" cy="130.9" r="1.6" fill="#4152b6"/>
<circle cx="617.4" cy="131.9" r="1.6" fill="#4152b6"/>
<circle cx="618.8" cy="133.4" r="1.6" fill="#4152b6"/>
<circle cx="640.5" cy="164.5" r="1.6" fill="#4152b6"/>
<circle cx="626" cy="145.8" r="1.6" fill="#4152b6"/>
<circle cx="616.8" cy="124.7" r="1.6" fill="#4152b6"/>
<circle cx="618.2" cy="132.6" r="1.6" fill="#4152b6"/>
<circle cx="627.5" cy="145.5" r="1.6" fill="#4152b6"/>
<circle cx="644.4" cy="179" r="1.6" fill="#c63aa0"/>
<circle cx="637.4" cy="164.8" r="1.6" fill="#8e40b0"/>
<circle cx="621.6" cy="140.6" r="1.6" fill="#4152b6"/>
<circle cx="631.3" cy="142.9" r="1.6" fill="#4152b6"/>
<circle cx="638.3" cy="180" r="1.6" fill="#8e40b0"/>
<circle cx="628.2" cy="150.5" r="1.6" fill="#4152b6"/>
<circle cx="634.2" cy="169.7" r="1.6" fill="#c63aa0"/>
<circle cx="627.8" cy="146.8" r="1.6" fill="#4152b6"/>
<circle cx="621" cy="131.4" r="1.6" fill="#4152b6"/>
<circle cx="611.6" cy="113.9" r="1.6" fill="#4152b6"/>
<circle cx="630.8" cy="149" r="1.6" fill="#4152b6"/>
<circle cx="610.5" cy="119.8" r="1.6" fill="#4152b6"/>
<circle cx="633.3" cy="167.7" r="1.6" fill="#8e40b0"/>
<circle cx="634" cy="157.8" r="1.6" fill="#c63aa0"/>
<circle cx="637.7" cy="173.9" r="1.6" fill="#c63aa0"/>
<circle cx="639" cy="168.1" r="1.6" fill="#8e40b0"/>
<circle cx="624.1" cy="144" r="1.6" fill="#4152b6"/>
<circle cx="628" cy="152.3" r="1.6" fill="#8e40b0"/>
<circle cx="624.5" cy="140" r="1.6" fill="#4152b6"/>
<circle cx="629" cy="147.4" r="1.6" fill="#4152b6"/>
<circle cx="632" cy="160.2" r="1.6" fill="#8e40b0"/>
<circle cx="621.5" cy="138.4" r="1.6" fill="#4152b6"/>
<circle cx="625" cy="149.4" r="1.6" fill="#4152b6"/>
<circle cx="633.2" cy="156.3" r="1.6" fill="#4152b6"/>
<circle cx="626.7" cy="156.6" r="1.6" fill="#4152b6"/>
<circle cx="634.1" cy="152.2" r="1.6" fill="#8e40b0"/>
<circle cx="635.8" cy="180.5" r="1.6" fill="#8e40b0"/>
<circle cx="618.5" cy="126.2" r="1.6" fill="#4152b6"/>
<circle cx="636.2" cy="168.9" r="1.6" fill="#c63aa0"/>
<circle cx="618.8" cy="131.6" r="1.6" fill="#4152b6"/>
<circle cx="635.7" cy="159.6" r="1.6" fill="#8e40b0"/>
<circle cx="631.5" cy="158.2" r="1.6" fill="#8e40b0"/>
<circle cx="630.1" cy="153.6" r="1.6" fill="#8e40b0"/>
<circle cx="639.7" cy="173.5" r="1.6" fill="#4152b6"/>
<circle cx="636.3" cy="163.5" r="1.6" fill="#4152b6"/>
<circle cx="617.2" cy="122.5" r="1.6" fill="#4152b6"/>
<circle cx="642.1" cy="177.8" r="1.6" fill="#4152b6"/>
<circle cx="626.3" cy="141.1" r="1.6" fill="#4152b6"/>
<circle cx="642.9" cy="175.7" r="1.6" fill="#8e40b0"/>
<circle cx="643.3" cy="178.1" r="1.6" fill="#8e40b0"/>
<circle cx="642.6" cy="175.6" r="1.6" fill="#8e40b0"/>
<circle cx="621.2" cy="139.2" r="1.6" fill="#4152b6"/>
<circle cx="634.6" cy="166.6" r="1.6" fill="#8e40b0"/>
<circle cx="632.5" cy="163.3" r="1.6" fill="#4152b6"/>
<circle cx="630.6" cy="146" r="1.6" fill="#4152b6"/>
<circle cx="638.7" cy="178.4" r="1.6" fill="#8e40b0"/>
<circle cx="625.2" cy="154.4" r="1.6" fill="#4152b6"/>
<circle cx="610.7" cy="124.2" r="1.6" fill="#4152b6"/>
<circle cx="621.9" cy="152" r="1.6" fill="#4152b6"/>
<circle cx="634.9" cy="156.7" r="1.6" fill="#8e40b0"/>
<circle cx="619.6" cy="129" r="1.6" fill="#4152b6"/>
<circle cx="619.9" cy="137.2" r="1.6" fill="#4152b6"/>
<circle cx="632" cy="156" r="1.6" fill="#c63aa0"/>
<circle cx="626.4" cy="150.6" r="1.6" fill="#4152b6"/>
<circle cx="640.3" cy="170.9" r="1.6" fill="#8e40b0"/>
<circle cx="634.5" cy="172.6" r="1.6" fill="#8e40b0"/>
<circle cx="617.2" cy="119.2" r="1.6" fill="#4152b6"/>
<circle cx="622" cy="129.1" r="1.6" fill="#4152b6"/>
<circle cx="634.9" cy="165.4" r="1.6" fill="#c63aa0"/>
<circle cx="640.9" cy="179.7" r="1.6" fill="#4152b6"/>
<circle cx="640.1" cy="182.4" r="1.6" fill="#8e40b0"/>
<circle cx="629.3" cy="157" r="1.6" fill="#8e40b0"/>
<circle cx="612" cy="124.1" r="1.6" fill="#4152b6"/>
<circle cx="630.9" cy="152.6" r="1.6" fill="#8e40b0"/>
<circle cx="617.6" cy="127.9" r="1.6" fill="#4152b6"/>
<circle cx="633.1" cy="174.2" r="1.6" fill="#4152b6"/>
<circle cx="626.6" cy="141.8" r="1.6" fill="#4152b6"/>
<circle cx="637" cy="164.2" r="1.6" fill="#8e40b0"/>
<circle cx="642.6" cy="167.5" r="1.6" fill="#8e40b0"/>
<circle cx="614.9" cy="116.4" r="1.6" fill="#4152b6"/>
<circle cx="644.5" cy="176.3" r="1.6" fill="#8e40b0"/>
<circle cx="638.1" cy="170.8" r="1.6" fill="#8e40b0"/>
<circle cx="625.1" cy="147.1" r="1.6" fill="#4152b6"/>
<circle cx="636.7" cy="161.4" r="1.6" fill="#8e40b0"/>
<circle cx="640.6" cy="172.2" r="1.6" fill="#8e40b0"/>
<circle cx="614.6" cy="118.3" r="1.6" fill="#4152b6"/>
<circle cx="637.8" cy="167.7" r="1.6" fill="#4152b6"/>
<circle cx="627.9" cy="150.1" r="1.6" fill="#4152b6"/>
<circle cx="628.5" cy="153.3" r="1.6" fill="#4152b6"/>
<circle cx="629.5" cy="150.1" r="1.6" fill="#4152b6"/>
<circle cx="619.2" cy="132.4" r="1.6" fill="#4152b6"/>
<circle cx="635.8" cy="174.5" r="1.6" fill="#4152b6"/>
<circle cx="632.7" cy="154.7" r="1.6" fill="#4152b6"/>
<circle cx="608.5" cy="115.3" r="1.6" fill="#4152b6"/>
<circle cx="644.5" cy="178.3" r="1.6" fill="#8e40b0"/>
<circle cx="635.3" cy="163.4" r="1.6" fill="#c63aa0"/>
<circle cx="627.1" cy="156.5" r="1.6" fill="#4152b6"/>
<circle cx="640.1" cy="166.9" r="1.6" fill="#c63aa0"/>
<circle cx="638.3" cy="157" r="1.6" fill="#c63aa0"/>
<circle cx="638.5" cy="179.3" r="1.6" fill="#8e40b0"/>
<circle cx="617.6" cy="127.9" r="1.6" fill="#4152b6"/>
<circle cx="627.6" cy="156.7" r="1.6" fill="#8e40b0"/>
<circle cx="620.7" cy="115.7" r="1.6" fill="#4152b6"/>
<circle cx="627.1" cy="150" r="1.6" fill="#4152b6"/>
<circle cx="642.4" cy="180.1" r="1.6" fill="#8e40b0"/>
<circle cx="612.1" cy="120.1" r="1.6" fill="#4152b6"/>
<circle cx="632.8" cy="162.2" r="1.6" fill="#8e40b0"/>
<circle cx="606.7" cy="116.7" r="1.6" fill="#4152b6"/>
<circle cx="640.2" cy="175.1" r="1.6" fill="#4152b6"/>
<circle cx="633.5" cy="159.4" r="1.6" fill="#4152b6"/>
<circle cx="614.1" cy="113.3" r="1.6" fill="#4152b6"/>
<circle cx="627.2" cy="141.9" r="1.6" fill="#4152b6"/>
<circle cx="627.8" cy="140.3" r="1.6" fill="#4152b6"/>
<circle cx="623.1" cy="139.1" r="1.6" fill="#4152b6"/>
<circle cx="626.9" cy="142.3" r="1.6" fill="#4152b6"/>
<circle cx="635.6" cy="164.5" r="1.6" fill="#8e40b0"/>
<circle cx="613.4" cy="117.9" r="1.6" fill="#4152b6"/>
<circle cx="636.1" cy="184.6" r="1.6" fill="#4152b6"/>
<circle cx="641.2" cy="167.1" r="1.6" fill="#c63aa0"/>
<circle cx="637.2" cy="169.9" r="1.6" fill="#8e40b0"/>
<circle cx="615.3" cy="114.6" r="1.6" fill="#4152b6"/>
<circle cx="638.4" cy="174.5" r="1.6" fill="#c63aa0"/>
<circle cx="614.5" cy="118.8" r="1.6" fill="#4152b6"/>
<circle cx="624.1" cy="130.8" r="1.6" fill="#4152b6"/>
<circle cx="639.1" cy="166.6" r="1.6" fill="#8e40b0"/>
<circle cx="627.8" cy="149.1" r="1.6" fill="#4152b6"/>
<circle cx="632.2" cy="151.4" r="1.6" fill="#8e40b0"/>
<circle cx="642.3" cy="178.6" r="1.6" fill="#4152b6"/>
<circle cx="641.5" cy="182.3" r="1.6" fill="#4152b6"/>
<circle cx="614.5" cy="117.4" r="1.6" fill="#4152b6"/>
<circle cx="616.8" cy="119.1" r="1.6" fill="#4152b6"/>
<circle cx="638" cy="165.4" r="1.6" fill="#8e40b0"/>
<circle cx="611.2" cy="116.5" r="1.6" fill="#4152b6"/>
<circle cx="635.4" cy="161" r="1.6" fill="#4152b6"/>
<circle cx="644.6" cy="179" r="1.6" fill="#c63aa0"/>
<circle cx="625.1" cy="140.3" r="1.6" fill="#4152b6"/>
<circle cx="623.4" cy="135.4" r="1.6" fill="#4152b6"/>
<circle cx="636" cy="164.5" r="1.6" fill="#c63aa0"/>
<circle cx="626.7" cy="142" r="1.6" fill="#4152b6"/>
<circle cx="639.7" cy="171.3" r="1.6" fill="#c63aa0"/>
<circle cx="617.3" cy="116.8" r="1.6" fill="#4152b6"/>
<circle cx="613.4" cy="122.2" r="1.6" fill="#4152b6"/>
<circle cx="623.5" cy="138.4" r="1.6" fill="#4152b6"/>
<circle cx="622.8" cy="136.3" r="1.6" fill="#4152b6"/>
<circle cx="620.6" cy="139" r="1.6" fill="#4152b6"/>
<circle cx="635.2" cy="160" r="1.6" fill="#c63aa0"/>
<circle cx="636.7" cy="163.6" r="1.6" fill="#8e40b0"/>
<circle cx="631.9" cy="149.6" r="1.6" fill="#4152b6"/>
<circle cx="640.1" cy="172.8" r="1.6" fill="#8e40b0"/>
<circle cx="620.4" cy="140.3" r="1.6" fill="#4152b6"/>
<circle cx="616.3" cy="129.4" r="1.6" fill="#4152b6"/>
<circle cx="629.6" cy="153" r="1.6" fill="#8e40b0"/>
<circle cx="642.1" cy="174.6" r="1.6" fill="#c63aa0"/>
<circle cx="631.8" cy="160" r="1.6" fill="#8e40b0"/>
<circle cx="615.6" cy="128.7" r="1.6" fill="#4152b6"/>
<circle cx="643.9" cy="175.6" r="1.6" fill="#8e40b0"/>
<circle cx="620.1" cy="142.2" r="1.6" fill="#4152b6"/>
<circle cx="636.9" cy="165.5" r="1.6" fill="#4152b6"/>
<circle cx="638.3" cy="175.7" r="1.6" fill="#4152b6"/>
<circle cx="645.3" cy="176.6" r="1.6" fill="#8e40b0"/>
<circle cx="632.6" cy="166.1" r="1.6" fill="#4152b6"/>
<circle cx="638.2" cy="167.9" r="1.6" fill="#8e40b0"/>
<circle cx="639.7" cy="162.3" r="1.6" fill="#4152b6"/>
<circle cx="621.2" cy="131.9" r="1.6" fill="#4152b6"/>
<circle cx="625.7" cy="145.1" r="1.6" fill="#4152b6"/>
<circle cx="640.2" cy="175.5" r="1.6" fill="#8e40b0"/>
<circle cx="623" cy="135.6" r="1.6" fill="#4152b6"/>
<circle cx="645.6" cy="175.2" r="1.6" fill="#4152b6"/>
<circle cx="627.3" cy="135" r="1.6" fill="#4152b6"/>
<circle cx="634" cy="150" r="1.6" fill="#8e40b0"/>
<circle cx="640.4" cy="182.3" r="1.6" fill="#c63aa0"/>
<circle cx="633" cy="170.4" r="1.6" fill="#c63aa0"/>
<circle cx="627.9" cy="165.3" r="1.6" fill="#8e40b0"/>
<circle cx="636" cy="162.3" r="1.6" fill="#8e40b0"/>
<circle cx="624.9" cy="163" r="1.6" fill="#a8389f"/>
<circle cx="626.5" cy="165.2" r="1.6" fill="#a8389f"/>
<circle cx="628" cy="164.7" r="1.6" fill="#c63aa0"/>
<circle cx="624.7" cy="160.3" r="1.6" fill="#a8389f"/>
<circle cx="625.6" cy="159.7" r="1.6" fill="#a8389f"/>
<circle cx="632.2" cy="163.1" r="1.6" fill="#c63aa0"/>
<circle cx="626.9" cy="161.9" r="1.6" fill="#8e40b0"/>
<circle cx="625.5" cy="165.3" r="1.6" fill="#a8389f"/>
<circle cx="636.5" cy="161.1" r="1.6" fill="#8e40b0"/>
<circle cx="636.1" cy="163" r="1.6" fill="#a8389f"/>
<circle cx="626.6" cy="163.9" r="1.6" fill="#c63aa0"/>
<circle cx="627.5" cy="159.4" r="1.6" fill="#a8389f"/>
<circle cx="630.6" cy="156.8" r="1.6" fill="#a8389f"/>
<circle cx="630.9" cy="163.7" r="1.6" fill="#a8389f"/>
<circle cx="625.1" cy="163.6" r="1.6" fill="#8e40b0"/>
<circle cx="634.1" cy="162.4" r="1.6" fill="#a8389f"/>
<circle cx="627.7" cy="158.9" r="1.6" fill="#a8389f"/>
<circle cx="632.3" cy="156.7" r="1.6" fill="#8e40b0"/>
<circle cx="632" cy="168.2" r="1.6" fill="#c63aa0"/>
<circle cx="632.5" cy="164.4" r="1.6" fill="#c63aa0"/>
<circle cx="630.8" cy="159.1" r="1.6" fill="#a8389f"/>
<circle cx="631.7" cy="161.3" r="1.6" fill="#c63aa0"/>
<circle cx="635.6" cy="159.8" r="1.6" fill="#a8389f"/>
<circle cx="625.3" cy="165.7" r="1.6" fill="#a8389f"/>
<circle cx="635.3" cy="157.6" r="1.6" fill="#a8389f"/>
<circle cx="632.2" cy="157.5" r="1.6" fill="#c63aa0"/>
<circle cx="635.3" cy="168.3" r="1.6" fill="#8e40b0"/>
<circle cx="634.1" cy="164" r="1.6" fill="#a8389f"/>
<circle cx="636.7" cy="162.6" r="1.6" fill="#c63aa0"/>
<circle cx="631.3" cy="169.3" r="1.6" fill="#a8389f"/>
<circle cx="634" cy="168.3" r="1.6" fill="#c63aa0"/>
<circle cx="629.8" cy="161.2" r="1.6" fill="#a8389f"/>
<circle cx="626.2" cy="159" r="1.6" fill="#c63aa0"/>
<circle cx="631" cy="156.4" r="1.6" fill="#a8389f"/>
<circle cx="636.2" cy="166.6" r="1.6" fill="#c63aa0"/>
<circle cx="634.2" cy="164.6" r="1.6" fill="#a8389f"/>
<circle cx="634.7" cy="156.2" r="1.6" fill="#8e40b0"/>
<circle cx="636.2" cy="160.9" r="1.6" fill="#a8389f"/>
<circle cx="637.2" cy="158.7" r="1.6" fill="#8e40b0"/>
<circle cx="629" cy="156.5" r="1.6" fill="#c63aa0"/>
<circle cx="636.2" cy="163.5" r="1.6" fill="#a8389f"/>
<circle cx="630.9" cy="156.3" r="1.6" fill="#8e40b0"/>
<circle cx="635.8" cy="159.9" r="1.6" fill="#a8389f"/>
<circle cx="629.7" cy="155.5" r="1.6" fill="#a8389f"/>
<circle cx="628.2" cy="165.3" r="1.6" fill="#a8389f"/>
<circle cx="633.2" cy="163.7" r="1.6" fill="#8e40b0"/>
<circle cx="629.9" cy="155.8" r="1.6" fill="#a8389f"/>
<circle cx="626.5" cy="164.6" r="1.6" fill="#8e40b0"/>
<circle cx="633.8" cy="156.8" r="1.6" fill="#a8389f"/>
<circle cx="628.1" cy="167.4" r="1.6" fill="#8e40b0"/>
<circle cx="632.9" cy="158.1" r="1.6" fill="#c63aa0"/>
<circle cx="631.1" cy="159.5" r="1.6" fill="#8e40b0"/>
<circle cx="634.6" cy="159" r="1.6" fill="#8e40b0"/>
<circle cx="629.6" cy="168.9" r="1.6" fill="#c63aa0"/>
<circle cx="629.1" cy="155.9" r="1.6" fill="#a8389f"/>
<circle cx="633.3" cy="162" r="1.6" fill="#8e40b0"/>
<circle cx="631.7" cy="164.3" r="1.6" fill="#8e40b0"/>
<circle cx="629.2" cy="161.1" r="1.6" fill="#a8389f"/>
<circle cx="635.5" cy="168.3" r="1.6" fill="#a8389f"/>
<circle cx="628.9" cy="168.5" r="1.6" fill="#8e40b0"/>
<circle cx="630.5" cy="155.6" r="1.6" fill="#a8389f"/>
<circle cx="631.7" cy="157.7" r="1.6" fill="#8e40b0"/>
<circle cx="629.8" cy="168.7" r="1.6" fill="#a8389f"/>
<circle cx="634.1" cy="162" r="1.6" fill="#8e40b0"/>
<circle cx="634.8" cy="164.3" r="1.6" fill="#c63aa0"/>
<circle cx="628.1" cy="161.9" r="1.6" fill="#c63aa0"/>
<circle cx="628" cy="163.5" r="1.6" fill="#a8389f"/>
<circle cx="633.4" cy="162.1" r="1.6" fill="#8e40b0"/>
<circle cx="591.4" cy="163" r="1.6" fill="#7ec244"/>
<circle cx="545.4" cy="148.2" r="1.6" fill="#c63aa0"/>
<circle cx="552.5" cy="150" r="1.6" fill="#dc3a78"/>
<circle cx="554.6" cy="149.9" r="1.6" fill="#dc3a78"/>
<circle cx="580.2" cy="165.6" r="1.6" fill="#7ec244"/>
<circle cx="625.3" cy="174.3" r="1.6" fill="#6fc4b5"/>
<circle cx="637.5" cy="173.7" r="1.6" fill="#7ec244"/>
<circle cx="579.3" cy="159.2" r="1.6" fill="#c63aa0"/>
<circle cx="633.6" cy="177.1" r="1.6" fill="#4152b6"/>
<circle cx="617.7" cy="172.1" r="1.6" fill="#5dbde2"/>
<circle cx="566.3" cy="152.2" r="1.6" fill="#dc3a78"/>
<circle cx="602.4" cy="173" r="1.6" fill="#6fc4b5"/>
<circle cx="587.5" cy="160.3" r="1.6" fill="#7ec244"/>
<circle cx="565.2" cy="161" r="1.6" fill="#e2de34"/>
<circle cx="557.1" cy="153.7" r="1.6" fill="#dc3a78"/>
<circle cx="630.8" cy="176.2" r="1.6" fill="#8e40b0"/>
<circle cx="600.5" cy="170.3" r="1.6" fill="#b8d437"/>
<circle cx="641.2" cy="177.1" r="1.6" fill="#7ec244"/>
<circle cx="612" cy="168.9" r="1.6" fill="#7ec244"/>
<circle cx="568.1" cy="152.5" r="1.6" fill="#d9282b"/>
<circle cx="562.9" cy="152" r="1.6" fill="#c63aa0"/>
<circle cx="545.7" cy="151.1" r="1.6" fill="#8e40b0"/>
<circle cx="550.2" cy="152.3" r="1.6" fill="#c63aa0"/>
<circle cx="641.9" cy="177.5" r="1.6" fill="#4152b6"/>
<circle cx="557.2" cy="151" r="1.6" fill="#e2de34"/>
<circle cx="635.1" cy="179.4" r="1.6" fill="#5dbde2"/>
<circle cx="611.4" cy="175.1" r="1.6" fill="#8e40b0"/>
<circle cx="614.8" cy="177.7" r="1.6" fill="#5dbde2"/>
<circle cx="600.7" cy="167" r="1.6" fill="#e2de34"/>
<circle cx="570.5" cy="150.8" r="1.6" fill="#d9282b"/>
<circle cx="567.1" cy="156.1" r="1.6" fill="#e2de34"/>
<circle cx="643.1" cy="180.5" r="1.6" fill="#4152b6"/>
<circle cx="638.2" cy="178.4" r="1.6" fill="#6fc4b5"/>
<circle cx="556.7" cy="151.3" r="1.6" fill="#e2de34"/>
<circle cx="547.2" cy="151" r="1.6" fill="#8e40b0"/>
<circle cx="619.9" cy="172.9" r="1.6" fill="#4152b6"/>
<circle cx="607.5" cy="167.7" r="1.6" fill="#4152b6"/>
<circle cx="576.9" cy="155.5" r="1.6" fill="#e2de34"/>
<circle cx="641.8" cy="179" r="1.6" fill="#6fc4b5"/>
<circle cx="566" cy="149.7" r="1.6" fill="#c63aa0"/>
<circle cx="587.7" cy="163.3" r="1.6" fill="#e2de34"/>
<circle cx="618.6" cy="174" r="1.6" fill="#8e40b0"/>
<circle cx="613.5" cy="173.7" r="1.6" fill="#8e40b0"/>
<circle cx="576.2" cy="155.7" r="1.6" fill="#dc3a78"/>
<circle cx="540" cy="149.3" r="1.6" fill="#dc3a78"/>
<circle cx="636.6" cy="179.4" r="1.6" fill="#8e40b0"/>
<circle cx="561.7" cy="149.2" r="1.6" fill="#e2de34"/>
<circle cx="606.3" cy="168.4" r="1.6" fill="#5dbde2"/>
<circle cx="561.1" cy="152" r="1.6" fill="#e8722b"/>
<circle cx="640.9" cy="180.1" r="1.6" fill="#7ec244"/>
<circle cx="550.1" cy="151.1" r="1.6" fill="#dc3a78"/>
<circle cx="563.8" cy="149.4" r="1.6" fill="#dc3a78"/>
<circle cx="543.3" cy="148.2" r="1.6" fill="#4152b6"/>
<circle cx="570.5" cy="158" r="1.6" fill="#e2de34"/>
<circle cx="586.3" cy="165.4" r="1.6" fill="#7ec244"/>
<circle cx="571.1" cy="161.6" r="1.6" fill="#e2de34"/>
<circle cx="607.4" cy="170.8" r="1.6" fill="#8e40b0"/>
<circle cx="630.8" cy="172.2" r="1.6" fill="#8e40b0"/>
<circle cx="541" cy="149" r="1.6" fill="#c63aa0"/>
<circle cx="610.2" cy="168.2" r="1.6" fill="#6fc4b5"/>
<circle cx="589.9" cy="160.1" r="1.6" fill="#b8d437"/>
<circle cx="560.8" cy="157.4" r="1.6" fill="#d9282b"/>
<circle cx="601.4" cy="164.7" r="1.6" fill="#b8d437"/>
<circle cx="571.7" cy="153.3" r="1.6" fill="#dc3a78"/>
<circle cx="561.3" cy="156.5" r="1.6" fill="#dc3a78"/>
<circle cx="549.7" cy="152.6" r="1.6" fill="#dc3a78"/>
<circle cx="558" cy="151.2" r="1.6" fill="#d9282b"/>
<circle cx="641.1" cy="181.8" r="1.6" fill="#6fc4b5"/>
<circle cx="578.9" cy="163.1" r="1.6" fill="#e2de34"/>
<circle cx="638.1" cy="179.9" r="1.6" fill="#5dbde2"/>
<circle cx="560.7" cy="152.2" r="1.6" fill="#e2de34"/>
<circle cx="582.4" cy="164.9" r="1.6" fill="#e2de34"/>
<circle cx="604.9" cy="164.6" r="1.6" fill="#6fc4b5"/>
<circle cx="604.6" cy="172.7" r="1.6" fill="#8e40b0"/>
<circle cx="587.4" cy="162.4" r="1.6" fill="#b8d437"/>
<circle cx="541.1" cy="150.9" r="1.6" fill="#dc3a78"/>
<circle cx="543.5" cy="146.6" r="1.6" fill="#c63aa0"/>
<circle cx="561" cy="149.5" r="1.6" fill="#dc3a78"/>
<circle cx="639.9" cy="174.1" r="1.6" fill="#8e40b0"/>
<circle cx="575.4" cy="162.7" r="1.6" fill="#c63aa0"/>
<circle cx="632.1" cy="181.5" r="1.6" fill="#7ec244"/>
<circle cx="590.4" cy="164.8" r="1.6" fill="#b8d437"/>
<circle cx="557" cy="156.6" r="1.6" fill="#d9282b"/>
<circle cx="620.6" cy="183.1" r="1.6" fill="#4152b6"/>
<circle cx="561.6" cy="157" r="1.6" fill="#c63aa0"/>
<circle cx="540.7" cy="149.8" r="1.6" fill="#8e40b0"/>
<circle cx="640.1" cy="180.3" r="1.6" fill="#7ec244"/>
<circle cx="639.6" cy="184" r="1.6" fill="#5dbde2"/>
<circle cx="629.6" cy="178.5" r="1.6" fill="#7ec244"/>
<circle cx="580.5" cy="159" r="1.6" fill="#b8d437"/>
<circle cx="554" cy="149.9" r="1.6" fill="#4152b6"/>
<circle cx="562.2" cy="153.2" r="1.6" fill="#e2de34"/>
<circle cx="584.9" cy="167.3" r="1.6" fill="#b8d437"/>
<circle cx="610.5" cy="170.3" r="1.6" fill="#5dbde2"/>
<circle cx="629.4" cy="176.9" r="1.6" fill="#5dbde2"/>
<circle cx="629.2" cy="177.3" r="1.6" fill="#5dbde2"/>
<circle cx="611" cy="172.4" r="1.6" fill="#7ec244"/>
<circle cx="617.7" cy="169.1" r="1.6" fill="#4152b6"/>
<circle cx="543.1" cy="150.5" r="1.6" fill="#4152b6"/>
<circle cx="580.7" cy="162.5" r="1.6" fill="#b8d437"/>
<circle cx="595.5" cy="164.9" r="1.6" fill="#b8d437"/>
<circle cx="569.3" cy="157.9" r="1.6" fill="#d9282b"/>
<circle cx="551.2" cy="154.2" r="1.6" fill="#4152b6"/>
<circle cx="628.7" cy="177.1" r="1.6" fill="#4152b6"/>
<circle cx="574.4" cy="154.5" r="1.6" fill="#dc3a78"/>
<circle cx="623.3" cy="170.9" r="1.6" fill="#7ec244"/>
<circle cx="591.5" cy="161.3" r="1.6" fill="#7ec244"/>
<circle cx="596.6" cy="169.1" r="1.6" fill="#b8d437"/>
<circle cx="628.3" cy="174.2" r="1.6" fill="#8e40b0"/>
<circle cx="619.2" cy="175.5" r="1.6" fill="#6fc4b5"/>
<circle cx="594.6" cy="167.7" r="1.6" fill="#e2de34"/>
<circle cx="593.1" cy="168.9" r="1.6" fill="#b8d437"/>
<circle cx="539.2" cy="149.2" r="1.6" fill="#c63aa0"/>
<circle cx="565.2" cy="153.2" r="1.6" fill="#c63aa0"/>
<circle cx="553.6" cy="153.5" r="1.6" fill="#4152b6"/>
<circle cx="620.4" cy="175.3" r="1.6" fill="#8e40b0"/>
<circle cx="641.8" cy="185.7" r="1.6" fill="#5dbde2"/>
<circle cx="606.5" cy="169.5" r="1.6" fill="#7ec244"/>
<circle cx="629.7" cy="173.4" r="1.6" fill="#5dbde2"/>
<circle cx="637.6" cy="178.2" r="1.6" fill="#5dbde2"/>
<circle cx="715" cy="168.2" r="1.6" fill="#4152b6"/>
<circle cx="668.6" cy="176.6" r="1.6" fill="#8e40b0"/>
<circle cx="719.3" cy="165.7" r="1.6" fill="#4152b6"/>
<circle cx="670.7" cy="172.7" r="1.6" fill="#8e40b0"/>
<circle cx="720.2" cy="166.7" r="1.6" fill="#4152b6"/>
<circle cx="734.3" cy="158.8" r="1.6" fill="#4152b6"/>
<circle cx="726.6" cy="160.6" r="1.6" fill="#4152b6"/>
<circle cx="735.6" cy="158.9" r="1.6" fill="#4152b6"/>
<circle cx="733" cy="163.1" r="1.6" fill="#4152b6"/>
<circle cx="655.2" cy="178.4" r="1.6" fill="#c63aa0"/>
<circle cx="712.8" cy="167.4" r="1.6" fill="#4152b6"/>
<circle cx="731.6" cy="164.4" r="1.6" fill="#4152b6"/>
<circle cx="645" cy="180.8" r="1.6" fill="#dc3a78"/>
<circle cx="693.1" cy="174.9" r="1.6" fill="#8e40b0"/>
<circle cx="715.2" cy="167.5" r="1.6" fill="#4152b6"/>
<circle cx="725.5" cy="163.4" r="1.6" fill="#4152b6"/>
<circle cx="710.1" cy="170.3" r="1.6" fill="#4152b6"/>
<circle cx="649.3" cy="180.3" r="1.6" fill="#c63aa0"/>
<circle cx="719" cy="162.2" r="1.6" fill="#4152b6"/>
<circle cx="711.7" cy="168.6" r="1.6" fill="#4152b6"/>
<circle cx="737.7" cy="161" r="1.6" fill="#4152b6"/>
<circle cx="708" cy="168.7" r="1.6" fill="#8e40b0"/>
<circle cx="670.5" cy="180.1" r="1.6" fill="#8e40b0"/>
<circle cx="696.4" cy="172.7" r="1.6" fill="#4152b6"/>
<circle cx="696.6" cy="168.1" r="1.6" fill="#4152b6"/>
<circle cx="652.1" cy="181.3" r="1.6" fill="#c63aa0"/>
<circle cx="712.5" cy="159.9" r="1.6" fill="#8e40b0"/>
<circle cx="706.5" cy="168.6" r="1.6" fill="#4152b6"/>
<circle cx="711.7" cy="164.5" r="1.6" fill="#8e40b0"/>
<circle cx="670.6" cy="173.5" r="1.6" fill="#dc3a78"/>
<circle cx="658.4" cy="168.4" r="1.6" fill="#c63aa0"/>
<circle cx="693.4" cy="174.3" r="1.6" fill="#dc3a78"/>
<circle cx="725.1" cy="164" r="1.6" fill="#4152b6"/>
<circle cx="686.9" cy="175.8" r="1.6" fill="#c63aa0"/>
<circle cx="704.9" cy="166.9" r="1.6" fill="#4152b6"/>
<circle cx="717" cy="168.3" r="1.6" fill="#4152b6"/>
<circle cx="731.3" cy="161.1" r="1.6" fill="#4152b6"/>
<circle cx="706.6" cy="164.2" r="1.6" fill="#4152b6"/>
<circle cx="690.7" cy="171.7" r="1.6" fill="#c63aa0"/>
<circle cx="686.1" cy="171.5" r="1.6" fill="#c63aa0"/>
<circle cx="706.5" cy="162.5" r="1.6" fill="#4152b6"/>
<circle cx="732.6" cy="166.4" r="1.6" fill="#4152b6"/>
<circle cx="671.3" cy="179.3" r="1.6" fill="#dc3a78"/>
<circle cx="655" cy="179.3" r="1.6" fill="#c63aa0"/>
<circle cx="711.3" cy="169" r="1.6" fill="#4152b6"/>
<circle cx="705" cy="167.8" r="1.6" fill="#8e40b0"/>
<circle cx="734.7" cy="159.4" r="1.6" fill="#4152b6"/>
<circle cx="696" cy="165.5" r="1.6" fill="#8e40b0"/>
<circle cx="690.8" cy="174.4" r="1.6" fill="#c63aa0"/>
<circle cx="706.5" cy="167.6" r="1.6" fill="#4152b6"/>
<circle cx="713.5" cy="167.4" r="1.6" fill="#4152b6"/>
<circle cx="696.2" cy="165.5" r="1.6" fill="#8e40b0"/>
<circle cx="717.4" cy="165.1" r="1.6" fill="#4152b6"/>
<circle cx="665.5" cy="180.4" r="1.6" fill="#c63aa0"/>
<circle cx="703.6" cy="171" r="1.6" fill="#4152b6"/>
<circle cx="727.6" cy="164.1" r="1.6" fill="#4152b6"/>
<circle cx="717.1" cy="168.8" r="1.6" fill="#4152b6"/>
<circle cx="727.5" cy="164.8" r="1.6" fill="#4152b6"/>
<circle cx="727.6" cy="163.8" r="1.6" fill="#4152b6"/>
<circle cx="671.9" cy="176.4" r="1.6" fill="#8e40b0"/>
<circle cx="673.5" cy="178.3" r="1.6" fill="#dc3a78"/>
<circle cx="658.5" cy="182" r="1.6" fill="#dc3a78"/>
<circle cx="699.6" cy="171.2" r="1.6" fill="#4152b6"/>
<circle cx="731.7" cy="160.7" r="1.6" fill="#4152b6"/>
<circle cx="687.9" cy="170.5" r="1.6" fill="#dc3a78"/>
<circle cx="662.5" cy="179.4" r="1.6" fill="#c63aa0"/>
<circle cx="655.5" cy="178.7" r="1.6" fill="#dc3a78"/>
<circle cx="722.7" cy="166.4" r="1.6" fill="#4152b6"/>
<circle cx="677.6" cy="173.1" r="1.6" fill="#dc3a78"/>
<circle cx="704.9" cy="166.7" r="1.6" fill="#8e40b0"/>
<circle cx="717" cy="166" r="1.6" fill="#4152b6"/>
<circle cx="728.5" cy="164.9" r="1.6" fill="#4152b6"/>
<circle cx="662.8" cy="176.7" r="1.6" fill="#8e40b0"/>
<circle cx="716.5" cy="168" r="1.6" fill="#4152b6"/>
<circle cx="688.8" cy="169.5" r="1.6" fill="#8e40b0"/>
<circle cx="647.3" cy="180.7" r="1.6" fill="#c63aa0"/>
<circle cx="678.7" cy="170.3" r="1.6" fill="#dc3a78"/>
<circle cx="690.7" cy="175.6" r="1.6" fill="#c63aa0"/>
<circle cx="698.6" cy="173.8" r="1.6" fill="#4152b6"/>
<circle cx="678.3" cy="175" r="1.6" fill="#c63aa0"/>
<circle cx="687.9" cy="171.7" r="1.6" fill="#8e40b0"/>
<circle cx="646.2" cy="184.5" r="1.6" fill="#8e40b0"/>
<circle cx="708.1" cy="164.2" r="1.6" fill="#4152b6"/>
<circle cx="700.7" cy="166" r="1.6" fill="#4152b6"/>
<circle cx="674.5" cy="179.6" r="1.6" fill="#8e40b0"/>
<circle cx="684.1" cy="174.7" r="1.6" fill="#dc3a78"/>
<circle cx="692.7" cy="174.8" r="1.6" fill="#8e40b0"/>
<circle cx="653.8" cy="176.7" r="1.6" fill="#dc3a78"/>
<circle cx="680" cy="172.4" r="1.6" fill="#dc3a78"/>
<circle cx="687" cy="172.1" r="1.6" fill="#dc3a78"/>
<circle cx="675.1" cy="173" r="1.6" fill="#8e40b0"/>
<circle cx="738.7" cy="165.8" r="1.6" fill="#4152b6"/>
<circle cx="712.7" cy="165.8" r="1.6" fill="#4152b6"/>
<circle cx="728.2" cy="161.4" r="1.6" fill="#4152b6"/>
<circle cx="690.1" cy="173" r="1.6" fill="#8e40b0"/>
<circle cx="738.1" cy="162" r="1.6" fill="#4152b6"/>
<circle cx="694.5" cy="172.5" r="1.6" fill="#c63aa0"/>
<circle cx="714.4" cy="169.8" r="1.6" fill="#4152b6"/>
<circle cx="731.3" cy="166.1" r="1.6" fill="#4152b6"/>
<circle cx="723.1" cy="166.2" r="1.6" fill="#4152b6"/>
<circle cx="707.3" cy="177.7" r="1.6" fill="#4152b6"/>
<circle cx="664.1" cy="182" r="1.6" fill="#c63aa0"/>
<circle cx="687.2" cy="170.5" r="1.6" fill="#8e40b0"/>
<circle cx="677.4" cy="174.4" r="1.6" fill="#dc3a78"/>
<circle cx="649.5" cy="184.2" r="1.6" fill="#dc3a78"/>
<circle cx="736.2" cy="162.3" r="1.6" fill="#4152b6"/>
<circle cx="664.3" cy="174.4" r="1.6" fill="#dc3a78"/>
<circle cx="647.4" cy="180.8" r="1.6" fill="#c63aa0"/>
<circle cx="731.5" cy="158.3" r="1.6" fill="#4152b6"/>
<circle cx="710.2" cy="168.1" r="1.6" fill="#8e40b0"/>
<circle cx="666" cy="178.4" r="1.6" fill="#8e40b0"/>
<circle cx="704.4" cy="163.7" r="1.6" fill="#4152b6"/>
<circle cx="650.1" cy="177.5" r="1.6" fill="#dc3a78"/>
<circle cx="683.8" cy="174.6" r="1.6" fill="#c63aa0"/>
<circle cx="670.2" cy="175.3" r="1.6" fill="#c63aa0"/>
<circle cx="672.4" cy="180.7" r="1.6" fill="#8e40b0"/>
<circle cx="657.9" cy="182.2" r="1.6" fill="#dc3a78"/>
<circle cx="679.5" cy="177.6" r="1.6" fill="#8e40b0"/>
<circle cx="715.4" cy="169.2" r="1.6" fill="#4152b6"/>
<circle cx="694.4" cy="167.8" r="1.6" fill="#dc3a78"/>
<circle cx="704.9" cy="165.3" r="1.6" fill="#8e40b0"/>
<circle cx="718.6" cy="163.9" r="1.6" fill="#4152b6"/>
<circle cx="724.8" cy="159.2" r="1.6" fill="#4152b6"/>
<circle cx="716.5" cy="166.7" r="1.6" fill="#4152b6"/>
<circle cx="695.7" cy="176" r="1.6" fill="#8e40b0"/>
<circle cx="681.8" cy="174.8" r="1.6" fill="#8e40b0"/>
<circle cx="738.9" cy="165.7" r="1.6" fill="#4152b6"/>
<circle cx="687.2" cy="175.4" r="1.6" fill="#dc3a78"/>
<circle cx="660" cy="176.1" r="1.6" fill="#8e40b0"/>
<circle cx="720.7" cy="164.2" r="1.6" fill="#4152b6"/>
<circle cx="722.1" cy="162.3" r="1.6" fill="#4152b6"/>
<circle cx="710.1" cy="163" r="1.6" fill="#8e40b0"/>
<circle cx="647.1" cy="185" r="1.6" fill="#c63aa0"/>
<circle cx="681.3" cy="180.5" r="1.6" fill="#c63aa0"/>
<circle cx="679.5" cy="168.6" r="1.6" fill="#dc3a78"/>
<circle cx="707.4" cy="175.6" r="1.6" fill="#8e40b0"/>
<circle cx="700.1" cy="168.7" r="1.6" fill="#8e40b0"/>
<circle cx="677.1" cy="177.5" r="1.6" fill="#8e40b0"/>
<circle cx="719.2" cy="167.4" r="1.6" fill="#4152b6"/>
<circle cx="735.8" cy="160.3" r="1.6" fill="#4152b6"/>
<circle cx="679.3" cy="175.8" r="1.6" fill="#c63aa0"/>
<circle cx="693.6" cy="167.5" r="1.6" fill="#c63aa0"/>
<circle cx="684.4" cy="168.3" r="1.6" fill="#dc3a78"/>
<circle cx="705.7" cy="166" r="1.6" fill="#4152b6"/>
<circle cx="668.8" cy="177.3" r="1.6" fill="#8e40b0"/>
<circle cx="702.3" cy="165" r="1.6" fill="#4152b6"/>
<circle cx="660.2" cy="184.8" r="1.6" fill="#dc3a78"/>
<circle cx="682.2" cy="169.3" r="1.6" fill="#dc3a78"/>
<circle cx="725.1" cy="166.9" r="1.6" fill="#4152b6"/>
<circle cx="711.3" cy="168.5" r="1.6" fill="#8e40b0"/>
<circle cx="656.1" cy="179" r="1.6" fill="#c63aa0"/>
<circle cx="691" cy="178.5" r="1.6" fill="#c63aa0"/>
<circle cx="681.3" cy="171.8" r="1.6" fill="#8e40b0"/>
<circle cx="699.7" cy="169.9" r="1.6" fill="#8e40b0"/>
<circle cx="700.6" cy="172.1" r="1.6" fill="#4152b6"/>
<circle cx="717.8" cy="165.6" r="1.6" fill="#4152b6"/>
<circle cx="729.2" cy="160.1" r="1.6" fill="#4152b6"/>
<circle cx="678.7" cy="171.7" r="1.6" fill="#c63aa0"/>
<circle cx="648.1" cy="178.2" r="1.6" fill="#8e40b0"/>
<circle cx="671.3" cy="170.9" r="1.6" fill="#dc3a78"/>
<circle cx="690.6" cy="171.5" r="1.6" fill="#8e40b0"/>
<circle cx="706.2" cy="165.6" r="1.6" fill="#8e40b0"/>
<circle cx="689" cy="178.1" r="1.6" fill="#c63aa0"/>
<circle cx="671.6" cy="170.4" r="1.6" fill="#8e40b0"/>
<circle cx="730.3" cy="165.2" r="1.6" fill="#4152b6"/>
<circle cx="737.6" cy="164.3" r="1.6" fill="#4152b6"/>
<circle cx="719.1" cy="162.2" r="1.6" fill="#4152b6"/>
<circle cx="646.3" cy="181" r="1.6" fill="#dc3a78"/>
<circle cx="667.4" cy="169.6" r="1.6" fill="#dc3a78"/>
<circle cx="666.9" cy="175.3" r="1.6" fill="#c63aa0"/>
<circle cx="657.7" cy="181.9" r="1.6" fill="#dc3a78"/>
<circle cx="706.9" cy="170.8" r="1.6" fill="#4152b6"/>
<circle cx="692.5" cy="170.8" r="1.6" fill="#8e40b0"/>
<circle cx="678.8" cy="172.3" r="1.6" fill="#c63aa0"/>
<circle cx="733" cy="158" r="1.6" fill="#4152b6"/>
<circle cx="687.4" cy="173.7" r="1.6" fill="#8e40b0"/>
<circle cx="672.8" cy="177.9" r="1.6" fill="#dc3a78"/>
<circle cx="702.5" cy="163.5" r="1.6" fill="#4152b6"/>
<circle cx="721.6" cy="163.5" r="1.6" fill="#4152b6"/>
<circle cx="708.5" cy="172.1" r="1.6" fill="#8e40b0"/>
<circle cx="674.5" cy="175.9" r="1.6" fill="#8e40b0"/>
<circle cx="667.6" cy="176.1" r="1.6" fill="#c63aa0"/>
<circle cx="671.8" cy="169.7" r="1.6" fill="#a8389f"/>
<circle cx="679.3" cy="169.7" r="1.6" fill="#8e40b0"/>
<circle cx="672.6" cy="170.3" r="1.6" fill="#c63aa0"/>
<circle cx="671.6" cy="179.1" r="1.6" fill="#8e40b0"/>
<circle cx="667.7" cy="174.6" r="1.6" fill="#a8389f"/>
<circle cx="672.1" cy="181.2" r="1.6" fill="#c63aa0"/>
<circle cx="668" cy="179.2" r="1.6" fill="#a8389f"/>
<circle cx="669.4" cy="169.4" r="1.6" fill="#a8389f"/>
<circle cx="675.8" cy="178.6" r="1.6" fill="#c63aa0"/>
<circle cx="676.8" cy="178.1" r="1.6" fill="#8e40b0"/>
<circle cx="673.4" cy="170.9" r="1.6" fill="#a8389f"/>
<circle cx="671.6" cy="179.6" r="1.6" fill="#a8389f"/>
<circle cx="668.3" cy="176.1" r="1.6" fill="#8e40b0"/>
<circle cx="673.8" cy="180.5" r="1.6" fill="#c63aa0"/>
<circle cx="681.3" cy="176.1" r="1.6" fill="#8e40b0"/>
<circle cx="670.5" cy="176.7" r="1.6" fill="#a8389f"/>
<circle cx="678.7" cy="173.9" r="1.6" fill="#a8389f"/>
<circle cx="679.9" cy="176.2" r="1.6" fill="#c63aa0"/>
<circle cx="672.3" cy="177.7" r="1.6" fill="#a8389f"/>
<circle cx="677" cy="170.7" r="1.6" fill="#8e40b0"/>
<circle cx="674.1" cy="171" r="1.6" fill="#a8389f"/>
<circle cx="674.6" cy="171.4" r="1.6" fill="#a8389f"/>
<circle cx="670.1" cy="176" r="1.6" fill="#c63aa0"/>
<circle cx="675.3" cy="168.7" r="1.6" fill="#c63aa0"/>
<circle cx="678.7" cy="178.1" r="1.6" fill="#8e40b0"/>
<circle cx="681" cy="173.1" r="1.6" fill="#a8389f"/>
<circle cx="679.5" cy="170.7" r="1.6" fill="#c63aa0"/>
<circle cx="679.2" cy="173.3" r="1.6" fill="#a8389f"/>
<circle cx="670.6" cy="178.6" r="1.6" fill="#a8389f"/>
<circle cx="676.6" cy="169.1" r="1.6" fill="#c63aa0"/>
<circle cx="671.2" cy="181.1" r="1.6" fill="#c63aa0"/>
<circle cx="673.5" cy="176.4" r="1.6" fill="#8e40b0"/>
<circle cx="673" cy="169.4" r="1.6" fill="#a8389f"/>
<circle cx="674.5" cy="178.8" r="1.6" fill="#a8389f"/>
<circle cx="679.5" cy="174.5" r="1.6" fill="#8e40b0"/>
<circle cx="681.2" cy="174" r="1.6" fill="#a8389f"/>
<circle cx="676.2" cy="168.2" r="1.6" fill="#a8389f"/>
<circle cx="676.1" cy="178" r="1.6" fill="#8e40b0"/>
<circle cx="668.4" cy="172.7" r="1.6" fill="#c63aa0"/>
<circle cx="680.7" cy="178.8" r="1.6" fill="#a8389f"/>
<circle cx="674.3" cy="171.4" r="1.6" fill="#8e40b0"/>
<circle cx="679.1" cy="177.9" r="1.6" fill="#a8389f"/>
<circle cx="673.7" cy="176.8" r="1.6" fill="#a8389f"/>
<circle cx="671.6" cy="171.3" r="1.6" fill="#c63aa0"/>
<circle cx="675.8" cy="181.3" r="1.6" fill="#a8389f"/>
<circle cx="678.5" cy="178.7" r="1.6" fill="#a8389f"/>
<circle cx="670.3" cy="174" r="1.6" fill="#a8389f"/>
<circle cx="671.4" cy="179.5" r="1.6" fill="#8e40b0"/>
<circle cx="676.8" cy="178" r="1.6" fill="#a8389f"/>
<circle cx="674.4" cy="175.6" r="1.6" fill="#a8389f"/>
<circle cx="670.6" cy="177.3" r="1.6" fill="#a8389f"/>
<circle cx="667" cy="174.9" r="1.6" fill="#a8389f"/>
<circle cx="673.4" cy="179.5" r="1.6" fill="#a8389f"/>
<circle cx="669.5" cy="172.1" r="1.6" fill="#8e40b0"/>
<circle cx="678.3" cy="172.6" r="1.6" fill="#c63aa0"/>
<circle cx="671.3" cy="178.1" r="1.6" fill="#a8389f"/>
<circle cx="679.5" cy="171" r="1.6" fill="#a8389f"/>
<circle cx="673.2" cy="169.6" r="1.6" fill="#8e40b0"/>
<circle cx="670.5" cy="169.5" r="1.6" fill="#c63aa0"/>
<circle cx="670.6" cy="177" r="1.6" fill="#a8389f"/>
<circle cx="676.9" cy="173.7" r="1.6" fill="#a8389f"/>
<circle cx="671.8" cy="170.7" r="1.6" fill="#8e40b0"/>
<circle cx="670.1" cy="177.4" r="1.6" fill="#8e40b0"/>
<circle cx="673.6" cy="180.6" r="1.6" fill="#a8389f"/>
<circle cx="669" cy="179.5" r="1.6" fill="#8e40b0"/>
<circle cx="676.3" cy="182.1" r="1.6" fill="#c63aa0"/>
<circle cx="671.8" cy="172.2" r="1.6" fill="#c63aa0"/>
<circle cx="667.9" cy="177" r="1.6" fill="#8e40b0"/>
<circle cx="637.9" cy="214.6" r="1.6" fill="#8e40b0"/>
<circle cx="644.9" cy="191" r="1.6" fill="#c63aa0"/>
<circle cx="634.8" cy="234.7" r="1.6" fill="#8e40b0"/>
<circle cx="640.1" cy="232.1" r="1.6" fill="#4152b6"/>
<circle cx="636.5" cy="222.3" r="1.6" fill="#c63aa0"/>
<circle cx="632.6" cy="250.8" r="1.6" fill="#4152b6"/>
<circle cx="645.1" cy="200.3" r="1.6" fill="#dc3a78"/>
<circle cx="634.5" cy="259.9" r="1.6" fill="#4152b6"/>
<circle cx="636.5" cy="231.4" r="1.6" fill="#8e40b0"/>
<circle cx="638.9" cy="202.6" r="1.6" fill="#8e40b0"/>
<circle cx="642" cy="185.1" r="1.6" fill="#c63aa0"/>
<circle cx="634.9" cy="244.7" r="1.6" fill="#8e40b0"/>
<circle cx="634.1" cy="259.9" r="1.6" fill="#4152b6"/>
<circle cx="626.7" cy="283.8" r="1.6" fill="#4152b6"/>
<circle cx="642.6" cy="194.7" r="1.6" fill="#dc3a78"/>
<circle cx="628.5" cy="289.2" r="1.6" fill="#4152b6"/>
<circle cx="637.5" cy="239.6" r="1.6" fill="#4152b6"/>
<circle cx="638.2" cy="249.7" r="1.6" fill="#4152b6"/>
<circle cx="641" cy="205.3" r="1.6" fill="#c63aa0"/>
<circle cx="633.4" cy="257.7" r="1.6" fill="#4152b6"/>
<circle cx="635.9" cy="250.8" r="1.6" fill="#4152b6"/>
<circle cx="636.1" cy="224.1" r="1.6" fill="#c63aa0"/>
<circle cx="637.3" cy="236.7" r="1.6" fill="#8e40b0"/>
<circle cx="632.8" cy="228.2" r="1.6" fill="#8e40b0"/>
<circle cx="638.3" cy="217.5" r="1.6" fill="#8e40b0"/>
<circle cx="640.3" cy="194.8" r="1.6" fill="#8e40b0"/>
<circle cx="637" cy="207.5" r="1.6" fill="#8e40b0"/>
<circle cx="640" cy="189.5" r="1.6" fill="#8e40b0"/>
<circle cx="632.7" cy="242.8" r="1.6" fill="#8e40b0"/>
<circle cx="641.8" cy="208.5" r="1.6" fill="#8e40b0"/>
<circle cx="641.2" cy="195.3" r="1.6" fill="#dc3a78"/>
<circle cx="629.7" cy="280.7" r="1.6" fill="#4152b6"/>
<circle cx="643.8" cy="189.1" r="1.6" fill="#c63aa0"/>
<circle cx="634.1" cy="238.7" r="1.6" fill="#4152b6"/>
<circle cx="644.8" cy="196" r="1.6" fill="#dc3a78"/>
<circle cx="633.4" cy="267.4" r="1.6" fill="#4152b6"/>
<circle cx="629.6" cy="274.4" r="1.6" fill="#4152b6"/>
<circle cx="629.6" cy="266.4" r="1.6" fill="#4152b6"/>
<circle cx="641.1" cy="212.9" r="1.6" fill="#c63aa0"/>
<circle cx="633.8" cy="217.4" r="1.6" fill="#8e40b0"/>
<circle cx="632.5" cy="292.6" r="1.6" fill="#4152b6"/>
<circle cx="641" cy="221.9" r="1.6" fill="#8e40b0"/>
<circle cx="638.7" cy="214.1" r="1.6" fill="#8e40b0"/>
<circle cx="635.7" cy="256.6" r="1.6" fill="#4152b6"/>
<circle cx="645.1" cy="188" r="1.6" fill="#dc3a78"/>
<circle cx="634.5" cy="260.5" r="1.6" fill="#4152b6"/>
<circle cx="627.5" cy="283.8" r="1.6" fill="#4152b6"/>
<circle cx="636.2" cy="240.7" r="1.6" fill="#4152b6"/>
<circle cx="632.6" cy="277.2" r="1.6" fill="#4152b6"/>
<circle cx="634.3" cy="254.7" r="1.6" fill="#4152b6"/>
<circle cx="629.6" cy="269.5" r="1.6" fill="#4152b6"/>
<circle cx="638.1" cy="195.1" r="1.6" fill="#dc3a78"/>
<circle cx="630.8" cy="282.2" r="1.6" fill="#4152b6"/>
<circle cx="638" cy="230.7" r="1.6" fill="#c63aa0"/>
<circle cx="632.2" cy="272.8" r="1.6" fill="#4152b6"/>
<circle cx="635.4" cy="197.5" r="1.6" fill="#dc3a78"/>
<circle cx="634.8" cy="248.1" r="1.6" fill="#8e40b0"/>
<circle cx="641.1" cy="212.3" r="1.6" fill="#dc3a78"/>
<circle cx="628.7" cy="289" r="1.6" fill="#4152b6"/>
<circle cx="645" cy="183.7" r="1.6" fill="#8e40b0"/>
<circle cx="630.6" cy="275.2" r="1.6" fill="#4152b6"/>
<circle cx="639.3" cy="213" r="1.6" fill="#8e40b0"/>
<circle cx="631.5" cy="272.7" r="1.6" fill="#4152b6"/>
<circle cx="634.7" cy="266.3" r="1.6" fill="#4152b6"/>
<circle cx="632.5" cy="259.5" r="1.6" fill="#4152b6"/>
<circle cx="640.8" cy="202.3" r="1.6" fill="#8e40b0"/>
<circle cx="640.6" cy="182.6" r="1.6" fill="#8e40b0"/>
<circle cx="637.1" cy="243.5" r="1.6" fill="#4152b6"/>
<circle cx="644" cy="183.8" r="1.6" fill="#8e40b0"/>
<circle cx="639.7" cy="181.7" r="1.6" fill="#c63aa0"/>
<circle cx="631.9" cy="275.4" r="1.6" fill="#4152b6"/>
<circle cx="642.6" cy="226.3" r="1.6" fill="#8e40b0"/>
<circle cx="639.5" cy="194.1" r="1.6" fill="#dc3a78"/>
<circle cx="643.1" cy="200.7" r="1.6" fill="#8e40b0"/>
<circle cx="640.4" cy="189" r="1.6" fill="#dc3a78"/>
<circle cx="634.6" cy="270.5" r="1.6" fill="#4152b6"/>
<circle cx="637.5" cy="258.3" r="1.6" fill="#4152b6"/>
<circle cx="637.2" cy="216.2" r="1.6" fill="#8e40b0"/>
<circle cx="640.9" cy="188" r="1.6" fill="#dc3a78"/>
<circle cx="635.1" cy="287.1" r="1.6" fill="#4152b6"/>
<circle cx="640.6" cy="202.7" r="1.6" fill="#8e40b0"/>
<circle cx="637.2" cy="260.1" r="1.6" fill="#4152b6"/>
<circle cx="631.7" cy="262.2" r="1.6" fill="#4152b6"/>
<circle cx="638.3" cy="236" r="1.6" fill="#4152b6"/>
<circle cx="635.4" cy="209.7" r="1.6" fill="#c63aa0"/>
<circle cx="638.8" cy="223.4" r="1.6" fill="#dc3a78"/>
<circle cx="635.5" cy="236.7" r="1.6" fill="#8e40b0"/>
<circle cx="635.2" cy="255.8" r="1.6" fill="#4152b6"/>
<circle cx="643.6" cy="188.2" r="1.6" fill="#dc3a78"/>
<circle cx="632.1" cy="245.6" r="1.6" fill="#8e40b0"/>
<circle cx="632.2" cy="253" r="1.6" fill="#4152b6"/>
<circle cx="633.8" cy="271.9" r="1.6" fill="#4152b6"/>
<circle cx="643.8" cy="194.7" r="1.6" fill="#dc3a78"/>
<circle cx="632.3" cy="275.1" r="1.6" fill="#4152b6"/>
<circle cx="638.3" cy="228.8" r="1.6" fill="#dc3a78"/>
<circle cx="636.7" cy="222.6" r="1.6" fill="#dc3a78"/>
<circle cx="635.8" cy="262.7" r="1.6" fill="#4152b6"/>
<circle cx="631.6" cy="272.9" r="1.6" fill="#4152b6"/>
<circle cx="643" cy="184.8" r="1.6" fill="#8e40b0"/>
<circle cx="635.8" cy="266.3" r="1.6" fill="#4152b6"/>
<circle cx="638.8" cy="234.8" r="1.6" fill="#8e40b0"/>
<circle cx="629.9" cy="284.3" r="1.6" fill="#4152b6"/>
<circle cx="629.9" cy="257.6" r="1.6" fill="#4152b6"/>
<circle cx="638.7" cy="213.1" r="1.6" fill="#8e40b0"/>
<circle cx="641" cy="219.8" r="1.6" fill="#dc3a78"/>
<circle cx="634.5" cy="217.6" r="1.6" fill="#c63aa0"/>
<circle cx="636.7" cy="235.1" r="1.6" fill="#4152b6"/>
<circle cx="640.5" cy="182.4" r="1.6" fill="#c63aa0"/>
<circle cx="634.2" cy="210.4" r="1.6" fill="#dc3a78"/>
<circle cx="635.9" cy="237.2" r="1.6" fill="#4152b6"/>
<circle cx="638.3" cy="212.6" r="1.6" fill="#c63aa0"/>
<circle cx="638" cy="234.7" r="1.6" fill="#8e40b0"/>
<circle cx="643" cy="188.1" r="1.6" fill="#8e40b0"/>
<circle cx="631.2" cy="279.8" r="1.6" fill="#4152b6"/>
<circle cx="639.3" cy="243.7" r="1.6" fill="#8e40b0"/>
<circle cx="634.3" cy="255.2" r="1.6" fill="#4152b6"/>
<circle cx="637.1" cy="249" r="1.6" fill="#4152b6"/>
<circle cx="633" cy="264.2" r="1.6" fill="#4152b6"/>
<circle cx="633.2" cy="248.7" r="1.6" fill="#4152b6"/>
<circle cx="635.7" cy="263.8" r="1.6" fill="#4152b6"/>
<circle cx="644.2" cy="188.1" r="1.6" fill="#c63aa0"/>
<circle cx="642.1" cy="240.7" r="1.6" fill="#4152b6"/>
<circle cx="639.6" cy="187.8" r="1.6" fill="#dc3a78"/>
<circle cx="642.9" cy="201.4" r="1.6" fill="#dc3a78"/>
<circle cx="631.1" cy="278.1" r="1.6" fill="#4152b6"/>
<circle cx="636.9" cy="206.6" r="1.6" fill="#8e40b0"/>
<circle cx="639.2" cy="184" r="1.6" fill="#dc3a78"/>
<circle cx="636.9" cy="223.5" r="1.6" fill="#8e40b0"/>
<circle cx="641.3" cy="244.4" r="1.6" fill="#8e40b0"/>
<circle cx="643.4" cy="196.5" r="1.6" fill="#c63aa0"/>
<circle cx="632.6" cy="264.6" r="1.6" fill="#4152b6"/>
<circle cx="632.8" cy="280.6" r="1.6" fill="#4152b6"/>
<circle cx="640.7" cy="195.7" r="1.6" fill="#dc3a78"/>
<circle cx="631.7" cy="265.4" r="1.6" fill="#4152b6"/>
<circle cx="636.9" cy="195.9" r="1.6" fill="#c63aa0"/>
<circle cx="637.1" cy="213.5" r="1.6" fill="#8e40b0"/>
<circle cx="639.2" cy="262.6" r="1.6" fill="#4152b6"/>
<circle cx="642.9" cy="193.7" r="1.6" fill="#8e40b0"/>
<circle cx="640.7" cy="227.1" r="1.6" fill="#8e40b0"/>
<circle cx="626.6" cy="290.9" r="1.6" fill="#4152b6"/>
<circle cx="630" cy="267.6" r="1.6" fill="#4152b6"/>
<circle cx="634.4" cy="278.4" r="1.6" fill="#4152b6"/>
<circle cx="631" cy="276.4" r="1.6" fill="#4152b6"/>
<circle cx="630.1" cy="259" r="1.6" fill="#4152b6"/>
<circle cx="642.5" cy="200.3" r="1.6" fill="#c63aa0"/>
<circle cx="640.3" cy="223.9" r="1.6" fill="#8e40b0"/>
<circle cx="635.1" cy="285.1" r="1.6" fill="#4152b6"/>
<circle cx="630.9" cy="270.5" r="1.6" fill="#4152b6"/>
<circle cx="630.3" cy="292.4" r="1.6" fill="#4152b6"/>
<circle cx="632" cy="269.4" r="1.6" fill="#4152b6"/>
<circle cx="637.9" cy="223.9" r="1.6" fill="#c63aa0"/>
<circle cx="634.3" cy="269.1" r="1.6" fill="#4152b6"/>
<circle cx="633.6" cy="223.3" r="1.6" fill="#dc3a78"/>
<circle cx="639.1" cy="188" r="1.6" fill="#c63aa0"/>
<circle cx="629.1" cy="285.8" r="1.6" fill="#4152b6"/>
<circle cx="641.5" cy="206.3" r="1.6" fill="#8e40b0"/>
<circle cx="642" cy="230.1" r="1.6" fill="#8e40b0"/>
<circle cx="633.6" cy="258.5" r="1.6" fill="#4152b6"/>
<circle cx="636.7" cy="236.8" r="1.6" fill="#8e40b0"/>
<circle cx="638.5" cy="215.2" r="1.6" fill="#c63aa0"/>
<circle cx="637.9" cy="233.1" r="1.6" fill="#8e40b0"/>
<circle cx="643.9" cy="205.9" r="1.6" fill="#8e40b0"/>
<circle cx="640.9" cy="196.8" r="1.6" fill="#c63aa0"/>
<circle cx="632.7" cy="264.9" r="1.6" fill="#4152b6"/>
<circle cx="632.8" cy="236.5" r="1.6" fill="#8e40b0"/>
<circle cx="634.7" cy="259.4" r="1.6" fill="#4152b6"/>
<circle cx="641" cy="218.8" r="1.6" fill="#c63aa0"/>
<circle cx="639.7" cy="229.5" r="1.6" fill="#8e40b0"/>
<circle cx="632.6" cy="278.7" r="1.6" fill="#4152b6"/>
<circle cx="634.9" cy="274.2" r="1.6" fill="#4152b6"/>
<circle cx="641.3" cy="214.7" r="1.6" fill="#a8389f"/>
<circle cx="634.5" cy="221.4" r="1.6" fill="#8e40b0"/>
<circle cx="635.2" cy="213.5" r="1.6" fill="#a8389f"/>
<circle cx="644.3" cy="215" r="1.6" fill="#a8389f"/>
<circle cx="636.8" cy="217.9" r="1.6" fill="#a8389f"/>
<circle cx="637.4" cy="217.7" r="1.6" fill="#8e40b0"/>
<circle cx="644.9" cy="215.5" r="1.6" fill="#c63aa0"/>
<circle cx="637.6" cy="214.6" r="1.6" fill="#a8389f"/>
<circle cx="640.6" cy="223.4" r="1.6" fill="#a8389f"/>
<circle cx="645.6" cy="219.7" r="1.6" fill="#8e40b0"/>
<circle cx="636.1" cy="213.8" r="1.6" fill="#8e40b0"/>
<circle cx="634.4" cy="213.6" r="1.6" fill="#8e40b0"/>
<circle cx="638.9" cy="213.3" r="1.6" fill="#c63aa0"/>
<circle cx="637.9" cy="214.9" r="1.6" fill="#a8389f"/>
<circle cx="642.9" cy="217.2" r="1.6" fill="#a8389f"/>
<circle cx="642.8" cy="217.2" r="1.6" fill="#8e40b0"/>
<circle cx="642" cy="218.3" r="1.6" fill="#c63aa0"/>
<circle cx="637.5" cy="218" r="1.6" fill="#8e40b0"/>
<circle cx="639.4" cy="213.4" r="1.6" fill="#a8389f"/>
<circle cx="639.5" cy="210.1" r="1.6" fill="#a8389f"/>
<circle cx="638" cy="218.6" r="1.6" fill="#a8389f"/>
<circle cx="636.1" cy="211.4" r="1.6" fill="#a8389f"/>
<circle cx="633.8" cy="215.1" r="1.6" fill="#a8389f"/>
<circle cx="633.8" cy="214.3" r="1.6" fill="#a8389f"/>
<circle cx="636.9" cy="224.1" r="1.6" fill="#a8389f"/>
<circle cx="641.6" cy="214.5" r="1.6" fill="#a8389f"/>
<circle cx="642.7" cy="218.1" r="1.6" fill="#a8389f"/>
<circle cx="641.1" cy="219" r="1.6" fill="#a8389f"/>
<circle cx="635.6" cy="220.4" r="1.6" fill="#a8389f"/>
<circle cx="640.8" cy="213.7" r="1.6" fill="#c63aa0"/>
<circle cx="632.2" cy="217.6" r="1.6" fill="#a8389f"/>
<circle cx="641.7" cy="215.1" r="1.6" fill="#8e40b0"/>
<circle cx="633.2" cy="220.3" r="1.6" fill="#a8389f"/>
<circle cx="638.1" cy="211.4" r="1.6" fill="#8e40b0"/>
<circle cx="636.5" cy="218" r="1.6" fill="#c63aa0"/>
<circle cx="646" cy="216.7" r="1.6" fill="#a8389f"/>
<circle cx="638.8" cy="220.8" r="1.6" fill="#c63aa0"/>
<circle cx="642.2" cy="212.7" r="1.6" fill="#a8389f"/>
<circle cx="643.4" cy="215.7" r="1.6" fill="#c63aa0"/>
<circle cx="635.1" cy="217.8" r="1.6" fill="#a8389f"/>
<circle cx="639.2" cy="218.5" r="1.6" fill="#a8389f"/>
<circle cx="642.3" cy="211.6" r="1.6" fill="#a8389f"/>
<circle cx="633.8" cy="218.3" r="1.6" fill="#a8389f"/>
<circle cx="643.1" cy="218.9" r="1.6" fill="#a8389f"/>
<circle cx="636.1" cy="218.5" r="1.6" fill="#8e40b0"/>
<circle cx="634.7" cy="217.1" r="1.6" fill="#c63aa0"/>
<circle cx="636.4" cy="223" r="1.6" fill="#a8389f"/>
<circle cx="636.3" cy="216.6" r="1.6" fill="#a8389f"/>
<circle cx="635.3" cy="213.3" r="1.6" fill="#a8389f"/>
<circle cx="635.4" cy="212.5" r="1.6" fill="#a8389f"/>
<circle cx="646.1" cy="216.9" r="1.6" fill="#8e40b0"/>
<circle cx="642.3" cy="221.5" r="1.6" fill="#a8389f"/>
<circle cx="632.8" cy="219.6" r="1.6" fill="#8e40b0"/>
<circle cx="643.4" cy="215.3" r="1.6" fill="#c63aa0"/>
<circle cx="639.7" cy="214.3" r="1.6" fill="#a8389f"/>
<circle cx="638.9" cy="210.1" r="1.6" fill="#a8389f"/>
<circle cx="640.8" cy="213.1" r="1.6" fill="#a8389f"/>
<circle cx="633.6" cy="213.3" r="1.6" fill="#8e40b0"/>
<circle cx="635.2" cy="212.8" r="1.6" fill="#c63aa0"/>
<circle cx="643.7" cy="215.1" r="1.6" fill="#c63aa0"/>
<circle cx="638.6" cy="215.2" r="1.6" fill="#8e40b0"/>
<circle cx="641.8" cy="216.8" r="1.6" fill="#a8389f"/>
<circle cx="643.8" cy="217.2" r="1.6" fill="#a8389f"/>
<circle cx="644.2" cy="212.3" r="1.6" fill="#a8389f"/>
<circle cx="637.9" cy="219.6" r="1.6" fill="#a8389f"/>
<circle cx="635.9" cy="215.3" r="1.6" fill="#a8389f"/>
<circle cx="640.5" cy="222.8" r="1.6" fill="#c63aa0"/>
<circle cx="644.8" cy="215.9" r="1.6" fill="#c63aa0"/>
<circle cx="636" cy="221.5" r="1.6" fill="#8e40b0"/>
<circle cx="639.6" cy="218.5" r="1.6" fill="#a8389f"/>
<circle cx="617.6" cy="231.4" r="1.6" fill="#4152b6"/>
<circle cx="621.9" cy="246.9" r="1.6" fill="#4152b6"/>
<circle cx="618.5" cy="233.3" r="1.6" fill="#4152b6"/>
<circle cx="622.8" cy="271.4" r="1.6" fill="#4152b6"/>
<circle cx="619.4" cy="235" r="1.6" fill="#4152b6"/>
<circle cx="621" cy="260.1" r="1.6" fill="#4152b6"/>
<circle cx="620.4" cy="247.6" r="1.6" fill="#4152b6"/>
<circle cx="619.9" cy="242.9" r="1.6" fill="#4152b6"/>
<circle cx="628.8" cy="284" r="1.6" fill="#4152b6"/>
<circle cx="623.1" cy="268.3" r="1.6" fill="#4152b6"/>
<circle cx="624.2" cy="269.5" r="1.6" fill="#4152b6"/>
<circle cx="625.6" cy="275.7" r="1.6" fill="#4152b6"/>
<circle cx="617.5" cy="246.6" r="1.6" fill="#4152b6"/>
<circle cx="625.4" cy="279.3" r="1.6" fill="#4152b6"/>
<circle cx="622.5" cy="231.3" r="1.6" fill="#4152b6"/>
<circle cx="625" cy="270.4" r="1.6" fill="#4152b6"/>
<circle cx="626.6" cy="276.4" r="1.6" fill="#4152b6"/>
<circle cx="621" cy="259.6" r="1.6" fill="#4152b6"/>
<circle cx="620.9" cy="238" r="1.6" fill="#4152b6"/>
<circle cx="616.6" cy="237.2" r="1.6" fill="#4152b6"/>
<circle cx="615.5" cy="240.2" r="1.6" fill="#4152b6"/>
<circle cx="625.6" cy="289.9" r="1.6" fill="#4152b6"/>
<circle cx="623.1" cy="264.2" r="1.6" fill="#4152b6"/>
<circle cx="620.1" cy="254.8" r="1.6" fill="#4152b6"/>
<circle cx="625.4" cy="287.8" r="1.6" fill="#4152b6"/>
<circle cx="617" cy="230" r="1.6" fill="#4152b6"/>
<circle cx="621.1" cy="232.1" r="1.6" fill="#4152b6"/>
<circle cx="626" cy="281.4" r="1.6" fill="#4152b6"/>
<circle cx="614.8" cy="238.5" r="1.6" fill="#4152b6"/>
<circle cx="615" cy="234.9" r="1.6" fill="#4152b6"/>
<circle cx="623.1" cy="197.8" r="1.6" fill="#4152b6"/>
<circle cx="630.5" cy="198.6" r="1.6" fill="#5a45b4"/>
<circle cx="626.4" cy="198.9" r="1.6" fill="#4152b6"/>
<circle cx="623.5" cy="197.4" r="1.6" fill="#4152b6"/>
<circle cx="626.7" cy="200.5" r="1.6" fill="#5a45b4"/>
<circle cx="626.1" cy="199" r="1.6" fill="#5a45b4"/>
<circle cx="628" cy="199.4" r="1.6" fill="#5a45b4"/>
<circle cx="626.6" cy="195.5" r="1.6" fill="#8e40b0"/>
<circle cx="629.5" cy="199.9" r="1.6" fill="#5a45b4"/>
<circle cx="625.8" cy="200.3" r="1.6" fill="#5a45b4"/>
<circle cx="627.4" cy="203.5" r="1.6" fill="#8e40b0"/>
<circle cx="626" cy="195.2" r="1.6" fill="#5a45b4"/>
<circle cx="624.9" cy="198.7" r="1.6" fill="#4152b6"/>
<circle cx="621.5" cy="199.3" r="1.6" fill="#5a45b4"/>
<circle cx="627.2" cy="201.7" r="1.6" fill="#5a45b4"/>
<circle cx="625.4" cy="195.1" r="1.6" fill="#4152b6"/>
<circle cx="624.2" cy="197.3" r="1.6" fill="#8e40b0"/>
<circle cx="629.1" cy="196.9" r="1.6" fill="#4152b6"/>
<circle cx="617.7" cy="203.1" r="1.6" fill="#5a45b4"/>
<circle cx="615.9" cy="210.1" r="1.6" fill="#8e40b0"/>
<circle cx="626.5" cy="211.6" r="1.6" fill="#5a45b4"/>
<circle cx="622.4" cy="207" r="1.6" fill="#8e40b0"/>
<circle cx="623.8" cy="209.9" r="1.6" fill="#5a45b4"/>
<circle cx="621.9" cy="206.1" r="1.6" fill="#5a45b4"/>
<circle cx="619.8" cy="208" r="1.6" fill="#4152b6"/>
<circle cx="619.9" cy="209.5" r="1.6" fill="#5a45b4"/>
<circle cx="623.3" cy="211" r="1.6" fill="#8e40b0"/>
<circle cx="618.5" cy="210.4" r="1.6" fill="#5a45b4"/>
<circle cx="620.7" cy="209.2" r="1.6" fill="#4152b6"/>
<circle cx="621.2" cy="206.1" r="1.6" fill="#4152b6"/>
<circle cx="619.2" cy="204.7" r="1.6" fill="#4152b6"/>
<circle cx="616.4" cy="203.8" r="1.6" fill="#5a45b4"/>
<circle cx="626.1" cy="208.4" r="1.6" fill="#5a45b4"/>
<circle cx="617.7" cy="209.1" r="1.6" fill="#5a45b4"/>
<circle cx="617.2" cy="207" r="1.6" fill="#4152b6"/>
<circle cx="623.3" cy="207.8" r="1.6" fill="#8e40b0"/>
<circle cx="665.9" cy="204.5" r="1.6" fill="#4152b6"/>
<circle cx="668.3" cy="205.7" r="1.6" fill="#8e40b0"/>
<circle cx="666" cy="211.1" r="1.6" fill="#8e40b0"/>
<circle cx="677.7" cy="207.4" r="1.6" fill="#8e40b0"/>
<circle cx="670.8" cy="202.5" r="1.6" fill="#5a45b4"/>
<circle cx="670" cy="206.9" r="1.6" fill="#8e40b0"/>
<circle cx="670" cy="207.6" r="1.6" fill="#4152b6"/>
<circle cx="671" cy="207.4" r="1.6" fill="#4152b6"/>
<circle cx="671.3" cy="206.6" r="1.6" fill="#4152b6"/>
<circle cx="668.3" cy="208.2" r="1.6" fill="#5a45b4"/>
<circle cx="665.1" cy="210.2" r="1.6" fill="#4152b6"/>
<circle cx="673" cy="208.9" r="1.6" fill="#4152b6"/>
<circle cx="671.7" cy="209.6" r="1.6" fill="#5a45b4"/>
<circle cx="666.3" cy="211.3" r="1.6" fill="#4152b6"/>
<circle cx="668.1" cy="206.5" r="1.6" fill="#4152b6"/>
<circle cx="675.6" cy="208.8" r="1.6" fill="#5a45b4"/>
<circle cx="672.2" cy="208.4" r="1.6" fill="#8e40b0"/>
<circle cx="673.6" cy="208" r="1.6" fill="#8e40b0"/>
<circle cx="671.4" cy="203.5" r="1.6" fill="#8e40b0"/>
<circle cx="669.4" cy="205.9" r="1.6" fill="#4152b6"/>
<circle cx="669.8" cy="208.2" r="1.6" fill="#5a45b4"/>
<circle cx="672.1" cy="209.6" r="1.6" fill="#4152b6"/>
<circle cx="672.6" cy="205.6" r="1.6" fill="#4152b6"/>
<circle cx="663.8" cy="206.4" r="1.6" fill="#4152b6"/>
<circle cx="665.9" cy="152.7" r="1.6" fill="#4152b6"/>
<circle cx="662.1" cy="152.7" r="1.6" fill="#8e40b0"/>
<circle cx="662.1" cy="154.5" r="1.6" fill="#8e40b0"/>
<circle cx="668" cy="152" r="1.6" fill="#8e40b0"/>
<circle cx="665.9" cy="157.6" r="1.6" fill="#4152b6"/>
<circle cx="663.7" cy="154.8" r="1.6" fill="#5a45b4"/>
<circle cx="671.2" cy="154.8" r="1.6" fill="#8e40b0"/>
<circle cx="670.2" cy="152" r="1.6" fill="#8e40b0"/>
<circle cx="666.7" cy="152.4" r="1.6" fill="#5a45b4"/>
<circle cx="665.1" cy="153.7" r="1.6" fill="#5a45b4"/>
<circle cx="663.8" cy="150" r="1.6" fill="#5a45b4"/>
<circle cx="669.4" cy="148.7" r="1.6" fill="#5a45b4"/>
<circle cx="670" cy="148.8" r="1.6" fill="#8e40b0"/>
<circle cx="666.7" cy="154.5" r="1.6" fill="#4152b6"/>
<circle cx="662.5" cy="155.8" r="1.6" fill="#8e40b0"/>
<circle cx="665.9" cy="151.2" r="1.6" fill="#5a45b4"/>
<circle cx="667.3" cy="159.3" r="1.6" fill="#5a45b4"/>
<circle cx="669.4" cy="148.3" r="1.6" fill="#8e40b0"/>
<circle cx="663.7" cy="155.3" r="1.6" fill="#8e40b0"/>
<circle cx="666" cy="151.8" r="1.6" fill="#4152b6"/>
<circle cx="664.5" cy="156" r="1.6" fill="#5a45b4"/>
<circle cx="668.5" cy="156.9" r="1.6" fill="#8e40b0"/>
<circle cx="643.1" cy="179.9" r="1.6" fill="#e02a36"/>
<circle cx="639.8" cy="191" r="1.6" fill="#e0305e"/>
<circle cx="647.9" cy="191.5" r="1.6" fill="#e0305e"/>
<circle cx="646.3" cy="180.1" r="1.6" fill="#e02a36"/>
<circle cx="635.6" cy="187.4" r="1.6" fill="#e02a36"/>
<circle cx="641.2" cy="184.9" r="1.6" fill="#e02a36"/>
<circle cx="636.9" cy="188.5" r="1.6" fill="#e02a36"/>
<circle cx="635.9" cy="178.5" r="1.6" fill="#e02a36"/>
<circle cx="640.7" cy="180.1" r="1.6" fill="#e0305e"/>
<circle cx="643.2" cy="191.8" r="1.6" fill="#e02a36"/>
<circle cx="635.3" cy="190.5" r="1.6" fill="#e02a36"/>
<circle cx="651" cy="181.2" r="1.6" fill="#e02a36"/>
<circle cx="645.8" cy="180.9" r="1.6" fill="#e02a36"/>
<circle cx="637.3" cy="180.1" r="1.6" fill="#e02a36"/>
<circle cx="642.4" cy="193.4" r="1.6" fill="#e02a36"/>
<circle cx="649.9" cy="190.6" r="1.6" fill="#e02a36"/>
<circle cx="641.4" cy="174.7" r="1.6" fill="#e02a36"/>
<circle cx="650.5" cy="187.5" r="1.6" fill="#e02a36"/>
<circle cx="641.1" cy="179.7" r="1.6" fill="#e02a36"/>
<circle cx="640.1" cy="175.2" r="1.6" fill="#e0305e"/>
<circle cx="650.3" cy="180.5" r="1.6" fill="#e02a36"/>
<circle cx="649.2" cy="185.1" r="1.6" fill="#e0305e"/>
<circle cx="648.5" cy="187.6" r="1.6" fill="#e02a36"/>
<circle cx="641.8" cy="178.6" r="1.6" fill="#e0305e"/>
<circle cx="648.7" cy="188.9" r="1.6" fill="#e02a36"/>
<circle cx="637.4" cy="176.1" r="1.6" fill="#e02a36"/>
<circle cx="650.8" cy="188.8" r="1.6" fill="#e02a36"/>
<circle cx="635.5" cy="186" r="1.6" fill="#e0305e"/>
<circle cx="642.8" cy="175.8" r="1.6" fill="#e0305e"/>
<circle cx="634.5" cy="182.2" r="1.6" fill="#e0305e"/>
<circle cx="637.8" cy="178.8" r="1.6" fill="#e02a36"/>
<circle cx="644.7" cy="173.8" r="1.6" fill="#e02a36"/>
<circle cx="640.5" cy="186.7" r="1.6" fill="#e02a36"/>
<circle cx="645.9" cy="174.9" r="1.6" fill="#e0305e"/>
<circle cx="642.2" cy="181.1" r="1.6" fill="#e02a36"/>
<circle cx="640.4" cy="178.7" r="1.6" fill="#e02a36"/>
<circle cx="647.2" cy="175.5" r="1.6" fill="#e02a36"/>
<circle cx="646.4" cy="185.4" r="1.6" fill="#e0305e"/>
<circle cx="646.1" cy="177.1" r="1.6" fill="#e02a36"/>
<circle cx="644.5" cy="180.5" r="1.6" fill="#e02a36"/>
<circle cx="648.8" cy="189.6" r="1.6" fill="#e02a36"/>
<circle cx="646" cy="191.8" r="1.6" fill="#e02a36"/>
<circle cx="646.6" cy="187.2" r="1.6" fill="#e0305e"/>
<circle cx="643.7" cy="183.5" r="1.6" fill="#e02a36"/>
<circle cx="646.8" cy="185.4" r="1.6" fill="#e02a36"/>
<circle cx="638.5" cy="192.2" r="1.6" fill="#e02a36"/>
<circle cx="635.1" cy="184.2" r="1.6" fill="#e02a36"/>
<circle cx="634.5" cy="178.8" r="1.6" fill="#e02a36"/>
<circle cx="642.3" cy="177.6" r="1.6" fill="#e0305e"/>
<circle cx="638.7" cy="187.6" r="1.6" fill="#e02a36"/>
<circle cx="634.9" cy="186.7" r="1.6" fill="#e02a36"/>
<circle cx="636.8" cy="186.5" r="1.6" fill="#e02a36"/>
<circle cx="638.8" cy="189.4" r="1.6" fill="#e02a36"/>
<circle cx="648.4" cy="175.1" r="1.6" fill="#e0305e"/>
<circle cx="649.2" cy="185.9" r="1.6" fill="#e0305e"/>
<circle cx="637.8" cy="187" r="1.6" fill="#e0305e"/>
<circle cx="649.8" cy="181.3" r="1.6" fill="#e02a36"/>
<circle cx="642.4" cy="183.2" r="1.6" fill="#e02a36"/>
<circle cx="637.2" cy="188.3" r="1.6" fill="#e02a36"/>
<circle cx="646.4" cy="175.4" r="1.6" fill="#e02a36"/>
<circle cx="641.9" cy="175.6" r="1.6" fill="#e02a36"/>
<circle cx="640" cy="184.6" r="1.6" fill="#e02a36"/>
<circle cx="642.7" cy="184.3" r="1.6" fill="#e02a36"/>
<circle cx="632.6" cy="181.3" r="1.6" fill="#e02a36"/>
<circle cx="638.9" cy="178.9" r="1.6" fill="#e0305e"/>
<circle cx="651" cy="185.6" r="1.6" fill="#e02a36"/>
<circle cx="650.4" cy="186.6" r="1.6" fill="#e02a36"/>
<circle cx="640.8" cy="186.6" r="1.6" fill="#e02a36"/>
<circle cx="633.1" cy="180.3" r="1.6" fill="#e02a36"/>
<circle cx="635.5" cy="176.9" r="1.6" fill="#e02a36"/>
<circle cx="640.2" cy="181.5" r="1.6" fill="#e02a36"/>
<circle cx="644.2" cy="192.8" r="1.6" fill="#e0305e"/>
<circle cx="637.1" cy="179.3" r="1.6" fill="#e02a36"/>
<circle cx="637.1" cy="185.2" r="1.6" fill="#e0305e"/>
<circle cx="638.6" cy="185" r="1.6" fill="#e02a36"/>
<circle cx="648.1" cy="179.1" r="1.6" fill="#e0305e"/>
<circle cx="651.3" cy="188" r="1.6" fill="#e02a36"/>
<circle cx="637.5" cy="180.9" r="1.6" fill="#e02a36"/>
<circle cx="635.2" cy="183.2" r="1.6" fill="#e02a36"/>
<circle cx="636.1" cy="189.9" r="1.6" fill="#e02a36"/>
<circle cx="651" cy="184.5" r="1.6" fill="#e02a36"/>
<circle cx="641.7" cy="181.4" r="1.6" fill="#e02a36"/>
<circle cx="641.4" cy="192.8" r="1.6" fill="#e0305e"/>
<circle cx="647.3" cy="183.5" r="1.6" fill="#e02a36"/>
<circle cx="641.4" cy="188.8" r="1.6" fill="#e02a36"/>
<circle cx="637.7" cy="186.9" r="1.6" fill="#e02a36"/>
<circle cx="635.8" cy="190.5" r="1.6" fill="#e0305e"/>
<circle cx="649.8" cy="183.2" r="1.6" fill="#e02a36"/>
<circle cx="638" cy="177.1" r="1.6" fill="#e0305e"/>
<circle cx="645.7" cy="181.2" r="1.6" fill="#e02a36"/>
<circle cx="641.2" cy="186.6" r="1.6" fill="#e02a36"/>
<circle cx="634.1" cy="182.7" r="1.6" fill="#e02a36"/>
<circle cx="644.3" cy="182.2" r="1.6" fill="#e02a36"/>
<circle cx="645.8" cy="177.3" r="1.6" fill="#e0305e"/>
<circle cx="634.5" cy="186.8" r="1.6" fill="#e02a36"/>
<circle cx="647.8" cy="191.7" r="1.6" fill="#e0305e"/>
<circle cx="643.6" cy="189.4" r="1.6" fill="#e02a36"/>
<circle cx="645.4" cy="174.6" r="1.6" fill="#e02a36"/>
<circle cx="647.9" cy="175.8" r="1.6" fill="#e02a36"/>
<circle cx="638.3" cy="176.7" r="1.6" fill="#e0305e"/>
<circle cx="649.2" cy="177.8" r="1.6" fill="#e02a36"/>
<circle cx="650.8" cy="183.3" r="1.6" fill="#e0305e"/>
<circle cx="639.4" cy="191.4" r="1.6" fill="#e02a36"/>
<circle cx="637.4" cy="187.7" r="1.6" fill="#e02a36"/>
<circle cx="646.8" cy="192.2" r="1.6" fill="#e02a36"/>
<circle cx="650.3" cy="189.8" r="1.6" fill="#e0305e"/>
<circle cx="649.7" cy="187.9" r="1.6" fill="#e02a36"/>
<circle cx="632.9" cy="182.1" r="1.6" fill="#e02a36"/>
<circle cx="636.1" cy="179.8" r="1.6" fill="#e02a36"/>
<circle cx="640.5" cy="189.1" r="1.6" fill="#e02a36"/>
<circle cx="638.4" cy="189.1" r="1.6" fill="#e02a36"/>
<circle cx="647.4" cy="175.8" r="1.6" fill="#e0305e"/>
<circle cx="650.5" cy="186.1" r="1.6" fill="#e02a36"/>
<circle cx="635.3" cy="183.7" r="1.6" fill="#e0305e"/>
<circle cx="640.6" cy="179.4" r="1.6" fill="#e02a36"/>
<circle cx="645.6" cy="187.8" r="1.6" fill="#e02a36"/>
<circle cx="639" cy="176.9" r="1.6" fill="#e0305e"/>
<circle cx="641.3" cy="176.8" r="1.6" fill="#e02a36"/>
<circle cx="639.3" cy="190.9" r="1.6" fill="#e02a36"/>
<circle cx="643.5" cy="176.3" r="1.6" fill="#e02a36"/>
<circle cx="640.9" cy="184.7" r="1.6" fill="#e02a36"/>
<circle cx="648.8" cy="178.4" r="1.6" fill="#e02a36"/>
<circle cx="641" cy="190.3" r="1.6" fill="#e02a36"/>
<circle cx="638.2" cy="176.9" r="1.6" fill="#e0305e"/>
<circle cx="642" cy="175.7" r="1.6" fill="#e02a36"/>
<circle cx="649.7" cy="183.1" r="1.6" fill="#e02a36"/>
<circle cx="635.7" cy="188.2" r="1.6" fill="#e02a36"/>
<circle cx="635.7" cy="177.9" r="1.6" fill="#e02a36"/>
<circle cx="645.7" cy="188.8" r="1.6" fill="#e02a36"/>
<circle cx="647.4" cy="178.9" r="1.6" fill="#e02a36"/>
<circle cx="647.4" cy="176.6" r="1.6" fill="#e02a36"/>
<circle cx="642.5" cy="174.6" r="1.6" fill="#e02a36"/>
<circle cx="643" cy="178.3" r="1.6" fill="#e02a36"/>
<circle cx="642.8" cy="193.4" r="1.6" fill="#e02a36"/>
<circle cx="642.6" cy="177.9" r="1.6" fill="#e02a36"/>
<circle cx="644.5" cy="173.7" r="1.6" fill="#e0305e"/>
<circle cx="641.2" cy="189.2" r="1.6" fill="#e02a36"/>
<circle cx="642.2" cy="182.1" r="1.6" fill="#e02a36"/>
<circle cx="640.5" cy="183.3" r="1.6" fill="#e02a36"/>
<circle cx="647.3" cy="188" r="1.6" fill="#e02a36"/>
<circle cx="640.3" cy="185.9" r="1.6" fill="#e02a36"/>
<circle cx="646.9" cy="191.1" r="1.6" fill="#e02a36"/>
<circle cx="650.4" cy="185.7" r="1.6" fill="#e02a36"/>
<circle cx="644" cy="177.8" r="1.6" fill="#e02a36"/>
<circle cx="641.6" cy="177.1" r="1.6" fill="#e02a36"/>
<circle cx="638.3" cy="183.4" r="1.6" fill="#e0305e"/>
<circle cx="639.4" cy="176.5" r="1.6" fill="#e02a36"/>
<circle cx="634.1" cy="179.6" r="1.6" fill="#e02a36"/>
<circle cx="642.6" cy="175.1" r="1.6" fill="#e02a36"/>
<circle cx="642.4" cy="184.5" r="1.6" fill="#e0305e"/>
<circle cx="640.3" cy="187.2" r="1.6" fill="#e02a36"/>
<circle cx="639.9" cy="177.6" r="1.6" fill="#e02a36"/>
<circle cx="645.1" cy="176" r="1.6" fill="#e02a36"/>
<circle cx="647.7" cy="184.6" r="1.6" fill="#e02a36"/>
<circle cx="648" cy="176.4" r="1.6" fill="#e0305e"/>
<circle cx="641.9" cy="175.8" r="1.6" fill="#e02a36"/>
<circle cx="645" cy="188.6" r="1.6" fill="#e02a36"/>
<circle cx="641.5" cy="176.8" r="1.6" fill="#e02a36"/>
<circle cx="644.3" cy="179.8" r="1.6" fill="#e02a36"/>
<circle cx="634.7" cy="185.1" r="1.6" fill="#e02a36"/>
<circle cx="650.5" cy="189.8" r="1.6" fill="#e0305e"/>
<circle cx="637.5" cy="174.8" r="1.6" fill="#e02a36"/>
<circle cx="647.8" cy="190" r="1.6" fill="#e02a36"/>
<circle cx="633.2" cy="182.5" r="1.6" fill="#e02a36"/>
<circle cx="641.9" cy="176.9" r="1.6" fill="#e02a36"/>
<circle cx="649.8" cy="181.2" r="1.6" fill="#e02a36"/>
<circle cx="652.4" cy="180.7" r="1.6" fill="#e02a36"/>
<circle cx="644.5" cy="183" r="1.6" fill="#e02a36"/>
<circle cx="640.2" cy="180.5" r="1.6" fill="#e02a36"/>
<circle cx="649.3" cy="186.7" r="1.6" fill="#e02a36"/>
<circle cx="651.6" cy="179.5" r="1.6" fill="#e02a36"/>
<circle cx="646" cy="185" r="1.6" fill="#e02a36"/>
<circle cx="636" cy="188.4" r="1.6" fill="#e0305e"/>
<circle cx="642.1" cy="187" r="1.6" fill="#e0305e"/>
<circle cx="645.2" cy="175.4" r="1.6" fill="#e02a36"/>
<circle cx="640.7" cy="188.8" r="1.6" fill="#e02a36"/>
<circle cx="634.5" cy="186.2" r="1.6" fill="#e02a36"/>
<circle cx="645" cy="184.6" r="1.6" fill="#e0305e"/>
<circle cx="638.3" cy="188.3" r="1.6" fill="#e0305e"/>
<circle cx="639.7" cy="177.5" r="1.6" fill="#e02a36"/>
<circle cx="640.5" cy="184.3" r="1.6" fill="#c63aa0"/>
<circle cx="640" cy="183.5" r="1.6" fill="#c63aa0"/>
<circle cx="641.8" cy="184.9" r="1.6" fill="#c63aa0"/>
<circle cx="641.3" cy="183" r="1.6" fill="#c63aa0"/>
<circle cx="642.9" cy="183.7" r="1.6" fill="#c63aa0"/>
<circle cx="645.2" cy="184" r="1.6" fill="#c63aa0"/>
<circle cx="642.4" cy="184.8" r="1.6" fill="#c63aa0"/>
<circle cx="640.1" cy="184.2" r="1.6" fill="#c63aa0"/>
<circle cx="642.1" cy="181.3" r="1.6" fill="#c63aa0"/>
<circle cx="643.3" cy="185.4" r="1.6" fill="#c63aa0"/>
<g transform="translate(1302.6,50.7) scale(0.496) translate(-35.8,-224.6)">
<line x1="35.8" y1="224.6" x2="75.6" y2="419" stroke="#a8a8a8" stroke-width="1.26"/>
<line x1="473.2" y1="177.8" x2="443.2" y2="378.8" stroke="#a8a8a8" stroke-width="1.26"/>
<line x1="473.2" y1="177.8" x2="551.3" y2="583.9" stroke="#a8a8a8" stroke-width="1.26"/>
<line x1="71.5" y1="639.7" x2="110" y2="775" stroke="#a8a8a8" stroke-width="1.26"/>
<line x1="71.5" y1="639.7" x2="551.3" y2="583.9" stroke="#a8a8a8" stroke-width="1.26"/>
<line x1="110" y1="775" x2="75.6" y2="419" stroke="#a8a8a8" stroke-width="1.26"/>
<line x1="110" y1="775" x2="504.2" y2="729.3" stroke="#a8a8a8" stroke-width="1.26"/>
<line x1="443.2" y1="378.8" x2="75.6" y2="419" stroke="#a8a8a8" stroke-width="1.26"/>
<line x1="443.2" y1="378.8" x2="504.2" y2="729.3" stroke="#a8a8a8" stroke-width="1.26"/>
<line x1="35.8" y1="224.6" x2="473.2" y2="177.8" stroke="#888" stroke-width="1.8199999999999998"/>
<line x1="35.8" y1="224.6" x2="71.5" y2="639.7" stroke="#888" stroke-width="1.68"/>
<line x1="551.3" y1="583.9" x2="504.2" y2="729.3" stroke="#a8a8a8" stroke-width="1.54"/>
<line x1="50.6" y1="223" x2="50.9" y2="227.5" stroke="#888" stroke-width="1.4"/>
<line x1="80.2" y1="219.9" x2="80.5" y2="224.4" stroke="#888" stroke-width="1.4"/>
<line x1="109.7" y1="216.7" x2="110" y2="223.7" stroke="#888" stroke-width="1.4"/>
<line x1="139.1" y1="213.5" x2="139.4" y2="218" stroke="#888" stroke-width="1.4"/>
<line x1="168.5" y1="210.4" x2="168.8" y2="214.9" stroke="#888" stroke-width="1.4"/>
<line x1="197.8" y1="207.3" x2="198.1" y2="211.8" stroke="#888" stroke-width="1.4"/>
<line x1="227" y1="204.1" x2="227.3" y2="208.6" stroke="#888" stroke-width="1.4"/>
<line x1="256.2" y1="201" x2="256.5" y2="208" stroke="#888" stroke-width="1.4"/>
<line x1="285.4" y1="197.9" x2="285.7" y2="202.4" stroke="#888" stroke-width="1.4"/>
<line x1="314.4" y1="194.8" x2="314.7" y2="199.3" stroke="#888" stroke-width="1.4"/>
<line x1="343.4" y1="191.7" x2="343.7" y2="196.2" stroke="#888" stroke-width="1.4"/>
<line x1="372.4" y1="188.6" x2="372.7" y2="193.1" stroke="#888" stroke-width="1.4"/>
<line x1="401.3" y1="185.5" x2="401.6" y2="192.5" stroke="#888" stroke-width="1.4"/>
<line x1="430.1" y1="182.4" x2="430.4" y2="186.9" stroke="#888" stroke-width="1.4"/>
<line x1="458.8" y1="179.3" x2="459.1" y2="183.8" stroke="#888" stroke-width="1.4"/>
<line x1="36.9" y1="237.2" x2="42.9" y2="236.9" stroke="#888" stroke-width="1.4"/>
<line x1="39.1" y1="262.7" x2="45.1" y2="262.4" stroke="#888" stroke-width="1.4"/>
<line x1="41.3" y1="288.5" x2="51.3" y2="288.2" stroke="#888" stroke-width="1.4"/>
<line x1="43.5" y1="314.6" x2="49.5" y2="314.3" stroke="#888" stroke-width="1.4"/>
<line x1="45.8" y1="341" x2="51.8" y2="340.7" stroke="#888" stroke-width="1.4"/>
<line x1="48.1" y1="367.7" x2="54.1" y2="367.4" stroke="#888" stroke-width="1.4"/>
<line x1="50.4" y1="394.8" x2="56.4" y2="394.5" stroke="#888" stroke-width="1.4"/>
<line x1="52.8" y1="422.3" x2="62.8" y2="422" stroke="#888" stroke-width="1.4"/>
<line x1="55.2" y1="450" x2="61.2" y2="449.7" stroke="#888" stroke-width="1.4"/>
<line x1="57.6" y1="478.2" x2="63.6" y2="477.9" stroke="#888" stroke-width="1.4"/>
<line x1="60.1" y1="506.7" x2="66.1" y2="506.4" stroke="#888" stroke-width="1.4"/>
<line x1="62.5" y1="535.6" x2="68.5" y2="535.3" stroke="#888" stroke-width="1.4"/>
<line x1="65.1" y1="564.8" x2="75.1" y2="564.5" stroke="#888" stroke-width="1.4"/>
<line x1="67.6" y1="594.5" x2="73.6" y2="594.2" stroke="#888" stroke-width="1.4"/>
<line x1="70.2" y1="624.5" x2="76.2" y2="624.2" stroke="#888" stroke-width="1.4"/>
<line x1="505.5" y1="725.4" x2="499.5" y2="725.7" stroke="#a8a8a8" stroke-width="1.4"/>
<line x1="508.1" y1="717.4" x2="502.1" y2="717.7" stroke="#a8a8a8" stroke-width="1.4"/>
<line x1="510.7" y1="709.2" x2="500.7" y2="709.5" stroke="#a8a8a8" stroke-width="1.4"/>
<line x1="513.4" y1="700.8" x2="507.4" y2="701.1" stroke="#a8a8a8" stroke-width="1.4"/>
<line x1="516.2" y1="692.1" x2="510.2" y2="692.4" stroke="#a8a8a8" stroke-width="1.4"/>
<line x1="519.1" y1="683.2" x2="513.1" y2="683.5" stroke="#a8a8a8" stroke-width="1.4"/>
<line x1="522.1" y1="674" x2="516.1" y2="674.3" stroke="#a8a8a8" stroke-width="1.4"/>
<line x1="525.2" y1="664.6" x2="515.2" y2="664.9" stroke="#a8a8a8" stroke-width="1.4"/>
<line x1="528.3" y1="654.9" x2="522.3" y2="655.2" stroke="#a8a8a8" stroke-width="1.4"/>
<line x1="531.6" y1="644.9" x2="525.6" y2="645.2" stroke="#a8a8a8" stroke-width="1.4"/>
<line x1="534.9" y1="634.5" x2="528.9" y2="634.8" stroke="#a8a8a8" stroke-width="1.4"/>
<line x1="538.3" y1="623.9" x2="532.3" y2="624.2" stroke="#a8a8a8" stroke-width="1.4"/>
<line x1="541.9" y1="612.9" x2="531.9" y2="613.2" stroke="#a8a8a8" stroke-width="1.4"/>
<line x1="545.6" y1="601.6" x2="539.6" y2="601.9" stroke="#a8a8a8" stroke-width="1.4"/>
<line x1="549.4" y1="589.9" x2="543.4" y2="590.2" stroke="#a8a8a8" stroke-width="1.4"/>
</g>
<text x="1338.7" y="41.9" font-size="6.5" text-anchor="middle" fill="#444" font-family="Liberation Serif, serif">&#8722;1</text>
<text x="1411.1" y="33.8" font-size="6.5" text-anchor="middle" fill="#444" font-family="Liberation Serif, serif">0</text>
<text x="1482.9" y="25.6" font-size="6.5" text-anchor="middle" fill="#444" font-family="Liberation Serif, serif">1</text>
<text x="1554.3" y="243.2" font-size="6.5" text-anchor="middle" fill="#444" font-family="Liberation Serif, serif">1</text>
<text x="1551.4" y="270.1" font-size="6.5" text-anchor="middle" fill="#444" font-family="Liberation Serif, serif">0</text>
<text x="1544.3" y="292.7" font-size="6.5" text-anchor="middle" fill="#444" font-family="Liberation Serif, serif">&#8722;1</text>
<text x="1296.8" y="85.6" font-size="6.5" text-anchor="middle" fill="#444" font-family="Liberation Serif, serif">&#8722;1</text>
<text x="1305.6" y="151.9" font-size="6.5" text-anchor="middle" fill="#444" font-family="Liberation Serif, serif">0</text>
<text x="1310.8" y="221.5" font-size="6.5" text-anchor="middle" fill="#444" font-family="Liberation Serif, serif">1</text>
<text x="1409.7" y="18.4" font-size="6.5" text-anchor="middle" fill="#444" font-family="Liberation Serif, serif"><tspan font-style="italic">i</tspan>+1</text>
<text x="1568.8" y="267.9" font-size="6.5" text-anchor="middle" fill="#444" font-family="Liberation Serif, serif"><tspan font-style="italic">i</tspan>+2</text>
<text x="1291.6" y="153.6" font-size="6.5" text-anchor="middle" fill="#444" font-family="Liberation Serif, serif" font-style="italic">i</text>
<circle cx="1464.2" cy="219.3" r="1.6" fill="#d9282b"/>
<circle cx="1357.3" cy="180.7" r="1.6" fill="#b8d437"/>
<circle cx="1402.6" cy="237.9" r="1.6" fill="#b8d437"/>
<circle cx="1490.2" cy="200.7" r="1.6" fill="#4152b6"/>
<circle cx="1429.7" cy="193.7" r="1.6" fill="#7ec244"/>
<circle cx="1420.4" cy="143.7" r="1.6" fill="#7ec244"/>
<circle cx="1391" cy="174.7" r="1.6" fill="#7ec244"/>
<circle cx="1457" cy="209.8" r="1.6" fill="#4152b6"/>
<circle cx="1501.1" cy="184.3" r="1.6" fill="#7ec244"/>
<circle cx="1485.2" cy="251.1" r="1.6" fill="#6fc4b5"/>
<circle cx="1478.8" cy="202.4" r="1.6" fill="#5dbde2"/>
<circle cx="1407.2" cy="154.2" r="1.6" fill="#7ec244"/>
<circle cx="1353.7" cy="239" r="1.6" fill="#4152b6"/>
<circle cx="1427.3" cy="232.4" r="1.6" fill="#8e40b0"/>
<circle cx="1405.6" cy="252.6" r="1.6" fill="#b8d437"/>
<circle cx="1394.7" cy="238.2" r="1.6" fill="#d9282b"/>
<circle cx="1377.2" cy="196.4" r="1.6" fill="#b8d437"/>
<circle cx="1449.8" cy="78.8" r="1.6" fill="#7ec244"/>
<circle cx="1369.7" cy="167.3" r="1.6" fill="#6fc4b5"/>
<circle cx="1407.6" cy="160" r="1.6" fill="#d9282b"/>
<circle cx="1418" cy="155.7" r="1.6" fill="#e2de34"/>
<circle cx="1410.7" cy="173.5" r="1.6" fill="#7ec244"/>
<circle cx="1394" cy="208.1" r="1.6" fill="#4152b6"/>
<circle cx="1435.7" cy="164.7" r="1.6" fill="#7ec244"/>
<circle cx="1366.5" cy="235.2" r="1.6" fill="#7ec244"/>
<circle cx="1491" cy="174.2" r="1.6" fill="#4152b6"/>
<circle cx="1433.1" cy="167.4" r="1.6" fill="#b8d437"/>
<circle cx="1417.8" cy="161.3" r="1.6" fill="#8e40b0"/>
<circle cx="1405.3" cy="201.2" r="1.6" fill="#8e40b0"/>
<circle cx="1467.6" cy="238.3" r="1.6" fill="#4152b6"/>
<circle cx="1445.3" cy="161.8" r="1.6" fill="#4152b6"/>
<circle cx="1421.4" cy="212.3" r="1.6" fill="#5dbde2"/>
<circle cx="1410.4" cy="209.5" r="1.6" fill="#4152b6"/>
<circle cx="1475.6" cy="81.8" r="1.6" fill="#8e40b0"/>
<circle cx="1483.2" cy="206" r="1.6" fill="#e8722b"/>
<circle cx="1422.6" cy="181.1" r="1.6" fill="#6fc4b5"/>
<circle cx="1479.9" cy="163.7" r="1.6" fill="#d9282b"/>
<circle cx="1473.7" cy="221.5" r="1.6" fill="#e8722b"/>
<circle cx="1428.7" cy="185.9" r="1.6" fill="#b8d437"/>
<circle cx="1397" cy="154" r="1.6" fill="#b8d437"/>
<circle cx="1392" cy="148.4" r="1.6" fill="#4152b6"/>
<circle cx="1427.1" cy="287.4" r="1.6" fill="#d9282b"/>
<circle cx="1434" cy="101.8" r="1.6" fill="#4152b6"/>
<circle cx="1417.2" cy="151.8" r="1.6" fill="#4152b6"/>
<circle cx="1442" cy="139" r="1.6" fill="#d9282b"/>
<circle cx="1420.3" cy="260.3" r="1.6" fill="#4152b6"/>
<circle cx="1412.7" cy="105.8" r="1.6" fill="#7ec244"/>
<circle cx="1466.8" cy="219.8" r="1.6" fill="#5dbde2"/>
<circle cx="1389.4" cy="235.4" r="1.6" fill="#4152b6"/>
<circle cx="1379.1" cy="187.1" r="1.6" fill="#4152b6"/>
<circle cx="1474.7" cy="260.7" r="1.6" fill="#7ec244"/>
<circle cx="1370.4" cy="126.3" r="1.6" fill="#5dbde2"/>
<circle cx="1465.3" cy="267.2" r="1.6" fill="#4152b6"/>
<circle cx="1452.4" cy="244.3" r="1.6" fill="#b8d437"/>
<circle cx="1394.3" cy="166.6" r="1.6" fill="#e2de34"/>
<circle cx="1405.5" cy="191.2" r="1.6" fill="#4152b6"/>
<circle cx="1442.9" cy="166.9" r="1.6" fill="#7ec244"/>
<circle cx="1423.9" cy="181.4" r="1.6" fill="#4152b6"/>
<circle cx="1451.7" cy="224.2" r="1.6" fill="#b8d437"/>
<circle cx="1470.7" cy="232.5" r="1.6" fill="#7ec244"/>
<circle cx="1372.5" cy="234.9" r="1.6" fill="#d9282b"/>
<circle cx="1399.3" cy="210.8" r="1.6" fill="#6fc4b5"/>
<circle cx="1436.7" cy="155.2" r="1.6" fill="#b8d437"/>
<circle cx="1413.2" cy="128.2" r="1.6" fill="#4152b6"/>
<circle cx="1454.5" cy="119" r="1.6" fill="#6fc4b5"/>
<circle cx="1457" cy="148.1" r="1.6" fill="#7ec244"/>
<circle cx="1493.7" cy="237.3" r="1.6" fill="#6fc4b5"/>
<circle cx="1398.9" cy="153.4" r="1.6" fill="#7ec244"/>
<circle cx="1456.6" cy="228.4" r="1.6" fill="#4152b6"/>
<circle cx="1455.2" cy="114.8" r="1.6" fill="#b8d437"/>
<circle cx="1406.4" cy="103.3" r="1.6" fill="#5dbde2"/>
<circle cx="1374" cy="168.9" r="1.6" fill="#4152b6"/>
<circle cx="1359.9" cy="152.2" r="1.6" fill="#7ec244"/>
<circle cx="1422" cy="147.5" r="1.6" fill="#6fc4b5"/>
<circle cx="1451.6" cy="192.7" r="1.6" fill="#4152b6"/>
<circle cx="1364.6" cy="261.8" r="1.6" fill="#e2de34"/>
<circle cx="1477.7" cy="244.4" r="1.6" fill="#5dbde2"/>
<circle cx="1501.3" cy="214.9" r="1.6" fill="#4152b6"/>
<circle cx="1365.2" cy="174" r="1.6" fill="#4152b6"/>
<circle cx="1441.7" cy="111.9" r="1.6" fill="#7ec244"/>
<circle cx="1378.6" cy="170.9" r="1.6" fill="#b8d437"/>
<circle cx="1388.6" cy="162.5" r="1.6" fill="#7ec244"/>
<circle cx="1476.6" cy="142.6" r="1.6" fill="#6fc4b5"/>
<circle cx="1489.9" cy="179.7" r="1.6" fill="#5dbde2"/>
<circle cx="1457.9" cy="215.5" r="1.6" fill="#7ec244"/>
<circle cx="1481.5" cy="201.9" r="1.6" fill="#4152b6"/>
<circle cx="1449.4" cy="149.5" r="1.6" fill="#d9282b"/>
<circle cx="1442.4" cy="203.7" r="1.6" fill="#e2de34"/>
<circle cx="1385.2" cy="150.7" r="1.6" fill="#6fc4b5"/>
<circle cx="1449" cy="201.1" r="1.6" fill="#7ec244"/>
<circle cx="1352.5" cy="257.4" r="1.6" fill="#5dbde2"/>
<circle cx="1505.8" cy="123.1" r="1.6" fill="#b8d437"/>
<circle cx="1457.8" cy="145.9" r="1.6" fill="#d9282b"/>
<circle cx="1404.9" cy="149.4" r="1.6" fill="#7ec244"/>
<circle cx="1408.6" cy="267.2" r="1.6" fill="#4152b6"/>
<circle cx="1390.4" cy="276.3" r="1.6" fill="#5dbde2"/>
<circle cx="1462.2" cy="289" r="1.6" fill="#7ec244"/>
<circle cx="1413.2" cy="156.6" r="1.6" fill="#b8d437"/>
<circle cx="1410.3" cy="201.6" r="1.6" fill="#7ec244"/>
<circle cx="1486.9" cy="183.4" r="1.6" fill="#4152b6"/>
<circle cx="1463.6" cy="189.1" r="1.6" fill="#d9282b"/>
<circle cx="1418.4" cy="129.6" r="1.6" fill="#d9282b"/>
<circle cx="1409.6" cy="105.5" r="1.6" fill="#8e40b0"/>
<circle cx="1416.2" cy="180.3" r="1.6" fill="#4152b6"/>
<circle cx="1473.2" cy="195.3" r="1.6" fill="#5dbde2"/>
<circle cx="1447.5" cy="271.8" r="1.6" fill="#b8d437"/>
<circle cx="1464.3" cy="147.9" r="1.6" fill="#e2de34"/>
<circle cx="1418" cy="250" r="1.6" fill="#5dbde2"/>
<circle cx="1447.5" cy="245.6" r="1.6" fill="#6fc4b5"/>
<circle cx="1447.9" cy="250.8" r="1.6" fill="#b8d437"/>
<circle cx="1402.4" cy="164.6" r="1.6" fill="#4152b6"/>
<circle cx="1426.9" cy="279.9" r="1.6" fill="#8e40b0"/>
<circle cx="1418.9" cy="213.5" r="1.6" fill="#6fc4b5"/>
<circle cx="1357" cy="254.4" r="1.6" fill="#7ec244"/>
<circle cx="1372.1" cy="171.6" r="1.6" fill="#5dbde2"/>
<circle cx="1486.2" cy="180.4" r="1.6" fill="#e2de34"/>
<circle cx="1427.3" cy="229.7" r="1.6" fill="#e2de34"/>
<circle cx="1468.6" cy="285.1" r="1.6" fill="#e2de34"/>
<circle cx="1445.3" cy="158.1" r="1.6" fill="#4152b6"/>
<circle cx="1413.2" cy="215.7" r="1.6" fill="#8e40b0"/>
<circle cx="1425.6" cy="174.2" r="1.6" fill="#7ec244"/>
<circle cx="1423.7" cy="110.6" r="1.6" fill="#4152b6"/>
<circle cx="1459.9" cy="232.3" r="1.6" fill="#7ec244"/>
<circle cx="1366.1" cy="281.8" r="1.6" fill="#7ec244"/>
<circle cx="1466.1" cy="223.2" r="1.6" fill="#5dbde2"/>
<circle cx="1400.7" cy="91.5" r="1.6" fill="#b8d437"/>
<circle cx="1407.2" cy="168.8" r="1.6" fill="#7ec244"/>
<circle cx="1425.1" cy="199.5" r="1.6" fill="#e8722b"/>
<circle cx="1355.9" cy="266.7" r="1.6" fill="#7ec244"/>
<circle cx="1466.7" cy="147.3" r="1.6" fill="#7ec244"/>
<circle cx="1467.3" cy="207.1" r="1.6" fill="#e2de34"/>
<circle cx="1448.3" cy="164" r="1.6" fill="#7ec244"/>
<circle cx="1434.7" cy="292.3" r="1.6" fill="#4152b6"/>
<circle cx="1460.9" cy="238" r="1.6" fill="#b8d437"/>
<circle cx="1429.9" cy="151.7" r="1.6" fill="#4152b6"/>
<circle cx="1433.7" cy="174.9" r="1.6" fill="#7ec244"/>
<circle cx="1414.3" cy="210.2" r="1.6" fill="#4152b6"/>
<circle cx="1454.4" cy="196.3" r="1.6" fill="#4152b6"/>
<circle cx="1424.2" cy="214" r="1.6" fill="#7ec244"/>
<circle cx="1452.5" cy="174.3" r="1.6" fill="#e2de34"/>
<circle cx="1357.7" cy="189.5" r="1.6" fill="#7ec244"/>
<circle cx="1377.4" cy="248.5" r="1.6" fill="#e2de34"/>
<circle cx="1397.8" cy="237.7" r="1.6" fill="#7ec244"/>
<circle cx="1408.3" cy="243.8" r="1.6" fill="#d9282b"/>
<circle cx="1444.4" cy="269.7" r="1.6" fill="#4152b6"/>
<circle cx="1369.2" cy="200.3" r="1.6" fill="#7ec244"/>
<circle cx="1377.5" cy="295" r="1.6" fill="#4152b6"/>
<circle cx="1458.1" cy="257" r="1.6" fill="#4152b6"/>
<circle cx="1458.6" cy="161.2" r="1.6" fill="#4152b6"/>
<circle cx="1425.3" cy="242.9" r="1.6" fill="#4152b6"/>
<circle cx="1393.9" cy="147.8" r="1.6" fill="#7ec244"/>
<circle cx="1468.8" cy="237.7" r="1.6" fill="#4152b6"/>
<circle cx="1386.6" cy="161.2" r="1.6" fill="#4152b6"/>
<circle cx="1475.8" cy="243.1" r="1.6" fill="#7ec244"/>
<circle cx="1435.3" cy="145.7" r="1.6" fill="#e8722b"/>
<circle cx="1402.5" cy="211.8" r="1.6" fill="#e8722b"/>
<circle cx="1441.9" cy="180.2" r="1.6" fill="#5dbde2"/>
<circle cx="1430.4" cy="130.9" r="1.6" fill="#e8722b"/>
<circle cx="1359.8" cy="150.5" r="1.6" fill="#7ec244"/>
<circle cx="1375.4" cy="123.2" r="1.6" fill="#6fc4b5"/>
<circle cx="1373.8" cy="157.9" r="1.6" fill="#b8d437"/>
<circle cx="1484" cy="135.2" r="1.6" fill="#4152b6"/>
<circle cx="1399.1" cy="144.9" r="1.6" fill="#6fc4b5"/>
<circle cx="1423.6" cy="206.6" r="1.6" fill="#e8722b"/>
<circle cx="1384.7" cy="126.7" r="1.6" fill="#4152b6"/>
<circle cx="1441.3" cy="183.8" r="1.6" fill="#4152b6"/>
<circle cx="1416.1" cy="203" r="1.6" fill="#7ec244"/>
<circle cx="1437.1" cy="159.5" r="1.6" fill="#4152b6"/>
<circle cx="1454.3" cy="193.5" r="1.6" fill="#7ec244"/>
<circle cx="1421.6" cy="162.7" r="1.6" fill="#6fc4b5"/>
<circle cx="1434.2" cy="122.1" r="1.6" fill="#4152b6"/>
<circle cx="1491.4" cy="120.5" r="1.6" fill="#7ec244"/>
<circle cx="1437.8" cy="221.6" r="1.6" fill="#e2de34"/>
<circle cx="1477.6" cy="258.1" r="1.6" fill="#5dbde2"/>
<circle cx="1363.6" cy="194.8" r="1.6" fill="#4152b6"/>
<circle cx="1362.1" cy="185.6" r="1.6" fill="#4152b6"/>
<circle cx="1420.9" cy="219" r="1.6" fill="#e2de34"/>
<circle cx="1420.2" cy="198.8" r="1.6" fill="#4152b6"/>
<circle cx="1457.7" cy="231" r="1.6" fill="#8e40b0"/>
<circle cx="1427.5" cy="164.5" r="1.6" fill="#7ec244"/>
<circle cx="1389.4" cy="275.2" r="1.6" fill="#7ec244"/>
<circle cx="1520.8" cy="127.1" r="1.6" fill="#b8d437"/>
<circle cx="1508.2" cy="210.3" r="1.6" fill="#5dbde2"/>
<circle cx="1437.1" cy="128.7" r="1.6" fill="#6fc4b5"/>
<circle cx="1424.6" cy="189.8" r="1.6" fill="#e8722b"/>
<circle cx="1398.7" cy="131.8" r="1.6" fill="#4152b6"/>
<circle cx="1427" cy="218.9" r="1.6" fill="#7ec244"/>
<circle cx="1389.2" cy="177.8" r="1.6" fill="#b8d437"/>
<circle cx="1418.8" cy="172.8" r="1.6" fill="#6fc4b5"/>
<circle cx="1450.2" cy="214.9" r="1.6" fill="#7ec244"/>
<circle cx="1415.4" cy="251.3" r="1.6" fill="#e8722b"/>
<circle cx="1391.4" cy="218" r="1.6" fill="#8e40b0"/>
<circle cx="1465.4" cy="292.7" r="1.6" fill="#4152b6"/>
<circle cx="1408.8" cy="264.9" r="1.6" fill="#7ec244"/>
<circle cx="1435" cy="178.7" r="1.6" fill="#d9282b"/>
<circle cx="1433.3" cy="179.7" r="1.6" fill="#6fc4b5"/>
<circle cx="1452.3" cy="107.2" r="1.6" fill="#6fc4b5"/>
<circle cx="1450.8" cy="165.1" r="1.6" fill="#8e40b0"/>
<circle cx="1470.6" cy="185" r="1.6" fill="#b8d437"/>
<circle cx="1490" cy="158.8" r="1.6" fill="#4152b6"/>
<circle cx="1450.6" cy="232.9" r="1.6" fill="#b8d437"/>
<circle cx="1435.3" cy="145.8" r="1.6" fill="#7ec244"/>
<circle cx="1397.7" cy="182.5" r="1.6" fill="#5dbde2"/>
<circle cx="1503.3" cy="146.6" r="1.6" fill="#7ec244"/>
<circle cx="1403.1" cy="241.3" r="1.6" fill="#7ec244"/>
<circle cx="1487.4" cy="271.8" r="1.6" fill="#7ec244"/>
<circle cx="1375.9" cy="204.8" r="1.6" fill="#8e40b0"/>
<circle cx="1426.6" cy="268.1" r="1.6" fill="#6fc4b5"/>
<circle cx="1395.6" cy="135.9" r="1.6" fill="#4152b6"/>
<circle cx="1480.7" cy="213.4" r="1.6" fill="#7ec244"/>
<circle cx="1421.9" cy="170.8" r="1.6" fill="#7ec244"/>
<circle cx="1444" cy="149.9" r="1.6" fill="#7ec244"/>
<circle cx="1410.5" cy="208.6" r="1.6" fill="#7ec244"/>
<circle cx="1381.7" cy="229.9" r="1.6" fill="#5dbde2"/>
<circle cx="1454.2" cy="261.7" r="1.6" fill="#4152b6"/>
<circle cx="1493.8" cy="287.7" r="1.6" fill="#7ec244"/>
<circle cx="1444.8" cy="209.8" r="1.6" fill="#e8722b"/>
<circle cx="1437.8" cy="98.1" r="1.6" fill="#4152b6"/>
<circle cx="1469.7" cy="80.7" r="1.6" fill="#4152b6"/>
<circle cx="1467.6" cy="99.7" r="1.6" fill="#8e40b0"/>
<circle cx="1385.7" cy="217.6" r="1.6" fill="#b8d437"/>
<circle cx="1401.3" cy="230.8" r="1.6" fill="#4152b6"/>
<circle cx="1392" cy="193.3" r="1.6" fill="#b8d437"/>
<circle cx="1410.4" cy="205" r="1.6" fill="#7ec244"/>
<circle cx="1481.7" cy="179.9" r="1.6" fill="#6fc4b5"/>
<circle cx="1394.8" cy="297.9" r="1.6" fill="#7ec244"/>
<circle cx="1460.2" cy="123.3" r="1.6" fill="#7ec244"/>
<circle cx="1472.3" cy="111.2" r="1.6" fill="#e2de34"/>
<circle cx="1421.4" cy="130.6" r="1.6" fill="#6fc4b5"/>
<circle cx="1478.1" cy="139.9" r="1.6" fill="#7ec244"/>
<circle cx="1380.7" cy="127.4" r="1.6" fill="#7ec244"/>
<circle cx="1434.8" cy="235.7" r="1.6" fill="#e2de34"/>
<circle cx="1493.4" cy="262.8" r="1.6" fill="#e8722b"/>
<circle cx="1488" cy="214.7" r="1.6" fill="#4152b6"/>
<circle cx="1433.1" cy="233.3" r="1.6" fill="#8e40b0"/>
<circle cx="1384.8" cy="237.1" r="1.6" fill="#7ec244"/>
<circle cx="1363.5" cy="161.4" r="1.6" fill="#7ec244"/>
<circle cx="1388.5" cy="243.7" r="1.6" fill="#b8d437"/>
<circle cx="1390.7" cy="224.9" r="1.6" fill="#7ec244"/>
<circle cx="1392.9" cy="232.1" r="1.6" fill="#5dbde2"/>
<circle cx="1426" cy="142.4" r="1.6" fill="#7ec244"/>
<circle cx="1441.4" cy="142.6" r="1.6" fill="#7ec244"/>
<circle cx="1386.5" cy="193.6" r="1.6" fill="#7ec244"/>
<circle cx="1442.5" cy="170.3" r="1.6" fill="#8e40b0"/>
<circle cx="1434" cy="170.8" r="1.6" fill="#7ec244"/>
<circle cx="1396.3" cy="172.3" r="1.6" fill="#5dbde2"/>
<circle cx="1481.2" cy="287.3" r="1.6" fill="#7ec244"/>
<circle cx="1431.9" cy="122.8" r="1.6" fill="#5dbde2"/>
<circle cx="1473.5" cy="208.6" r="1.6" fill="#5dbde2"/>
<circle cx="1377.1" cy="160.5" r="1.6" fill="#d9282b"/>
<circle cx="1418.7" cy="209.3" r="1.6" fill="#7ec244"/>
<circle cx="1467.2" cy="163.3" r="1.6" fill="#b8d437"/>
<circle cx="1519.4" cy="159.4" r="1.6" fill="#d9282b"/>
<circle cx="1421.8" cy="214.7" r="1.6" fill="#4152b6"/>
<circle cx="1408" cy="211.3" r="1.6" fill="#7ec244"/>
<circle cx="1474" cy="252.2" r="1.6" fill="#e2de34"/>
<circle cx="1439.1" cy="202.3" r="1.6" fill="#e8722b"/>
<circle cx="1427.3" cy="222.9" r="1.6" fill="#b8d437"/>
<circle cx="1415.9" cy="129.8" r="1.6" fill="#7ec244"/>
<circle cx="1440.9" cy="174.2" r="1.6" fill="#4152b6"/>
<circle cx="1393.3" cy="183.9" r="1.6" fill="#6fc4b5"/>
<circle cx="1398.8" cy="190.5" r="1.6" fill="#b8d437"/>
<circle cx="1392.5" cy="98.2" r="1.6" fill="#5dbde2"/>
<circle cx="1425.4" cy="103.5" r="1.6" fill="#7ec244"/>
<circle cx="1431" cy="146.8" r="1.6" fill="#b8d437"/>
<circle cx="1431.3" cy="153.5" r="1.6" fill="#d9282b"/>
<circle cx="1418.1" cy="258.4" r="1.6" fill="#e2de34"/>
<circle cx="1442.8" cy="165.4" r="1.6" fill="#b8d437"/>
<circle cx="1454.3" cy="191.5" r="1.6" fill="#d9282b"/>
<circle cx="1422.5" cy="233.7" r="1.6" fill="#6fc4b5"/>
<circle cx="1455.6" cy="203.2" r="1.6" fill="#b8d437"/>
<circle cx="1422.2" cy="204.7" r="1.6" fill="#e8722b"/>
<circle cx="1405.2" cy="248.8" r="1.6" fill="#d9282b"/>
<circle cx="1455.7" cy="136" r="1.6" fill="#4152b6"/>
<circle cx="1402.2" cy="152.5" r="1.6" fill="#d9282b"/>
<circle cx="1398.8" cy="167.6" r="1.6" fill="#6fc4b5"/>
<circle cx="1461.3" cy="213" r="1.6" fill="#4152b6"/>
<circle cx="1466.4" cy="271.6" r="1.6" fill="#7ec244"/>
<circle cx="1411.7" cy="210.3" r="1.6" fill="#4152b6"/>
<circle cx="1384.5" cy="273.7" r="1.6" fill="#8e40b0"/>
<circle cx="1451.5" cy="201.6" r="1.6" fill="#5dbde2"/>
<circle cx="1379.5" cy="229.6" r="1.6" fill="#5dbde2"/>
<circle cx="1397.1" cy="284" r="1.6" fill="#6fc4b5"/>
<circle cx="1397" cy="255.9" r="1.6" fill="#e2de34"/>
<circle cx="1409" cy="212.8" r="1.6" fill="#7ec244"/>
<circle cx="1388.8" cy="184.6" r="1.6" fill="#7ec244"/>
<circle cx="1394.5" cy="186.8" r="1.6" fill="#d9282b"/>
<circle cx="1377.6" cy="292" r="1.6" fill="#7ec244"/>
<circle cx="1392" cy="236.9" r="1.6" fill="#5dbde2"/>
<circle cx="1391.3" cy="268.8" r="1.6" fill="#4152b6"/>
<circle cx="1392.1" cy="287.3" r="1.6" fill="#e2de34"/>
<circle cx="1373.9" cy="188.3" r="1.6" fill="#5dbde2"/>
<circle cx="1385.8" cy="263.2" r="1.6" fill="#7ec244"/>
<circle cx="1369.9" cy="292.9" r="1.6" fill="#b8d437"/>
<circle cx="1403.8" cy="282" r="1.6" fill="#4152b6"/>
<circle cx="1405.5" cy="204.3" r="1.6" fill="#6fc4b5"/>
<circle cx="1379.3" cy="207.9" r="1.6" fill="#e2de34"/>
<circle cx="1382.7" cy="195.9" r="1.6" fill="#7ec244"/>
<circle cx="1380.6" cy="215.7" r="1.6" fill="#4152b6"/>
<circle cx="1405.7" cy="188.5" r="1.6" fill="#d9282b"/>
<circle cx="1372.1" cy="199.6" r="1.6" fill="#5dbde2"/>
<circle cx="1401.7" cy="202.6" r="1.6" fill="#5dbde2"/>
<circle cx="1387.2" cy="229.3" r="1.6" fill="#5dbde2"/>
<circle cx="1393.7" cy="251.7" r="1.6" fill="#e2de34"/>
<circle cx="1374.5" cy="248.6" r="1.6" fill="#b8d437"/>
<circle cx="1392" cy="229.1" r="1.6" fill="#7ec244"/>
<circle cx="1415.2" cy="278.2" r="1.6" fill="#4152b6"/>
<circle cx="1398.4" cy="183.5" r="1.6" fill="#7ec244"/>
<circle cx="1389.2" cy="219.5" r="1.6" fill="#b8d437"/>
<circle cx="1399.4" cy="181.7" r="1.6" fill="#d9282b"/>
<circle cx="1391.9" cy="263.5" r="1.6" fill="#e2de34"/>
<circle cx="1391.4" cy="214.1" r="1.6" fill="#d9282b"/>
<circle cx="1416.6" cy="224.2" r="1.6" fill="#e2de34"/>
<circle cx="1363.3" cy="284.9" r="1.6" fill="#b8d437"/>
<circle cx="1407.6" cy="262.8" r="1.6" fill="#d9282b"/>
<circle cx="1385.1" cy="249.8" r="1.6" fill="#4152b6"/>
<circle cx="1395" cy="266.9" r="1.6" fill="#b8d437"/>
<circle cx="1409.4" cy="199.4" r="1.6" fill="#7ec244"/>
<circle cx="1399.3" cy="279.2" r="1.6" fill="#4152b6"/>
<circle cx="1405.3" cy="239.7" r="1.6" fill="#e2de34"/>
<circle cx="1380.4" cy="213" r="1.6" fill="#7ec244"/>
<circle cx="1427.6" cy="213.6" r="1.6" fill="#e2de34"/>
<circle cx="1426.3" cy="214.3" r="1.6" fill="#d9282b"/>
<circle cx="1380.8" cy="275.7" r="1.6" fill="#4152b6"/>
<circle cx="1389.2" cy="201" r="1.6" fill="#b8d437"/>
<circle cx="1386.2" cy="256.8" r="1.6" fill="#d9282b"/>
<circle cx="1376.4" cy="278.6" r="1.6" fill="#7ec244"/>
<circle cx="1392" cy="221.1" r="1.6" fill="#d9282b"/>
<circle cx="1375.7" cy="220.1" r="1.6" fill="#6fc4b5"/>
<circle cx="1407.6" cy="222" r="1.6" fill="#e2de34"/>
<circle cx="1384.2" cy="231" r="1.6" fill="#7ec244"/>
<circle cx="1382.2" cy="283.4" r="1.6" fill="#5dbde2"/>
<circle cx="1379.6" cy="275" r="1.6" fill="#e2de34"/>
<circle cx="1406.3" cy="286.7" r="1.6" fill="#d9282b"/>
<circle cx="1384.5" cy="252.9" r="1.6" fill="#6fc4b5"/>
<circle cx="1381" cy="225.7" r="1.6" fill="#7ec244"/>
<circle cx="1373.4" cy="215.9" r="1.6" fill="#7ec244"/>
<circle cx="1390.1" cy="292.8" r="1.6" fill="#6fc4b5"/>
<circle cx="1399.5" cy="276.2" r="1.6" fill="#4152b6"/>
<circle cx="1416.5" cy="288.1" r="1.6" fill="#e2de34"/>
<circle cx="1396" cy="191.2" r="1.6" fill="#e2de34"/>
<circle cx="1392.2" cy="197.1" r="1.6" fill="#e2de34"/>
<circle cx="1407.5" cy="263" r="1.6" fill="#4152b6"/>
<circle cx="1395.4" cy="192.6" r="1.6" fill="#b8d437"/>
<circle cx="1408.4" cy="248.1" r="1.6" fill="#7ec244"/>
<circle cx="1393.3" cy="255.9" r="1.6" fill="#7ec244"/>
<circle cx="1424.8" cy="216.9" r="1.6" fill="#6fc4b5"/>
<circle cx="1372.9" cy="267.4" r="1.6" fill="#4152b6"/>
<circle cx="1362.4" cy="290.2" r="1.6" fill="#b8d437"/>
<circle cx="1382" cy="191.6" r="1.6" fill="#5dbde2"/>
<circle cx="1398.8" cy="199.1" r="1.6" fill="#6fc4b5"/>
<circle cx="1412.7" cy="294.4" r="1.6" fill="#b8d437"/>
<circle cx="1376.5" cy="276.5" r="1.6" fill="#5dbde2"/>
<circle cx="1385.2" cy="259.9" r="1.6" fill="#5dbde2"/>
<circle cx="1396.1" cy="180" r="1.6" fill="#7ec244"/>
<circle cx="1409.6" cy="246.4" r="1.6" fill="#5dbde2"/>
<circle cx="1384.1" cy="216.1" r="1.6" fill="#4152b6"/>
<circle cx="1399.3" cy="276.9" r="1.6" fill="#d9282b"/>
<circle cx="1380" cy="289.7" r="1.6" fill="#b8d437"/>
<circle cx="1377" cy="266.7" r="1.6" fill="#7ec244"/>
<circle cx="1392.6" cy="214.6" r="1.6" fill="#7ec244"/>
<circle cx="1387.8" cy="214.4" r="1.6" fill="#5dbde2"/>
<circle cx="1406.1" cy="238.8" r="1.6" fill="#d9282b"/>
<circle cx="1385.7" cy="293.8" r="1.6" fill="#5dbde2"/>
<circle cx="1378.2" cy="241.3" r="1.6" fill="#6fc4b5"/>
<circle cx="1372.1" cy="186.7" r="1.6" fill="#b8d437"/>
<circle cx="1386.1" cy="181.4" r="1.6" fill="#b8d437"/>
<circle cx="1413.4" cy="241.7" r="1.6" fill="#d9282b"/>
<circle cx="1424.2" cy="219.6" r="1.6" fill="#4152b6"/>
<circle cx="1382.2" cy="196.5" r="1.6" fill="#b8d437"/>
<circle cx="1408.8" cy="268.7" r="1.6" fill="#e2de34"/>
<circle cx="1363.7" cy="163.6" r="1.6" fill="#7ec244"/>
<circle cx="1402.8" cy="176.5" r="1.6" fill="#7ec244"/>
<circle cx="1387.9" cy="171.1" r="1.6" fill="#d9282b"/>
<circle cx="1412.4" cy="175.5" r="1.6" fill="#d9282b"/>
<circle cx="1404.8" cy="178.4" r="1.6" fill="#8e40b0"/>
<circle cx="1375.7" cy="163.9" r="1.6" fill="#d9282b"/>
<circle cx="1388.4" cy="167.3" r="1.6" fill="#d9282b"/>
<circle cx="1362.1" cy="159.5" r="1.6" fill="#d9282b"/>
<circle cx="1368.4" cy="159.3" r="1.6" fill="#5dbde2"/>
<circle cx="1397.1" cy="168.2" r="1.6" fill="#8e40b0"/>
<circle cx="1365.4" cy="165.1" r="1.6" fill="#d9282b"/>
<circle cx="1358.1" cy="162.1" r="1.6" fill="#b8d437"/>
<circle cx="1402.4" cy="180.2" r="1.6" fill="#5dbde2"/>
<circle cx="1379.1" cy="170" r="1.6" fill="#4152b6"/>
<circle cx="1389.3" cy="171.9" r="1.6" fill="#b8d437"/>
<circle cx="1376.8" cy="165.9" r="1.6" fill="#4152b6"/>
<circle cx="1369.2" cy="168.5" r="1.6" fill="#5dbde2"/>
<circle cx="1374.5" cy="163.7" r="1.6" fill="#d9282b"/>
<circle cx="1385.2" cy="166.9" r="1.6" fill="#7ec244"/>
<circle cx="1360.7" cy="161.6" r="1.6" fill="#e2de34"/>
<circle cx="1402.6" cy="172" r="1.6" fill="#4152b6"/>
<circle cx="1405.1" cy="177.6" r="1.6" fill="#7ec244"/>
<circle cx="1379.2" cy="163.5" r="1.6" fill="#4152b6"/>
<circle cx="1392.3" cy="167.8" r="1.6" fill="#7ec244"/>
<circle cx="1379.4" cy="167.6" r="1.6" fill="#5dbde2"/>
<circle cx="1378.6" cy="165.7" r="1.6" fill="#7ec244"/>
<circle cx="1401.6" cy="173.8" r="1.6" fill="#d9282b"/>
<circle cx="1410.3" cy="174.2" r="1.6" fill="#8e40b0"/>
<circle cx="1411.6" cy="178.3" r="1.6" fill="#7ec244"/>
<circle cx="1414.4" cy="183.4" r="1.6" fill="#7ec244"/>
<circle cx="1390.2" cy="171.7" r="1.6" fill="#8e40b0"/>
<circle cx="1424.6" cy="180.5" r="1.6" fill="#b8d437"/>
<circle cx="1423.2" cy="175.9" r="1.6" fill="#8e40b0"/>
<circle cx="1371.9" cy="168.6" r="1.6" fill="#4152b6"/>
<circle cx="1404" cy="172.6" r="1.6" fill="#8e40b0"/>
<circle cx="1364.2" cy="163.2" r="1.6" fill="#e2de34"/>
<circle cx="1398.7" cy="174.9" r="1.6" fill="#e2de34"/>
<circle cx="1425.4" cy="182" r="1.6" fill="#e2de34"/>
<circle cx="1381.5" cy="167.4" r="1.6" fill="#5dbde2"/>
<circle cx="1408.3" cy="176" r="1.6" fill="#5dbde2"/>
<circle cx="1413.7" cy="180.3" r="1.6" fill="#d9282b"/>
<circle cx="1392.2" cy="173.9" r="1.6" fill="#7ec244"/>
<circle cx="1405" cy="178" r="1.6" fill="#7ec244"/>
<circle cx="1424.4" cy="184.6" r="1.6" fill="#b8d437"/>
<circle cx="1362.6" cy="161.1" r="1.6" fill="#b8d437"/>
<circle cx="1357.5" cy="159.9" r="1.6" fill="#d9282b"/>
<circle cx="1363.5" cy="158.1" r="1.6" fill="#e2de34"/>
<circle cx="1387.8" cy="172" r="1.6" fill="#7ec244"/>
<circle cx="1428.2" cy="175.4" r="1.6" fill="#5dbde2"/>
<circle cx="1400.4" cy="174.7" r="1.6" fill="#5dbde2"/>
<circle cx="1399.8" cy="171.7" r="1.6" fill="#b8d437"/>
<circle cx="1392.1" cy="169.8" r="1.6" fill="#d9282b"/>
<circle cx="1374.3" cy="165.8" r="1.6" fill="#e2de34"/>
<circle cx="1359.3" cy="156" r="1.6" fill="#7ec244"/>
<circle cx="1364" cy="156.6" r="1.6" fill="#e2de34"/>
<circle cx="1409.4" cy="175.2" r="1.6" fill="#5dbde2"/>
<circle cx="1390.7" cy="171.9" r="1.6" fill="#4152b6"/>
<circle cx="1376.9" cy="164.7" r="1.6" fill="#e2de34"/>
<circle cx="1372.9" cy="163.8" r="1.6" fill="#d9282b"/>
<circle cx="1424.3" cy="179.7" r="1.6" fill="#7ec244"/>
<circle cx="1357.7" cy="160.8" r="1.6" fill="#4152b6"/>
<circle cx="1415.2" cy="179.3" r="1.6" fill="#8e40b0"/>
<circle cx="1404.7" cy="179.5" r="1.6" fill="#5dbde2"/>
<circle cx="1384.7" cy="171.3" r="1.6" fill="#8e40b0"/>
<circle cx="1417.7" cy="177.9" r="1.6" fill="#5dbde2"/>
<circle cx="1391.5" cy="174.3" r="1.6" fill="#d9282b"/>
<circle cx="1392.9" cy="169.7" r="1.6" fill="#8e40b0"/>
<circle cx="1419.3" cy="180.4" r="1.6" fill="#7ec244"/>
<circle cx="1395.6" cy="169.7" r="1.6" fill="#5dbde2"/>
<circle cx="1408.3" cy="175.8" r="1.6" fill="#d9282b"/>
<circle cx="1457.8" cy="175.4" r="1.6" fill="#8e40b0"/>
<circle cx="1447.2" cy="177.1" r="1.6" fill="#5dbde2"/>
<circle cx="1461.1" cy="176.6" r="1.6" fill="#5dbde2"/>
<circle cx="1444.6" cy="181.3" r="1.6" fill="#4152b6"/>
<circle cx="1461.7" cy="176.2" r="1.6" fill="#5dbde2"/>
<circle cx="1455.5" cy="174.2" r="1.6" fill="#5dbde2"/>
<circle cx="1454" cy="172.4" r="1.6" fill="#7ec244"/>
<circle cx="1432.5" cy="180" r="1.6" fill="#7ec244"/>
<circle cx="1427.3" cy="182.5" r="1.6" fill="#4152b6"/>
<circle cx="1452.9" cy="176.8" r="1.6" fill="#8e40b0"/>
<circle cx="1494.4" cy="166.4" r="1.6" fill="#5dbde2"/>
<circle cx="1436" cy="179.2" r="1.6" fill="#7ec244"/>
<circle cx="1509.9" cy="162.2" r="1.6" fill="#4152b6"/>
<circle cx="1442.7" cy="176.2" r="1.6" fill="#4152b6"/>
<circle cx="1481.3" cy="166" r="1.6" fill="#7ec244"/>
<circle cx="1492.3" cy="166.5" r="1.6" fill="#7ec244"/>
<circle cx="1517.9" cy="159.8" r="1.6" fill="#4152b6"/>
<circle cx="1492" cy="167.8" r="1.6" fill="#5dbde2"/>
<circle cx="1434.4" cy="180.7" r="1.6" fill="#8e40b0"/>
<circle cx="1459.9" cy="179.8" r="1.6" fill="#8e40b0"/>
<circle cx="1437.5" cy="180.4" r="1.6" fill="#8e40b0"/>
<circle cx="1471.6" cy="171.8" r="1.6" fill="#4152b6"/>
<circle cx="1446.7" cy="179.5" r="1.6" fill="#4152b6"/>
<circle cx="1487.8" cy="169.9" r="1.6" fill="#8e40b0"/>
<circle cx="1457.9" cy="174.2" r="1.6" fill="#4152b6"/>
<circle cx="1438.4" cy="181.3" r="1.6" fill="#8e40b0"/>
<circle cx="1473" cy="169.3" r="1.6" fill="#e2de34"/>
<circle cx="1482.8" cy="172.5" r="1.6" fill="#8e40b0"/>
<circle cx="1506.3" cy="169.2" r="1.6" fill="#4152b6"/>
<circle cx="1429.2" cy="185.2" r="1.6" fill="#4152b6"/>
<circle cx="1506" cy="160.9" r="1.6" fill="#4152b6"/>
<circle cx="1466.2" cy="169.7" r="1.6" fill="#4152b6"/>
<circle cx="1477.6" cy="174.3" r="1.6" fill="#5dbde2"/>
<circle cx="1488.7" cy="164.3" r="1.6" fill="#e2de34"/>
<circle cx="1499.1" cy="164.4" r="1.6" fill="#5dbde2"/>
<circle cx="1447.4" cy="182" r="1.6" fill="#5dbde2"/>
<circle cx="1466.6" cy="175" r="1.6" fill="#4152b6"/>
<circle cx="1436.6" cy="182" r="1.6" fill="#4152b6"/>
<circle cx="1502" cy="164" r="1.6" fill="#8e40b0"/>
<circle cx="1462.7" cy="172.4" r="1.6" fill="#8e40b0"/>
<circle cx="1429.1" cy="186.9" r="1.6" fill="#e2de34"/>
<circle cx="1494.9" cy="164.1" r="1.6" fill="#5dbde2"/>
<circle cx="1467.5" cy="173.1" r="1.6" fill="#4152b6"/>
<circle cx="1457.6" cy="171.6" r="1.6" fill="#5dbde2"/>
<circle cx="1513.5" cy="161.2" r="1.6" fill="#4152b6"/>
<circle cx="1471.3" cy="175" r="1.6" fill="#4152b6"/>
<circle cx="1456.7" cy="178.6" r="1.6" fill="#4152b6"/>
<circle cx="1452.8" cy="180" r="1.6" fill="#e2de34"/>
<circle cx="1490.4" cy="166.6" r="1.6" fill="#4152b6"/>
<circle cx="1480.9" cy="171.4" r="1.6" fill="#4152b6"/>
<circle cx="1465.9" cy="167.3" r="1.6" fill="#4152b6"/>
<circle cx="1469.7" cy="173.4" r="1.6" fill="#7ec244"/>
<circle cx="1451.7" cy="179.9" r="1.6" fill="#8e40b0"/>
<circle cx="1448.7" cy="177.2" r="1.6" fill="#4152b6"/>
<circle cx="1477.8" cy="167.1" r="1.6" fill="#4152b6"/>
<circle cx="1451.2" cy="179.2" r="1.6" fill="#4152b6"/>
<circle cx="1480.7" cy="169.3" r="1.6" fill="#e2de34"/>
<circle cx="1466.4" cy="173.8" r="1.6" fill="#e2de34"/>
<circle cx="1433" cy="182.3" r="1.6" fill="#4152b6"/>
<circle cx="1438.4" cy="180.5" r="1.6" fill="#4152b6"/>
<circle cx="1408.7" cy="146.7" r="1.6" fill="#9c48b8"/>
<circle cx="1413.5" cy="150.2" r="1.6" fill="#8e40b0"/>
<circle cx="1403.7" cy="141.4" r="1.6" fill="#c63aa0"/>
<circle cx="1405.1" cy="151" r="1.6" fill="#c63aa0"/>
<circle cx="1416.3" cy="145.6" r="1.6" fill="#9c48b8"/>
<circle cx="1411.1" cy="156.6" r="1.6" fill="#9c48b8"/>
<circle cx="1409.7" cy="156.8" r="1.6" fill="#c63aa0"/>
<circle cx="1409.7" cy="159.9" r="1.6" fill="#9c48b8"/>
<circle cx="1408.6" cy="154.7" r="1.6" fill="#8e40b0"/>
<circle cx="1410.4" cy="152" r="1.6" fill="#9c48b8"/>
<circle cx="1413" cy="153.2" r="1.6" fill="#c63aa0"/>
<circle cx="1408.3" cy="161.3" r="1.6" fill="#9c48b8"/>
<circle cx="1407.4" cy="155.3" r="1.6" fill="#8e40b0"/>
<circle cx="1410.9" cy="152" r="1.6" fill="#9c48b8"/>
<circle cx="1405.8" cy="154.1" r="1.6" fill="#9c48b8"/>
<circle cx="1412.2" cy="153.3" r="1.6" fill="#c63aa0"/>
<circle cx="1410.6" cy="152.3" r="1.6" fill="#8e40b0"/>
<circle cx="1408.8" cy="152.7" r="1.6" fill="#c63aa0"/>
<circle cx="1415.5" cy="154.6" r="1.6" fill="#8e40b0"/>
<circle cx="1406.8" cy="143.4" r="1.6" fill="#c63aa0"/>
<circle cx="1407.6" cy="153.8" r="1.6" fill="#9c48b8"/>
<circle cx="1415.2" cy="158.8" r="1.6" fill="#9c48b8"/>
<circle cx="1417.3" cy="147.9" r="1.6" fill="#9c48b8"/>
<circle cx="1411.9" cy="155.3" r="1.6" fill="#9c48b8"/>
<circle cx="1402" cy="155.2" r="1.6" fill="#8e40b0"/>
<circle cx="1410.2" cy="153.2" r="1.6" fill="#8e40b0"/>
<circle cx="1407.7" cy="151.5" r="1.6" fill="#8e40b0"/>
<circle cx="1409" cy="146.7" r="1.6" fill="#8e40b0"/>
<circle cx="1419.3" cy="157.4" r="1.6" fill="#9c48b8"/>
<circle cx="1402.3" cy="160.9" r="1.6" fill="#9c48b8"/>
<circle cx="1413.3" cy="156.4" r="1.6" fill="#9c48b8"/>
<circle cx="1406.7" cy="149.2" r="1.6" fill="#9c48b8"/>
<circle cx="1409.3" cy="151.3" r="1.6" fill="#8e40b0"/>
<circle cx="1409.9" cy="148.4" r="1.6" fill="#9c48b8"/>
<circle cx="1409.3" cy="155.7" r="1.6" fill="#8e40b0"/>
<circle cx="1411.1" cy="149.6" r="1.6" fill="#9c48b8"/>
<circle cx="1418.5" cy="151.4" r="1.6" fill="#c63aa0"/>
<circle cx="1404.7" cy="151" r="1.6" fill="#9c48b8"/>
<circle cx="1416.8" cy="158.4" r="1.6" fill="#c63aa0"/>
<circle cx="1406.6" cy="148.4" r="1.6" fill="#c63aa0"/>
<circle cx="1415.2" cy="150.2" r="1.6" fill="#8e40b0"/>
<circle cx="1408.9" cy="159.5" r="1.6" fill="#c63aa0"/>
<circle cx="1411.8" cy="152.3" r="1.6" fill="#c63aa0"/>
<circle cx="1412" cy="149" r="1.6" fill="#c63aa0"/>
<circle cx="1409.3" cy="152.2" r="1.6" fill="#c63aa0"/>
<circle cx="1408.9" cy="152.1" r="1.6" fill="#8e40b0"/>
<circle cx="1417" cy="150.4" r="1.6" fill="#c63aa0"/>
<circle cx="1417.5" cy="158.4" r="1.6" fill="#8e40b0"/>
<circle cx="1403" cy="150.4" r="1.6" fill="#8e40b0"/>
<circle cx="1412.1" cy="149.6" r="1.6" fill="#9c48b8"/>
<circle cx="1409.8" cy="159.7" r="1.6" fill="#9c48b8"/>
<circle cx="1402.5" cy="159.1" r="1.6" fill="#c63aa0"/>
<circle cx="1409.4" cy="154.6" r="1.6" fill="#c63aa0"/>
<circle cx="1417.6" cy="153.9" r="1.6" fill="#9c48b8"/>
<circle cx="1409.3" cy="150" r="1.6" fill="#8e40b0"/>
<circle cx="1412.1" cy="153.4" r="1.6" fill="#9c48b8"/>
<circle cx="1411.1" cy="160" r="1.6" fill="#c63aa0"/>
<circle cx="1414.5" cy="156.1" r="1.6" fill="#9c48b8"/>
<circle cx="1415.2" cy="158.7" r="1.6" fill="#c63aa0"/>
<circle cx="1417.7" cy="149.2" r="1.6" fill="#8e40b0"/>
<circle cx="1410" cy="148.4" r="1.6" fill="#8e40b0"/>
<circle cx="1414.4" cy="157.7" r="1.6" fill="#8e40b0"/>
<circle cx="1402.5" cy="151.7" r="1.6" fill="#8e40b0"/>
<circle cx="1415.5" cy="155.3" r="1.6" fill="#c63aa0"/>
<circle cx="1409.4" cy="149.2" r="1.6" fill="#9c48b8"/>
<circle cx="1414.1" cy="150" r="1.6" fill="#c63aa0"/>
<circle cx="1407" cy="154.7" r="1.6" fill="#9c48b8"/>
<circle cx="1413.3" cy="162.3" r="1.6" fill="#9c48b8"/>
<circle cx="1409.2" cy="153.3" r="1.6" fill="#8e40b0"/>
<circle cx="1407.1" cy="151.2" r="1.6" fill="#c63aa0"/>
<circle cx="1409.7" cy="156.1" r="1.6" fill="#8e40b0"/>
<circle cx="1416.7" cy="157.3" r="1.6" fill="#c63aa0"/>
<circle cx="1412.3" cy="159.8" r="1.6" fill="#c63aa0"/>
<circle cx="1414.3" cy="154.8" r="1.6" fill="#8e40b0"/>
<circle cx="1404.4" cy="147" r="1.6" fill="#8e40b0"/>
<circle cx="1407.9" cy="160.2" r="1.6" fill="#9c48b8"/>
<circle cx="1415" cy="158.4" r="1.6" fill="#c63aa0"/>
<circle cx="1414.5" cy="153.6" r="1.6" fill="#9c48b8"/>
<circle cx="1406.6" cy="154.4" r="1.6" fill="#9c48b8"/>
<circle cx="1407.1" cy="155.2" r="1.6" fill="#9c48b8"/>
<circle cx="1415.8" cy="156" r="1.6" fill="#c63aa0"/>
<circle cx="1408.3" cy="157.3" r="1.6" fill="#9c48b8"/>
<circle cx="1417.4" cy="149" r="1.6" fill="#9c48b8"/>
<circle cx="1400.6" cy="159.9" r="1.6" fill="#9c48b8"/>
<circle cx="1410.3" cy="154.3" r="1.6" fill="#9c48b8"/>
<circle cx="1416.1" cy="156.3" r="1.6" fill="#9c48b8"/>
<circle cx="1406.6" cy="158.2" r="1.6" fill="#9c48b8"/>
<circle cx="1408.4" cy="150.1" r="1.6" fill="#9c48b8"/>
<circle cx="1413.8" cy="151.6" r="1.6" fill="#8e40b0"/>
<circle cx="1413.9" cy="153.7" r="1.6" fill="#9c48b8"/>
<circle cx="1470.1" cy="178.7" r="1.6" fill="#9c48b8"/>
<circle cx="1456.6" cy="175.4" r="1.6" fill="#8e40b0"/>
<circle cx="1473" cy="168.7" r="1.6" fill="#c63aa0"/>
<circle cx="1464.6" cy="170.1" r="1.6" fill="#8e40b0"/>
<circle cx="1468.6" cy="167.5" r="1.6" fill="#9c48b8"/>
<circle cx="1466.8" cy="167.3" r="1.6" fill="#9c48b8"/>
<circle cx="1473.5" cy="166" r="1.6" fill="#8e40b0"/>
<circle cx="1466.2" cy="167.6" r="1.6" fill="#9c48b8"/>
<circle cx="1465.4" cy="174.8" r="1.6" fill="#9c48b8"/>
<circle cx="1460.5" cy="175.1" r="1.6" fill="#8e40b0"/>
<circle cx="1465.6" cy="173.9" r="1.6" fill="#c63aa0"/>
<circle cx="1471.9" cy="159.5" r="1.6" fill="#c63aa0"/>
<circle cx="1464.5" cy="171.1" r="1.6" fill="#9c48b8"/>
<circle cx="1469.2" cy="171.6" r="1.6" fill="#8e40b0"/>
<circle cx="1472.1" cy="166" r="1.6" fill="#9c48b8"/>
<circle cx="1460.2" cy="168.4" r="1.6" fill="#9c48b8"/>
<circle cx="1466.2" cy="172.1" r="1.6" fill="#c63aa0"/>
<circle cx="1465.9" cy="169.2" r="1.6" fill="#8e40b0"/>
<circle cx="1463.3" cy="168.6" r="1.6" fill="#9c48b8"/>
<circle cx="1468.3" cy="173.6" r="1.6" fill="#8e40b0"/>
<circle cx="1462.5" cy="176.8" r="1.6" fill="#9c48b8"/>
<circle cx="1472.1" cy="172.9" r="1.6" fill="#9c48b8"/>
<circle cx="1469.9" cy="162.4" r="1.6" fill="#c63aa0"/>
<circle cx="1468.2" cy="168.7" r="1.6" fill="#9c48b8"/>
<circle cx="1471.4" cy="179.4" r="1.6" fill="#9c48b8"/>
<circle cx="1459.9" cy="172.5" r="1.6" fill="#9c48b8"/>
<circle cx="1463.7" cy="171" r="1.6" fill="#9c48b8"/>
<circle cx="1467.6" cy="177.9" r="1.6" fill="#9c48b8"/>
<circle cx="1463.8" cy="178.9" r="1.6" fill="#9c48b8"/>
<circle cx="1481.9" cy="172.4" r="1.6" fill="#9c48b8"/>
<circle cx="1464.8" cy="171.5" r="1.6" fill="#9c48b8"/>
<circle cx="1469.4" cy="166.7" r="1.6" fill="#9c48b8"/>
<circle cx="1471.9" cy="169.6" r="1.6" fill="#9c48b8"/>
<circle cx="1458.5" cy="184" r="1.6" fill="#9c48b8"/>
<circle cx="1466.5" cy="173.4" r="1.6" fill="#c63aa0"/>
<circle cx="1471.1" cy="171.2" r="1.6" fill="#c63aa0"/>
<circle cx="1461.5" cy="172.1" r="1.6" fill="#c63aa0"/>
<circle cx="1471.2" cy="169.5" r="1.6" fill="#c63aa0"/>
<circle cx="1468.8" cy="167.2" r="1.6" fill="#c63aa0"/>
<circle cx="1469.9" cy="173.4" r="1.6" fill="#8e40b0"/>
<circle cx="1464.2" cy="173.9" r="1.6" fill="#9c48b8"/>
<circle cx="1470.8" cy="170.6" r="1.6" fill="#8e40b0"/>
<circle cx="1468.9" cy="177.4" r="1.6" fill="#9c48b8"/>
<circle cx="1464.8" cy="175.1" r="1.6" fill="#9c48b8"/>
<circle cx="1469" cy="164.8" r="1.6" fill="#c63aa0"/>
<circle cx="1469.9" cy="176.9" r="1.6" fill="#8e40b0"/>
<circle cx="1480.8" cy="173.1" r="1.6" fill="#9c48b8"/>
<circle cx="1460.5" cy="172.8" r="1.6" fill="#9c48b8"/>
<circle cx="1473.9" cy="175" r="1.6" fill="#8e40b0"/>
<circle cx="1463.8" cy="173.2" r="1.6" fill="#8e40b0"/>
<circle cx="1466.4" cy="163.8" r="1.6" fill="#8e40b0"/>
<circle cx="1467.4" cy="167.7" r="1.6" fill="#9c48b8"/>
<circle cx="1473.6" cy="171.1" r="1.6" fill="#9c48b8"/>
<circle cx="1470.1" cy="168.4" r="1.6" fill="#c63aa0"/>
<circle cx="1469.7" cy="168.5" r="1.6" fill="#c63aa0"/>
<circle cx="1475.1" cy="167.6" r="1.6" fill="#9c48b8"/>
<circle cx="1464.9" cy="173.1" r="1.6" fill="#8e40b0"/>
<circle cx="1463.6" cy="171.6" r="1.6" fill="#8e40b0"/>
<circle cx="1480.4" cy="165.9" r="1.6" fill="#9c48b8"/>
<circle cx="1478.7" cy="172.9" r="1.6" fill="#9c48b8"/>
<circle cx="1464.1" cy="169.1" r="1.6" fill="#9c48b8"/>
<circle cx="1468.2" cy="166.1" r="1.6" fill="#9c48b8"/>
<circle cx="1472.2" cy="167.4" r="1.6" fill="#8e40b0"/>
<circle cx="1467.1" cy="165.8" r="1.6" fill="#9c48b8"/>
<circle cx="1480.5" cy="169.4" r="1.6" fill="#8e40b0"/>
<circle cx="1467.5" cy="170.6" r="1.6" fill="#8e40b0"/>
<circle cx="1466.8" cy="174.4" r="1.6" fill="#c63aa0"/>
<circle cx="1472.1" cy="170.2" r="1.6" fill="#9c48b8"/>
<circle cx="1470.5" cy="163.6" r="1.6" fill="#8e40b0"/>
<circle cx="1464.7" cy="173" r="1.6" fill="#8e40b0"/>
<circle cx="1471.7" cy="166.1" r="1.6" fill="#c63aa0"/>
<circle cx="1473.9" cy="165.1" r="1.6" fill="#9c48b8"/>
<circle cx="1467.9" cy="178.8" r="1.6" fill="#8e40b0"/>
<circle cx="1478.8" cy="168.5" r="1.6" fill="#8e40b0"/>
<circle cx="1473.3" cy="163.4" r="1.6" fill="#c63aa0"/>
<circle cx="1468.7" cy="186.9" r="1.6" fill="#8e40b0"/>
<circle cx="1474.2" cy="183.9" r="1.6" fill="#8e40b0"/>
<circle cx="1462.2" cy="169.5" r="1.6" fill="#9c48b8"/>
<circle cx="1462.6" cy="175.7" r="1.6" fill="#c63aa0"/>
<circle cx="1467.5" cy="172.6" r="1.6" fill="#9c48b8"/>
<circle cx="1465.7" cy="169" r="1.6" fill="#c63aa0"/>
<circle cx="1471.7" cy="173.7" r="1.6" fill="#9c48b8"/>
<circle cx="1468.7" cy="169.9" r="1.6" fill="#9c48b8"/>
<circle cx="1470.3" cy="171.4" r="1.6" fill="#8e40b0"/>
<circle cx="1471.7" cy="167.9" r="1.6" fill="#8e40b0"/>
<circle cx="1465.7" cy="168" r="1.6" fill="#8e40b0"/>
<circle cx="1470.7" cy="178.9" r="1.6" fill="#c63aa0"/>
<circle cx="1464.4" cy="173.6" r="1.6" fill="#c63aa0"/>
<circle cx="1467.7" cy="177.5" r="1.6" fill="#9c48b8"/>
<circle cx="1465.8" cy="169.8" r="1.6" fill="#9c48b8"/>
<circle cx="1421" cy="232.6" r="1.6" fill="#c63aa0"/>
<circle cx="1422.6" cy="231" r="1.6" fill="#9c48b8"/>
<circle cx="1421.3" cy="229.7" r="1.6" fill="#8e40b0"/>
<circle cx="1428.3" cy="228.3" r="1.6" fill="#8e40b0"/>
<circle cx="1423.2" cy="227.4" r="1.6" fill="#c63aa0"/>
<circle cx="1422.2" cy="224.4" r="1.6" fill="#8e40b0"/>
<circle cx="1413.8" cy="231.7" r="1.6" fill="#c63aa0"/>
<circle cx="1414.6" cy="226.6" r="1.6" fill="#9c48b8"/>
<circle cx="1422.8" cy="230.7" r="1.6" fill="#9c48b8"/>
<circle cx="1417.2" cy="239.5" r="1.6" fill="#9c48b8"/>
<circle cx="1419.5" cy="226.8" r="1.6" fill="#9c48b8"/>
<circle cx="1419.4" cy="236.4" r="1.6" fill="#8e40b0"/>
<circle cx="1414.9" cy="224.1" r="1.6" fill="#9c48b8"/>
<circle cx="1415.6" cy="226" r="1.6" fill="#8e40b0"/>
<circle cx="1423.6" cy="235.7" r="1.6" fill="#9c48b8"/>
<circle cx="1423.6" cy="232" r="1.6" fill="#8e40b0"/>
<circle cx="1428.3" cy="235.9" r="1.6" fill="#c63aa0"/>
<circle cx="1420.8" cy="226.7" r="1.6" fill="#c63aa0"/>
<circle cx="1423.2" cy="227.7" r="1.6" fill="#9c48b8"/>
<circle cx="1424.4" cy="232" r="1.6" fill="#9c48b8"/>
<circle cx="1421.7" cy="232.9" r="1.6" fill="#9c48b8"/>
<circle cx="1416.2" cy="234.3" r="1.6" fill="#9c48b8"/>
<circle cx="1417.2" cy="226.5" r="1.6" fill="#8e40b0"/>
<circle cx="1415.8" cy="235.5" r="1.6" fill="#8e40b0"/>
<circle cx="1413.6" cy="233.8" r="1.6" fill="#9c48b8"/>
<circle cx="1419.2" cy="225.8" r="1.6" fill="#c63aa0"/>
<circle cx="1422.6" cy="232.2" r="1.6" fill="#c63aa0"/>
<circle cx="1420.3" cy="223.4" r="1.6" fill="#c63aa0"/>
<circle cx="1419.8" cy="234" r="1.6" fill="#8e40b0"/>
<circle cx="1421.5" cy="226.4" r="1.6" fill="#9c48b8"/>
<circle cx="1426.9" cy="231.8" r="1.6" fill="#8e40b0"/>
<circle cx="1421.2" cy="235.3" r="1.6" fill="#9c48b8"/>
<circle cx="1422.3" cy="226.9" r="1.6" fill="#9c48b8"/>
<circle cx="1412.5" cy="229.1" r="1.6" fill="#c63aa0"/>
<circle cx="1421.8" cy="231" r="1.6" fill="#9c48b8"/>
<circle cx="1426" cy="228.9" r="1.6" fill="#8e40b0"/>
<circle cx="1418.7" cy="230.4" r="1.6" fill="#9c48b8"/>
<circle cx="1422.9" cy="221.4" r="1.6" fill="#c63aa0"/>
<circle cx="1426.2" cy="230.6" r="1.6" fill="#c63aa0"/>
<circle cx="1421.1" cy="226.3" r="1.6" fill="#8e40b0"/>
<circle cx="1429.1" cy="229.9" r="1.6" fill="#9c48b8"/>
<circle cx="1419.2" cy="231.6" r="1.6" fill="#9c48b8"/>
<circle cx="1423.4" cy="223.7" r="1.6" fill="#8e40b0"/>
<circle cx="1420.7" cy="236.9" r="1.6" fill="#c63aa0"/>
<circle cx="1417.5" cy="226.4" r="1.6" fill="#8e40b0"/>
<circle cx="1411.1" cy="229.1" r="1.6" fill="#8e40b0"/>
<circle cx="1418.3" cy="228" r="1.6" fill="#9c48b8"/>
<circle cx="1425.5" cy="233.1" r="1.6" fill="#c63aa0"/>
<circle cx="1422.8" cy="228.8" r="1.6" fill="#8e40b0"/>
<circle cx="1416.8" cy="224.7" r="1.6" fill="#9c48b8"/>
<circle cx="1417" cy="230.4" r="1.6" fill="#c63aa0"/>
<circle cx="1421.8" cy="230.6" r="1.6" fill="#9c48b8"/>
<circle cx="1419.6" cy="232.5" r="1.6" fill="#9c48b8"/>
<circle cx="1414.4" cy="226.2" r="1.6" fill="#9c48b8"/>
<circle cx="1420" cy="230.1" r="1.6" fill="#9c48b8"/>
<circle cx="1421.4" cy="218.6" r="1.6" fill="#9c48b8"/>
<circle cx="1411.7" cy="229.9" r="1.6" fill="#9c48b8"/>
<circle cx="1414.9" cy="227.5" r="1.6" fill="#9c48b8"/>
<circle cx="1421.6" cy="224.9" r="1.6" fill="#9c48b8"/>
<circle cx="1415.2" cy="224" r="1.6" fill="#9c48b8"/>
<circle cx="1414.4" cy="231.3" r="1.6" fill="#8e40b0"/>
<circle cx="1423.4" cy="229.8" r="1.6" fill="#9c48b8"/>
<circle cx="1429.6" cy="229.5" r="1.6" fill="#8e40b0"/>
<circle cx="1418.7" cy="219.5" r="1.6" fill="#8e40b0"/>
<circle cx="1421.9" cy="233.8" r="1.6" fill="#8e40b0"/>
<circle cx="1412.9" cy="228.3" r="1.6" fill="#9c48b8"/>
<circle cx="1417.7" cy="234.1" r="1.6" fill="#9c48b8"/>
<circle cx="1412.2" cy="231.6" r="1.6" fill="#9c48b8"/>
<circle cx="1423.8" cy="220.4" r="1.6" fill="#c63aa0"/>
<circle cx="1425.6" cy="239" r="1.6" fill="#8e40b0"/>
<circle cx="1419.4" cy="230.1" r="1.6" fill="#9c48b8"/>
<circle cx="1425.3" cy="236.9" r="1.6" fill="#9c48b8"/>
<circle cx="1422.9" cy="213.4" r="1.6" fill="#8e40b0"/>
<circle cx="1417.1" cy="225.9" r="1.6" fill="#c63aa0"/>
<circle cx="1418.5" cy="241" r="1.6" fill="#8e40b0"/>
<circle cx="1413.8" cy="240.2" r="1.6" fill="#9c48b8"/>
<circle cx="1414" cy="231.2" r="1.6" fill="#8e40b0"/>
<circle cx="1409.6" cy="224.5" r="1.6" fill="#9c48b8"/>
<circle cx="1425.3" cy="225.2" r="1.6" fill="#9c48b8"/>
<circle cx="1418.6" cy="226" r="1.6" fill="#8e40b0"/>
<circle cx="1407.8" cy="229.5" r="1.6" fill="#9c48b8"/>
<circle cx="1421.3" cy="229.4" r="1.6" fill="#9c48b8"/>
<circle cx="1413.6" cy="233.5" r="1.6" fill="#9c48b8"/>
<circle cx="1416.9" cy="226.6" r="1.6" fill="#c63aa0"/>
<circle cx="1420.8" cy="224.2" r="1.6" fill="#9c48b8"/>
<circle cx="1420.6" cy="233.3" r="1.6" fill="#8e40b0"/>
<circle cx="1426" cy="230.8" r="1.6" fill="#9c48b8"/>
<circle cx="1413.3" cy="230.6" r="1.6" fill="#9c48b8"/>
<circle cx="1421.2" cy="230.5" r="1.6" fill="#9c48b8"/>
<circle cx="1412.8" cy="217.5" r="1.6" fill="#8e40b0"/>
<circle cx="1421.3" cy="235.8" r="1.6" fill="#8e40b0"/>
<circle cx="1422" cy="232.4" r="1.6" fill="#8e40b0"/>
<circle cx="1422.7" cy="224.8" r="1.6" fill="#c63aa0"/>
<circle cx="1423.4" cy="226.9" r="1.6" fill="#9c48b8"/>
<circle cx="1422" cy="225.9" r="1.6" fill="#8e40b0"/>
<circle cx="1415.6" cy="233.4" r="1.6" fill="#9c48b8"/>
<circle cx="1421.5" cy="232.4" r="1.6" fill="#8e40b0"/>
<circle cx="1421.8" cy="232.2" r="1.6" fill="#c63aa0"/>
<circle cx="1418.9" cy="226.4" r="1.6" fill="#9c48b8"/>
<circle cx="1418" cy="223.7" r="1.6" fill="#c63aa0"/>
<circle cx="1414.5" cy="219.3" r="1.6" fill="#9c48b8"/>
<circle cx="1418.3" cy="238.1" r="1.6" fill="#9c48b8"/>
<circle cx="1424.7" cy="229.7" r="1.6" fill="#9c48b8"/>
<circle cx="1413.5" cy="232.7" r="1.6" fill="#8e40b0"/>
<circle cx="1413.1" cy="226.2" r="1.6" fill="#9c48b8"/>
<circle cx="1417.5" cy="226.3" r="1.6" fill="#9c48b8"/>
<circle cx="1422.4" cy="236.4" r="1.6" fill="#9c48b8"/>
<circle cx="1422.7" cy="235.8" r="1.6" fill="#8e40b0"/>
<circle cx="1388.5" cy="118.4" r="1.6" fill="#5a45b4"/>
<circle cx="1395.5" cy="113.6" r="1.6" fill="#4152b6"/>
<circle cx="1395.5" cy="117.4" r="1.6" fill="#5a45b4"/>
<circle cx="1393.6" cy="115.6" r="1.6" fill="#4152b6"/>
<circle cx="1398.3" cy="114.8" r="1.6" fill="#4152b6"/>
<circle cx="1392" cy="115.7" r="1.6" fill="#5a45b4"/>
<circle cx="1395" cy="121.5" r="1.6" fill="#4152b6"/>
<circle cx="1395.6" cy="119" r="1.6" fill="#4152b6"/>
<circle cx="1394.7" cy="119" r="1.6" fill="#4152b6"/>
<circle cx="1392.1" cy="114.6" r="1.6" fill="#5a45b4"/>
<circle cx="1394.1" cy="112.3" r="1.6" fill="#4152b6"/>
<circle cx="1391" cy="120.4" r="1.6" fill="#5a45b4"/>
<circle cx="1389.1" cy="117.3" r="1.6" fill="#4152b6"/>
<circle cx="1390.9" cy="118.5" r="1.6" fill="#4152b6"/>
<circle cx="1399" cy="117.3" r="1.6" fill="#4152b6"/>
<circle cx="1395.9" cy="116.9" r="1.6" fill="#5a45b4"/>
<circle cx="1388.6" cy="116.4" r="1.6" fill="#4152b6"/>
<circle cx="1394.7" cy="120.1" r="1.6" fill="#4152b6"/>
<circle cx="1393" cy="111.9" r="1.6" fill="#4152b6"/>
<circle cx="1393.4" cy="117.2" r="1.6" fill="#5a45b4"/>
<circle cx="1389.1" cy="117.6" r="1.6" fill="#4152b6"/>
<circle cx="1393.4" cy="118.6" r="1.6" fill="#5a45b4"/>
<circle cx="1390.5" cy="117.9" r="1.6" fill="#4152b6"/>
<circle cx="1397.4" cy="118.1" r="1.6" fill="#5a45b4"/>
<circle cx="1394.9" cy="118.3" r="1.6" fill="#4152b6"/>
<circle cx="1401.2" cy="131.9" r="1.6" fill="#4152b6"/>
<circle cx="1403.7" cy="127.8" r="1.6" fill="#4152b6"/>
<circle cx="1394.3" cy="133.8" r="1.6" fill="#4152b6"/>
<circle cx="1399.5" cy="127.9" r="1.6" fill="#4152b6"/>
<circle cx="1397.5" cy="126.2" r="1.6" fill="#4152b6"/>
<circle cx="1404.3" cy="130.9" r="1.6" fill="#5a45b4"/>
<circle cx="1406.8" cy="127.6" r="1.6" fill="#5a45b4"/>
<circle cx="1396.4" cy="126.4" r="1.6" fill="#5a45b4"/>
<circle cx="1404.7" cy="128.5" r="1.6" fill="#5a45b4"/>
<circle cx="1398.3" cy="132.5" r="1.6" fill="#4152b6"/>
<circle cx="1399.7" cy="130.6" r="1.6" fill="#4152b6"/>
<circle cx="1404" cy="136.5" r="1.6" fill="#5a45b4"/>
<circle cx="1402.1" cy="130.6" r="1.6" fill="#4152b6"/>
<circle cx="1402.3" cy="129.8" r="1.6" fill="#4152b6"/>
<circle cx="1399.5" cy="131.6" r="1.6" fill="#4152b6"/>
<circle cx="1400.1" cy="130" r="1.6" fill="#4152b6"/>
<circle cx="1399.6" cy="132.1" r="1.6" fill="#5a45b4"/>
<circle cx="1402" cy="127.7" r="1.6" fill="#5a45b4"/>
<circle cx="1402.5" cy="128.2" r="1.6" fill="#4152b6"/>
<circle cx="1399.1" cy="130.3" r="1.6" fill="#4152b6"/>
<circle cx="1400.6" cy="129.8" r="1.6" fill="#5a45b4"/>
<circle cx="1401.5" cy="133.2" r="1.6" fill="#4152b6"/>
<circle cx="1400.1" cy="130.8" r="1.6" fill="#4152b6"/>
<circle cx="1401.9" cy="127.1" r="1.6" fill="#4152b6"/>
<circle cx="1400.5" cy="133.5" r="1.6" fill="#4152b6"/>
<circle cx="1392.7" cy="126.4" r="1.6" fill="#5a45b4"/>
<circle cx="1405.6" cy="132.9" r="1.6" fill="#5a45b4"/>
<circle cx="1403.5" cy="128.5" r="1.6" fill="#4152b6"/>
<circle cx="1402.5" cy="118.9" r="1.6" fill="#5a45b4"/>
<circle cx="1403.6" cy="130.8" r="1.6" fill="#4152b6"/>
<circle cx="1399.9" cy="129.5" r="1.6" fill="#4152b6"/>
<circle cx="1401.1" cy="134.5" r="1.6" fill="#5a45b4"/>
<circle cx="1401.2" cy="133" r="1.6" fill="#4152b6"/>
<circle cx="1401.6" cy="130.3" r="1.6" fill="#4152b6"/>
<circle cx="1399.3" cy="127.2" r="1.6" fill="#4152b6"/>
<circle cx="1410.6" cy="126.8" r="1.6" fill="#4152b6"/>
<circle cx="1451.8" cy="146.9" r="1.6" fill="#5a45b4"/>
<circle cx="1448.2" cy="150.6" r="1.6" fill="#5a45b4"/>
<circle cx="1453.6" cy="156.4" r="1.6" fill="#4152b6"/>
<circle cx="1452.4" cy="156.8" r="1.6" fill="#4152b6"/>
<circle cx="1451.3" cy="155.1" r="1.6" fill="#4152b6"/>
<circle cx="1450.5" cy="151.4" r="1.6" fill="#5a45b4"/>
<circle cx="1446.2" cy="150.1" r="1.6" fill="#4152b6"/>
<circle cx="1451" cy="150.1" r="1.6" fill="#5a45b4"/>
<circle cx="1452.1" cy="149.5" r="1.6" fill="#5a45b4"/>
<circle cx="1452.6" cy="155.4" r="1.6" fill="#4152b6"/>
<circle cx="1456.5" cy="148.3" r="1.6" fill="#4152b6"/>
<circle cx="1450.7" cy="148.9" r="1.6" fill="#4152b6"/>
<circle cx="1448.2" cy="147.1" r="1.6" fill="#4152b6"/>
<circle cx="1455.4" cy="150.3" r="1.6" fill="#4152b6"/>
<circle cx="1447.1" cy="148.5" r="1.6" fill="#4152b6"/>
<circle cx="1452.3" cy="148.8" r="1.6" fill="#4152b6"/>
<circle cx="1451.3" cy="148.2" r="1.6" fill="#5a45b4"/>
<circle cx="1449.1" cy="150.1" r="1.6" fill="#5a45b4"/>
<circle cx="1452.1" cy="148.8" r="1.6" fill="#5a45b4"/>
<circle cx="1452.4" cy="149.7" r="1.6" fill="#4152b6"/>
<circle cx="1452.3" cy="154.5" r="1.6" fill="#5a45b4"/>
<circle cx="1450.4" cy="151.6" r="1.6" fill="#5a45b4"/>
<circle cx="1449" cy="150.8" r="1.6" fill="#4152b6"/>
<circle cx="1448.8" cy="150.5" r="1.6" fill="#4152b6"/>
<circle cx="1453.9" cy="146" r="1.6" fill="#4152b6"/>
<circle cx="1502.4" cy="165" r="1.6" fill="#4152b6"/>
<circle cx="1500.7" cy="161.8" r="1.6" fill="#4152b6"/>
<circle cx="1494" cy="165.1" r="1.6" fill="#4152b6"/>
<circle cx="1495.7" cy="165.3" r="1.6" fill="#4152b6"/>
<circle cx="1495.8" cy="166.3" r="1.6" fill="#4152b6"/>
<circle cx="1497.7" cy="163.9" r="1.6" fill="#4152b6"/>
<circle cx="1499.6" cy="166.2" r="1.6" fill="#4152b6"/>
<circle cx="1497.3" cy="162.3" r="1.6" fill="#4152b6"/>
<circle cx="1496.9" cy="160.5" r="1.6" fill="#4152b6"/>
<circle cx="1504.9" cy="167.3" r="1.6" fill="#5a45b4"/>
<circle cx="1495.1" cy="165" r="1.6" fill="#5a45b4"/>
<circle cx="1500.6" cy="165.9" r="1.6" fill="#5a45b4"/>
<circle cx="1500.9" cy="169.2" r="1.6" fill="#4152b6"/>
<circle cx="1501.2" cy="168.4" r="1.6" fill="#5a45b4"/>
<circle cx="1497.9" cy="163.3" r="1.6" fill="#4152b6"/>
<circle cx="1499" cy="168.3" r="1.6" fill="#4152b6"/>
<circle cx="1500.4" cy="159.9" r="1.6" fill="#4152b6"/>
<circle cx="1498.5" cy="165.1" r="1.6" fill="#5a45b4"/>
<circle cx="1495.2" cy="163.5" r="1.6" fill="#5a45b4"/>
<circle cx="1501.8" cy="165" r="1.6" fill="#4152b6"/>
<circle cx="1500" cy="164.9" r="1.6" fill="#4152b6"/>
<circle cx="1498" cy="168.4" r="1.6" fill="#4152b6"/>
<circle cx="1493.9" cy="158.6" r="1.6" fill="#4152b6"/>
<circle cx="1493.9" cy="165.7" r="1.6" fill="#4152b6"/>
<circle cx="1493" cy="167.6" r="1.6" fill="#4152b6"/>
<circle cx="1497.2" cy="163.5" r="1.6" fill="#4152b6"/>
<circle cx="1494.6" cy="167.9" r="1.6" fill="#5a45b4"/>
<circle cx="1500.1" cy="167.1" r="1.6" fill="#4152b6"/>
<circle cx="1496.5" cy="168.3" r="1.6" fill="#4152b6"/>
<circle cx="1500.5" cy="157.5" r="1.6" fill="#5a45b4"/>
<circle cx="1497.1" cy="161.6" r="1.6" fill="#5a45b4"/>
<circle cx="1498.4" cy="163.6" r="1.6" fill="#4152b6"/>
<circle cx="1498.8" cy="159.9" r="1.6" fill="#4152b6"/>
<circle cx="1496.8" cy="163.7" r="1.6" fill="#4152b6"/>
<circle cx="1496.7" cy="165.3" r="1.6" fill="#4152b6"/>
<circle cx="1494.9" cy="160.9" r="1.6" fill="#4152b6"/>
<circle cx="1516.9" cy="160.7" r="1.6" fill="#4152b6"/>
<circle cx="1515.2" cy="159.5" r="1.6" fill="#4152b6"/>
<circle cx="1519.5" cy="157.7" r="1.6" fill="#5a45b4"/>
<circle cx="1516.6" cy="161.4" r="1.6" fill="#4152b6"/>
<circle cx="1516.4" cy="158.6" r="1.6" fill="#4152b6"/>
<circle cx="1520.1" cy="158.6" r="1.6" fill="#4152b6"/>
<circle cx="1522.6" cy="158.3" r="1.6" fill="#4152b6"/>
<circle cx="1516.5" cy="159.9" r="1.6" fill="#5a45b4"/>
<circle cx="1517.7" cy="160" r="1.6" fill="#5a45b4"/>
<circle cx="1522.3" cy="160" r="1.6" fill="#4152b6"/>
<circle cx="1517" cy="156.3" r="1.6" fill="#4152b6"/>
<circle cx="1518.7" cy="157.6" r="1.6" fill="#4152b6"/>
<circle cx="1519.5" cy="161.2" r="1.6" fill="#5a45b4"/>
<circle cx="1513.5" cy="159.2" r="1.6" fill="#5a45b4"/>
<circle cx="1518.9" cy="158" r="1.6" fill="#4152b6"/>
<circle cx="1519.1" cy="158" r="1.6" fill="#4152b6"/>
<circle cx="1450.8" cy="213.3" r="1.6" fill="#5a45b4"/>
<circle cx="1457.5" cy="211.8" r="1.6" fill="#4152b6"/>
<circle cx="1454.3" cy="215.1" r="1.6" fill="#4152b6"/>
<circle cx="1454.4" cy="213" r="1.6" fill="#4152b6"/>
<circle cx="1456.7" cy="213.8" r="1.6" fill="#5a45b4"/>
<circle cx="1458" cy="210.5" r="1.6" fill="#4152b6"/>
<circle cx="1456.1" cy="211.5" r="1.6" fill="#5a45b4"/>
<circle cx="1457.5" cy="209.5" r="1.6" fill="#4152b6"/>
<circle cx="1462.3" cy="218.2" r="1.6" fill="#4152b6"/>
<circle cx="1457.9" cy="208.4" r="1.6" fill="#4152b6"/>
<circle cx="1455.9" cy="215.1" r="1.6" fill="#5a45b4"/>
<circle cx="1453.5" cy="214.6" r="1.6" fill="#5a45b4"/>
<circle cx="1460.5" cy="221" r="1.6" fill="#4152b6"/>
<circle cx="1457.5" cy="214.1" r="1.6" fill="#4152b6"/>
<circle cx="1457.1" cy="217.1" r="1.6" fill="#4152b6"/>
<circle cx="1461.4" cy="215.3" r="1.6" fill="#4152b6"/>
<circle cx="1455.7" cy="215" r="1.6" fill="#5a45b4"/>
<circle cx="1455.3" cy="218.1" r="1.6" fill="#4152b6"/>
<circle cx="1458.7" cy="212.4" r="1.6" fill="#4152b6"/>
<circle cx="1454.6" cy="209.4" r="1.6" fill="#4152b6"/>
<circle cx="1454.1" cy="217" r="1.6" fill="#4152b6"/>
<circle cx="1456.2" cy="213.6" r="1.6" fill="#4152b6"/>
<circle cx="1455.1" cy="215.3" r="1.6" fill="#4152b6"/>
<circle cx="1455.8" cy="211.6" r="1.6" fill="#5a45b4"/>
<circle cx="1456.4" cy="212" r="1.6" fill="#4152b6"/>
<circle cx="1454.4" cy="215.5" r="1.6" fill="#4152b6"/>
<circle cx="1456.2" cy="215.7" r="1.6" fill="#4152b6"/>
<circle cx="1460.7" cy="216.8" r="1.6" fill="#4152b6"/>
<circle cx="1456.4" cy="214" r="1.6" fill="#4152b6"/>
<circle cx="1462.3" cy="214.7" r="1.6" fill="#4152b6"/>
<circle cx="1454.1" cy="213.7" r="1.6" fill="#4152b6"/>
<circle cx="1457.5" cy="219.5" r="1.6" fill="#5a45b4"/>
<circle cx="1456.7" cy="212.1" r="1.6" fill="#5a45b4"/>
<circle cx="1461.2" cy="215.1" r="1.6" fill="#5a45b4"/>
<circle cx="1459.9" cy="214.6" r="1.6" fill="#5a45b4"/>
<circle cx="1457.7" cy="218.4" r="1.6" fill="#4152b6"/>
<circle cx="1484.1" cy="201.1" r="1.6" fill="#4152b6"/>
<circle cx="1484.9" cy="203.9" r="1.6" fill="#4152b6"/>
<circle cx="1486.6" cy="200.9" r="1.6" fill="#5a45b4"/>
<circle cx="1485.9" cy="202.4" r="1.6" fill="#4152b6"/>
<circle cx="1487.7" cy="202.7" r="1.6" fill="#5a45b4"/>
<circle cx="1486.4" cy="201.9" r="1.6" fill="#5a45b4"/>
<circle cx="1488.7" cy="202.8" r="1.6" fill="#4152b6"/>
<circle cx="1484" cy="202.8" r="1.6" fill="#4152b6"/>
<circle cx="1486" cy="202.2" r="1.6" fill="#5a45b4"/>
<circle cx="1409.9" cy="271.7" r="1.6" fill="#4152b6"/>
<circle cx="1415.5" cy="267.6" r="1.6" fill="#5a45b4"/>
<circle cx="1419.6" cy="268.9" r="1.6" fill="#4152b6"/>
<circle cx="1410.8" cy="266.1" r="1.6" fill="#5a45b4"/>
<circle cx="1411.2" cy="269.2" r="1.6" fill="#5a45b4"/>
<circle cx="1421" cy="258.8" r="1.6" fill="#5a45b4"/>
<circle cx="1414.5" cy="264.6" r="1.6" fill="#4152b6"/>
<circle cx="1419.4" cy="265.8" r="1.6" fill="#4152b6"/>
<circle cx="1418.9" cy="264.1" r="1.6" fill="#4152b6"/>
<circle cx="1414.7" cy="263.4" r="1.6" fill="#4152b6"/>
<circle cx="1416" cy="267.7" r="1.6" fill="#4152b6"/>
<circle cx="1418.3" cy="270.6" r="1.6" fill="#5a45b4"/>
<circle cx="1415.3" cy="259.7" r="1.6" fill="#4152b6"/>
<circle cx="1415.3" cy="265.8" r="1.6" fill="#4152b6"/>
<circle cx="1418.4" cy="265.9" r="1.6" fill="#5a45b4"/>
<circle cx="1413.8" cy="266.9" r="1.6" fill="#4152b6"/>
<circle cx="1414.6" cy="262.8" r="1.6" fill="#4152b6"/>
<circle cx="1415.5" cy="263.9" r="1.6" fill="#5a45b4"/>
<circle cx="1412.1" cy="264.6" r="1.6" fill="#5a45b4"/>
<circle cx="1411.4" cy="262.9" r="1.6" fill="#4152b6"/>
<circle cx="1413.6" cy="266.7" r="1.6" fill="#5a45b4"/>
<circle cx="1417.7" cy="271.3" r="1.6" fill="#4152b6"/>
<circle cx="1419.4" cy="265.2" r="1.6" fill="#4152b6"/>
<circle cx="1415.2" cy="260.2" r="1.6" fill="#4152b6"/>
<circle cx="1414.5" cy="269.4" r="1.6" fill="#4152b6"/>
<circle cx="1414.4" cy="264.9" r="1.6" fill="#5a45b4"/>
<circle cx="1408.1" cy="265" r="1.6" fill="#4152b6"/>
<circle cx="1417.9" cy="272.2" r="1.6" fill="#4152b6"/>
<circle cx="1408" cy="265.1" r="1.6" fill="#4152b6"/>
<circle cx="1411.9" cy="265.7" r="1.6" fill="#5a45b4"/>
<circle cx="1415" cy="267.5" r="1.6" fill="#4152b6"/>
<circle cx="1419.3" cy="273.2" r="1.6" fill="#4152b6"/>
<circle cx="1414.8" cy="269.4" r="1.6" fill="#5a45b4"/>
<circle cx="1412.9" cy="264.2" r="1.6" fill="#4152b6"/>
<circle cx="1409.7" cy="269.1" r="1.6" fill="#4152b6"/>
<circle cx="1413.9" cy="270.1" r="1.6" fill="#4152b6"/>
<circle cx="1408.5" cy="291.8" r="1.6" fill="#4152b6"/>
<circle cx="1408.7" cy="288.2" r="1.6" fill="#4152b6"/>
<circle cx="1411" cy="288.6" r="1.6" fill="#5a45b4"/>
<circle cx="1410.8" cy="289.2" r="1.6" fill="#5a45b4"/>
<circle cx="1411.3" cy="288.2" r="1.6" fill="#4152b6"/>
<circle cx="1411.7" cy="291.1" r="1.6" fill="#5a45b4"/>
<circle cx="1412.3" cy="288.3" r="1.6" fill="#4152b6"/>
<circle cx="1407.3" cy="293.1" r="1.6" fill="#4152b6"/>
<circle cx="1413.4" cy="288.7" r="1.6" fill="#4152b6"/>
<circle cx="1413.3" cy="288.7" r="1.6" fill="#4152b6"/>
<circle cx="1415.6" cy="286.6" r="1.6" fill="#4152b6"/>
<circle cx="1411.1" cy="286.9" r="1.6" fill="#4152b6"/>
<circle cx="1410.3" cy="285.8" r="1.6" fill="#4152b6"/>
<circle cx="1411.8" cy="290" r="1.6" fill="#4152b6"/>
<circle cx="1411.7" cy="292.7" r="1.6" fill="#4152b6"/>
<circle cx="1412.2" cy="286.9" r="1.6" fill="#4152b6"/>
<circle cx="1405.5" cy="200.2" r="1.6" fill="#4152b6"/>
<circle cx="1403.7" cy="201.6" r="1.6" fill="#4152b6"/>
<circle cx="1406.7" cy="202.3" r="1.6" fill="#5a45b4"/>
<circle cx="1406.5" cy="205.5" r="1.6" fill="#4152b6"/>
<circle cx="1406.1" cy="201.2" r="1.6" fill="#4152b6"/>
<circle cx="1410.2" cy="197.9" r="1.6" fill="#4152b6"/>
<circle cx="1401.7" cy="205" r="1.6" fill="#4152b6"/>
<circle cx="1403.2" cy="207.1" r="1.6" fill="#4152b6"/>
<circle cx="1405" cy="202.3" r="1.6" fill="#4152b6"/>
<circle cx="1407.9" cy="207" r="1.6" fill="#4152b6"/>
<circle cx="1401.7" cy="203.5" r="1.6" fill="#4152b6"/>
<circle cx="1406.3" cy="202.6" r="1.6" fill="#4152b6"/>
<circle cx="1407.8" cy="203.4" r="1.6" fill="#4152b6"/>
<circle cx="1404.9" cy="201.5" r="1.6" fill="#4152b6"/>
<circle cx="1406.4" cy="209" r="1.6" fill="#4152b6"/>
<circle cx="1408" cy="200.9" r="1.6" fill="#5a45b4"/>
<circle cx="1406.6" cy="208" r="1.6" fill="#5a45b4"/>
<circle cx="1402.7" cy="207.5" r="1.6" fill="#5a45b4"/>
<circle cx="1407" cy="207" r="1.6" fill="#4152b6"/>
<circle cx="1406" cy="205.9" r="1.6" fill="#5a45b4"/>
<circle cx="1406.4" cy="206.8" r="1.6" fill="#4152b6"/>
<circle cx="1408.1" cy="203.4" r="1.6" fill="#4152b6"/>
<circle cx="1403.7" cy="199.5" r="1.6" fill="#4152b6"/>
<circle cx="1408" cy="204.6" r="1.6" fill="#5a45b4"/>
<circle cx="1400.6" cy="199.8" r="1.6" fill="#5a45b4"/>
<circle cx="1407" cy="178.6" r="1.6" fill="#4152b6"/>
<circle cx="1401" cy="172.3" r="1.6" fill="#5a45b4"/>
<circle cx="1402.3" cy="176.7" r="1.6" fill="#4152b6"/>
<circle cx="1398.9" cy="175.3" r="1.6" fill="#4152b6"/>
<circle cx="1404.7" cy="176.8" r="1.6" fill="#5a45b4"/>
<circle cx="1400.3" cy="174.4" r="1.6" fill="#4152b6"/>
<circle cx="1402.9" cy="175.2" r="1.6" fill="#4152b6"/>
<circle cx="1401.4" cy="181.5" r="1.6" fill="#5a45b4"/>
<circle cx="1395.8" cy="174.9" r="1.6" fill="#5a45b4"/>
<circle cx="1401.4" cy="177.7" r="1.6" fill="#4152b6"/>
<circle cx="1401.6" cy="177.3" r="1.6" fill="#5a45b4"/>
<circle cx="1396.6" cy="170" r="1.6" fill="#4152b6"/>
<circle cx="1398.6" cy="175.8" r="1.6" fill="#5a45b4"/>
<circle cx="1396.4" cy="177.4" r="1.6" fill="#4152b6"/>
<circle cx="1395.1" cy="176.7" r="1.6" fill="#4152b6"/>
<circle cx="1399.5" cy="174.2" r="1.6" fill="#5a45b4"/>
<circle cx="1396.6" cy="174.1" r="1.6" fill="#4152b6"/>
<circle cx="1398.1" cy="181.8" r="1.6" fill="#5a45b4"/>
<circle cx="1392.8" cy="176.2" r="1.6" fill="#4152b6"/>
<circle cx="1396.2" cy="179.3" r="1.6" fill="#4152b6"/>
<circle cx="1394.8" cy="176.2" r="1.6" fill="#4152b6"/>
<circle cx="1402.4" cy="176.3" r="1.6" fill="#5a45b4"/>
<circle cx="1400.4" cy="181.7" r="1.6" fill="#5a45b4"/>
<circle cx="1395.1" cy="176.7" r="1.6" fill="#5a45b4"/>
<circle cx="1403.1" cy="178.8" r="1.6" fill="#4152b6"/>
<circle cx="1399.1" cy="177.2" r="1.6" fill="#4152b6"/>
<circle cx="1397.2" cy="181.1" r="1.6" fill="#4152b6"/>
<circle cx="1398.5" cy="178.3" r="1.6" fill="#5a45b4"/>
<circle cx="1403.3" cy="177.9" r="1.6" fill="#4152b6"/>
<circle cx="1402" cy="173.4" r="1.6" fill="#4152b6"/>
<circle cx="1402.4" cy="177.8" r="1.6" fill="#5a45b4"/>
<circle cx="1395.9" cy="173.8" r="1.6" fill="#4152b6"/>
<circle cx="1399.7" cy="177" r="1.6" fill="#4152b6"/>
<circle cx="1396.6" cy="171.5" r="1.6" fill="#5a45b4"/>
<circle cx="1408.1" cy="175.9" r="1.6" fill="#4152b6"/>
<circle cx="1394" cy="174.6" r="1.6" fill="#4152b6"/>
<circle cx="1381.8" cy="168.6" r="1.6" fill="#7ec244"/>
<circle cx="1378.6" cy="162.5" r="1.6" fill="#7ec244"/>
<circle cx="1376.6" cy="167.3" r="1.6" fill="#7ec244"/>
<circle cx="1374.7" cy="167.9" r="1.6" fill="#7ec244"/>
<circle cx="1372.8" cy="167.3" r="1.6" fill="#b8d437"/>
<circle cx="1379" cy="165.9" r="1.6" fill="#7ec244"/>
<circle cx="1379.1" cy="165.7" r="1.6" fill="#7ec244"/>
<circle cx="1381.6" cy="167.5" r="1.6" fill="#b8d437"/>
<circle cx="1376.4" cy="162.3" r="1.6" fill="#b8d437"/>
<circle cx="1375.9" cy="167.1" r="1.6" fill="#b8d437"/>
<circle cx="1379.1" cy="165.3" r="1.6" fill="#b8d437"/>
<circle cx="1372.9" cy="171" r="1.6" fill="#b8d437"/>
<circle cx="1377.4" cy="164.2" r="1.6" fill="#b8d437"/>
<circle cx="1377.5" cy="167.7" r="1.6" fill="#b8d437"/>
<circle cx="1378.3" cy="163.7" r="1.6" fill="#b8d437"/>
<circle cx="1378" cy="168.3" r="1.6" fill="#7ec244"/>
<circle cx="1381.1" cy="169.5" r="1.6" fill="#b8d437"/>
<circle cx="1379.6" cy="164.6" r="1.6" fill="#7ec244"/>
<circle cx="1376.5" cy="169.8" r="1.6" fill="#b8d437"/>
<circle cx="1378" cy="164.7" r="1.6" fill="#7ec244"/>
<circle cx="1384.9" cy="170.2" r="1.6" fill="#8e40b0"/>
<circle cx="1384.2" cy="165.1" r="1.6" fill="#8e40b0"/>
<circle cx="1392" cy="168.7" r="1.6" fill="#8e40b0"/>
<circle cx="1386.8" cy="171.6" r="1.6" fill="#8e40b0"/>
<circle cx="1379.9" cy="170.5" r="1.6" fill="#8e40b0"/>
<circle cx="1382.6" cy="170.8" r="1.6" fill="#8e40b0"/>
<circle cx="1386.7" cy="172.4" r="1.6" fill="#4152b6"/>
<circle cx="1385.4" cy="169.5" r="1.6" fill="#8e40b0"/>
<circle cx="1389.4" cy="165.4" r="1.6" fill="#4152b6"/>
<circle cx="1382.7" cy="168.8" r="1.6" fill="#8e40b0"/>
<circle cx="1384.6" cy="166.9" r="1.6" fill="#8e40b0"/>
<circle cx="1386.5" cy="165.5" r="1.6" fill="#4152b6"/>
<circle cx="1389.9" cy="169.1" r="1.6" fill="#4152b6"/>
<circle cx="1385" cy="171" r="1.6" fill="#8e40b0"/>
<circle cx="1422.6" cy="186.4" r="1.6" fill="#e0305e"/>
<circle cx="1430.5" cy="187.3" r="1.6" fill="#dc3a78"/>
<circle cx="1432.8" cy="175.3" r="1.6" fill="#e0305e"/>
<circle cx="1424.5" cy="189.2" r="1.6" fill="#e0305e"/>
<circle cx="1422.4" cy="183.8" r="1.6" fill="#e0305e"/>
<circle cx="1423.7" cy="179.8" r="1.6" fill="#e0305e"/>
<circle cx="1434.5" cy="181.6" r="1.6" fill="#c63aa0"/>
<circle cx="1421.5" cy="175.8" r="1.6" fill="#c63aa0"/>
<circle cx="1424.3" cy="187.4" r="1.6" fill="#c63aa0"/>
<circle cx="1430" cy="183.1" r="1.6" fill="#d9282b"/>
<circle cx="1419.2" cy="176.1" r="1.6" fill="#d9282b"/>
<circle cx="1420.7" cy="184.9" r="1.6" fill="#d9282b"/>
<circle cx="1425.3" cy="187.6" r="1.6" fill="#dc3a78"/>
<circle cx="1425.7" cy="192.3" r="1.6" fill="#c63aa0"/>
<circle cx="1425.9" cy="187" r="1.6" fill="#e0305e"/>
<circle cx="1429.5" cy="179.2" r="1.6" fill="#d9282b"/>
<circle cx="1433.6" cy="190.4" r="1.6" fill="#dc3a78"/>
<circle cx="1436.3" cy="181.9" r="1.6" fill="#d9282b"/>
<circle cx="1420.8" cy="188.4" r="1.6" fill="#d9282b"/>
<circle cx="1437.3" cy="181.8" r="1.6" fill="#c63aa0"/>
<circle cx="1418.5" cy="188.6" r="1.6" fill="#e0305e"/>
<circle cx="1422.8" cy="187.7" r="1.6" fill="#dc3a78"/>
<circle cx="1418.7" cy="182.1" r="1.6" fill="#d9282b"/>
<circle cx="1426.7" cy="178.9" r="1.6" fill="#dc3a78"/>
<circle cx="1427.9" cy="200.6" r="1.6" fill="#d9282b"/>
<circle cx="1416" cy="186.6" r="1.6" fill="#e0305e"/>
<circle cx="1430.5" cy="180.8" r="1.6" fill="#e0305e"/>
<circle cx="1418.3" cy="175.2" r="1.6" fill="#d9282b"/>
<circle cx="1431.1" cy="179.4" r="1.6" fill="#dc3a78"/>
<circle cx="1431.9" cy="182.4" r="1.6" fill="#c63aa0"/>
<circle cx="1416.2" cy="192.6" r="1.6" fill="#dc3a78"/>
<circle cx="1441.2" cy="190.2" r="1.6" fill="#dc3a78"/>
<circle cx="1431.5" cy="177.3" r="1.6" fill="#e0305e"/>
<circle cx="1429.2" cy="185.9" r="1.6" fill="#c63aa0"/>
<circle cx="1424.7" cy="177.8" r="1.6" fill="#dc3a78"/>
<circle cx="1429.4" cy="178.6" r="1.6" fill="#dc3a78"/>
<circle cx="1424" cy="172.6" r="1.6" fill="#e0305e"/>
<circle cx="1428.5" cy="193.9" r="1.6" fill="#c63aa0"/>
<circle cx="1424.7" cy="170.7" r="1.6" fill="#e0305e"/>
<circle cx="1426.3" cy="192.7" r="1.6" fill="#c63aa0"/>
<circle cx="1421.2" cy="193.8" r="1.6" fill="#dc3a78"/>
<circle cx="1440.6" cy="183.3" r="1.6" fill="#c63aa0"/>
<circle cx="1428.4" cy="176.8" r="1.6" fill="#e0305e"/>
<circle cx="1423.2" cy="177.1" r="1.6" fill="#dc3a78"/>
<circle cx="1418.1" cy="175.5" r="1.6" fill="#d9282b"/>
<circle cx="1426.6" cy="180" r="1.6" fill="#c63aa0"/>
<circle cx="1439.6" cy="187.4" r="1.6" fill="#dc3a78"/>
<circle cx="1435.2" cy="192.9" r="1.6" fill="#d9282b"/>
<circle cx="1427" cy="181.9" r="1.6" fill="#e0305e"/>
<circle cx="1423.5" cy="183.5" r="1.6" fill="#dc3a78"/>
<circle cx="1426.6" cy="188.5" r="1.6" fill="#dc3a78"/>
<circle cx="1424.1" cy="190.5" r="1.6" fill="#c63aa0"/>
<circle cx="1432.7" cy="183.3" r="1.6" fill="#e0305e"/>
<circle cx="1426.3" cy="181.3" r="1.6" fill="#dc3a78"/>
<circle cx="1419.2" cy="173.6" r="1.6" fill="#e0305e"/>
<circle cx="1427.7" cy="172.3" r="1.6" fill="#e0305e"/>
<circle cx="1434.2" cy="190.4" r="1.6" fill="#e0305e"/>
<circle cx="1422.1" cy="188.3" r="1.6" fill="#e0305e"/>
<circle cx="1429.8" cy="182.9" r="1.6" fill="#c63aa0"/>
<circle cx="1405.9" cy="187.5" r="1.6" fill="#e0305e"/>
<circle cx="1423.9" cy="180.5" r="1.6" fill="#e0305e"/>
<circle cx="1418.9" cy="177.2" r="1.6" fill="#c63aa0"/>
<circle cx="1438.9" cy="166.2" r="1.6" fill="#dc3a78"/>
<circle cx="1431" cy="188.3" r="1.6" fill="#dc3a78"/>
<circle cx="1427.4" cy="173.4" r="1.6" fill="#e0305e"/>
<circle cx="1429" cy="183.8" r="1.6" fill="#c63aa0"/>
<circle cx="1430.1" cy="185.9" r="1.6" fill="#dc3a78"/>
<circle cx="1430.6" cy="178.2" r="1.6" fill="#e0305e"/>
<circle cx="1421.3" cy="185.5" r="1.6" fill="#e0305e"/>
<circle cx="1415.9" cy="191" r="1.6" fill="#e0305e"/>
<circle cx="1423" cy="178.3" r="1.6" fill="#e0305e"/>
<circle cx="1426.4" cy="185.5" r="1.6" fill="#dc3a78"/>
<circle cx="1433.8" cy="174.7" r="1.6" fill="#e0305e"/>
<circle cx="1429.9" cy="191.1" r="1.6" fill="#d9282b"/>
<circle cx="1424.9" cy="188.7" r="1.6" fill="#c63aa0"/>
<circle cx="1430.5" cy="181" r="1.6" fill="#d9282b"/>
<circle cx="1435.3" cy="183.4" r="1.6" fill="#c63aa0"/>
<circle cx="1428.6" cy="181.7" r="1.6" fill="#e0305e"/>
<circle cx="1420.8" cy="188.3" r="1.6" fill="#e0305e"/>
<circle cx="1427" cy="189" r="1.6" fill="#e0305e"/>
<circle cx="1423.7" cy="177.4" r="1.6" fill="#e0305e"/>
<circle cx="1426.3" cy="186.1" r="1.6" fill="#e0305e"/>
<circle cx="1436.5" cy="185.9" r="1.6" fill="#d9282b"/>
<circle cx="1419" cy="189.3" r="1.6" fill="#e0305e"/>
<circle cx="1431.1" cy="176.5" r="1.6" fill="#e0305e"/>
<circle cx="1420.2" cy="179.1" r="1.6" fill="#e0305e"/>
<circle cx="1430.7" cy="178.9" r="1.6" fill="#c63aa0"/>
<circle cx="1422.5" cy="182.7" r="1.6" fill="#e0305e"/>
<circle cx="1433.1" cy="174.8" r="1.6" fill="#dc3a78"/>
<circle cx="1427.8" cy="172.5" r="1.6" fill="#c63aa0"/>
<circle cx="1430.3" cy="179.9" r="1.6" fill="#dc3a78"/>
<circle cx="1434.3" cy="184.4" r="1.6" fill="#e0305e"/>
<circle cx="1419.1" cy="192.8" r="1.6" fill="#d9282b"/>
<circle cx="1416.4" cy="176.9" r="1.6" fill="#e0305e"/>
<circle cx="1420.5" cy="183.5" r="1.6" fill="#c63aa0"/>
<circle cx="1436" cy="182.5" r="1.6" fill="#e0305e"/>
<circle cx="1420.2" cy="177.6" r="1.6" fill="#dc3a78"/>
<circle cx="1429.9" cy="189.7" r="1.6" fill="#dc3a78"/>
<circle cx="1425" cy="184.5" r="1.6" fill="#e0305e"/>
<circle cx="1430.7" cy="177.1" r="1.6" fill="#dc3a78"/>
<circle cx="1417.8" cy="169.3" r="1.6" fill="#e0305e"/>
<circle cx="1428.1" cy="192.7" r="1.6" fill="#d9282b"/>
<circle cx="1427.2" cy="182.4" r="1.6" fill="#c63aa0"/>
<circle cx="1423.5" cy="176" r="1.6" fill="#c63aa0"/>
<circle cx="1419.9" cy="179" r="1.6" fill="#c63aa0"/>
<circle cx="1425.6" cy="193.6" r="1.6" fill="#dc3a78"/>
<circle cx="1417.3" cy="184" r="1.6" fill="#dc3a78"/>
<circle cx="1421.6" cy="178" r="1.6" fill="#e0305e"/>
<circle cx="1430.9" cy="186" r="1.6" fill="#e0305e"/>
<circle cx="1414" cy="172.5" r="1.6" fill="#dc3a78"/>
<circle cx="1429.3" cy="183.3" r="1.6" fill="#c63aa0"/>
<circle cx="1428.5" cy="199.1" r="1.6" fill="#d9282b"/>
<circle cx="1431.3" cy="181.7" r="1.6" fill="#c63aa0"/>
<circle cx="1437.3" cy="189.4" r="1.6" fill="#e0305e"/>
<circle cx="1421.8" cy="179.5" r="1.6" fill="#d9282b"/>
<circle cx="1425.7" cy="185.9" r="1.6" fill="#dc3a78"/>
<circle cx="1425.6" cy="181.7" r="1.6" fill="#d9282b"/>
<circle cx="1427.6" cy="177.1" r="1.6" fill="#e0305e"/>
<circle cx="1423.3" cy="196.5" r="1.6" fill="#d9282b"/>
<circle cx="1432.1" cy="186.5" r="1.6" fill="#e0305e"/>
<circle cx="1422.2" cy="179" r="1.6" fill="#d9282b"/>
<circle cx="1426.2" cy="179.8" r="1.6" fill="#c63aa0"/>
<circle cx="1434.2" cy="184.2" r="1.6" fill="#e0305e"/>
<circle cx="1432.5" cy="187.4" r="1.6" fill="#d9282b"/>
<circle cx="1424.8" cy="171.1" r="1.6" fill="#e0305e"/>
<circle cx="1425.6" cy="186.3" r="1.6" fill="#e0305e"/>
<circle cx="1419" cy="181.2" r="1.6" fill="#e0305e"/>
<circle cx="1421.3" cy="174.1" r="1.6" fill="#e0305e"/>
<circle cx="1430.7" cy="172.3" r="1.6" fill="#e0305e"/>
<circle cx="1413.9" cy="186.9" r="1.6" fill="#e0305e"/>
<circle cx="1435" cy="187.2" r="1.6" fill="#e0305e"/>
<circle cx="1427.7" cy="178" r="1.6" fill="#e0305e"/>
<circle cx="1429.6" cy="177.9" r="1.6" fill="#d9282b"/>
<circle cx="1423.5" cy="191.4" r="1.6" fill="#e0305e"/>
<circle cx="1436.9" cy="186.7" r="1.6" fill="#d9282b"/>
<circle cx="1429.1" cy="189.1" r="1.6" fill="#e0305e"/>
<circle cx="1417.3" cy="188.7" r="1.6" fill="#d9282b"/>
<circle cx="1421.7" cy="181.1" r="1.6" fill="#d9282b"/>
<circle cx="1427.6" cy="179.2" r="1.6" fill="#e0305e"/>
<circle cx="1431" cy="188.5" r="1.6" fill="#e0305e"/>
<circle cx="1429" cy="185" r="1.6" fill="#dc3a78"/>
<circle cx="1428.3" cy="185.6" r="1.6" fill="#e0305e"/>
<circle cx="1427.4" cy="182.4" r="1.6" fill="#e0305e"/>
<circle cx="1420.8" cy="179.3" r="1.6" fill="#c63aa0"/>
<circle cx="1426.3" cy="177" r="1.6" fill="#e0305e"/>
<circle cx="1423.1" cy="183.5" r="1.6" fill="#c63aa0"/>
<circle cx="1424.9" cy="180.5" r="1.6" fill="#c63aa0"/>
<circle cx="1428.2" cy="184.2" r="1.6" fill="#e0305e"/>
<circle cx="1424.3" cy="175.8" r="1.6" fill="#d9282b"/>
<circle cx="1431.2" cy="173.3" r="1.6" fill="#d9282b"/>
<circle cx="1420.6" cy="197.1" r="1.6" fill="#e0305e"/>
<circle cx="1421.4" cy="182.7" r="1.6" fill="#dc3a78"/>
<circle cx="1426.4" cy="191.2" r="1.6" fill="#dc3a78"/>
<circle cx="1434.7" cy="183.5" r="1.6" fill="#d9282b"/>
<circle cx="1424.8" cy="193.1" r="1.6" fill="#e0305e"/>
<circle cx="1426.1" cy="179.5" r="1.6" fill="#c63aa0"/>
<circle cx="1432.7" cy="177.6" r="1.6" fill="#d9282b"/>
<circle cx="1427.8" cy="180.7" r="1.6" fill="#e0305e"/>
<circle cx="1416.3" cy="192" r="1.6" fill="#d9282b"/>
<circle cx="1420.6" cy="175.7" r="1.6" fill="#c63aa0"/>
<circle cx="1423.7" cy="190.4" r="1.6" fill="#c63aa0"/>
<circle cx="1421.8" cy="179.9" r="1.6" fill="#d9282b"/>
<circle cx="1432.8" cy="173.9" r="1.6" fill="#d9282b"/>
<circle cx="1430.4" cy="172.1" r="1.6" fill="#dc3a78"/>
<circle cx="1421.8" cy="179.9" r="1.6" fill="#e0305e"/>
<circle cx="1424.7" cy="188.7" r="1.6" fill="#e0305e"/>
<circle cx="1432.6" cy="184.7" r="1.6" fill="#dc3a78"/>
<circle cx="1431.7" cy="186.7" r="1.6" fill="#dc3a78"/>
<circle cx="1424.7" cy="183.9" r="1.6" fill="#d9282b"/>
<circle cx="1423.5" cy="190.2" r="1.6" fill="#e0305e"/>
<circle cx="1418.3" cy="189.8" r="1.6" fill="#dc3a78"/>
<circle cx="1429.8" cy="196.4" r="1.6" fill="#e0305e"/>
<circle cx="1428.4" cy="188.3" r="1.6" fill="#d9282b"/>
<circle cx="1428.9" cy="169.4" r="1.6" fill="#e0305e"/>
<circle cx="1422.1" cy="188.4" r="1.6" fill="#d9282b"/>
<circle cx="1422.3" cy="191.5" r="1.6" fill="#c63aa0"/>
<circle cx="1422" cy="183.9" r="1.6" fill="#e0305e"/>
<circle cx="1426.4" cy="168" r="1.6" fill="#dc3a78"/>
<circle cx="1426.2" cy="186.4" r="1.6" fill="#e0305e"/>
<circle cx="1425.6" cy="170.2" r="1.6" fill="#e0305e"/>
<circle cx="1426.2" cy="190.3" r="1.6" fill="#d9282b"/>
<circle cx="1430.7" cy="188.6" r="1.6" fill="#dc3a78"/>
<circle cx="1422.3" cy="175.4" r="1.6" fill="#e0305e"/>
<circle cx="1432.7" cy="186.1" r="1.6" fill="#e0305e"/>
<circle cx="1423.7" cy="192.4" r="1.6" fill="#dc3a78"/>
<circle cx="1417.3" cy="189.7" r="1.6" fill="#e0305e"/>
<circle cx="1425.2" cy="184.2" r="1.6" fill="#e0305e"/>
<circle cx="1424.4" cy="183.2" r="1.6" fill="#dc3a78"/>
<circle cx="1426" cy="182.6" r="1.6" fill="#e0305e"/>
<circle cx="1416" cy="173.7" r="1.6" fill="#dc3a78"/>
<circle cx="1428.1" cy="173.3" r="1.6" fill="#d9282b"/>
<circle cx="1416.4" cy="177.1" r="1.6" fill="#e0305e"/>
<circle cx="1420.9" cy="189" r="1.6" fill="#d9282b"/>
<circle cx="1425" cy="181.3" r="1.6" fill="#e0305e"/>
<circle cx="1422.5" cy="180.9" r="1.6" fill="#dc3a78"/>
<circle cx="1423.6" cy="177.3" r="1.6" fill="#e0305e"/>
<circle cx="1430.6" cy="205.8" r="1.6" fill="#d9282b"/>
<circle cx="1432.2" cy="182.7" r="1.6" fill="#d9282b"/>
<circle cx="1422.1" cy="179" r="1.6" fill="#e0305e"/>
<circle cx="1429.5" cy="187.5" r="1.6" fill="#c63aa0"/>
<circle cx="285.8" cy="497.5" r="61.6" fill="none" stroke="#3e6fa8" stroke-width="1.8"/>
<circle cx="1069.8" cy="492.8" r="61.5" fill="none" stroke="#3e6fa8" stroke-width="1.8"/>
<line x1="328.6" y1="449.9" x2="538.6" y2="266.4" stroke="#4a72bd" stroke-width="1.4"/>
<polygon points="540.8,270.4 546.1,259.8 534.9,263.7" fill="#4a72bd"/>
<line x1="1113.8" y1="442" x2="1324.6" y2="261.4" stroke="#4a72bd" stroke-width="1.4"/>
<polygon points="1326.8,265.5 1332.2,254.9 1320.9,258.6" fill="#4a72bd"/>
<line x1="128.5" y1="429" x2="129" y2="126.4" stroke="#111" stroke-width="1.1"/>
<polygon points="133.5,127.4 131,118.4 127,118.4 124.5,127.4" fill="#111"/>
<line x1="250" y1="412" x2="337.3" y2="123" stroke="#111" stroke-width="1.1"/>
<polygon points="341.3,125.3 340.5,112.5 332.7,122.7" fill="#111"/>
<line x1="424" y1="456" x2="575.5" y2="513.4" stroke="#111" stroke-width="1.1"/>
<polygon points="573,517.3 585.8,517.3 576.2,508.8" fill="#111"/>
<line x1="271.3" y1="677.5" x2="423.2" y2="756.2" stroke="#111" stroke-width="1.1"/>
<polygon points="420.3,759.8 433,761.3 424.4,751.8" fill="#111"/>
<text x="263.2" y="32.6" font-size="48" text-anchor="start" fill="#000" font-family="Liberation Serif, serif">(a)</text>
<text x="1063.6" y="33.9" font-size="48" text-anchor="start" fill="#000" font-family="Liberation Serif, serif">(b)</text>
<text transform="translate(62.8,109.4) scale(0.276,0.442)" font-size="100" font-family="Liberation Serif, serif">{</text>
<text x="71.8" y="106.7" font-size="31" font-family="Liberation Serif, serif">&#8722;</text>
<text x="89.4" y="106.7" font-size="31" font-family="Liberation Serif, serif">1</text>
<text x="102.3" y="106.7" font-size="31" font-family="Liberation Serif, serif">,</text>
<text x="109.4" y="106.7" font-size="31" font-family="Liberation Serif, serif">&#8722;</text>
<text x="125.2" y="106.7" font-size="31" font-family="Liberation Serif, serif">1</text>
<text x="138.3" y="106.7" font-size="31" font-family="Liberation Serif, serif">,</text>
<text x="144.9" y="106.7" font-size="31" font-family="Liberation Serif, serif">&#8722;</text>
<text x="160.3" y="106.7" font-size="31" font-family="Liberation Serif, serif">1</text>
<text transform="translate(171.8,109.4) scale(0.276,0.442)" font-size="100" font-family="Liberation Serif, serif">}</text>
<text x="181.8" y="106.7" font-size="31" font-family="Liberation Serif, serif" font-style="italic">t</text>
<text transform="translate(297.5,102.7) scale(0.276,0.442)" font-size="100" font-family="Liberation Serif, serif">{</text>
<text x="306.9" y="100" font-size="31" font-family="Liberation Serif, serif">&#8722;</text>
<text x="324.4" y="100" font-size="31" font-family="Liberation Serif, serif">1</text>
<text x="337.3" y="100" font-size="31" font-family="Liberation Serif, serif">,</text>
<text x="343.8" y="100" font-size="31" font-family="Liberation Serif, serif">&#8722;</text>
<text x="359.7" y="100" font-size="31" font-family="Liberation Serif, serif">1</text>
<text x="373" y="100" font-size="31" font-family="Liberation Serif, serif">,</text>
<text x="379.8" y="100" font-size="31" font-family="Liberation Serif, serif">4</text>
<text transform="translate(393.2,102.7) scale(0.276,0.442)" font-size="100" font-family="Liberation Serif, serif">}</text>
<text x="402.7" y="100" font-size="31" font-family="Liberation Serif, serif" font-style="italic">t</text>
<text transform="translate(591.7,531.2) scale(0.276,0.442)" font-size="100" font-family="Liberation Serif, serif">{</text>
<text x="601.1" y="528.5" font-size="31" font-family="Liberation Serif, serif">&#8722;</text>
<text x="618.5" y="528.5" font-size="31" font-family="Liberation Serif, serif">1</text>
<text x="631.8" y="528.5" font-size="31" font-family="Liberation Serif, serif">,</text>
<text x="638.7" y="528.5" font-size="31" font-family="Liberation Serif, serif">4</text>
<text x="653.5" y="528.5" font-size="31" font-family="Liberation Serif, serif">,</text>
<text x="660.3" y="528.5" font-size="31" font-family="Liberation Serif, serif">&#8722;</text>
<text x="676" y="528.5" font-size="31" font-family="Liberation Serif, serif">1</text>
<text transform="translate(687.5,531.2) scale(0.276,0.442)" font-size="100" font-family="Liberation Serif, serif">}</text>
<text x="697.7" y="528.5" font-size="31" font-family="Liberation Serif, serif" font-style="italic">t</text>
<text transform="translate(438.2,793.8) scale(0.276,0.442)" font-size="100" font-family="Liberation Serif, serif">{</text>
<text x="447.6" y="791.1" font-size="31" font-family="Liberation Serif, serif">4</text>
<text x="462.6" y="791.1" font-size="31" font-family="Liberation Serif, serif">,</text>
<text x="469.2" y="791.1" font-size="31" font-family="Liberation Serif, serif">&#8722;</text>
<text x="484.8" y="791.1" font-size="31" font-family="Liberation Serif, serif">1</text>
<text x="498.1" y="791.1" font-size="31" font-family="Liberation Serif, serif">,</text>
<text x="504.6" y="791.1" font-size="31" font-family="Liberation Serif, serif">&#8722;</text>
<text x="520.6" y="791.1" font-size="31" font-family="Liberation Serif, serif">1</text>
<text transform="translate(532,793.8) scale(0.276,0.442)" font-size="100" font-family="Liberation Serif, serif">}</text>
<text x="542.1" y="791.1" font-size="31" font-family="Liberation Serif, serif" font-style="italic">t</text>
<text x="233.9" y="159.3" font-size="31" font-family="Liberation Serif, serif" font-style="italic">i</text>
<text x="247.7" y="159.3" font-size="31" font-family="Liberation Serif, serif">+</text>
<text x="265.8" y="159.3" font-size="31" font-family="Liberation Serif, serif">1</text>
<text x="1021.9" y="159.6" font-size="31" font-family="Liberation Serif, serif" font-style="italic">i</text>
<text x="1035.7" y="159.6" font-size="31" font-family="Liberation Serif, serif">+</text>
<text x="1053.8" y="159.6" font-size="31" font-family="Liberation Serif, serif">1</text>
<text x="561.9" y="669.9" font-size="31" font-family="Liberation Serif, serif" font-style="italic">i</text>
<text x="574.3" y="669.9" font-size="31" font-family="Liberation Serif, serif">+</text>
<text x="596" y="669.9" font-size="31" font-family="Liberation Serif, serif">2</text>
<text x="1344.1" y="669.5" font-size="31" font-family="Liberation Serif, serif" font-style="italic">i</text>
<text x="1357" y="669.5" font-size="31" font-family="Liberation Serif, serif">+</text>
<text x="1377.8" y="669.5" font-size="31" font-family="Liberation Serif, serif">2</text>
<text x="4.1" y="434.6" font-size="29" font-family="Liberation Serif, serif" font-style="italic">i</text>
<text x="793.2" y="434.6" font-size="29" font-family="Liberation Serif, serif" font-style="italic">i</text>
<text x="283" y="849.5" font-size="36.5" font-family="Liberation Serif, serif">&#916;</text>
<text x="306.7" y="859.5" font-size="22" font-style="italic" font-family="Liberation Serif, serif">i</text>
<text transform="translate(1072.3,850.1) scale(1.2,1)" font-size="36.5" font-style="italic" font-family="Liberation Serif, serif">&#948;</text>
<text x="1090" y="861" font-size="22" font-style="italic" font-family="Liberation Serif, serif">i</text>
</svg>
</body></html>
